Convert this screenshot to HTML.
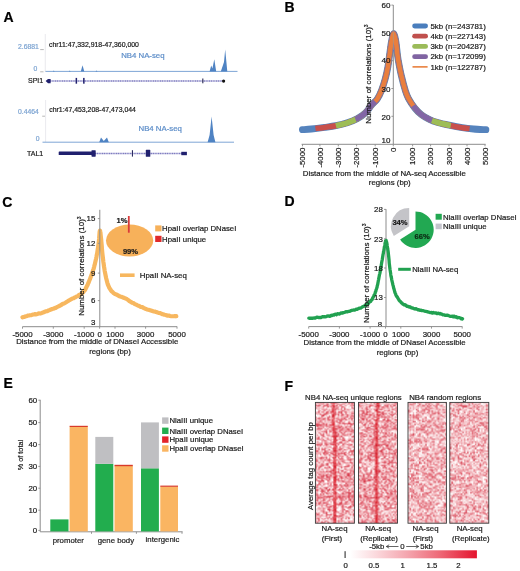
<!DOCTYPE html>
<html><head><meta charset="utf-8"><title>Figure</title>
<style>
html,body{margin:0;padding:0;background:#fff;}
body{width:520px;height:571px;overflow:hidden;}
svg{display:block;font-family:'Liberation Sans', sans-serif;will-change:transform;}
</style></head>
<body>
<svg width="520" height="571" viewBox="0 0 520 571" fill="#1a1a1a">
<rect width="520" height="571" fill="#fff"/>
<text x="3.6" y="21.8" font-size="14" fill="#000" stroke="#000" stroke-width="0.2" font-weight="bold">A</text>
<text x="284.6" y="11.9" font-size="14" fill="#000" stroke="#000" stroke-width="0.2" font-weight="bold">B</text>
<text x="2.2" y="206.6" font-size="14" fill="#000" stroke="#000" stroke-width="0.2" font-weight="bold">C</text>
<text x="284.6" y="206.3" font-size="14" fill="#000" stroke="#000" stroke-width="0.2" font-weight="bold">D</text>
<text x="3.6" y="388.4" font-size="14" fill="#000" stroke="#000" stroke-width="0.2" font-weight="bold">E</text>
<text x="284.4" y="391" font-size="14" fill="#000" stroke="#000" stroke-width="0.2" font-weight="bold">F</text>
<line x1="45.3" y1="34" x2="45.3" y2="72" stroke="#e4e4ea" stroke-width="0.8"/>
<text x="38.8" y="49.2" font-size="6.8" text-anchor="end" fill="#7da4d2" stroke="#7da4d2" stroke-width="0.2">2.6881</text>
<line x1="40.2" y1="49.6" x2="43.8" y2="49.6" stroke="#9a9a9a" stroke-width="0.7"/>
<text x="49" y="46.6" font-size="6.9" stroke="#1a1a1a" stroke-width="0.2">chr11:47,332,918-47,360,000</text>
<text x="121.2" y="58.2" font-size="7.8" fill="#5b8cc8" stroke="#5b8cc8" stroke-width="0.2">NB4 NA-seq</text>
<text x="37.2" y="70.6" font-size="6.8" text-anchor="end" fill="#7da4d2" stroke="#7da4d2" stroke-width="0.2">0</text>
<line x1="40.2" y1="71.8" x2="43.5" y2="71.8" stroke="#9a9a9a" stroke-width="0.7"/>
<line x1="45.5" y1="71.4" x2="237.5" y2="71.4" stroke="#6f9bd0" stroke-width="0.9"/>
<path d="M80.8,71.4 L82.5,65.2 L84.3,71.4 Z" fill="#4f83c3"/>
<path d="M53,71.4 L53.8,70.6 L54.6,71.4 Z" fill="#4f83c3"/>
<path d="M69,71.4 L69.8,70.6 L70.6,71.4 Z" fill="#4f83c3"/>
<path d="M95.5,71.4 L96.5,70.4 L97.5,71.4 Z" fill="#4f83c3"/>
<path d="M209.6,71.4 L211.2,65.6 L212.4,68.6 L214.3,59.2 L216.2,71.4 Z" fill="#4f83c3"/>
<path d="M220.8,71.4 L222.6,66.2 L224,62 L225.2,49.5 L226.4,62 L227.3,71.4 Z" fill="#4f83c3"/>
<text x="43.2" y="83.4" font-size="7.0" text-anchor="end" stroke="#1a1a1a" stroke-width="0.2">SPI1</text>
<line x1="48" y1="81.1" x2="224" y2="81.1" stroke="#7f7cc0" stroke-width="1.5" stroke-dasharray="1.3,0.45"/>
<path d="M45.6,81.1 L48,79 L50.6,79 L50.6,83.2 L48,83.2 Z" fill="#20206e"/>
<rect x="75.6" y="77.9" width="1.5" height="5.8" fill="#20206e"/>
<rect x="83.1" y="77.9" width="1.5" height="5.8" fill="#20206e"/>
<rect x="202.2" y="78.5" width="1.2" height="4.8" fill="#3a3a60"/>
<circle cx="223.6" cy="81.1" r="1.6" fill="#111"/>
<line x1="45.6" y1="100" x2="45.6" y2="142" stroke="#e4e4ea" stroke-width="0.8"/>
<text x="38.8" y="114.2" font-size="6.8" text-anchor="end" fill="#7da4d2" stroke="#7da4d2" stroke-width="0.2">0.4464</text>
<line x1="42.2" y1="116.2" x2="45" y2="116.2" stroke="#9a9a9a" stroke-width="0.7"/>
<text x="49.3" y="111.9" font-size="6.9" stroke="#1a1a1a" stroke-width="0.2">chr1:47,453,208-47,473,044</text>
<text x="138.5" y="130.8" font-size="7.8" fill="#5b8cc8" stroke="#5b8cc8" stroke-width="0.2">NB4 NA-seq</text>
<text x="39.6" y="141.2" font-size="6.8" text-anchor="end" fill="#7da4d2" stroke="#7da4d2" stroke-width="0.2">0</text>
<line x1="42.5" y1="142.2" x2="234" y2="142.2" stroke="#6f9bd0" stroke-width="0.9"/>
<path d="M99.2,142.2 L101,137.4 L103.8,141 L107,137.4 L108.8,142.2 Z" fill="#4f83c3"/>
<path d="M207.6,142.2 L209.6,135 L211.6,116.6 L213.6,135 L215.4,142.2 Z" fill="#4f83c3"/>
<text x="43.2" y="155.8" font-size="7.0" text-anchor="end" stroke="#1a1a1a" stroke-width="0.2">TAL1</text>
<line x1="95" y1="153.4" x2="182" y2="153.4" stroke="#7f7cc0" stroke-width="1.5" stroke-dasharray="1.3,0.45"/>
<rect x="58.7" y="151.5" width="33.5" height="3.6" fill="#20206e" rx="0.6"/>
<rect x="91.5" y="150.2" width="4.2" height="6.5" fill="#20206e" rx="0.6"/>
<rect x="131.9" y="150.2" width="1.1" height="6.4" fill="#2a2a60"/>
<rect x="145.8" y="149.8" width="4.5" height="7" fill="#20206e" rx="0.6"/>
<rect x="181.3" y="151.8" width="5.6" height="3.4" fill="#20206e"/>
<line x1="393.3" y1="5" x2="393.3" y2="144.3" stroke="#8c8c8c" stroke-width="1"/>
<line x1="391.4" y1="5.1" x2="393.3" y2="5.1" stroke="#8c8c8c" stroke-width="0.9"/>
<line x1="391.4" y1="32.9" x2="393.3" y2="32.9" stroke="#8c8c8c" stroke-width="0.9"/>
<line x1="391.4" y1="60.7" x2="393.3" y2="60.7" stroke="#8c8c8c" stroke-width="0.9"/>
<line x1="391.4" y1="88.5" x2="393.3" y2="88.5" stroke="#8c8c8c" stroke-width="0.9"/>
<line x1="391.4" y1="116.3" x2="393.3" y2="116.3" stroke="#8c8c8c" stroke-width="0.9"/>
<line x1="301.6" y1="144.3" x2="485.6" y2="144.3" stroke="#8c8c8c" stroke-width="1"/>
<line x1="302.5" y1="144.3" x2="302.5" y2="146.3" stroke="#8c8c8c" stroke-width="0.9"/>
<text x="305.2" y="147.6" font-size="7.8" text-anchor="end" stroke="#1a1a1a" stroke-width="0.2" transform="rotate(-90 305.2 147.6)">-5000</text>
<line x1="319.9" y1="144.3" x2="319.9" y2="146.3" stroke="#8c8c8c" stroke-width="0.9"/>
<text x="322.6" y="147.6" font-size="7.8" text-anchor="end" stroke="#1a1a1a" stroke-width="0.2" transform="rotate(-90 322.6 147.6)">-4000</text>
<line x1="338.3" y1="144.3" x2="338.3" y2="146.3" stroke="#8c8c8c" stroke-width="0.9"/>
<text x="341" y="147.6" font-size="7.8" text-anchor="end" stroke="#1a1a1a" stroke-width="0.2" transform="rotate(-90 341 147.6)">-3000</text>
<line x1="356.6" y1="144.3" x2="356.6" y2="146.3" stroke="#8c8c8c" stroke-width="0.9"/>
<text x="359.3" y="147.6" font-size="7.8" text-anchor="end" stroke="#1a1a1a" stroke-width="0.2" transform="rotate(-90 359.3 147.6)">-2000</text>
<line x1="375.2" y1="144.3" x2="375.2" y2="146.3" stroke="#8c8c8c" stroke-width="0.9"/>
<text x="377.9" y="147.6" font-size="7.8" text-anchor="end" stroke="#1a1a1a" stroke-width="0.2" transform="rotate(-90 377.9 147.6)">-1000</text>
<line x1="393.3" y1="144.3" x2="393.3" y2="146.3" stroke="#8c8c8c" stroke-width="0.9"/>
<text x="396" y="147.6" font-size="7.8" text-anchor="end" stroke="#1a1a1a" stroke-width="0.2" transform="rotate(-90 396 147.6)">0</text>
<line x1="412.6" y1="144.3" x2="412.6" y2="146.3" stroke="#8c8c8c" stroke-width="0.9"/>
<text x="415.3" y="147.6" font-size="7.8" text-anchor="end" stroke="#1a1a1a" stroke-width="0.2" transform="rotate(-90 415.3 147.6)">1000</text>
<line x1="430.6" y1="144.3" x2="430.6" y2="146.3" stroke="#8c8c8c" stroke-width="0.9"/>
<text x="433.3" y="147.6" font-size="7.8" text-anchor="end" stroke="#1a1a1a" stroke-width="0.2" transform="rotate(-90 433.3 147.6)">2000</text>
<line x1="449" y1="144.3" x2="449" y2="146.3" stroke="#8c8c8c" stroke-width="0.9"/>
<text x="451.7" y="147.6" font-size="7.8" text-anchor="end" stroke="#1a1a1a" stroke-width="0.2" transform="rotate(-90 451.7 147.6)">3000</text>
<line x1="467" y1="144.3" x2="467" y2="146.3" stroke="#8c8c8c" stroke-width="0.9"/>
<text x="469.7" y="147.6" font-size="7.8" text-anchor="end" stroke="#1a1a1a" stroke-width="0.2" transform="rotate(-90 469.7 147.6)">4000</text>
<line x1="485" y1="144.3" x2="485" y2="146.3" stroke="#8c8c8c" stroke-width="0.9"/>
<text x="487.7" y="147.6" font-size="7.8" text-anchor="end" stroke="#1a1a1a" stroke-width="0.2" transform="rotate(-90 487.7 147.6)">5000</text>
<text x="384.3" y="175.6" font-size="7.85" text-anchor="middle" stroke="#1a1a1a" stroke-width="0.2">Distance from the middle of NA-seq Accessible</text>
<text x="389.8" y="185.4" font-size="7.85" text-anchor="middle" stroke="#1a1a1a" stroke-width="0.2">regions (bp)</text>
<path d="M302.4,129.7 C303.88,129.58 307.63,129.38 311.3,129 C314.97,128.62 320.3,127.95 324.4,127.4 C328.5,126.85 332.08,126.47 335.9,125.7 C339.72,124.93 343.77,123.97 347.3,122.8 C350.83,121.63 354.1,120.33 357.1,118.7 C360.1,117.07 362.85,115.32 365.3,113 C367.75,110.68 369.82,107.12 371.8,104.8 C373.78,102.48 375.58,101.5 377.2,99.1 C378.82,96.7 380.15,93.82 381.5,90.4 C382.85,86.98 384.23,82.53 385.3,78.6 C386.37,74.67 387.18,70.82 387.9,66.8 C388.62,62.78 389,58.72 389.6,54.5 C390.2,50.28 390.82,44.98 391.5,41.5 C392.18,38.02 392.97,33.6 393.7,33.6 C394.43,33.6 395.3,38.18 395.9,41.5 C396.5,44.82 396.88,50.25 397.3,53.5 C397.72,56.75 397.73,57.35 398.4,61 C399.07,64.65 400.13,70.43 401.3,75.4 C402.47,80.37 404.22,86.98 405.4,90.8 C406.58,94.62 406.83,95.42 408.4,98.3 C409.97,101.18 412.65,105.38 414.8,108.1 C416.95,110.82 418.85,112.7 421.3,114.6 C423.75,116.5 426.77,118.18 429.5,119.5 C432.23,120.82 434.43,121.55 437.7,122.5 C440.97,123.45 445.02,124.33 449.1,125.2 C453.18,126.07 458.12,127.07 462.2,127.7 C466.28,128.33 469.65,128.67 473.6,129 C477.55,129.33 483.85,129.58 485.9,129.7" fill="none" stroke="#5583bd" stroke-width="6.8" stroke-linecap="round" stroke-linejoin="round"/>
<path d="M315.4,128.5 C316.9,128.32 320.98,127.87 324.4,127.4 C327.82,126.93 332.08,126.47 335.9,125.7 C339.72,124.93 343.77,123.97 347.3,122.8 C350.83,121.63 354.1,120.33 357.1,118.7 C360.1,117.07 362.85,115.32 365.3,113 C367.75,110.68 369.82,107.12 371.8,104.8 C373.78,102.48 375.58,101.5 377.2,99.1 C378.82,96.7 380.15,93.82 381.5,90.4 C382.85,86.98 384.23,82.53 385.3,78.6 C386.37,74.67 387.18,70.82 387.9,66.8 C388.62,62.78 389,58.72 389.6,54.5 C390.2,50.28 390.82,44.98 391.5,41.5 C392.18,38.02 392.97,33.6 393.7,33.6 C394.43,33.6 395.3,38.18 395.9,41.5 C396.5,44.82 396.88,50.25 397.3,53.5 C397.72,56.75 397.73,57.35 398.4,61 C399.07,64.65 400.13,70.43 401.3,75.4 C402.47,80.37 404.22,86.98 405.4,90.8 C406.58,94.62 406.83,95.42 408.4,98.3 C409.97,101.18 412.65,105.38 414.8,108.1 C416.95,110.82 418.85,112.7 421.3,114.6 C423.75,116.5 426.77,118.18 429.5,119.5 C432.23,120.82 434.43,121.55 437.7,122.5 C440.97,123.45 445.02,124.33 449.1,125.2 C453.18,126.07 458.78,127.14 462.2,127.7 C465.62,128.26 468.37,128.4 469.6,128.54" fill="none" stroke="#c8504c" stroke-width="5.6" stroke-linecap="butt"/>
<path d="M335.9,125.7 C337.8,125.22 343.77,123.97 347.3,122.8 C350.83,121.63 354.1,120.33 357.1,118.7 C360.1,117.07 362.85,115.32 365.3,113 C367.75,110.68 369.82,107.12 371.8,104.8 C373.78,102.48 375.58,101.5 377.2,99.1 C378.82,96.7 380.15,93.82 381.5,90.4 C382.85,86.98 384.23,82.53 385.3,78.6 C386.37,74.67 387.18,70.82 387.9,66.8 C388.62,62.78 389,58.72 389.6,54.5 C390.2,50.28 390.82,44.98 391.5,41.5 C392.18,38.02 392.97,33.6 393.7,33.6 C394.43,33.6 395.3,38.18 395.9,41.5 C396.5,44.82 396.88,50.25 397.3,53.5 C397.72,56.75 397.73,57.35 398.4,61 C399.07,64.65 400.13,70.43 401.3,75.4 C402.47,80.37 404.22,86.98 405.4,90.8 C406.58,94.62 406.83,95.42 408.4,98.3 C409.97,101.18 412.65,105.38 414.8,108.1 C416.95,110.82 418.85,112.7 421.3,114.6 C423.75,116.5 426.77,118.18 429.5,119.5 C432.23,120.82 434.43,121.55 437.7,122.5 C440.97,123.45 446.92,124.7 449.1,125.2 C451.28,125.7 450.52,125.47 450.8,125.52" fill="none" stroke="#9dbd56" stroke-width="5.6" stroke-linecap="butt"/>
<path d="M355.5,119.37 C355.77,119.26 355.47,119.76 357.1,118.7 C358.73,117.64 362.85,115.32 365.3,113 C367.75,110.68 369.82,107.12 371.8,104.8 C373.78,102.48 375.58,101.5 377.2,99.1 C378.82,96.7 380.15,93.82 381.5,90.4 C382.85,86.98 384.23,82.53 385.3,78.6 C386.37,74.67 387.18,70.82 387.9,66.8 C388.62,62.78 389,58.72 389.6,54.5 C390.2,50.28 390.82,44.98 391.5,41.5 C392.18,38.02 392.97,33.6 393.7,33.6 C394.43,33.6 395.3,38.18 395.9,41.5 C396.5,44.82 396.88,50.25 397.3,53.5 C397.72,56.75 397.73,57.35 398.4,61 C399.07,64.65 400.13,70.43 401.3,75.4 C402.47,80.37 404.22,86.98 405.4,90.8 C406.58,94.62 406.83,95.42 408.4,98.3 C409.97,101.18 412.65,105.38 414.8,108.1 C416.95,110.82 418.85,112.7 421.3,114.6 C423.75,116.5 427.72,118.53 429.5,119.5 C431.28,120.47 431.58,120.26 432,120.41" fill="none" stroke="#8266a6" stroke-width="5.6" stroke-linecap="butt"/>
<path d="M375,101.42 C375.37,101.04 376.12,100.94 377.2,99.1 C378.28,97.26 380.15,93.82 381.5,90.4 C382.85,86.98 384.23,82.53 385.3,78.6 C386.37,74.67 387.18,70.82 387.9,66.8 C388.62,62.78 389,58.72 389.6,54.5 C390.2,50.28 390.82,44.98 391.5,41.5 C392.18,38.02 392.97,33.6 393.7,33.6 C394.43,33.6 395.3,38.18 395.9,41.5 C396.5,44.82 396.88,50.25 397.3,53.5 C397.72,56.75 397.73,57.35 398.4,61 C399.07,64.65 400.13,70.43 401.3,75.4 C402.47,80.37 404.22,86.98 405.4,90.8 C406.58,94.62 407.1,95.83 408.4,98.3 C409.7,100.77 412.4,104.42 413.2,105.65" fill="none" stroke="#e97f3e" stroke-width="4.5" stroke-linecap="butt" stroke-linejoin="round"/>
<line x1="393.4" y1="30" x2="393.4" y2="50" stroke="#a09a90" stroke-width="0.6"/>
<text x="390.4" y="8.1" font-size="8.0" text-anchor="end" stroke="#1a1a1a" stroke-width="0.2">60</text>
<text x="390.4" y="36" font-size="8.0" text-anchor="end" stroke="#1a1a1a" stroke-width="0.2">50</text>
<text x="390.4" y="63.2" font-size="8.0" text-anchor="end" stroke="#1a1a1a" stroke-width="0.2">40</text>
<text x="390.4" y="91.6" font-size="8.0" text-anchor="end" stroke="#1a1a1a" stroke-width="0.2">30</text>
<text x="390.4" y="119.5" font-size="8.0" text-anchor="end" stroke="#1a1a1a" stroke-width="0.2">20</text>
<text x="390.4" y="142.8" font-size="8.0" text-anchor="end" stroke="#1a1a1a" stroke-width="0.2">10</text>
<text transform="translate(371.3,123.8) rotate(-90)" font-size="7.95" stroke="#1a1a1a" stroke-width="0.2">Number of correlations (10)<tspan font-size="5" dy="-3">3</tspan></text>
<line x1="414.6" y1="26" x2="425.6" y2="26" stroke="#4a7ebd" stroke-width="4.8" stroke-linecap="round"/>
<text x="430.4" y="28.8" font-size="7.88" stroke="#1a1a1a" stroke-width="0.2">5kb (n=243781)</text>
<line x1="414.6" y1="36.22" x2="425.6" y2="36.22" stroke="#c0504d" stroke-width="4.8" stroke-linecap="round"/>
<text x="430.4" y="39.02" font-size="7.88" stroke="#1a1a1a" stroke-width="0.2">4kb (n=227143)</text>
<line x1="414.6" y1="46.44" x2="425.6" y2="46.44" stroke="#9bbb59" stroke-width="4.8" stroke-linecap="round"/>
<text x="430.4" y="49.24" font-size="7.88" stroke="#1a1a1a" stroke-width="0.2">3kb (n=204287)</text>
<line x1="414.6" y1="56.66" x2="425.6" y2="56.66" stroke="#8064a2" stroke-width="4.8" stroke-linecap="round"/>
<text x="430.4" y="59.46" font-size="7.88" stroke="#1a1a1a" stroke-width="0.2">2kb (n=172099)</text>
<line x1="412.5" y1="66.88" x2="427.6" y2="66.88" stroke="#e9803e" stroke-width="1.6"/>
<text x="430.4" y="69.68" font-size="7.88" stroke="#1a1a1a" stroke-width="0.2">1kb (n=122787)</text>
<path d="M22.5,317.3 L23,317.13 L23.64,316.99 L24.39,316.93 L25.25,316.45 L26.18,316.19 L27.16,315.96 L28.18,315.49 L29.2,315.41 L30.26,315.24 L31.39,315.12 L32.58,314.57 L33.81,314.47 L35.07,314.15 L36.32,314.29 L37.58,313.98 L38.8,313.37 L40.01,313.53 L41.22,313.19 L42.44,312.68 L43.66,312.3 L44.87,311.68 L46.09,311.21 L47.3,311.05 L48.5,310.38 L49.7,310 L50.88,309.57 L52.07,309 L53.25,308.73 L54.43,308.22 L55.62,307.89 L56.8,307.18 L58,306.67 L59.21,305.99 L60.43,305.41 L61.66,304.63 L62.89,303.83 L64.11,303.48 L65.33,302.78 L66.52,302.02 L67.7,301.3 L68.87,300.48 L70.06,299.81 L71.25,299.21 L72.42,298.5 L73.55,298.26 L74.64,297.5 L75.66,297.18 L76.6,296.44 L77.46,296.26 L78.24,295.79 L78.96,294.99 L79.64,294.73 L80.27,294.72 L80.87,294.13 L81.44,293.98 L82,293.25 L82.53,292.62 L83.01,292.44 L83.45,292.05 L83.87,291.3 L84.27,290.69 L84.67,290.24 L85.08,289.93 L85.5,289.13 L85.93,288.05 L86.36,287.32 L86.78,286.4 L87.21,285.48 L87.64,284.89 L88.08,283.57 L88.53,282.68 L89,281.47 L89.5,280.11 L90.02,279.07 L90.56,277.38 L91.11,276.19 L91.66,274.44 L92.2,273.06 L92.71,271.41 L93.2,269.88 L93.66,268.66 L94.11,266.96 L94.55,265.07 L94.97,263.69 L95.38,261.65 L95.77,260.03 L96.14,258.52 L96.5,256.67 L96.84,254.61 L97.17,253.2 L97.49,250.93 L97.79,249.05 L98.07,247.43 L98.33,245.37 L98.58,243.58 L98.8,241.79 L98.99,240.07 L99.15,238.48 L99.29,236.45 L99.41,234.85 L99.53,233.15 L99.64,231.89 L99.76,231.24 L99.9,230.59 L100.05,230.76 L100.2,231.49 L100.36,232.1 L100.52,233.33 L100.68,235.19 L100.85,236.77 L101.02,238.18 L101.2,239.84 L101.38,241.9 L101.56,243.99 L101.73,245.76 L101.92,248.38 L102.11,250.66 L102.32,252.84 L102.55,255.04 L102.8,257.1 L103.07,259.27 L103.36,261.98 L103.67,263.89 L103.99,266.38 L104.32,268.37 L104.67,270.8 L105.03,272.73 L105.4,274.5 L105.77,276.24 L106.15,278.23 L106.54,279.54 L106.94,281.18 L107.36,282.82 L107.8,284.35 L108.28,285.54 L108.8,286.59 L109.33,288.02 L109.85,288.66 L110.39,289.46 L110.96,290.4 L111.59,291.25 L112.29,291.78 L113.09,292.54 L114,293.33 L115.05,294.1 L116.23,294.48 L117.52,295.15 L118.88,295.94 L120.27,296.5 L121.68,296.88 L123.06,297.47 L124.4,298.04 L125.69,298.51 L126.96,299.19 L128.22,299.94 L129.49,301.17 L130.77,301.85 L132.07,302.75 L133.41,303.04 L134.8,304.07 L136.24,304.69 L137.73,305.51 L139.25,305.99 L140.8,307 L142.36,307.19 L143.92,308.05 L145.47,308.75 L147,309.4 L148.53,309.85 L150.09,310.33 L151.66,310.85 L153.22,311.36 L154.75,311.5 L156.24,312.09 L157.66,312.6 L159,312.99 L160.25,313.16 L161.41,313.75 L162.51,314.19 L163.56,314.42 L164.59,314.81 L165.61,315.01 L166.64,315.4 L167.7,315.65 L168.84,315.57 L170.06,315.99 L171.31,316.26 L172.54,316.26 L173.71,316.23 L174.76,316.09 L175.64,316.29 L176.3,316.2" fill="none" stroke="#f7b75f" stroke-width="4.2" stroke-linecap="round" stroke-linejoin="round"/>
<line x1="99.8" y1="209.8" x2="99.8" y2="326.8" stroke="#8c8c8c" stroke-width="1"/>
<line x1="97.8" y1="218.6" x2="99.8" y2="218.6" stroke="#8c8c8c" stroke-width="0.9"/>
<text x="95.4" y="221.4" font-size="7.9" text-anchor="end" stroke="#1a1a1a" stroke-width="0.2">15</text>
<line x1="97.8" y1="243.3" x2="99.8" y2="243.3" stroke="#8c8c8c" stroke-width="0.9"/>
<text x="95.4" y="246.1" font-size="7.9" text-anchor="end" stroke="#1a1a1a" stroke-width="0.2">12</text>
<line x1="97.8" y1="273.1" x2="99.8" y2="273.1" stroke="#8c8c8c" stroke-width="0.9"/>
<text x="95.4" y="275.9" font-size="7.9" text-anchor="end" stroke="#1a1a1a" stroke-width="0.2">9</text>
<line x1="97.8" y1="300.6" x2="99.8" y2="300.6" stroke="#8c8c8c" stroke-width="0.9"/>
<text x="95.4" y="303.4" font-size="7.9" text-anchor="end" stroke="#1a1a1a" stroke-width="0.2">6</text>
<text x="95.4" y="325.4" font-size="7.9" text-anchor="end" stroke="#1a1a1a" stroke-width="0.2">3</text>
<line x1="22.5" y1="326.7" x2="177.2" y2="326.7" stroke="#8c8c8c" stroke-width="1"/>
<line x1="22.5" y1="326.7" x2="22.5" y2="328.7" stroke="#8c8c8c" stroke-width="0.9"/>
<text x="22.5" y="337" font-size="7.9" text-anchor="middle" stroke="#1a1a1a" stroke-width="0.2">-5000</text>
<line x1="53.3" y1="326.7" x2="53.3" y2="328.7" stroke="#8c8c8c" stroke-width="0.9"/>
<text x="53.3" y="337" font-size="7.9" text-anchor="middle" stroke="#1a1a1a" stroke-width="0.2">-3000</text>
<line x1="84.2" y1="326.7" x2="84.2" y2="328.7" stroke="#8c8c8c" stroke-width="0.9"/>
<text x="84.2" y="337" font-size="7.9" text-anchor="middle" stroke="#1a1a1a" stroke-width="0.2">-1000</text>
<line x1="99.6" y1="326.7" x2="99.6" y2="328.7" stroke="#8c8c8c" stroke-width="0.9"/>
<text x="99.6" y="337" font-size="7.9" text-anchor="middle" stroke="#1a1a1a" stroke-width="0.2">0</text>
<line x1="115" y1="326.7" x2="115" y2="328.7" stroke="#8c8c8c" stroke-width="0.9"/>
<text x="115" y="337" font-size="7.9" text-anchor="middle" stroke="#1a1a1a" stroke-width="0.2">1000</text>
<line x1="145.6" y1="326.7" x2="145.6" y2="328.7" stroke="#8c8c8c" stroke-width="0.9"/>
<text x="145.6" y="337" font-size="7.9" text-anchor="middle" stroke="#1a1a1a" stroke-width="0.2">3000</text>
<line x1="177" y1="326.7" x2="177" y2="328.7" stroke="#8c8c8c" stroke-width="0.9"/>
<text x="177" y="337" font-size="7.9" text-anchor="middle" stroke="#1a1a1a" stroke-width="0.2">5000</text>
<text x="97.2" y="344" font-size="7.8" text-anchor="middle" stroke="#1a1a1a" stroke-width="0.2">Distance from the middle of DNaseI Accessible</text>
<text x="110" y="353.6" font-size="7.8" text-anchor="middle" stroke="#1a1a1a" stroke-width="0.2">regions (bp)</text>
<text transform="translate(84.4,315.8) rotate(-90)" font-size="7.95" stroke="#1a1a1a" stroke-width="0.2">Number of correlations (10)<tspan font-size="5" dy="-3">3</tspan></text>
<ellipse cx="129.6" cy="240.5" rx="23.6" ry="15.9" fill="#f7b15a"/>
<line x1="128.8" y1="216" x2="128.8" y2="232.7" stroke="#d93a3a" stroke-width="1.8"/>
<text x="116.6" y="223.1" font-size="7.6" stroke="#1a1a1a" stroke-width="0.2" font-weight="bold">1%</text>
<text x="122.9" y="253.6" font-size="7.6" stroke="#1a1a1a" stroke-width="0.2" font-weight="bold">99%</text>
<rect x="155.2" y="225.4" width="6.3" height="6" fill="#f7b15a"/>
<rect x="155.2" y="235.8" width="6.3" height="6.2" fill="#e02a2a"/>
<text x="162.1" y="231.3" font-size="7.78" stroke="#1a1a1a" stroke-width="0.2">HpaII overlap DNaseI</text>
<text x="162.1" y="241.8" font-size="7.78" stroke="#1a1a1a" stroke-width="0.2">HpaII unique</text>
<line x1="120" y1="275.2" x2="134.6" y2="275.2" stroke="#f7b75f" stroke-width="3.6"/>
<text x="139.8" y="277.9" font-size="7.84" stroke="#1a1a1a" stroke-width="0.2">HpaII NA-seq</text>
<line x1="386" y1="209.1" x2="386" y2="327" stroke="#8c8c8c" stroke-width="1"/>
<path d="M308.8,318.2 L309.52,318.25 L310.48,318.27 L311.62,318.22 L312.89,318.25 L314.22,317.95 L315.55,318 L316.83,317.08 L318,317.37 L319.08,317.7 L320.15,317.35 L321.21,317.49 L322.25,316.69 L323.27,316.92 L324.27,316.61 L325.25,316.77 L326.2,316.67 L327.12,316.02 L327.99,316.05 L328.84,315.94 L329.67,316.34 L330.5,316.02 L331.32,315.29 L332.15,315.67 L333,314.87 L333.85,315.1 L334.68,314.46 L335.51,314.13 L336.35,314.7 L337.21,313.88 L338.09,313.65 L339.02,314.09 L340,313.74 L341.07,312.93 L342.22,313.22 L343.44,312.52 L344.67,312.31 L345.9,311.56 L347.09,311.91 L348.2,311.41 L349.2,311.42 L350.07,311.18 L350.82,310.53 L351.49,310.52 L352.12,310.28 L352.75,310.19 L353.42,310.02 L354.15,310.07 L355,310.09 L355.98,309.22 L357.09,309.42 L358.26,308.65 L359.47,308.12 L360.67,308.06 L361.82,307.24 L362.88,306.6 L363.8,306.28 L364.6,306.05 L365.3,305.04 L365.94,305.45 L366.51,304.18 L367.04,304.42 L367.54,304.1 L368.02,302.96 L368.5,303.26 L368.96,302.51 L369.37,302.36 L369.75,301.52 L370.11,301.23 L370.45,301.01 L370.79,301.33 L371.14,300.22 L371.5,300.23 L371.88,299.83 L372.26,299.25 L372.65,298.07 L373.03,297.4 L373.41,296.84 L373.79,296.32 L374.15,294.95 L374.5,294.72 L374.84,293.96 L375.16,293.19 L375.47,291.61 L375.78,291.56 L376.08,289.86 L376.39,289.09 L376.69,288.27 L377,287.38 L377.31,285.58 L377.63,284.72 L377.95,282.91 L378.26,281.17 L378.58,279.61 L378.89,277.89 L379.2,276.2 L379.5,274.68 L379.8,273.58 L380.1,272.23 L380.39,269.83 L380.68,268.06 L380.97,267.25 L381.25,265.2 L381.53,263.48 L381.8,261.76 L382.06,260.56 L382.32,259.28 L382.57,257.47 L382.81,255.99 L383.06,254.23 L383.3,253.6 L383.55,251.43 L383.8,250.49 L384.06,249.36 L384.32,247.12 L384.58,246.01 L384.84,244.62 L385.11,242.91 L385.37,241.9 L385.64,240.53 L385.9,240.54 L386.16,240.51 L386.43,241.78 L386.69,242.28 L386.96,243.71 L387.22,245.71 L387.48,247.25 L387.74,249.12 L388,250.46 L388.25,252.46 L388.5,254.95 L388.62,255.95 L388.74,257.02 L388.87,258.41 L388.99,259.46 L389.11,260.97 L389.23,262.82 L389.36,264.06 L389.48,265.02 L389.74,267.28 L390,269.25 L390.27,270.92 L390.54,272.83 L390.81,274.91 L391.09,276.52 L391.38,277.54 L391.68,279.37 L391.98,280.79 L392.3,282.18 L392.63,283.63 L392.97,285.21 L393.33,286.33 L393.69,288.08 L394.06,289.1 L394.43,290.61 L394.81,292.11 L395.2,293.17 L395.6,293.84 L396,295.35 L396.42,295.93 L396.84,296.65 L397.27,296.85 L397.69,298 L398.1,298.37 L398.5,299.35 L398.89,299.73 L399.26,300.56 L399.62,300.86 L399.99,301.41 L400.35,301.38 L400.72,302.02 L401.1,302.46 L401.5,302.9 L401.9,302.81 L402.3,303.58 L402.69,303.91 L403.1,304.04 L403.53,304.59 L403.98,304.85 L404.47,304.73 L405,305.03 L405.59,304.99 L406.24,305.88 L406.92,306.26 L407.63,306.13 L408.35,306.6 L409.06,306.89 L409.75,307.16 L410.4,306.9 L411,307.68 L411.57,307.71 L412.12,307.99 L412.66,307.96 L413.21,308.33 L413.77,308.65 L414.36,308.72 L415,309 L415.68,308.58 L416.39,308.92 L417.13,309.39 L417.88,309.79 L418.65,309.62 L419.43,310.25 L420.22,310.41 L421,310.09 L421.79,310.67 L422.59,310.65 L423.4,310.7 L424.22,310.96 L425.04,311.32 L425.86,311.38 L426.68,311.56 L427.5,311.58 L428.32,312.12 L429.14,312.18 L429.96,312.52 L430.78,312.62 L431.6,312.43 L432.41,313.14 L433.21,312.44 L434,312.91 L434.77,312.91 L435.54,313.12 L436.29,312.94 L437.03,313.67 L437.77,313.35 L438.51,313.14 L439.25,313.77 L440,313.44 L440.75,313.99 L441.49,313.97 L442.23,314.37 L442.97,314.89 L443.71,314.96 L444.46,314.78 L445.23,315.32 L446,315.33 L446.8,315.23 L447.62,315.17 L448.47,315.72 L449.31,315.83 L450.15,316.31 L450.97,316.45 L451.76,316.26 L452.5,316.17 L453.2,316.79 L453.86,316.12 L454.48,316.35 L455.09,316.89 L455.69,317.07 L456.29,316.78 L456.89,317.36 L457.5,317.75 L458.16,317.46 L458.87,317.7 L459.59,317.72 L460.31,317.98 L460.99,318.79 L461.6,318.43 L462.11,319.1 L462.5,318.8" fill="none" stroke="#21a150" stroke-width="3.3" stroke-linecap="round" stroke-linejoin="round"/>
<line x1="384" y1="209.4" x2="386" y2="209.4" stroke="#8c8c8c" stroke-width="0.9"/>
<text x="382.8" y="212.2" font-size="7.9" text-anchor="end" stroke="#1a1a1a" stroke-width="0.2">28</text>
<line x1="384" y1="238.8" x2="386" y2="238.8" stroke="#8c8c8c" stroke-width="0.9"/>
<text x="382.8" y="241.6" font-size="7.9" text-anchor="end" stroke="#1a1a1a" stroke-width="0.2">23</text>
<line x1="384" y1="268" x2="386" y2="268" stroke="#8c8c8c" stroke-width="0.9"/>
<text x="382.8" y="270.8" font-size="7.9" text-anchor="end" stroke="#1a1a1a" stroke-width="0.2">18</text>
<line x1="384" y1="297.5" x2="386" y2="297.5" stroke="#8c8c8c" stroke-width="0.9"/>
<text x="382.8" y="300.3" font-size="7.9" text-anchor="end" stroke="#1a1a1a" stroke-width="0.2">13</text>
<text x="382.2" y="326.6" font-size="7.9" text-anchor="end" stroke="#1a1a1a" stroke-width="0.2">8</text>
<line x1="308.7" y1="326.6" x2="462.4" y2="326.6" stroke="#8c8c8c" stroke-width="1"/>
<line x1="308.7" y1="326.6" x2="308.7" y2="328.6" stroke="#8c8c8c" stroke-width="0.9"/>
<text x="308.7" y="337" font-size="7.9" text-anchor="middle" stroke="#1a1a1a" stroke-width="0.2">-5000</text>
<line x1="339.4" y1="326.6" x2="339.4" y2="328.6" stroke="#8c8c8c" stroke-width="0.9"/>
<text x="339.4" y="337" font-size="7.9" text-anchor="middle" stroke="#1a1a1a" stroke-width="0.2">-3000</text>
<line x1="370.1" y1="326.6" x2="370.1" y2="328.6" stroke="#8c8c8c" stroke-width="0.9"/>
<text x="370.1" y="337" font-size="7.9" text-anchor="middle" stroke="#1a1a1a" stroke-width="0.2">-1000</text>
<line x1="385.5" y1="326.6" x2="385.5" y2="328.6" stroke="#8c8c8c" stroke-width="0.9"/>
<text x="385.5" y="337" font-size="7.9" text-anchor="middle" stroke="#1a1a1a" stroke-width="0.2">0</text>
<line x1="400.8" y1="326.6" x2="400.8" y2="328.6" stroke="#8c8c8c" stroke-width="0.9"/>
<text x="400.8" y="337" font-size="7.9" text-anchor="middle" stroke="#1a1a1a" stroke-width="0.2">1000</text>
<line x1="431.5" y1="326.6" x2="431.5" y2="328.6" stroke="#8c8c8c" stroke-width="0.9"/>
<text x="431.5" y="337" font-size="7.9" text-anchor="middle" stroke="#1a1a1a" stroke-width="0.2">3000</text>
<line x1="462.2" y1="326.6" x2="462.2" y2="328.6" stroke="#8c8c8c" stroke-width="0.9"/>
<text x="462.2" y="337" font-size="7.9" text-anchor="middle" stroke="#1a1a1a" stroke-width="0.2">5000</text>
<text x="384.6" y="345.4" font-size="7.8" text-anchor="middle" stroke="#1a1a1a" stroke-width="0.2">Distance from the middle of DNaseI Accessible</text>
<text x="397.5" y="355" font-size="7.8" text-anchor="middle" stroke="#1a1a1a" stroke-width="0.2">regions (bp)</text>
<text transform="translate(369.4,322.9) rotate(-90)" font-size="7.95" stroke="#1a1a1a" stroke-width="0.2">Number of correlations (10)<tspan font-size="5" dy="-3">3</tspan></text>
<path d="M415.5,229.7 L415.5,211.5 A18.2,18.2 0 1 1 400.13,239.45 Z" fill="#22a852"/>
<path d="M409.19,226.23 L393.82,235.98 A18.2,18.2 0 0 1 409.19,208.03 Z" fill="#c4c4c8"/>
<text x="392.4" y="224.6" font-size="7.6" stroke="#1a1a1a" stroke-width="0.2" font-weight="bold">34%</text>
<text x="414.6" y="238.8" font-size="7.6" fill="#0c2a14" stroke="#0c2a14" stroke-width="0.2" font-weight="bold">66%</text>
<rect x="435.6" y="213.8" width="6.2" height="5.9" fill="#22a852"/>
<rect x="435.6" y="223.6" width="6.2" height="5.6" fill="#c4c4cc"/>
<text x="443" y="219.6" font-size="7.75" stroke="#1a1a1a" stroke-width="0.2">NlaIII overlap DNaseI</text>
<text x="443" y="229.1" font-size="7.75" stroke="#1a1a1a" stroke-width="0.2">NlaIII unique</text>
<line x1="398.2" y1="269.3" x2="410.8" y2="269.3" stroke="#21a150" stroke-width="3.0"/>
<text x="412.3" y="272.3" font-size="7.72" stroke="#1a1a1a" stroke-width="0.2">NlaIII NA-seq</text>
<line x1="40.2" y1="399.8" x2="40.2" y2="531.8" stroke="#8c8c8c" stroke-width="1"/>
<line x1="38.3" y1="400.2" x2="40.2" y2="400.2" stroke="#8c8c8c" stroke-width="0.9"/>
<text x="37.2" y="403" font-size="7.9" text-anchor="end" stroke="#1a1a1a" stroke-width="0.2">60</text>
<line x1="38.3" y1="422.6" x2="40.2" y2="422.6" stroke="#8c8c8c" stroke-width="0.9"/>
<text x="37.2" y="425.4" font-size="7.9" text-anchor="end" stroke="#1a1a1a" stroke-width="0.2">50</text>
<line x1="38.3" y1="444.6" x2="40.2" y2="444.6" stroke="#8c8c8c" stroke-width="0.9"/>
<text x="37.2" y="447.4" font-size="7.9" text-anchor="end" stroke="#1a1a1a" stroke-width="0.2">40</text>
<line x1="38.3" y1="466.4" x2="40.2" y2="466.4" stroke="#8c8c8c" stroke-width="0.9"/>
<text x="37.2" y="469.2" font-size="7.9" text-anchor="end" stroke="#1a1a1a" stroke-width="0.2">30</text>
<line x1="38.3" y1="488.2" x2="40.2" y2="488.2" stroke="#8c8c8c" stroke-width="0.9"/>
<text x="37.2" y="491" font-size="7.9" text-anchor="end" stroke="#1a1a1a" stroke-width="0.2">20</text>
<line x1="38.3" y1="510.2" x2="40.2" y2="510.2" stroke="#8c8c8c" stroke-width="0.9"/>
<text x="37.2" y="513" font-size="7.9" text-anchor="end" stroke="#1a1a1a" stroke-width="0.2">10</text>
<line x1="38.3" y1="530.4" x2="40.2" y2="530.4" stroke="#8c8c8c" stroke-width="0.9"/>
<text x="37.2" y="533.2" font-size="7.9" text-anchor="end" stroke="#1a1a1a" stroke-width="0.2">0</text>
<line x1="40.2" y1="531.8" x2="182.6" y2="531.8" stroke="#8c8c8c" stroke-width="1"/>
<line x1="91.5" y1="531.8" x2="91.5" y2="533.8" stroke="#8c8c8c" stroke-width="0.9"/>
<line x1="136.4" y1="531.8" x2="136.4" y2="533.8" stroke="#8c8c8c" stroke-width="0.9"/>
<line x1="182" y1="531.8" x2="182" y2="533.8" stroke="#8c8c8c" stroke-width="0.9"/>
<text x="68.3" y="542.6" font-size="7.8" text-anchor="middle" stroke="#1a1a1a" stroke-width="0.2">promoter</text>
<text x="115.9" y="542.6" font-size="7.8" text-anchor="middle" stroke="#1a1a1a" stroke-width="0.2">gene body</text>
<text x="162.5" y="542.4" font-size="7.8" text-anchor="middle" stroke="#1a1a1a" stroke-width="0.2">intergenic</text>
<text transform="translate(23.4,470.3) rotate(-90)" font-size="7.3" stroke="#1a1a1a" stroke-width="0.2">% of total</text>
<rect x="50.3" y="519.4" width="18.2" height="12" fill="#22ad4e"/>
<rect x="69.6" y="426.8" width="18.2" height="104.6" fill="#fab562"/>
<rect x="69.6" y="425.8" width="18.2" height="1.2" fill="#d83a2a"/>
<rect x="95.3" y="463.8" width="18" height="67.6" fill="#22ad4e"/>
<rect x="95.3" y="436.9" width="18" height="26.9" fill="#bfbfc2"/>
<rect x="114.5" y="466" width="18.3" height="65.4" fill="#fab562"/>
<rect x="114.5" y="464.8" width="18.3" height="1.4" fill="#d83a2a"/>
<rect x="141" y="468.3" width="17.9" height="63.1" fill="#22ad4e"/>
<rect x="141" y="422.4" width="17.9" height="45.9" fill="#bfbfc2"/>
<rect x="160.3" y="486.6" width="17.7" height="44.8" fill="#fab562"/>
<rect x="160.3" y="485.6" width="17.7" height="1.2" fill="#d83a2a"/>
<rect x="162.1" y="417.4" width="6.4" height="6.4" fill="#bfbfc2"/>
<text x="169.4" y="423.4" font-size="7.78" stroke="#1a1a1a" stroke-width="0.2">NlaIII unique</text>
<rect x="162.1" y="427.6" width="6.4" height="6.4" fill="#22ad4e"/>
<text x="169.4" y="433.6" font-size="7.78" stroke="#1a1a1a" stroke-width="0.2">NlaIII overlap DNaseI</text>
<rect x="162.1" y="436.4" width="6.4" height="6.4" fill="#e3232a"/>
<text x="169.4" y="442.4" font-size="7.78" stroke="#1a1a1a" stroke-width="0.2">HpaII unique</text>
<rect x="162.1" y="445.3" width="6.4" height="6.4" fill="#fab562"/>
<text x="169.4" y="451.3" font-size="7.78" stroke="#1a1a1a" stroke-width="0.2">HpaII overlap DNaseI</text>
<text x="305.1" y="400.4" font-size="7.8" stroke="#1a1a1a" stroke-width="0.2">NB4 NA-seq unique regions</text>
<text x="409.2" y="400.4" font-size="7.85" stroke="#1a1a1a" stroke-width="0.2">NB4 random regions</text>
<text transform="translate(312.6,510.0) rotate(-90)" font-size="7.85" stroke="#1a1a1a" stroke-width="0.2">Average tag count per bp</text>
<defs>
<pattern id="h1" x="315.4" y="402.4" width="39" height="121" patternUnits="userSpaceOnUse">
<rect width="39" height="121" fill="#f4c4c8"/>
<path fill="#fadcdf" d="M0 0h1.5v1.3h-1.5zM6 0h1.5v1.3h-1.5zM12 0h1.5v1.3h-1.5zM27 0h1.5v1.3h-1.5zM4.5 1.3h1.5v1.3h-1.5zM15 1.3h1.5v1.3h-1.5zM34.5 1.3h1.5v1.3h-1.5zM37.5 1.3h1.5v1.3h-1.5zM0 3.9h1.5v1.3h-1.5zM10.5 3.9h1.5v1.3h-1.5zM13.5 3.9h1.5v1.3h-1.5zM1.5 5.2h1.5v1.3h-1.5zM6 5.2h1.5v1.3h-1.5zM7.5 5.2h1.5v1.3h-1.5zM22.5 5.2h1.5v1.3h-1.5zM30 5.2h1.5v1.3h-1.5zM12 6.5h1.5v1.3h-1.5zM15 6.5h1.5v1.3h-1.5zM24 6.5h1.5v1.3h-1.5zM37.5 6.5h1.5v1.3h-1.5zM22.5 7.8h1.5v1.3h-1.5zM24 7.8h1.5v1.3h-1.5zM31.5 7.8h1.5v1.3h-1.5zM13.5 9.1h1.5v1.3h-1.5zM31.5 9.1h1.5v1.3h-1.5zM24 10.4h1.5v1.3h-1.5zM33 10.4h1.5v1.3h-1.5zM34.5 10.4h1.5v1.3h-1.5zM3 11.7h1.5v1.3h-1.5zM12 11.7h1.5v1.3h-1.5zM37.5 11.7h1.5v1.3h-1.5zM19.5 13h1.5v1.3h-1.5zM24 13h1.5v1.3h-1.5zM28.5 13h1.5v1.3h-1.5zM9 14.3h1.5v1.3h-1.5zM10.5 14.3h1.5v1.3h-1.5zM15 14.3h1.5v1.3h-1.5zM36 14.3h1.5v1.3h-1.5zM10.5 15.6h1.5v1.3h-1.5zM13.5 15.6h1.5v1.3h-1.5zM10.5 16.9h1.5v1.3h-1.5zM28.5 16.9h1.5v1.3h-1.5zM33 16.9h1.5v1.3h-1.5zM34.5 16.9h1.5v1.3h-1.5zM0 18.2h1.5v1.3h-1.5zM10.5 18.2h1.5v1.3h-1.5zM13.5 18.2h1.5v1.3h-1.5zM34.5 18.2h1.5v1.3h-1.5zM36 18.2h1.5v1.3h-1.5zM9 19.5h1.5v1.3h-1.5zM10.5 19.5h1.5v1.3h-1.5zM25.5 19.5h1.5v1.3h-1.5zM28.5 19.5h1.5v1.3h-1.5zM31.5 19.5h1.5v1.3h-1.5zM34.5 19.5h1.5v1.3h-1.5zM4.5 20.8h1.5v1.3h-1.5zM12 20.8h1.5v1.3h-1.5zM15 20.8h1.5v1.3h-1.5zM12 22.1h1.5v1.3h-1.5zM19.5 22.1h1.5v1.3h-1.5zM24 22.1h1.5v1.3h-1.5zM25.5 22.1h1.5v1.3h-1.5zM37.5 22.1h1.5v1.3h-1.5zM0 23.4h1.5v1.3h-1.5zM3 23.4h1.5v1.3h-1.5zM9 23.4h1.5v1.3h-1.5zM16.5 23.4h1.5v1.3h-1.5zM27 23.4h1.5v1.3h-1.5zM28.5 23.4h1.5v1.3h-1.5zM10.5 24.7h1.5v1.3h-1.5zM12 24.7h1.5v1.3h-1.5zM1.5 27.3h1.5v1.3h-1.5zM7.5 27.3h1.5v1.3h-1.5zM22.5 27.3h1.5v1.3h-1.5zM0 28.6h1.5v1.3h-1.5zM3 28.6h1.5v1.3h-1.5zM9 29.9h1.5v1.3h-1.5zM22.5 29.9h1.5v1.3h-1.5zM31.5 29.9h1.5v1.3h-1.5zM33 29.9h1.5v1.3h-1.5zM34.5 29.9h1.5v1.3h-1.5zM1.5 31.2h1.5v1.3h-1.5zM13.5 31.2h1.5v1.3h-1.5zM25.5 31.2h1.5v1.3h-1.5zM0 32.5h1.5v1.3h-1.5zM15 32.5h1.5v1.3h-1.5zM33 32.5h1.5v1.3h-1.5zM1.5 33.8h1.5v1.3h-1.5zM6 33.8h1.5v1.3h-1.5zM12 33.8h1.5v1.3h-1.5zM13.5 33.8h1.5v1.3h-1.5zM9 35.1h1.5v1.3h-1.5zM15 35.1h1.5v1.3h-1.5zM22.5 35.1h1.5v1.3h-1.5zM28.5 35.1h1.5v1.3h-1.5zM33 35.1h1.5v1.3h-1.5zM34.5 35.1h1.5v1.3h-1.5zM36 35.1h1.5v1.3h-1.5zM37.5 35.1h1.5v1.3h-1.5zM31.5 36.4h1.5v1.3h-1.5zM36 36.4h1.5v1.3h-1.5zM0 39h1.5v1.3h-1.5zM7.5 39h1.5v1.3h-1.5zM22.5 39h1.5v1.3h-1.5zM28.5 39h1.5v1.3h-1.5zM1.5 40.3h1.5v1.3h-1.5zM13.5 41.6h1.5v1.3h-1.5zM21 41.6h1.5v1.3h-1.5zM9 42.9h1.5v1.3h-1.5zM12 42.9h1.5v1.3h-1.5zM24 42.9h1.5v1.3h-1.5zM36 42.9h1.5v1.3h-1.5zM6 44.2h1.5v1.3h-1.5zM9 44.2h1.5v1.3h-1.5zM12 45.5h1.5v1.3h-1.5zM1.5 46.8h1.5v1.3h-1.5zM27 46.8h1.5v1.3h-1.5zM3 48.1h1.5v1.3h-1.5zM4.5 48.1h1.5v1.3h-1.5zM25.5 48.1h1.5v1.3h-1.5zM30 48.1h1.5v1.3h-1.5zM33 48.1h1.5v1.3h-1.5zM6 49.4h1.5v1.3h-1.5zM24 49.4h1.5v1.3h-1.5zM34.5 49.4h1.5v1.3h-1.5zM30 50.7h1.5v1.3h-1.5zM0 52h1.5v1.3h-1.5zM12 52h1.5v1.3h-1.5zM25.5 52h1.5v1.3h-1.5zM9 53.3h1.5v1.3h-1.5zM10.5 53.3h1.5v1.3h-1.5zM30 53.3h1.5v1.3h-1.5zM34.5 53.3h1.5v1.3h-1.5zM30 54.6h1.5v1.3h-1.5zM34.5 54.6h1.5v1.3h-1.5zM37.5 54.6h1.5v1.3h-1.5zM1.5 55.9h1.5v1.3h-1.5zM9 55.9h1.5v1.3h-1.5zM21 55.9h1.5v1.3h-1.5zM7.5 57.2h1.5v1.3h-1.5zM37.5 57.2h1.5v1.3h-1.5zM3 58.5h1.5v1.3h-1.5zM6 58.5h1.5v1.3h-1.5zM10.5 58.5h1.5v1.3h-1.5zM12 58.5h1.5v1.3h-1.5zM24 58.5h1.5v1.3h-1.5zM4.5 59.8h1.5v1.3h-1.5zM21 59.8h1.5v1.3h-1.5zM37.5 59.8h1.5v1.3h-1.5zM1.5 61.1h1.5v1.3h-1.5zM3 61.1h1.5v1.3h-1.5zM9 61.1h1.5v1.3h-1.5zM16.5 61.1h1.5v1.3h-1.5zM25.5 61.1h1.5v1.3h-1.5zM3 62.4h1.5v1.3h-1.5zM9 62.4h1.5v1.3h-1.5zM24 62.4h1.5v1.3h-1.5zM30 62.4h1.5v1.3h-1.5zM36 62.4h1.5v1.3h-1.5zM1.5 63.7h1.5v1.3h-1.5zM16.5 63.7h1.5v1.3h-1.5zM27 63.7h1.5v1.3h-1.5zM37.5 63.7h1.5v1.3h-1.5zM7.5 65h1.5v1.3h-1.5zM21 65h1.5v1.3h-1.5zM22.5 65h1.5v1.3h-1.5zM30 65h1.5v1.3h-1.5zM37.5 65h1.5v1.3h-1.5zM7.5 66.3h1.5v1.3h-1.5zM21 66.3h1.5v1.3h-1.5zM24 66.3h1.5v1.3h-1.5zM6 67.6h1.5v1.3h-1.5zM24 67.6h1.5v1.3h-1.5zM33 67.6h1.5v1.3h-1.5zM4.5 70.2h1.5v1.3h-1.5zM7.5 70.2h1.5v1.3h-1.5zM21 70.2h1.5v1.3h-1.5zM25.5 70.2h1.5v1.3h-1.5zM27 70.2h1.5v1.3h-1.5zM36 70.2h1.5v1.3h-1.5zM9 71.5h1.5v1.3h-1.5zM21 71.5h1.5v1.3h-1.5zM34.5 71.5h1.5v1.3h-1.5zM3 72.8h1.5v1.3h-1.5zM16.5 72.8h1.5v1.3h-1.5zM27 72.8h1.5v1.3h-1.5zM31.5 74.1h1.5v1.3h-1.5zM1.5 75.4h1.5v1.3h-1.5zM15 75.4h1.5v1.3h-1.5zM16.5 75.4h1.5v1.3h-1.5zM21 75.4h1.5v1.3h-1.5zM24 75.4h1.5v1.3h-1.5zM4.5 76.7h1.5v1.3h-1.5zM7.5 76.7h1.5v1.3h-1.5zM9 76.7h1.5v1.3h-1.5zM15 76.7h1.5v1.3h-1.5zM24 76.7h1.5v1.3h-1.5zM31.5 76.7h1.5v1.3h-1.5zM15 78h1.5v1.3h-1.5zM21 78h1.5v1.3h-1.5zM15 79.3h1.5v1.3h-1.5zM24 79.3h1.5v1.3h-1.5zM4.5 80.6h1.5v1.3h-1.5zM6 80.6h1.5v1.3h-1.5zM13.5 80.6h1.5v1.3h-1.5zM21 80.6h1.5v1.3h-1.5zM24 80.6h1.5v1.3h-1.5zM12 83.2h1.5v1.3h-1.5zM24 83.2h1.5v1.3h-1.5zM37.5 83.2h1.5v1.3h-1.5zM3 84.5h1.5v1.3h-1.5zM22.5 84.5h1.5v1.3h-1.5zM24 84.5h1.5v1.3h-1.5zM36 84.5h1.5v1.3h-1.5zM7.5 85.8h1.5v1.3h-1.5zM22.5 85.8h1.5v1.3h-1.5zM37.5 85.8h1.5v1.3h-1.5zM4.5 87.1h1.5v1.3h-1.5zM15 87.1h1.5v1.3h-1.5zM0 88.4h1.5v1.3h-1.5zM7.5 89.7h1.5v1.3h-1.5zM15 89.7h1.5v1.3h-1.5zM28.5 89.7h1.5v1.3h-1.5zM6 91h1.5v1.3h-1.5zM24 91h1.5v1.3h-1.5zM31.5 91h1.5v1.3h-1.5zM12 92.3h1.5v1.3h-1.5zM13.5 92.3h1.5v1.3h-1.5zM0 93.6h1.5v1.3h-1.5zM16.5 94.9h1.5v1.3h-1.5zM34.5 94.9h1.5v1.3h-1.5zM10.5 96.2h1.5v1.3h-1.5zM28.5 96.2h1.5v1.3h-1.5zM36 96.2h1.5v1.3h-1.5zM22.5 97.5h1.5v1.3h-1.5zM24 97.5h1.5v1.3h-1.5zM36 97.5h1.5v1.3h-1.5zM0 98.8h1.5v1.3h-1.5zM9 98.8h1.5v1.3h-1.5zM21 98.8h1.5v1.3h-1.5zM24 98.8h1.5v1.3h-1.5zM28.5 98.8h1.5v1.3h-1.5zM1.5 100.1h1.5v1.3h-1.5zM6 100.1h1.5v1.3h-1.5zM22.5 100.1h1.5v1.3h-1.5zM27 100.1h1.5v1.3h-1.5zM4.5 101.4h1.5v1.3h-1.5zM7.5 101.4h1.5v1.3h-1.5zM15 101.4h1.5v1.3h-1.5zM1.5 102.7h1.5v1.3h-1.5zM24 102.7h1.5v1.3h-1.5zM36 102.7h1.5v1.3h-1.5zM16.5 104h1.5v1.3h-1.5zM21 104h1.5v1.3h-1.5zM22.5 104h1.5v1.3h-1.5zM31.5 104h1.5v1.3h-1.5zM37.5 104h1.5v1.3h-1.5zM6 105.3h1.5v1.3h-1.5zM10.5 105.3h1.5v1.3h-1.5zM1.5 106.6h1.5v1.3h-1.5zM9 106.6h1.5v1.3h-1.5zM34.5 106.6h1.5v1.3h-1.5zM15 107.9h1.5v1.3h-1.5zM3 109.2h1.5v1.3h-1.5zM4.5 109.2h1.5v1.3h-1.5zM15 109.2h1.5v1.3h-1.5zM28.5 109.2h1.5v1.3h-1.5zM22.5 110.5h1.5v1.3h-1.5zM27 110.5h1.5v1.3h-1.5zM4.5 111.8h1.5v1.3h-1.5zM16.5 111.8h1.5v1.3h-1.5zM22.5 111.8h1.5v1.3h-1.5zM31.5 111.8h1.5v1.3h-1.5zM33 111.8h1.5v1.3h-1.5zM36 111.8h1.5v1.3h-1.5zM1.5 113.1h1.5v1.3h-1.5zM15 113.1h1.5v1.3h-1.5zM16.5 113.1h1.5v1.3h-1.5zM28.5 113.1h1.5v1.3h-1.5zM31.5 113.1h1.5v1.3h-1.5zM34.5 113.1h1.5v1.3h-1.5zM21 114.4h1.5v1.3h-1.5zM24 114.4h1.5v1.3h-1.5zM25.5 114.4h1.5v1.3h-1.5zM10.5 115.7h1.5v1.3h-1.5zM22.5 115.7h1.5v1.3h-1.5zM27 115.7h1.5v1.3h-1.5zM28.5 115.7h1.5v1.3h-1.5zM12 117h1.5v1.3h-1.5zM13.5 117h1.5v1.3h-1.5zM24 117h1.5v1.3h-1.5zM27 117h1.5v1.3h-1.5zM31.5 117h1.5v1.3h-1.5zM0 119.6h1.5v1.3h-1.5zM15 119.6h1.5v1.3h-1.5zM24 119.6h1.5v1.3h-1.5zM31.5 119.6h1.5v1.3h-1.5z"/>
<path fill="#e26472" d="M1.5 0h1.5v1.3h-1.5zM4.5 0h1.5v1.3h-1.5zM7.5 0h1.5v1.3h-1.5zM21 0h1.5v1.3h-1.5zM37.5 0h1.5v1.3h-1.5zM6 1.3h1.5v1.3h-1.5zM10.5 1.3h1.5v1.3h-1.5zM25.5 1.3h1.5v1.3h-1.5zM27 1.3h1.5v1.3h-1.5zM36 1.3h1.5v1.3h-1.5zM0 2.6h1.5v1.3h-1.5zM1.5 2.6h1.5v1.3h-1.5zM7.5 2.6h1.5v1.3h-1.5zM10.5 2.6h1.5v1.3h-1.5zM12 2.6h1.5v1.3h-1.5zM24 2.6h1.5v1.3h-1.5zM37.5 2.6h1.5v1.3h-1.5zM7.5 3.9h1.5v1.3h-1.5zM15 3.9h1.5v1.3h-1.5zM25.5 3.9h1.5v1.3h-1.5zM25.5 5.2h1.5v1.3h-1.5zM9 6.5h1.5v1.3h-1.5zM10.5 6.5h1.5v1.3h-1.5zM25.5 6.5h1.5v1.3h-1.5zM31.5 6.5h1.5v1.3h-1.5zM3 7.8h1.5v1.3h-1.5zM6 9.1h1.5v1.3h-1.5zM12 9.1h1.5v1.3h-1.5zM19.5 9.1h1.5v1.3h-1.5zM24 9.1h1.5v1.3h-1.5zM28.5 9.1h1.5v1.3h-1.5zM30 9.1h1.5v1.3h-1.5zM0 10.4h1.5v1.3h-1.5zM19.5 10.4h1.5v1.3h-1.5zM37.5 10.4h1.5v1.3h-1.5zM4.5 11.7h1.5v1.3h-1.5zM9 11.7h1.5v1.3h-1.5zM19.5 11.7h1.5v1.3h-1.5zM25.5 11.7h1.5v1.3h-1.5zM13.5 13h1.5v1.3h-1.5zM25.5 13h1.5v1.3h-1.5zM31.5 13h1.5v1.3h-1.5zM37.5 13h1.5v1.3h-1.5zM6 14.3h1.5v1.3h-1.5zM13.5 14.3h1.5v1.3h-1.5zM30 14.3h1.5v1.3h-1.5zM31.5 14.3h1.5v1.3h-1.5zM9 15.6h1.5v1.3h-1.5zM21 15.6h1.5v1.3h-1.5zM25.5 15.6h1.5v1.3h-1.5zM33 15.6h1.5v1.3h-1.5zM12 16.9h1.5v1.3h-1.5zM22.5 16.9h1.5v1.3h-1.5zM24 16.9h1.5v1.3h-1.5zM25.5 16.9h1.5v1.3h-1.5zM36 16.9h1.5v1.3h-1.5zM19.5 18.2h1.5v1.3h-1.5zM24 18.2h1.5v1.3h-1.5zM25.5 18.2h1.5v1.3h-1.5zM37.5 18.2h1.5v1.3h-1.5zM3 19.5h1.5v1.3h-1.5zM6 19.5h1.5v1.3h-1.5zM24 19.5h1.5v1.3h-1.5zM0 20.8h1.5v1.3h-1.5zM1.5 20.8h1.5v1.3h-1.5zM10.5 20.8h1.5v1.3h-1.5zM24 20.8h1.5v1.3h-1.5zM27 20.8h1.5v1.3h-1.5zM30 20.8h1.5v1.3h-1.5zM31.5 20.8h1.5v1.3h-1.5zM36 20.8h1.5v1.3h-1.5zM6 22.1h1.5v1.3h-1.5zM13.5 22.1h1.5v1.3h-1.5zM34.5 22.1h1.5v1.3h-1.5zM36 22.1h1.5v1.3h-1.5zM10.5 23.4h1.5v1.3h-1.5zM19.5 23.4h1.5v1.3h-1.5zM21 23.4h1.5v1.3h-1.5zM24 23.4h1.5v1.3h-1.5zM3 24.7h1.5v1.3h-1.5zM22.5 24.7h1.5v1.3h-1.5zM27 24.7h1.5v1.3h-1.5zM30 24.7h1.5v1.3h-1.5zM3 26h1.5v1.3h-1.5zM4.5 26h1.5v1.3h-1.5zM6 26h1.5v1.3h-1.5zM12 26h1.5v1.3h-1.5zM16.5 26h1.5v1.3h-1.5zM25.5 26h1.5v1.3h-1.5zM27 26h1.5v1.3h-1.5zM33 26h1.5v1.3h-1.5zM10.5 27.3h1.5v1.3h-1.5zM25.5 27.3h1.5v1.3h-1.5zM31.5 27.3h1.5v1.3h-1.5zM9 28.6h1.5v1.3h-1.5zM13.5 28.6h1.5v1.3h-1.5zM15 28.6h1.5v1.3h-1.5zM24 28.6h1.5v1.3h-1.5zM30 28.6h1.5v1.3h-1.5zM34.5 28.6h1.5v1.3h-1.5zM36 28.6h1.5v1.3h-1.5zM3 29.9h1.5v1.3h-1.5zM16.5 29.9h1.5v1.3h-1.5zM21 29.9h1.5v1.3h-1.5zM28.5 29.9h1.5v1.3h-1.5zM7.5 32.5h1.5v1.3h-1.5zM12 32.5h1.5v1.3h-1.5zM16.5 32.5h1.5v1.3h-1.5zM22.5 32.5h1.5v1.3h-1.5zM30 32.5h1.5v1.3h-1.5zM3 33.8h1.5v1.3h-1.5zM7.5 33.8h1.5v1.3h-1.5zM1.5 35.1h1.5v1.3h-1.5zM6 35.1h1.5v1.3h-1.5zM3 36.4h1.5v1.3h-1.5zM4.5 36.4h1.5v1.3h-1.5zM21 36.4h1.5v1.3h-1.5zM24 36.4h1.5v1.3h-1.5zM27 36.4h1.5v1.3h-1.5zM28.5 36.4h1.5v1.3h-1.5zM34.5 36.4h1.5v1.3h-1.5zM21 37.7h1.5v1.3h-1.5zM28.5 37.7h1.5v1.3h-1.5zM1.5 39h1.5v1.3h-1.5zM24 39h1.5v1.3h-1.5zM25.5 39h1.5v1.3h-1.5zM31.5 39h1.5v1.3h-1.5zM36 39h1.5v1.3h-1.5zM6 40.3h1.5v1.3h-1.5zM10.5 40.3h1.5v1.3h-1.5zM13.5 40.3h1.5v1.3h-1.5zM15 40.3h1.5v1.3h-1.5zM25.5 40.3h1.5v1.3h-1.5zM28.5 40.3h1.5v1.3h-1.5zM0 41.6h1.5v1.3h-1.5zM3 41.6h1.5v1.3h-1.5zM4.5 41.6h1.5v1.3h-1.5zM6 41.6h1.5v1.3h-1.5zM15 41.6h1.5v1.3h-1.5zM22.5 41.6h1.5v1.3h-1.5zM31.5 41.6h1.5v1.3h-1.5zM4.5 42.9h1.5v1.3h-1.5zM21 42.9h1.5v1.3h-1.5zM21 44.2h1.5v1.3h-1.5zM31.5 44.2h1.5v1.3h-1.5zM0 45.5h1.5v1.3h-1.5zM6 45.5h1.5v1.3h-1.5zM24 45.5h1.5v1.3h-1.5zM34.5 45.5h1.5v1.3h-1.5zM3 46.8h1.5v1.3h-1.5zM6 46.8h1.5v1.3h-1.5zM7.5 46.8h1.5v1.3h-1.5zM9 46.8h1.5v1.3h-1.5zM22.5 46.8h1.5v1.3h-1.5zM21 48.1h1.5v1.3h-1.5zM27 48.1h1.5v1.3h-1.5zM10.5 49.4h1.5v1.3h-1.5zM12 49.4h1.5v1.3h-1.5zM13.5 49.4h1.5v1.3h-1.5zM15 49.4h1.5v1.3h-1.5zM25.5 49.4h1.5v1.3h-1.5zM30 49.4h1.5v1.3h-1.5zM36 49.4h1.5v1.3h-1.5zM0 50.7h1.5v1.3h-1.5zM10.5 50.7h1.5v1.3h-1.5zM15 50.7h1.5v1.3h-1.5zM24 50.7h1.5v1.3h-1.5zM25.5 50.7h1.5v1.3h-1.5zM27 50.7h1.5v1.3h-1.5zM36 50.7h1.5v1.3h-1.5zM4.5 52h1.5v1.3h-1.5zM9 52h1.5v1.3h-1.5zM22.5 52h1.5v1.3h-1.5zM34.5 52h1.5v1.3h-1.5zM37.5 52h1.5v1.3h-1.5zM24 53.3h1.5v1.3h-1.5zM7.5 54.6h1.5v1.3h-1.5zM25.5 54.6h1.5v1.3h-1.5zM33 54.6h1.5v1.3h-1.5zM0 55.9h1.5v1.3h-1.5zM4.5 55.9h1.5v1.3h-1.5zM13.5 55.9h1.5v1.3h-1.5zM25.5 55.9h1.5v1.3h-1.5zM27 55.9h1.5v1.3h-1.5zM31.5 55.9h1.5v1.3h-1.5zM34.5 55.9h1.5v1.3h-1.5zM15 57.2h1.5v1.3h-1.5zM21 57.2h1.5v1.3h-1.5zM1.5 58.5h1.5v1.3h-1.5zM7.5 58.5h1.5v1.3h-1.5zM13.5 58.5h1.5v1.3h-1.5zM22.5 58.5h1.5v1.3h-1.5zM25.5 58.5h1.5v1.3h-1.5zM34.5 58.5h1.5v1.3h-1.5zM3 59.8h1.5v1.3h-1.5zM15 59.8h1.5v1.3h-1.5zM16.5 59.8h1.5v1.3h-1.5zM22.5 59.8h1.5v1.3h-1.5zM28.5 59.8h1.5v1.3h-1.5zM0 61.1h1.5v1.3h-1.5zM6 61.1h1.5v1.3h-1.5zM0 62.4h1.5v1.3h-1.5zM4.5 62.4h1.5v1.3h-1.5zM10.5 62.4h1.5v1.3h-1.5zM12 62.4h1.5v1.3h-1.5zM31.5 62.4h1.5v1.3h-1.5zM37.5 62.4h1.5v1.3h-1.5zM25.5 63.7h1.5v1.3h-1.5zM31.5 63.7h1.5v1.3h-1.5zM36 63.7h1.5v1.3h-1.5zM10.5 65h1.5v1.3h-1.5zM13.5 65h1.5v1.3h-1.5zM36 65h1.5v1.3h-1.5zM3 66.3h1.5v1.3h-1.5zM6 66.3h1.5v1.3h-1.5zM16.5 66.3h1.5v1.3h-1.5zM30 66.3h1.5v1.3h-1.5zM15 67.6h1.5v1.3h-1.5zM34.5 67.6h1.5v1.3h-1.5zM37.5 67.6h1.5v1.3h-1.5zM4.5 68.9h1.5v1.3h-1.5zM7.5 68.9h1.5v1.3h-1.5zM28.5 68.9h1.5v1.3h-1.5zM30 68.9h1.5v1.3h-1.5zM34.5 68.9h1.5v1.3h-1.5zM1.5 70.2h1.5v1.3h-1.5zM15 70.2h1.5v1.3h-1.5zM28.5 70.2h1.5v1.3h-1.5zM34.5 70.2h1.5v1.3h-1.5zM37.5 70.2h1.5v1.3h-1.5zM0 71.5h1.5v1.3h-1.5zM4.5 71.5h1.5v1.3h-1.5zM7.5 71.5h1.5v1.3h-1.5zM12 71.5h1.5v1.3h-1.5zM36 71.5h1.5v1.3h-1.5zM6 72.8h1.5v1.3h-1.5zM21 72.8h1.5v1.3h-1.5zM24 72.8h1.5v1.3h-1.5zM34.5 72.8h1.5v1.3h-1.5zM3 74.1h1.5v1.3h-1.5zM7.5 74.1h1.5v1.3h-1.5zM13.5 74.1h1.5v1.3h-1.5zM24 74.1h1.5v1.3h-1.5zM37.5 74.1h1.5v1.3h-1.5zM0 75.4h1.5v1.3h-1.5zM4.5 75.4h1.5v1.3h-1.5zM6 75.4h1.5v1.3h-1.5zM9 75.4h1.5v1.3h-1.5zM27 75.4h1.5v1.3h-1.5zM31.5 75.4h1.5v1.3h-1.5zM36 75.4h1.5v1.3h-1.5zM10.5 76.7h1.5v1.3h-1.5zM13.5 76.7h1.5v1.3h-1.5zM21 76.7h1.5v1.3h-1.5zM22.5 76.7h1.5v1.3h-1.5zM1.5 78h1.5v1.3h-1.5zM4.5 78h1.5v1.3h-1.5zM22.5 78h1.5v1.3h-1.5zM25.5 78h1.5v1.3h-1.5zM16.5 79.3h1.5v1.3h-1.5zM27 79.3h1.5v1.3h-1.5zM28.5 79.3h1.5v1.3h-1.5zM31.5 79.3h1.5v1.3h-1.5zM33 79.3h1.5v1.3h-1.5zM12 80.6h1.5v1.3h-1.5zM15 80.6h1.5v1.3h-1.5zM4.5 81.9h1.5v1.3h-1.5zM7.5 81.9h1.5v1.3h-1.5zM15 81.9h1.5v1.3h-1.5zM34.5 81.9h1.5v1.3h-1.5zM13.5 83.2h1.5v1.3h-1.5zM28.5 83.2h1.5v1.3h-1.5zM31.5 83.2h1.5v1.3h-1.5zM12 84.5h1.5v1.3h-1.5zM25.5 84.5h1.5v1.3h-1.5zM4.5 85.8h1.5v1.3h-1.5zM16.5 85.8h1.5v1.3h-1.5zM31.5 85.8h1.5v1.3h-1.5zM24 87.1h1.5v1.3h-1.5zM4.5 88.4h1.5v1.3h-1.5zM9 88.4h1.5v1.3h-1.5zM28.5 88.4h1.5v1.3h-1.5zM33 88.4h1.5v1.3h-1.5zM6 89.7h1.5v1.3h-1.5zM16.5 89.7h1.5v1.3h-1.5zM21 89.7h1.5v1.3h-1.5zM27 89.7h1.5v1.3h-1.5zM30 89.7h1.5v1.3h-1.5zM0 91h1.5v1.3h-1.5zM10.5 91h1.5v1.3h-1.5zM12 91h1.5v1.3h-1.5zM34.5 91h1.5v1.3h-1.5zM37.5 91h1.5v1.3h-1.5zM0 92.3h1.5v1.3h-1.5zM4.5 92.3h1.5v1.3h-1.5zM16.5 92.3h1.5v1.3h-1.5zM24 92.3h1.5v1.3h-1.5zM36 92.3h1.5v1.3h-1.5zM37.5 92.3h1.5v1.3h-1.5zM1.5 93.6h1.5v1.3h-1.5zM7.5 93.6h1.5v1.3h-1.5zM9 93.6h1.5v1.3h-1.5zM16.5 93.6h1.5v1.3h-1.5zM28.5 93.6h1.5v1.3h-1.5zM31.5 93.6h1.5v1.3h-1.5zM36 93.6h1.5v1.3h-1.5zM37.5 93.6h1.5v1.3h-1.5zM1.5 94.9h1.5v1.3h-1.5zM4.5 94.9h1.5v1.3h-1.5zM13.5 94.9h1.5v1.3h-1.5zM21 94.9h1.5v1.3h-1.5zM25.5 94.9h1.5v1.3h-1.5zM36 94.9h1.5v1.3h-1.5zM1.5 96.2h1.5v1.3h-1.5zM9 96.2h1.5v1.3h-1.5zM21 96.2h1.5v1.3h-1.5zM24 96.2h1.5v1.3h-1.5zM25.5 96.2h1.5v1.3h-1.5zM27 96.2h1.5v1.3h-1.5zM33 96.2h1.5v1.3h-1.5zM37.5 96.2h1.5v1.3h-1.5zM0 97.5h1.5v1.3h-1.5zM12 97.5h1.5v1.3h-1.5zM16.5 97.5h1.5v1.3h-1.5zM33 97.5h1.5v1.3h-1.5zM37.5 97.5h1.5v1.3h-1.5zM4.5 98.8h1.5v1.3h-1.5zM25.5 98.8h1.5v1.3h-1.5zM31.5 98.8h1.5v1.3h-1.5zM36 98.8h1.5v1.3h-1.5zM37.5 98.8h1.5v1.3h-1.5zM4.5 100.1h1.5v1.3h-1.5zM30 100.1h1.5v1.3h-1.5zM25.5 101.4h1.5v1.3h-1.5zM28.5 101.4h1.5v1.3h-1.5zM30 101.4h1.5v1.3h-1.5zM36 101.4h1.5v1.3h-1.5zM10.5 102.7h1.5v1.3h-1.5zM16.5 102.7h1.5v1.3h-1.5zM12 104h1.5v1.3h-1.5zM25.5 104h1.5v1.3h-1.5zM27 104h1.5v1.3h-1.5zM33 105.3h1.5v1.3h-1.5zM27 106.6h1.5v1.3h-1.5zM7.5 107.9h1.5v1.3h-1.5zM16.5 107.9h1.5v1.3h-1.5zM27 107.9h1.5v1.3h-1.5zM21 109.2h1.5v1.3h-1.5zM22.5 109.2h1.5v1.3h-1.5zM27 109.2h1.5v1.3h-1.5zM33 109.2h1.5v1.3h-1.5zM3 110.5h1.5v1.3h-1.5zM24 110.5h1.5v1.3h-1.5zM25.5 110.5h1.5v1.3h-1.5zM6 111.8h1.5v1.3h-1.5zM12 111.8h1.5v1.3h-1.5zM13.5 111.8h1.5v1.3h-1.5zM34.5 111.8h1.5v1.3h-1.5zM10.5 113.1h1.5v1.3h-1.5zM25.5 113.1h1.5v1.3h-1.5zM37.5 113.1h1.5v1.3h-1.5zM27 114.4h1.5v1.3h-1.5zM1.5 115.7h1.5v1.3h-1.5zM6 115.7h1.5v1.3h-1.5zM9 115.7h1.5v1.3h-1.5zM12 115.7h1.5v1.3h-1.5zM30 115.7h1.5v1.3h-1.5zM0 118.3h1.5v1.3h-1.5zM6 118.3h1.5v1.3h-1.5zM25.5 118.3h1.5v1.3h-1.5zM33 118.3h1.5v1.3h-1.5zM1.5 119.6h1.5v1.3h-1.5zM7.5 119.6h1.5v1.3h-1.5zM33 119.6h1.5v1.3h-1.5z"/>
<path fill="#ea8a94" d="M3 0h1.5v1.3h-1.5zM28.5 0h1.5v1.3h-1.5zM0 1.3h1.5v1.3h-1.5zM16.5 1.3h1.5v1.3h-1.5zM24 1.3h1.5v1.3h-1.5zM31.5 1.3h1.5v1.3h-1.5zM4.5 2.6h1.5v1.3h-1.5zM19.5 2.6h1.5v1.3h-1.5zM25.5 2.6h1.5v1.3h-1.5zM30 2.6h1.5v1.3h-1.5zM34.5 2.6h1.5v1.3h-1.5zM36 2.6h1.5v1.3h-1.5zM16.5 3.9h1.5v1.3h-1.5zM22.5 3.9h1.5v1.3h-1.5zM36 3.9h1.5v1.3h-1.5zM19.5 5.2h1.5v1.3h-1.5zM6 6.5h1.5v1.3h-1.5zM7.5 6.5h1.5v1.3h-1.5zM13.5 6.5h1.5v1.3h-1.5zM22.5 6.5h1.5v1.3h-1.5zM33 6.5h1.5v1.3h-1.5zM7.5 7.8h1.5v1.3h-1.5zM9 7.8h1.5v1.3h-1.5zM25.5 7.8h1.5v1.3h-1.5zM7.5 9.1h1.5v1.3h-1.5zM4.5 10.4h1.5v1.3h-1.5zM12 10.4h1.5v1.3h-1.5zM15 10.4h1.5v1.3h-1.5zM22.5 10.4h1.5v1.3h-1.5zM6 11.7h1.5v1.3h-1.5zM22.5 13h1.5v1.3h-1.5zM28.5 14.3h1.5v1.3h-1.5zM37.5 14.3h1.5v1.3h-1.5zM1.5 15.6h1.5v1.3h-1.5zM4.5 15.6h1.5v1.3h-1.5zM22.5 15.6h1.5v1.3h-1.5zM27 15.6h1.5v1.3h-1.5zM6 16.9h1.5v1.3h-1.5zM7.5 16.9h1.5v1.3h-1.5zM27 16.9h1.5v1.3h-1.5zM1.5 18.2h1.5v1.3h-1.5zM9 18.2h1.5v1.3h-1.5zM15 19.5h1.5v1.3h-1.5zM21 19.5h1.5v1.3h-1.5zM3 20.8h1.5v1.3h-1.5zM7.5 22.1h1.5v1.3h-1.5zM9 22.1h1.5v1.3h-1.5zM22.5 22.1h1.5v1.3h-1.5zM4.5 23.4h1.5v1.3h-1.5zM6 23.4h1.5v1.3h-1.5zM7.5 23.4h1.5v1.3h-1.5zM12 23.4h1.5v1.3h-1.5zM13.5 23.4h1.5v1.3h-1.5zM33 23.4h1.5v1.3h-1.5zM7.5 24.7h1.5v1.3h-1.5zM13.5 24.7h1.5v1.3h-1.5zM9 26h1.5v1.3h-1.5zM36 26h1.5v1.3h-1.5zM19.5 27.3h1.5v1.3h-1.5zM27 27.3h1.5v1.3h-1.5zM30 27.3h1.5v1.3h-1.5zM6 28.6h1.5v1.3h-1.5zM7.5 28.6h1.5v1.3h-1.5zM28.5 28.6h1.5v1.3h-1.5zM37.5 28.6h1.5v1.3h-1.5zM37.5 29.9h1.5v1.3h-1.5zM10.5 31.2h1.5v1.3h-1.5zM16.5 31.2h1.5v1.3h-1.5zM31.5 31.2h1.5v1.3h-1.5zM1.5 32.5h1.5v1.3h-1.5zM13.5 32.5h1.5v1.3h-1.5zM25.5 32.5h1.5v1.3h-1.5zM31.5 32.5h1.5v1.3h-1.5zM34.5 32.5h1.5v1.3h-1.5zM37.5 32.5h1.5v1.3h-1.5zM24 33.8h1.5v1.3h-1.5zM12 35.1h1.5v1.3h-1.5zM24 35.1h1.5v1.3h-1.5zM25.5 36.4h1.5v1.3h-1.5zM33 36.4h1.5v1.3h-1.5zM37.5 36.4h1.5v1.3h-1.5zM6 37.7h1.5v1.3h-1.5zM15 37.7h1.5v1.3h-1.5zM34.5 37.7h1.5v1.3h-1.5zM36 37.7h1.5v1.3h-1.5zM37.5 37.7h1.5v1.3h-1.5zM16.5 39h1.5v1.3h-1.5zM37.5 39h1.5v1.3h-1.5zM4.5 40.3h1.5v1.3h-1.5zM16.5 40.3h1.5v1.3h-1.5zM22.5 40.3h1.5v1.3h-1.5zM27 40.3h1.5v1.3h-1.5zM9 41.6h1.5v1.3h-1.5zM12 41.6h1.5v1.3h-1.5zM33 41.6h1.5v1.3h-1.5zM1.5 42.9h1.5v1.3h-1.5zM7.5 42.9h1.5v1.3h-1.5zM10.5 42.9h1.5v1.3h-1.5zM25.5 42.9h1.5v1.3h-1.5zM33 42.9h1.5v1.3h-1.5zM13.5 44.2h1.5v1.3h-1.5zM27 44.2h1.5v1.3h-1.5zM21 45.5h1.5v1.3h-1.5zM30 46.8h1.5v1.3h-1.5zM34.5 46.8h1.5v1.3h-1.5zM10.5 48.1h1.5v1.3h-1.5zM16.5 48.1h1.5v1.3h-1.5zM3 49.4h1.5v1.3h-1.5zM16.5 49.4h1.5v1.3h-1.5zM21 49.4h1.5v1.3h-1.5zM4.5 50.7h1.5v1.3h-1.5zM9 50.7h1.5v1.3h-1.5zM12 50.7h1.5v1.3h-1.5zM16.5 52h1.5v1.3h-1.5zM33 52h1.5v1.3h-1.5zM36 52h1.5v1.3h-1.5zM15 53.3h1.5v1.3h-1.5zM25.5 53.3h1.5v1.3h-1.5zM13.5 54.6h1.5v1.3h-1.5zM31.5 54.6h1.5v1.3h-1.5zM6 55.9h1.5v1.3h-1.5zM10.5 55.9h1.5v1.3h-1.5zM36 55.9h1.5v1.3h-1.5zM37.5 55.9h1.5v1.3h-1.5zM1.5 57.2h1.5v1.3h-1.5zM25.5 57.2h1.5v1.3h-1.5zM27 57.2h1.5v1.3h-1.5zM28.5 57.2h1.5v1.3h-1.5zM31.5 57.2h1.5v1.3h-1.5zM13.5 59.8h1.5v1.3h-1.5zM24 59.8h1.5v1.3h-1.5zM30 59.8h1.5v1.3h-1.5zM31.5 59.8h1.5v1.3h-1.5zM21 61.1h1.5v1.3h-1.5zM22.5 61.1h1.5v1.3h-1.5zM36 61.1h1.5v1.3h-1.5zM16.5 62.4h1.5v1.3h-1.5zM3 63.7h1.5v1.3h-1.5zM24 63.7h1.5v1.3h-1.5zM33 63.7h1.5v1.3h-1.5zM12 65h1.5v1.3h-1.5zM0 66.3h1.5v1.3h-1.5zM34.5 66.3h1.5v1.3h-1.5zM10.5 67.6h1.5v1.3h-1.5zM22.5 67.6h1.5v1.3h-1.5zM36 67.6h1.5v1.3h-1.5zM0 68.9h1.5v1.3h-1.5zM6 68.9h1.5v1.3h-1.5zM12 68.9h1.5v1.3h-1.5zM21 68.9h1.5v1.3h-1.5zM25.5 68.9h1.5v1.3h-1.5zM22.5 70.2h1.5v1.3h-1.5zM13.5 71.5h1.5v1.3h-1.5zM15 71.5h1.5v1.3h-1.5zM37.5 71.5h1.5v1.3h-1.5zM4.5 72.8h1.5v1.3h-1.5zM9 72.8h1.5v1.3h-1.5zM13.5 72.8h1.5v1.3h-1.5zM22.5 72.8h1.5v1.3h-1.5zM28.5 72.8h1.5v1.3h-1.5zM4.5 74.1h1.5v1.3h-1.5zM21 74.1h1.5v1.3h-1.5zM33 74.1h1.5v1.3h-1.5zM34.5 74.1h1.5v1.3h-1.5zM7.5 75.4h1.5v1.3h-1.5zM10.5 75.4h1.5v1.3h-1.5zM12 76.7h1.5v1.3h-1.5zM28.5 76.7h1.5v1.3h-1.5zM33 76.7h1.5v1.3h-1.5zM34.5 76.7h1.5v1.3h-1.5zM36 76.7h1.5v1.3h-1.5zM37.5 76.7h1.5v1.3h-1.5zM24 78h1.5v1.3h-1.5zM33 78h1.5v1.3h-1.5zM30 79.3h1.5v1.3h-1.5zM34.5 79.3h1.5v1.3h-1.5zM37.5 79.3h1.5v1.3h-1.5zM9 80.6h1.5v1.3h-1.5zM3 81.9h1.5v1.3h-1.5zM1.5 83.2h1.5v1.3h-1.5zM15 83.2h1.5v1.3h-1.5zM16.5 83.2h1.5v1.3h-1.5zM21 83.2h1.5v1.3h-1.5zM33 83.2h1.5v1.3h-1.5zM1.5 84.5h1.5v1.3h-1.5zM4.5 84.5h1.5v1.3h-1.5zM7.5 84.5h1.5v1.3h-1.5zM37.5 84.5h1.5v1.3h-1.5zM6 85.8h1.5v1.3h-1.5zM36 85.8h1.5v1.3h-1.5zM7.5 87.1h1.5v1.3h-1.5zM30 88.4h1.5v1.3h-1.5zM0 89.7h1.5v1.3h-1.5zM9 89.7h1.5v1.3h-1.5zM13.5 89.7h1.5v1.3h-1.5zM37.5 89.7h1.5v1.3h-1.5zM1.5 91h1.5v1.3h-1.5zM15 91h1.5v1.3h-1.5zM22.5 91h1.5v1.3h-1.5zM25.5 91h1.5v1.3h-1.5zM28.5 91h1.5v1.3h-1.5zM6 92.3h1.5v1.3h-1.5zM31.5 92.3h1.5v1.3h-1.5zM34.5 92.3h1.5v1.3h-1.5zM3 93.6h1.5v1.3h-1.5zM4.5 93.6h1.5v1.3h-1.5zM21 93.6h1.5v1.3h-1.5zM25.5 93.6h1.5v1.3h-1.5zM30 93.6h1.5v1.3h-1.5zM34.5 93.6h1.5v1.3h-1.5zM0 94.9h1.5v1.3h-1.5zM7.5 94.9h1.5v1.3h-1.5zM10.5 94.9h1.5v1.3h-1.5zM22.5 94.9h1.5v1.3h-1.5zM27 94.9h1.5v1.3h-1.5zM30 94.9h1.5v1.3h-1.5zM37.5 94.9h1.5v1.3h-1.5zM13.5 96.2h1.5v1.3h-1.5zM15 96.2h1.5v1.3h-1.5zM6 97.5h1.5v1.3h-1.5zM9 97.5h1.5v1.3h-1.5zM27 97.5h1.5v1.3h-1.5zM28.5 97.5h1.5v1.3h-1.5zM10.5 98.8h1.5v1.3h-1.5zM12 98.8h1.5v1.3h-1.5zM15 98.8h1.5v1.3h-1.5zM10.5 100.1h1.5v1.3h-1.5zM28.5 100.1h1.5v1.3h-1.5zM36 100.1h1.5v1.3h-1.5zM37.5 100.1h1.5v1.3h-1.5zM0 101.4h1.5v1.3h-1.5zM6 101.4h1.5v1.3h-1.5zM13.5 101.4h1.5v1.3h-1.5zM27 101.4h1.5v1.3h-1.5zM31.5 101.4h1.5v1.3h-1.5zM0 102.7h1.5v1.3h-1.5zM6 102.7h1.5v1.3h-1.5zM9 102.7h1.5v1.3h-1.5zM15 102.7h1.5v1.3h-1.5zM6 104h1.5v1.3h-1.5zM10.5 104h1.5v1.3h-1.5zM28.5 104h1.5v1.3h-1.5zM36 104h1.5v1.3h-1.5zM3 105.3h1.5v1.3h-1.5zM4.5 105.3h1.5v1.3h-1.5zM9 105.3h1.5v1.3h-1.5zM12 105.3h1.5v1.3h-1.5zM13.5 105.3h1.5v1.3h-1.5zM21 105.3h1.5v1.3h-1.5zM34.5 105.3h1.5v1.3h-1.5zM7.5 106.6h1.5v1.3h-1.5zM15 106.6h1.5v1.3h-1.5zM37.5 106.6h1.5v1.3h-1.5zM6 107.9h1.5v1.3h-1.5zM30 109.2h1.5v1.3h-1.5zM1.5 110.5h1.5v1.3h-1.5zM7.5 110.5h1.5v1.3h-1.5zM9 110.5h1.5v1.3h-1.5zM33 110.5h1.5v1.3h-1.5zM3 111.8h1.5v1.3h-1.5zM25.5 111.8h1.5v1.3h-1.5zM0 113.1h1.5v1.3h-1.5zM4.5 113.1h1.5v1.3h-1.5zM22.5 113.1h1.5v1.3h-1.5zM10.5 114.4h1.5v1.3h-1.5zM12 114.4h1.5v1.3h-1.5zM22.5 114.4h1.5v1.3h-1.5zM30 114.4h1.5v1.3h-1.5zM31.5 114.4h1.5v1.3h-1.5zM0 115.7h1.5v1.3h-1.5zM16.5 115.7h1.5v1.3h-1.5zM37.5 115.7h1.5v1.3h-1.5zM16.5 117h1.5v1.3h-1.5zM25.5 117h1.5v1.3h-1.5zM27 118.3h1.5v1.3h-1.5zM36 118.3h1.5v1.3h-1.5zM4.5 119.6h1.5v1.3h-1.5zM9 119.6h1.5v1.3h-1.5zM16.5 119.6h1.5v1.3h-1.5zM22.5 119.6h1.5v1.3h-1.5zM28.5 119.6h1.5v1.3h-1.5zM30 119.6h1.5v1.3h-1.5zM37.5 119.6h1.5v1.3h-1.5z"/>
<path fill="#f2aab2" d="M9 0h1.5v1.3h-1.5zM34.5 0h1.5v1.3h-1.5zM7.5 1.3h1.5v1.3h-1.5zM21 1.3h1.5v1.3h-1.5zM28.5 1.3h1.5v1.3h-1.5zM33 1.3h1.5v1.3h-1.5zM13.5 2.6h1.5v1.3h-1.5zM15 2.6h1.5v1.3h-1.5zM6 3.9h1.5v1.3h-1.5zM19.5 3.9h1.5v1.3h-1.5zM21 3.9h1.5v1.3h-1.5zM3 5.2h1.5v1.3h-1.5zM4.5 5.2h1.5v1.3h-1.5zM10.5 5.2h1.5v1.3h-1.5zM34.5 6.5h1.5v1.3h-1.5zM4.5 7.8h1.5v1.3h-1.5zM12 7.8h1.5v1.3h-1.5zM13.5 7.8h1.5v1.3h-1.5zM19.5 7.8h1.5v1.3h-1.5zM1.5 9.1h1.5v1.3h-1.5zM36 9.1h1.5v1.3h-1.5zM37.5 9.1h1.5v1.3h-1.5zM3 10.4h1.5v1.3h-1.5zM30 11.7h1.5v1.3h-1.5zM34.5 11.7h1.5v1.3h-1.5zM36 11.7h1.5v1.3h-1.5zM27 13h1.5v1.3h-1.5zM34.5 13h1.5v1.3h-1.5zM3 14.3h1.5v1.3h-1.5zM4.5 14.3h1.5v1.3h-1.5zM21 14.3h1.5v1.3h-1.5zM0 15.6h1.5v1.3h-1.5zM6 15.6h1.5v1.3h-1.5zM19.5 15.6h1.5v1.3h-1.5zM30 15.6h1.5v1.3h-1.5zM34.5 15.6h1.5v1.3h-1.5zM4.5 16.9h1.5v1.3h-1.5zM9 16.9h1.5v1.3h-1.5zM15 16.9h1.5v1.3h-1.5zM21 16.9h1.5v1.3h-1.5zM3 18.2h1.5v1.3h-1.5zM6 18.2h1.5v1.3h-1.5zM28.5 18.2h1.5v1.3h-1.5zM33 18.2h1.5v1.3h-1.5zM1.5 19.5h1.5v1.3h-1.5zM37.5 19.5h1.5v1.3h-1.5zM6 20.8h1.5v1.3h-1.5zM9 20.8h1.5v1.3h-1.5zM25.5 20.8h1.5v1.3h-1.5zM21 22.1h1.5v1.3h-1.5zM28.5 22.1h1.5v1.3h-1.5zM31.5 22.1h1.5v1.3h-1.5zM15 23.4h1.5v1.3h-1.5zM31.5 23.4h1.5v1.3h-1.5zM4.5 24.7h1.5v1.3h-1.5zM6 24.7h1.5v1.3h-1.5zM15 24.7h1.5v1.3h-1.5zM19.5 24.7h1.5v1.3h-1.5zM28.5 24.7h1.5v1.3h-1.5zM34.5 24.7h1.5v1.3h-1.5zM36 24.7h1.5v1.3h-1.5zM22.5 26h1.5v1.3h-1.5zM24 26h1.5v1.3h-1.5zM28.5 26h1.5v1.3h-1.5zM34.5 26h1.5v1.3h-1.5zM3 27.3h1.5v1.3h-1.5zM15 27.3h1.5v1.3h-1.5zM28.5 27.3h1.5v1.3h-1.5zM16.5 28.6h1.5v1.3h-1.5zM21 28.6h1.5v1.3h-1.5zM22.5 28.6h1.5v1.3h-1.5zM31.5 28.6h1.5v1.3h-1.5zM33 28.6h1.5v1.3h-1.5zM0 29.9h1.5v1.3h-1.5zM7.5 29.9h1.5v1.3h-1.5zM13.5 29.9h1.5v1.3h-1.5zM36 29.9h1.5v1.3h-1.5zM6 31.2h1.5v1.3h-1.5zM12 31.2h1.5v1.3h-1.5zM21 31.2h1.5v1.3h-1.5zM33 31.2h1.5v1.3h-1.5zM36 31.2h1.5v1.3h-1.5zM9 33.8h1.5v1.3h-1.5zM15 33.8h1.5v1.3h-1.5zM22.5 33.8h1.5v1.3h-1.5zM0 35.1h1.5v1.3h-1.5zM10.5 35.1h1.5v1.3h-1.5zM6 36.4h1.5v1.3h-1.5zM13.5 36.4h1.5v1.3h-1.5zM15 36.4h1.5v1.3h-1.5zM16.5 36.4h1.5v1.3h-1.5zM22.5 36.4h1.5v1.3h-1.5zM7.5 37.7h1.5v1.3h-1.5zM10.5 37.7h1.5v1.3h-1.5zM30 37.7h1.5v1.3h-1.5zM6 39h1.5v1.3h-1.5zM9 39h1.5v1.3h-1.5zM10.5 39h1.5v1.3h-1.5zM30 39h1.5v1.3h-1.5zM30 40.3h1.5v1.3h-1.5zM33 40.3h1.5v1.3h-1.5zM27 42.9h1.5v1.3h-1.5zM34.5 42.9h1.5v1.3h-1.5zM0 44.2h1.5v1.3h-1.5zM3 44.2h1.5v1.3h-1.5zM12 44.2h1.5v1.3h-1.5zM30 44.2h1.5v1.3h-1.5zM33 44.2h1.5v1.3h-1.5zM36 44.2h1.5v1.3h-1.5zM1.5 45.5h1.5v1.3h-1.5zM27 45.5h1.5v1.3h-1.5zM31.5 45.5h1.5v1.3h-1.5zM0 46.8h1.5v1.3h-1.5zM12 46.8h1.5v1.3h-1.5zM21 46.8h1.5v1.3h-1.5zM25.5 46.8h1.5v1.3h-1.5zM6 48.1h1.5v1.3h-1.5zM12 48.1h1.5v1.3h-1.5zM15 48.1h1.5v1.3h-1.5zM24 48.1h1.5v1.3h-1.5zM0 49.4h1.5v1.3h-1.5zM4.5 49.4h1.5v1.3h-1.5zM22.5 49.4h1.5v1.3h-1.5zM1.5 50.7h1.5v1.3h-1.5zM3 50.7h1.5v1.3h-1.5zM21 50.7h1.5v1.3h-1.5zM31.5 50.7h1.5v1.3h-1.5zM33 50.7h1.5v1.3h-1.5zM1.5 52h1.5v1.3h-1.5zM21 52h1.5v1.3h-1.5zM13.5 53.3h1.5v1.3h-1.5zM22.5 53.3h1.5v1.3h-1.5zM1.5 54.6h1.5v1.3h-1.5zM3 54.6h1.5v1.3h-1.5zM9 54.6h1.5v1.3h-1.5zM3 55.9h1.5v1.3h-1.5zM7.5 55.9h1.5v1.3h-1.5zM33 55.9h1.5v1.3h-1.5zM4.5 57.2h1.5v1.3h-1.5zM6 57.2h1.5v1.3h-1.5zM10.5 57.2h1.5v1.3h-1.5zM36 57.2h1.5v1.3h-1.5zM16.5 58.5h1.5v1.3h-1.5zM37.5 58.5h1.5v1.3h-1.5zM0 59.8h1.5v1.3h-1.5zM7.5 59.8h1.5v1.3h-1.5zM12 59.8h1.5v1.3h-1.5zM27 59.8h1.5v1.3h-1.5zM33 59.8h1.5v1.3h-1.5zM15 61.1h1.5v1.3h-1.5zM1.5 62.4h1.5v1.3h-1.5zM22.5 62.4h1.5v1.3h-1.5zM25.5 62.4h1.5v1.3h-1.5zM6 63.7h1.5v1.3h-1.5zM12 63.7h1.5v1.3h-1.5zM15 65h1.5v1.3h-1.5zM15 66.3h1.5v1.3h-1.5zM33 66.3h1.5v1.3h-1.5zM36 66.3h1.5v1.3h-1.5zM37.5 66.3h1.5v1.3h-1.5zM7.5 67.6h1.5v1.3h-1.5zM12 67.6h1.5v1.3h-1.5zM13.5 67.6h1.5v1.3h-1.5zM31.5 67.6h1.5v1.3h-1.5zM3 68.9h1.5v1.3h-1.5zM9 68.9h1.5v1.3h-1.5zM27 68.9h1.5v1.3h-1.5zM0 70.2h1.5v1.3h-1.5zM6 70.2h1.5v1.3h-1.5zM9 70.2h1.5v1.3h-1.5zM6 71.5h1.5v1.3h-1.5zM16.5 71.5h1.5v1.3h-1.5zM24 71.5h1.5v1.3h-1.5zM25.5 71.5h1.5v1.3h-1.5zM27 71.5h1.5v1.3h-1.5zM0 72.8h1.5v1.3h-1.5zM12 72.8h1.5v1.3h-1.5zM25.5 72.8h1.5v1.3h-1.5zM36 72.8h1.5v1.3h-1.5zM15 74.1h1.5v1.3h-1.5zM16.5 74.1h1.5v1.3h-1.5zM27 74.1h1.5v1.3h-1.5zM28.5 74.1h1.5v1.3h-1.5zM12 75.4h1.5v1.3h-1.5zM28.5 75.4h1.5v1.3h-1.5zM30 75.4h1.5v1.3h-1.5zM33 75.4h1.5v1.3h-1.5zM25.5 76.7h1.5v1.3h-1.5zM28.5 78h1.5v1.3h-1.5zM31.5 78h1.5v1.3h-1.5zM3 79.3h1.5v1.3h-1.5zM7.5 79.3h1.5v1.3h-1.5zM13.5 79.3h1.5v1.3h-1.5zM22.5 79.3h1.5v1.3h-1.5zM25.5 79.3h1.5v1.3h-1.5zM0 80.6h1.5v1.3h-1.5zM7.5 80.6h1.5v1.3h-1.5zM10.5 80.6h1.5v1.3h-1.5zM31.5 80.6h1.5v1.3h-1.5zM33 80.6h1.5v1.3h-1.5zM36 80.6h1.5v1.3h-1.5zM37.5 80.6h1.5v1.3h-1.5zM12 81.9h1.5v1.3h-1.5zM25.5 81.9h1.5v1.3h-1.5zM30 81.9h1.5v1.3h-1.5zM33 81.9h1.5v1.3h-1.5zM36 81.9h1.5v1.3h-1.5zM0 83.2h1.5v1.3h-1.5zM22.5 83.2h1.5v1.3h-1.5zM27 83.2h1.5v1.3h-1.5zM34.5 83.2h1.5v1.3h-1.5zM15 84.5h1.5v1.3h-1.5zM27 84.5h1.5v1.3h-1.5zM9 85.8h1.5v1.3h-1.5zM28.5 85.8h1.5v1.3h-1.5zM9 87.1h1.5v1.3h-1.5zM10.5 87.1h1.5v1.3h-1.5zM21 87.1h1.5v1.3h-1.5zM27 87.1h1.5v1.3h-1.5zM28.5 87.1h1.5v1.3h-1.5zM30 87.1h1.5v1.3h-1.5zM36 87.1h1.5v1.3h-1.5zM1.5 88.4h1.5v1.3h-1.5zM24 88.4h1.5v1.3h-1.5zM25.5 89.7h1.5v1.3h-1.5zM21 91h1.5v1.3h-1.5zM30 91h1.5v1.3h-1.5zM7.5 92.3h1.5v1.3h-1.5zM15 92.3h1.5v1.3h-1.5zM21 92.3h1.5v1.3h-1.5zM22.5 92.3h1.5v1.3h-1.5zM25.5 92.3h1.5v1.3h-1.5zM27 92.3h1.5v1.3h-1.5zM28.5 92.3h1.5v1.3h-1.5zM30 92.3h1.5v1.3h-1.5zM6 93.6h1.5v1.3h-1.5zM9 94.9h1.5v1.3h-1.5zM12 94.9h1.5v1.3h-1.5zM28.5 94.9h1.5v1.3h-1.5zM31.5 94.9h1.5v1.3h-1.5zM4.5 96.2h1.5v1.3h-1.5zM31.5 97.5h1.5v1.3h-1.5zM3 98.8h1.5v1.3h-1.5zM7.5 98.8h1.5v1.3h-1.5zM34.5 98.8h1.5v1.3h-1.5zM12 100.1h1.5v1.3h-1.5zM33 100.1h1.5v1.3h-1.5zM4.5 102.7h1.5v1.3h-1.5zM22.5 102.7h1.5v1.3h-1.5zM25.5 102.7h1.5v1.3h-1.5zM1.5 105.3h1.5v1.3h-1.5zM16.5 105.3h1.5v1.3h-1.5zM25.5 105.3h1.5v1.3h-1.5zM16.5 106.6h1.5v1.3h-1.5zM25.5 106.6h1.5v1.3h-1.5zM33 106.6h1.5v1.3h-1.5zM36 106.6h1.5v1.3h-1.5zM4.5 107.9h1.5v1.3h-1.5zM21 107.9h1.5v1.3h-1.5zM25.5 107.9h1.5v1.3h-1.5zM0 109.2h1.5v1.3h-1.5zM9 109.2h1.5v1.3h-1.5zM25.5 109.2h1.5v1.3h-1.5zM31.5 109.2h1.5v1.3h-1.5zM28.5 110.5h1.5v1.3h-1.5zM34.5 110.5h1.5v1.3h-1.5zM0 111.8h1.5v1.3h-1.5zM3 113.1h1.5v1.3h-1.5zM6 113.1h1.5v1.3h-1.5zM13.5 113.1h1.5v1.3h-1.5zM27 113.1h1.5v1.3h-1.5zM30 113.1h1.5v1.3h-1.5zM0 114.4h1.5v1.3h-1.5zM1.5 114.4h1.5v1.3h-1.5zM4.5 114.4h1.5v1.3h-1.5zM7.5 115.7h1.5v1.3h-1.5zM0 117h1.5v1.3h-1.5zM7.5 117h1.5v1.3h-1.5zM22.5 117h1.5v1.3h-1.5zM37.5 117h1.5v1.3h-1.5zM1.5 118.3h1.5v1.3h-1.5zM16.5 118.3h1.5v1.3h-1.5zM24 118.3h1.5v1.3h-1.5zM28.5 118.3h1.5v1.3h-1.5zM34.5 118.3h1.5v1.3h-1.5zM13.5 119.6h1.5v1.3h-1.5zM36 119.6h1.5v1.3h-1.5z"/>
<path fill="#d84050" d="M15 0h1.5v1.3h-1.5zM16.5 0h1.5v1.3h-1.5zM30 0h1.5v1.3h-1.5zM33 0h1.5v1.3h-1.5zM36 0h1.5v1.3h-1.5zM12 1.3h1.5v1.3h-1.5zM22.5 1.3h1.5v1.3h-1.5zM3 2.6h1.5v1.3h-1.5zM9 2.6h1.5v1.3h-1.5zM21 2.6h1.5v1.3h-1.5zM12 3.9h1.5v1.3h-1.5zM27 3.9h1.5v1.3h-1.5zM0 5.2h1.5v1.3h-1.5zM21 5.2h1.5v1.3h-1.5zM28.5 5.2h1.5v1.3h-1.5zM36 5.2h1.5v1.3h-1.5zM37.5 5.2h1.5v1.3h-1.5zM19.5 6.5h1.5v1.3h-1.5zM28.5 6.5h1.5v1.3h-1.5zM27 7.8h1.5v1.3h-1.5zM3 9.1h1.5v1.3h-1.5zM10.5 9.1h1.5v1.3h-1.5zM15 9.1h1.5v1.3h-1.5zM22.5 9.1h1.5v1.3h-1.5zM25.5 9.1h1.5v1.3h-1.5zM9 10.4h1.5v1.3h-1.5zM10.5 10.4h1.5v1.3h-1.5zM25.5 10.4h1.5v1.3h-1.5zM30 10.4h1.5v1.3h-1.5zM36 10.4h1.5v1.3h-1.5zM7.5 11.7h1.5v1.3h-1.5zM22.5 11.7h1.5v1.3h-1.5zM27 11.7h1.5v1.3h-1.5zM31.5 11.7h1.5v1.3h-1.5zM6 13h1.5v1.3h-1.5zM7.5 13h1.5v1.3h-1.5zM36 13h1.5v1.3h-1.5zM0 14.3h1.5v1.3h-1.5zM12 14.3h1.5v1.3h-1.5zM34.5 14.3h1.5v1.3h-1.5zM3 15.6h1.5v1.3h-1.5zM7.5 15.6h1.5v1.3h-1.5zM12 15.6h1.5v1.3h-1.5zM28.5 15.6h1.5v1.3h-1.5zM36 15.6h1.5v1.3h-1.5zM0 16.9h1.5v1.3h-1.5zM13.5 16.9h1.5v1.3h-1.5zM30 16.9h1.5v1.3h-1.5zM4.5 18.2h1.5v1.3h-1.5zM21 18.2h1.5v1.3h-1.5zM22.5 19.5h1.5v1.3h-1.5zM27 19.5h1.5v1.3h-1.5zM33 19.5h1.5v1.3h-1.5zM7.5 20.8h1.5v1.3h-1.5zM28.5 20.8h1.5v1.3h-1.5zM33 20.8h1.5v1.3h-1.5zM34.5 20.8h1.5v1.3h-1.5zM37.5 20.8h1.5v1.3h-1.5zM0 22.1h1.5v1.3h-1.5zM1.5 22.1h1.5v1.3h-1.5zM3 22.1h1.5v1.3h-1.5zM4.5 22.1h1.5v1.3h-1.5zM10.5 22.1h1.5v1.3h-1.5zM15 22.1h1.5v1.3h-1.5zM1.5 23.4h1.5v1.3h-1.5zM22.5 23.4h1.5v1.3h-1.5zM25.5 23.4h1.5v1.3h-1.5zM30 23.4h1.5v1.3h-1.5zM34.5 23.4h1.5v1.3h-1.5zM24 24.7h1.5v1.3h-1.5zM1.5 26h1.5v1.3h-1.5zM21 26h1.5v1.3h-1.5zM31.5 26h1.5v1.3h-1.5zM13.5 27.3h1.5v1.3h-1.5zM24 27.3h1.5v1.3h-1.5zM33 27.3h1.5v1.3h-1.5zM36 27.3h1.5v1.3h-1.5zM37.5 27.3h1.5v1.3h-1.5zM10.5 28.6h1.5v1.3h-1.5zM19.5 28.6h1.5v1.3h-1.5zM10.5 29.9h1.5v1.3h-1.5zM25.5 29.9h1.5v1.3h-1.5zM4.5 31.2h1.5v1.3h-1.5zM7.5 31.2h1.5v1.3h-1.5zM22.5 31.2h1.5v1.3h-1.5zM27 31.2h1.5v1.3h-1.5zM34.5 31.2h1.5v1.3h-1.5zM6 32.5h1.5v1.3h-1.5zM21 32.5h1.5v1.3h-1.5zM28.5 32.5h1.5v1.3h-1.5zM16.5 33.8h1.5v1.3h-1.5zM21 33.8h1.5v1.3h-1.5zM25.5 33.8h1.5v1.3h-1.5zM36 33.8h1.5v1.3h-1.5zM37.5 33.8h1.5v1.3h-1.5zM3 35.1h1.5v1.3h-1.5zM27 35.1h1.5v1.3h-1.5zM1.5 36.4h1.5v1.3h-1.5zM7.5 36.4h1.5v1.3h-1.5zM12 36.4h1.5v1.3h-1.5zM9 37.7h1.5v1.3h-1.5zM27 37.7h1.5v1.3h-1.5zM33 37.7h1.5v1.3h-1.5zM9 40.3h1.5v1.3h-1.5zM21 40.3h1.5v1.3h-1.5zM24 40.3h1.5v1.3h-1.5zM1.5 41.6h1.5v1.3h-1.5zM10.5 41.6h1.5v1.3h-1.5zM16.5 41.6h1.5v1.3h-1.5zM27 41.6h1.5v1.3h-1.5zM34.5 41.6h1.5v1.3h-1.5zM36 41.6h1.5v1.3h-1.5zM15 44.2h1.5v1.3h-1.5zM24 44.2h1.5v1.3h-1.5zM37.5 44.2h1.5v1.3h-1.5zM3 45.5h1.5v1.3h-1.5zM9 45.5h1.5v1.3h-1.5zM16.5 45.5h1.5v1.3h-1.5zM25.5 45.5h1.5v1.3h-1.5zM33 45.5h1.5v1.3h-1.5zM13.5 46.8h1.5v1.3h-1.5zM24 46.8h1.5v1.3h-1.5zM28.5 46.8h1.5v1.3h-1.5zM37.5 46.8h1.5v1.3h-1.5zM0 48.1h1.5v1.3h-1.5zM1.5 48.1h1.5v1.3h-1.5zM9 48.1h1.5v1.3h-1.5zM34.5 48.1h1.5v1.3h-1.5zM36 48.1h1.5v1.3h-1.5zM37.5 48.1h1.5v1.3h-1.5zM7.5 49.4h1.5v1.3h-1.5zM9 49.4h1.5v1.3h-1.5zM28.5 49.4h1.5v1.3h-1.5zM33 49.4h1.5v1.3h-1.5zM7.5 50.7h1.5v1.3h-1.5zM16.5 50.7h1.5v1.3h-1.5zM22.5 50.7h1.5v1.3h-1.5zM28.5 50.7h1.5v1.3h-1.5zM13.5 52h1.5v1.3h-1.5zM28.5 52h1.5v1.3h-1.5zM30 52h1.5v1.3h-1.5zM21 53.3h1.5v1.3h-1.5zM27 53.3h1.5v1.3h-1.5zM31.5 53.3h1.5v1.3h-1.5zM4.5 54.6h1.5v1.3h-1.5zM6 54.6h1.5v1.3h-1.5zM10.5 54.6h1.5v1.3h-1.5zM16.5 54.6h1.5v1.3h-1.5zM22.5 54.6h1.5v1.3h-1.5zM24 55.9h1.5v1.3h-1.5zM0 57.2h1.5v1.3h-1.5zM9 57.2h1.5v1.3h-1.5zM12 57.2h1.5v1.3h-1.5zM13.5 57.2h1.5v1.3h-1.5zM33 57.2h1.5v1.3h-1.5zM34.5 57.2h1.5v1.3h-1.5zM0 58.5h1.5v1.3h-1.5zM27 58.5h1.5v1.3h-1.5zM34.5 59.8h1.5v1.3h-1.5zM36 59.8h1.5v1.3h-1.5zM10.5 61.1h1.5v1.3h-1.5zM12 61.1h1.5v1.3h-1.5zM24 61.1h1.5v1.3h-1.5zM6 62.4h1.5v1.3h-1.5zM7.5 62.4h1.5v1.3h-1.5zM21 62.4h1.5v1.3h-1.5zM33 62.4h1.5v1.3h-1.5zM0 63.7h1.5v1.3h-1.5zM4.5 63.7h1.5v1.3h-1.5zM13.5 63.7h1.5v1.3h-1.5zM28.5 63.7h1.5v1.3h-1.5zM30 63.7h1.5v1.3h-1.5zM0 65h1.5v1.3h-1.5zM3 65h1.5v1.3h-1.5zM9 65h1.5v1.3h-1.5zM25.5 65h1.5v1.3h-1.5zM22.5 66.3h1.5v1.3h-1.5zM28.5 66.3h1.5v1.3h-1.5zM16.5 67.6h1.5v1.3h-1.5zM25.5 67.6h1.5v1.3h-1.5zM27 67.6h1.5v1.3h-1.5zM10.5 68.9h1.5v1.3h-1.5zM13.5 68.9h1.5v1.3h-1.5zM15 68.9h1.5v1.3h-1.5zM22.5 68.9h1.5v1.3h-1.5zM37.5 68.9h1.5v1.3h-1.5zM16.5 70.2h1.5v1.3h-1.5zM24 70.2h1.5v1.3h-1.5zM31.5 70.2h1.5v1.3h-1.5zM33 70.2h1.5v1.3h-1.5zM3 71.5h1.5v1.3h-1.5zM10.5 71.5h1.5v1.3h-1.5zM31.5 71.5h1.5v1.3h-1.5zM33 71.5h1.5v1.3h-1.5zM7.5 72.8h1.5v1.3h-1.5zM10.5 72.8h1.5v1.3h-1.5zM15 72.8h1.5v1.3h-1.5zM31.5 72.8h1.5v1.3h-1.5zM33 72.8h1.5v1.3h-1.5zM1.5 74.1h1.5v1.3h-1.5zM6 74.1h1.5v1.3h-1.5zM10.5 74.1h1.5v1.3h-1.5zM12 74.1h1.5v1.3h-1.5zM25.5 74.1h1.5v1.3h-1.5zM30 74.1h1.5v1.3h-1.5zM3 75.4h1.5v1.3h-1.5zM13.5 75.4h1.5v1.3h-1.5zM22.5 75.4h1.5v1.3h-1.5zM25.5 75.4h1.5v1.3h-1.5zM34.5 75.4h1.5v1.3h-1.5zM0 76.7h1.5v1.3h-1.5zM6 76.7h1.5v1.3h-1.5zM3 78h1.5v1.3h-1.5zM6 78h1.5v1.3h-1.5zM7.5 78h1.5v1.3h-1.5zM12 78h1.5v1.3h-1.5zM27 78h1.5v1.3h-1.5zM37.5 78h1.5v1.3h-1.5zM4.5 79.3h1.5v1.3h-1.5zM36 79.3h1.5v1.3h-1.5zM3 80.6h1.5v1.3h-1.5zM30 80.6h1.5v1.3h-1.5zM1.5 81.9h1.5v1.3h-1.5zM21 81.9h1.5v1.3h-1.5zM24 81.9h1.5v1.3h-1.5zM28.5 81.9h1.5v1.3h-1.5zM31.5 81.9h1.5v1.3h-1.5zM37.5 81.9h1.5v1.3h-1.5zM6 83.2h1.5v1.3h-1.5zM25.5 83.2h1.5v1.3h-1.5zM30 83.2h1.5v1.3h-1.5zM0 84.5h1.5v1.3h-1.5zM9 84.5h1.5v1.3h-1.5zM10.5 84.5h1.5v1.3h-1.5zM21 84.5h1.5v1.3h-1.5zM10.5 85.8h1.5v1.3h-1.5zM13.5 85.8h1.5v1.3h-1.5zM24 85.8h1.5v1.3h-1.5zM27 85.8h1.5v1.3h-1.5zM0 87.1h1.5v1.3h-1.5zM1.5 87.1h1.5v1.3h-1.5zM6 87.1h1.5v1.3h-1.5zM12 87.1h1.5v1.3h-1.5zM13.5 87.1h1.5v1.3h-1.5zM16.5 87.1h1.5v1.3h-1.5zM22.5 87.1h1.5v1.3h-1.5zM25.5 87.1h1.5v1.3h-1.5zM33 87.1h1.5v1.3h-1.5zM6 88.4h1.5v1.3h-1.5zM7.5 88.4h1.5v1.3h-1.5zM12 88.4h1.5v1.3h-1.5zM36 88.4h1.5v1.3h-1.5zM37.5 88.4h1.5v1.3h-1.5zM10.5 89.7h1.5v1.3h-1.5zM31.5 89.7h1.5v1.3h-1.5zM33 89.7h1.5v1.3h-1.5zM34.5 89.7h1.5v1.3h-1.5zM4.5 91h1.5v1.3h-1.5zM7.5 91h1.5v1.3h-1.5zM27 91h1.5v1.3h-1.5zM33 91h1.5v1.3h-1.5zM1.5 92.3h1.5v1.3h-1.5zM33 92.3h1.5v1.3h-1.5zM10.5 93.6h1.5v1.3h-1.5zM12 93.6h1.5v1.3h-1.5zM13.5 93.6h1.5v1.3h-1.5zM15 93.6h1.5v1.3h-1.5zM22.5 93.6h1.5v1.3h-1.5zM24 93.6h1.5v1.3h-1.5zM27 93.6h1.5v1.3h-1.5zM33 93.6h1.5v1.3h-1.5zM3 94.9h1.5v1.3h-1.5zM6 94.9h1.5v1.3h-1.5zM24 94.9h1.5v1.3h-1.5zM33 94.9h1.5v1.3h-1.5zM7.5 96.2h1.5v1.3h-1.5zM16.5 96.2h1.5v1.3h-1.5zM30 96.2h1.5v1.3h-1.5zM34.5 96.2h1.5v1.3h-1.5zM1.5 97.5h1.5v1.3h-1.5zM7.5 97.5h1.5v1.3h-1.5zM13.5 97.5h1.5v1.3h-1.5zM25.5 97.5h1.5v1.3h-1.5zM34.5 97.5h1.5v1.3h-1.5zM30 98.8h1.5v1.3h-1.5zM0 100.1h1.5v1.3h-1.5zM3 100.1h1.5v1.3h-1.5zM7.5 100.1h1.5v1.3h-1.5zM9 100.1h1.5v1.3h-1.5zM24 100.1h1.5v1.3h-1.5zM25.5 100.1h1.5v1.3h-1.5zM3 101.4h1.5v1.3h-1.5zM10.5 101.4h1.5v1.3h-1.5zM12 101.4h1.5v1.3h-1.5zM21 101.4h1.5v1.3h-1.5zM22.5 101.4h1.5v1.3h-1.5zM24 101.4h1.5v1.3h-1.5zM37.5 101.4h1.5v1.3h-1.5zM27 102.7h1.5v1.3h-1.5zM34.5 102.7h1.5v1.3h-1.5zM37.5 102.7h1.5v1.3h-1.5zM13.5 104h1.5v1.3h-1.5zM15 104h1.5v1.3h-1.5zM30 104h1.5v1.3h-1.5zM33 104h1.5v1.3h-1.5zM34.5 104h1.5v1.3h-1.5zM7.5 105.3h1.5v1.3h-1.5zM27 105.3h1.5v1.3h-1.5zM31.5 105.3h1.5v1.3h-1.5zM12 106.6h1.5v1.3h-1.5zM13.5 106.6h1.5v1.3h-1.5zM28.5 106.6h1.5v1.3h-1.5zM13.5 107.9h1.5v1.3h-1.5zM30 107.9h1.5v1.3h-1.5zM31.5 107.9h1.5v1.3h-1.5zM37.5 107.9h1.5v1.3h-1.5zM7.5 109.2h1.5v1.3h-1.5zM10.5 109.2h1.5v1.3h-1.5zM36 109.2h1.5v1.3h-1.5zM0 110.5h1.5v1.3h-1.5zM10.5 110.5h1.5v1.3h-1.5zM30 110.5h1.5v1.3h-1.5zM37.5 110.5h1.5v1.3h-1.5zM1.5 111.8h1.5v1.3h-1.5zM10.5 111.8h1.5v1.3h-1.5zM15 111.8h1.5v1.3h-1.5zM27 111.8h1.5v1.3h-1.5zM37.5 111.8h1.5v1.3h-1.5zM21 113.1h1.5v1.3h-1.5zM24 113.1h1.5v1.3h-1.5zM13.5 114.4h1.5v1.3h-1.5zM16.5 114.4h1.5v1.3h-1.5zM33 114.4h1.5v1.3h-1.5zM3 115.7h1.5v1.3h-1.5zM15 115.7h1.5v1.3h-1.5zM25.5 115.7h1.5v1.3h-1.5zM33 115.7h1.5v1.3h-1.5zM3 117h1.5v1.3h-1.5zM3 118.3h1.5v1.3h-1.5zM9 118.3h1.5v1.3h-1.5zM10.5 118.3h1.5v1.3h-1.5zM22.5 118.3h1.5v1.3h-1.5zM6 119.6h1.5v1.3h-1.5zM12 119.6h1.5v1.3h-1.5z"/>
<path fill="#dc2a38" d="M18 0h1.5v1.3h-1.5zM19.5 0h1.5v1.3h-1.5zM18 2.6h1.5v1.3h-1.5zM18 6.5h1.5v1.3h-1.5zM16.5 7.8h1.5v1.3h-1.5zM16.5 9.1h1.5v1.3h-1.5zM18 13h1.5v1.3h-1.5zM16.5 19.5h1.5v1.3h-1.5zM16.5 22.1h1.5v1.3h-1.5zM18 22.1h1.5v1.3h-1.5zM18 26h1.5v1.3h-1.5zM16.5 27.3h1.5v1.3h-1.5zM18 27.3h1.5v1.3h-1.5zM18 28.6h1.5v1.3h-1.5zM18 33.8h1.5v1.3h-1.5zM19.5 33.8h1.5v1.3h-1.5zM18 37.7h1.5v1.3h-1.5zM19.5 39h1.5v1.3h-1.5zM18 40.3h1.5v1.3h-1.5zM19.5 41.6h1.5v1.3h-1.5zM19.5 42.9h1.5v1.3h-1.5zM18 44.2h1.5v1.3h-1.5zM18 45.5h1.5v1.3h-1.5zM18 46.8h1.5v1.3h-1.5zM19.5 49.4h1.5v1.3h-1.5zM18 54.6h1.5v1.3h-1.5zM18 55.9h1.5v1.3h-1.5zM18 58.5h1.5v1.3h-1.5zM18 59.8h1.5v1.3h-1.5zM18 62.4h1.5v1.3h-1.5zM19.5 62.4h1.5v1.3h-1.5zM18 63.7h1.5v1.3h-1.5zM19.5 63.7h1.5v1.3h-1.5zM18 65h1.5v1.3h-1.5zM18 66.3h1.5v1.3h-1.5zM18 67.6h1.5v1.3h-1.5zM19.5 68.9h1.5v1.3h-1.5zM18 70.2h1.5v1.3h-1.5zM19.5 70.2h1.5v1.3h-1.5zM19.5 72.8h1.5v1.3h-1.5zM18 74.1h1.5v1.3h-1.5zM19.5 74.1h1.5v1.3h-1.5zM18 75.4h1.5v1.3h-1.5zM19.5 75.4h1.5v1.3h-1.5zM19.5 76.7h1.5v1.3h-1.5zM18 79.3h1.5v1.3h-1.5zM19.5 79.3h1.5v1.3h-1.5zM18 80.6h1.5v1.3h-1.5zM19.5 85.8h1.5v1.3h-1.5zM18 88.4h1.5v1.3h-1.5zM19.5 88.4h1.5v1.3h-1.5zM18 91h1.5v1.3h-1.5zM19.5 92.3h1.5v1.3h-1.5zM18 94.9h1.5v1.3h-1.5zM18 97.5h1.5v1.3h-1.5zM18 102.7h1.5v1.3h-1.5zM19.5 105.3h1.5v1.3h-1.5zM18 106.6h1.5v1.3h-1.5zM19.5 106.6h1.5v1.3h-1.5zM18 109.2h1.5v1.3h-1.5zM19.5 109.2h1.5v1.3h-1.5zM18 110.5h1.5v1.3h-1.5zM18 113.1h1.5v1.3h-1.5zM19.5 113.1h1.5v1.3h-1.5zM18 115.7h1.5v1.3h-1.5zM18 117h1.5v1.3h-1.5zM19.5 117h1.5v1.3h-1.5zM19.5 119.6h1.5v1.3h-1.5z"/>
<path fill="#ffffff" d="M22.5 0h1.5v1.3h-1.5zM24 0h1.5v1.3h-1.5zM25.5 0h1.5v1.3h-1.5zM31.5 0h1.5v1.3h-1.5zM1.5 1.3h1.5v1.3h-1.5zM9 1.3h1.5v1.3h-1.5zM13.5 1.3h1.5v1.3h-1.5zM19.5 1.3h1.5v1.3h-1.5zM30 1.3h1.5v1.3h-1.5zM6 2.6h1.5v1.3h-1.5zM22.5 2.6h1.5v1.3h-1.5zM27 2.6h1.5v1.3h-1.5zM31.5 2.6h1.5v1.3h-1.5zM33 2.6h1.5v1.3h-1.5zM4.5 3.9h1.5v1.3h-1.5zM9 3.9h1.5v1.3h-1.5zM24 3.9h1.5v1.3h-1.5zM30 3.9h1.5v1.3h-1.5zM31.5 3.9h1.5v1.3h-1.5zM34.5 3.9h1.5v1.3h-1.5zM37.5 3.9h1.5v1.3h-1.5zM9 5.2h1.5v1.3h-1.5zM12 5.2h1.5v1.3h-1.5zM13.5 5.2h1.5v1.3h-1.5zM15 5.2h1.5v1.3h-1.5zM24 5.2h1.5v1.3h-1.5zM27 5.2h1.5v1.3h-1.5zM31.5 5.2h1.5v1.3h-1.5zM33 5.2h1.5v1.3h-1.5zM34.5 5.2h1.5v1.3h-1.5zM0 6.5h1.5v1.3h-1.5zM4.5 6.5h1.5v1.3h-1.5zM27 6.5h1.5v1.3h-1.5zM36 6.5h1.5v1.3h-1.5zM0 7.8h1.5v1.3h-1.5zM1.5 7.8h1.5v1.3h-1.5zM6 7.8h1.5v1.3h-1.5zM10.5 7.8h1.5v1.3h-1.5zM21 7.8h1.5v1.3h-1.5zM34.5 7.8h1.5v1.3h-1.5zM4.5 9.1h1.5v1.3h-1.5zM9 9.1h1.5v1.3h-1.5zM21 9.1h1.5v1.3h-1.5zM27 9.1h1.5v1.3h-1.5zM6 10.4h1.5v1.3h-1.5zM28.5 10.4h1.5v1.3h-1.5zM31.5 10.4h1.5v1.3h-1.5zM0 11.7h1.5v1.3h-1.5zM13.5 11.7h1.5v1.3h-1.5zM15 11.7h1.5v1.3h-1.5zM24 11.7h1.5v1.3h-1.5zM0 13h1.5v1.3h-1.5zM1.5 13h1.5v1.3h-1.5zM3 13h1.5v1.3h-1.5zM4.5 13h1.5v1.3h-1.5zM9 13h1.5v1.3h-1.5zM12 13h1.5v1.3h-1.5zM15 13h1.5v1.3h-1.5zM21 13h1.5v1.3h-1.5zM1.5 14.3h1.5v1.3h-1.5zM7.5 14.3h1.5v1.3h-1.5zM19.5 14.3h1.5v1.3h-1.5zM24 14.3h1.5v1.3h-1.5zM33 14.3h1.5v1.3h-1.5zM31.5 15.6h1.5v1.3h-1.5zM1.5 16.9h1.5v1.3h-1.5zM19.5 16.9h1.5v1.3h-1.5zM37.5 16.9h1.5v1.3h-1.5zM7.5 18.2h1.5v1.3h-1.5zM22.5 18.2h1.5v1.3h-1.5zM27 18.2h1.5v1.3h-1.5zM30 18.2h1.5v1.3h-1.5zM31.5 18.2h1.5v1.3h-1.5zM19.5 19.5h1.5v1.3h-1.5zM30 19.5h1.5v1.3h-1.5zM36 19.5h1.5v1.3h-1.5zM19.5 20.8h1.5v1.3h-1.5zM21 20.8h1.5v1.3h-1.5zM27 22.1h1.5v1.3h-1.5zM30 22.1h1.5v1.3h-1.5zM33 22.1h1.5v1.3h-1.5zM36 23.4h1.5v1.3h-1.5zM37.5 23.4h1.5v1.3h-1.5zM0 24.7h1.5v1.3h-1.5zM9 24.7h1.5v1.3h-1.5zM7.5 26h1.5v1.3h-1.5zM13.5 26h1.5v1.3h-1.5zM37.5 26h1.5v1.3h-1.5zM6 27.3h1.5v1.3h-1.5zM12 27.3h1.5v1.3h-1.5zM12 28.6h1.5v1.3h-1.5zM1.5 29.9h1.5v1.3h-1.5zM6 29.9h1.5v1.3h-1.5zM12 29.9h1.5v1.3h-1.5zM15 29.9h1.5v1.3h-1.5zM30 29.9h1.5v1.3h-1.5zM3 31.2h1.5v1.3h-1.5zM9 31.2h1.5v1.3h-1.5zM15 31.2h1.5v1.3h-1.5zM24 31.2h1.5v1.3h-1.5zM37.5 31.2h1.5v1.3h-1.5zM3 32.5h1.5v1.3h-1.5zM9 32.5h1.5v1.3h-1.5zM36 32.5h1.5v1.3h-1.5zM4.5 33.8h1.5v1.3h-1.5zM10.5 33.8h1.5v1.3h-1.5zM28.5 33.8h1.5v1.3h-1.5zM30 33.8h1.5v1.3h-1.5zM31.5 33.8h1.5v1.3h-1.5zM34.5 33.8h1.5v1.3h-1.5zM4.5 35.1h1.5v1.3h-1.5zM7.5 35.1h1.5v1.3h-1.5zM13.5 35.1h1.5v1.3h-1.5zM16.5 35.1h1.5v1.3h-1.5zM21 35.1h1.5v1.3h-1.5zM25.5 35.1h1.5v1.3h-1.5zM30 35.1h1.5v1.3h-1.5zM31.5 35.1h1.5v1.3h-1.5zM9 36.4h1.5v1.3h-1.5zM30 36.4h1.5v1.3h-1.5zM0 37.7h1.5v1.3h-1.5zM1.5 37.7h1.5v1.3h-1.5zM3 37.7h1.5v1.3h-1.5zM4.5 37.7h1.5v1.3h-1.5zM12 37.7h1.5v1.3h-1.5zM16.5 37.7h1.5v1.3h-1.5zM22.5 37.7h1.5v1.3h-1.5zM24 37.7h1.5v1.3h-1.5zM4.5 39h1.5v1.3h-1.5zM13.5 39h1.5v1.3h-1.5zM21 39h1.5v1.3h-1.5zM27 39h1.5v1.3h-1.5zM33 39h1.5v1.3h-1.5zM34.5 39h1.5v1.3h-1.5zM0 40.3h1.5v1.3h-1.5zM7.5 40.3h1.5v1.3h-1.5zM31.5 40.3h1.5v1.3h-1.5zM34.5 40.3h1.5v1.3h-1.5zM36 40.3h1.5v1.3h-1.5zM7.5 41.6h1.5v1.3h-1.5zM24 41.6h1.5v1.3h-1.5zM25.5 41.6h1.5v1.3h-1.5zM37.5 41.6h1.5v1.3h-1.5zM0 42.9h1.5v1.3h-1.5zM6 42.9h1.5v1.3h-1.5zM15 42.9h1.5v1.3h-1.5zM16.5 42.9h1.5v1.3h-1.5zM22.5 42.9h1.5v1.3h-1.5zM30 42.9h1.5v1.3h-1.5zM31.5 42.9h1.5v1.3h-1.5zM1.5 44.2h1.5v1.3h-1.5zM4.5 44.2h1.5v1.3h-1.5zM7.5 44.2h1.5v1.3h-1.5zM16.5 44.2h1.5v1.3h-1.5zM22.5 44.2h1.5v1.3h-1.5zM25.5 44.2h1.5v1.3h-1.5zM34.5 44.2h1.5v1.3h-1.5zM4.5 45.5h1.5v1.3h-1.5zM13.5 45.5h1.5v1.3h-1.5zM15 45.5h1.5v1.3h-1.5zM28.5 45.5h1.5v1.3h-1.5zM30 45.5h1.5v1.3h-1.5zM36 45.5h1.5v1.3h-1.5zM37.5 45.5h1.5v1.3h-1.5zM4.5 46.8h1.5v1.3h-1.5zM10.5 46.8h1.5v1.3h-1.5zM15 46.8h1.5v1.3h-1.5zM33 46.8h1.5v1.3h-1.5zM36 46.8h1.5v1.3h-1.5zM7.5 48.1h1.5v1.3h-1.5zM13.5 48.1h1.5v1.3h-1.5zM28.5 48.1h1.5v1.3h-1.5zM31.5 48.1h1.5v1.3h-1.5zM31.5 49.4h1.5v1.3h-1.5zM6 50.7h1.5v1.3h-1.5zM13.5 50.7h1.5v1.3h-1.5zM34.5 50.7h1.5v1.3h-1.5zM3 52h1.5v1.3h-1.5zM6 52h1.5v1.3h-1.5zM15 52h1.5v1.3h-1.5zM27 52h1.5v1.3h-1.5zM31.5 52h1.5v1.3h-1.5zM3 53.3h1.5v1.3h-1.5zM4.5 53.3h1.5v1.3h-1.5zM7.5 53.3h1.5v1.3h-1.5zM12 53.3h1.5v1.3h-1.5zM16.5 53.3h1.5v1.3h-1.5zM28.5 53.3h1.5v1.3h-1.5zM33 53.3h1.5v1.3h-1.5zM36 53.3h1.5v1.3h-1.5zM12 54.6h1.5v1.3h-1.5zM15 54.6h1.5v1.3h-1.5zM21 54.6h1.5v1.3h-1.5zM24 54.6h1.5v1.3h-1.5zM28.5 54.6h1.5v1.3h-1.5zM36 54.6h1.5v1.3h-1.5zM15 55.9h1.5v1.3h-1.5zM16.5 55.9h1.5v1.3h-1.5zM28.5 55.9h1.5v1.3h-1.5zM30 55.9h1.5v1.3h-1.5zM3 57.2h1.5v1.3h-1.5zM9 58.5h1.5v1.3h-1.5zM15 58.5h1.5v1.3h-1.5zM21 58.5h1.5v1.3h-1.5zM30 58.5h1.5v1.3h-1.5zM31.5 58.5h1.5v1.3h-1.5zM33 58.5h1.5v1.3h-1.5zM36 58.5h1.5v1.3h-1.5zM1.5 59.8h1.5v1.3h-1.5zM9 59.8h1.5v1.3h-1.5zM25.5 59.8h1.5v1.3h-1.5zM13.5 61.1h1.5v1.3h-1.5zM28.5 61.1h1.5v1.3h-1.5zM34.5 61.1h1.5v1.3h-1.5zM13.5 62.4h1.5v1.3h-1.5zM15 62.4h1.5v1.3h-1.5zM27 62.4h1.5v1.3h-1.5zM28.5 62.4h1.5v1.3h-1.5zM7.5 63.7h1.5v1.3h-1.5zM10.5 63.7h1.5v1.3h-1.5zM15 63.7h1.5v1.3h-1.5zM21 63.7h1.5v1.3h-1.5zM34.5 63.7h1.5v1.3h-1.5zM1.5 65h1.5v1.3h-1.5zM6 65h1.5v1.3h-1.5zM16.5 65h1.5v1.3h-1.5zM24 65h1.5v1.3h-1.5zM27 65h1.5v1.3h-1.5zM31.5 65h1.5v1.3h-1.5zM33 65h1.5v1.3h-1.5zM4.5 66.3h1.5v1.3h-1.5zM9 66.3h1.5v1.3h-1.5zM13.5 66.3h1.5v1.3h-1.5zM25.5 66.3h1.5v1.3h-1.5zM27 66.3h1.5v1.3h-1.5zM9 67.6h1.5v1.3h-1.5zM21 67.6h1.5v1.3h-1.5zM28.5 67.6h1.5v1.3h-1.5zM24 68.9h1.5v1.3h-1.5zM31.5 68.9h1.5v1.3h-1.5zM33 68.9h1.5v1.3h-1.5zM10.5 70.2h1.5v1.3h-1.5zM13.5 70.2h1.5v1.3h-1.5zM1.5 71.5h1.5v1.3h-1.5zM22.5 71.5h1.5v1.3h-1.5zM37.5 72.8h1.5v1.3h-1.5zM0 74.1h1.5v1.3h-1.5zM9 74.1h1.5v1.3h-1.5zM22.5 74.1h1.5v1.3h-1.5zM36 74.1h1.5v1.3h-1.5zM3 76.7h1.5v1.3h-1.5zM16.5 76.7h1.5v1.3h-1.5zM27 76.7h1.5v1.3h-1.5zM9 78h1.5v1.3h-1.5zM10.5 78h1.5v1.3h-1.5zM16.5 78h1.5v1.3h-1.5zM36 78h1.5v1.3h-1.5zM0 79.3h1.5v1.3h-1.5zM1.5 79.3h1.5v1.3h-1.5zM9 79.3h1.5v1.3h-1.5zM10.5 79.3h1.5v1.3h-1.5zM21 79.3h1.5v1.3h-1.5zM1.5 80.6h1.5v1.3h-1.5zM16.5 80.6h1.5v1.3h-1.5zM22.5 80.6h1.5v1.3h-1.5zM27 80.6h1.5v1.3h-1.5zM28.5 80.6h1.5v1.3h-1.5zM6 81.9h1.5v1.3h-1.5zM10.5 81.9h1.5v1.3h-1.5zM16.5 81.9h1.5v1.3h-1.5zM22.5 81.9h1.5v1.3h-1.5zM3 83.2h1.5v1.3h-1.5zM4.5 83.2h1.5v1.3h-1.5zM7.5 83.2h1.5v1.3h-1.5zM9 83.2h1.5v1.3h-1.5zM10.5 83.2h1.5v1.3h-1.5zM36 83.2h1.5v1.3h-1.5zM6 84.5h1.5v1.3h-1.5zM13.5 84.5h1.5v1.3h-1.5zM16.5 84.5h1.5v1.3h-1.5zM28.5 84.5h1.5v1.3h-1.5zM34.5 84.5h1.5v1.3h-1.5zM12 85.8h1.5v1.3h-1.5zM15 85.8h1.5v1.3h-1.5zM21 85.8h1.5v1.3h-1.5zM25.5 85.8h1.5v1.3h-1.5zM33 85.8h1.5v1.3h-1.5zM31.5 87.1h1.5v1.3h-1.5zM3 88.4h1.5v1.3h-1.5zM10.5 88.4h1.5v1.3h-1.5zM13.5 88.4h1.5v1.3h-1.5zM16.5 88.4h1.5v1.3h-1.5zM21 88.4h1.5v1.3h-1.5zM22.5 88.4h1.5v1.3h-1.5zM25.5 88.4h1.5v1.3h-1.5zM34.5 88.4h1.5v1.3h-1.5zM3 89.7h1.5v1.3h-1.5zM4.5 89.7h1.5v1.3h-1.5zM22.5 89.7h1.5v1.3h-1.5zM24 89.7h1.5v1.3h-1.5zM3 91h1.5v1.3h-1.5zM9 91h1.5v1.3h-1.5zM16.5 91h1.5v1.3h-1.5zM36 91h1.5v1.3h-1.5zM10.5 92.3h1.5v1.3h-1.5zM15 94.9h1.5v1.3h-1.5zM6 96.2h1.5v1.3h-1.5zM12 96.2h1.5v1.3h-1.5zM22.5 96.2h1.5v1.3h-1.5zM31.5 96.2h1.5v1.3h-1.5zM3 97.5h1.5v1.3h-1.5zM10.5 97.5h1.5v1.3h-1.5zM15 97.5h1.5v1.3h-1.5zM21 97.5h1.5v1.3h-1.5zM30 97.5h1.5v1.3h-1.5zM13.5 98.8h1.5v1.3h-1.5zM16.5 98.8h1.5v1.3h-1.5zM27 98.8h1.5v1.3h-1.5zM33 98.8h1.5v1.3h-1.5zM13.5 100.1h1.5v1.3h-1.5zM16.5 100.1h1.5v1.3h-1.5zM9 101.4h1.5v1.3h-1.5zM16.5 101.4h1.5v1.3h-1.5zM34.5 101.4h1.5v1.3h-1.5zM3 102.7h1.5v1.3h-1.5zM12 102.7h1.5v1.3h-1.5zM21 102.7h1.5v1.3h-1.5zM28.5 102.7h1.5v1.3h-1.5zM30 102.7h1.5v1.3h-1.5zM31.5 102.7h1.5v1.3h-1.5zM33 102.7h1.5v1.3h-1.5zM0 104h1.5v1.3h-1.5zM1.5 104h1.5v1.3h-1.5zM4.5 104h1.5v1.3h-1.5zM7.5 104h1.5v1.3h-1.5zM9 104h1.5v1.3h-1.5zM24 104h1.5v1.3h-1.5zM0 105.3h1.5v1.3h-1.5zM15 105.3h1.5v1.3h-1.5zM22.5 105.3h1.5v1.3h-1.5zM24 105.3h1.5v1.3h-1.5zM28.5 105.3h1.5v1.3h-1.5zM30 105.3h1.5v1.3h-1.5zM36 105.3h1.5v1.3h-1.5zM37.5 105.3h1.5v1.3h-1.5zM10.5 106.6h1.5v1.3h-1.5zM21 106.6h1.5v1.3h-1.5zM22.5 106.6h1.5v1.3h-1.5zM24 106.6h1.5v1.3h-1.5zM30 106.6h1.5v1.3h-1.5zM31.5 106.6h1.5v1.3h-1.5zM0 107.9h1.5v1.3h-1.5zM3 107.9h1.5v1.3h-1.5zM10.5 107.9h1.5v1.3h-1.5zM12 107.9h1.5v1.3h-1.5zM22.5 107.9h1.5v1.3h-1.5zM28.5 107.9h1.5v1.3h-1.5zM36 107.9h1.5v1.3h-1.5zM1.5 109.2h1.5v1.3h-1.5zM16.5 109.2h1.5v1.3h-1.5zM24 109.2h1.5v1.3h-1.5zM34.5 109.2h1.5v1.3h-1.5zM37.5 109.2h1.5v1.3h-1.5zM4.5 110.5h1.5v1.3h-1.5zM6 110.5h1.5v1.3h-1.5zM12 110.5h1.5v1.3h-1.5zM13.5 110.5h1.5v1.3h-1.5zM21 110.5h1.5v1.3h-1.5zM31.5 110.5h1.5v1.3h-1.5zM36 110.5h1.5v1.3h-1.5zM7.5 111.8h1.5v1.3h-1.5zM9 111.8h1.5v1.3h-1.5zM21 111.8h1.5v1.3h-1.5zM30 111.8h1.5v1.3h-1.5zM12 113.1h1.5v1.3h-1.5zM33 113.1h1.5v1.3h-1.5zM36 113.1h1.5v1.3h-1.5zM6 114.4h1.5v1.3h-1.5zM7.5 114.4h1.5v1.3h-1.5zM9 114.4h1.5v1.3h-1.5zM15 114.4h1.5v1.3h-1.5zM28.5 114.4h1.5v1.3h-1.5zM34.5 114.4h1.5v1.3h-1.5zM37.5 114.4h1.5v1.3h-1.5zM4.5 115.7h1.5v1.3h-1.5zM13.5 115.7h1.5v1.3h-1.5zM21 115.7h1.5v1.3h-1.5zM31.5 115.7h1.5v1.3h-1.5zM34.5 115.7h1.5v1.3h-1.5zM36 115.7h1.5v1.3h-1.5zM1.5 117h1.5v1.3h-1.5zM4.5 117h1.5v1.3h-1.5zM6 117h1.5v1.3h-1.5zM9 117h1.5v1.3h-1.5zM10.5 117h1.5v1.3h-1.5zM21 117h1.5v1.3h-1.5zM28.5 117h1.5v1.3h-1.5zM30 117h1.5v1.3h-1.5zM33 117h1.5v1.3h-1.5zM34.5 117h1.5v1.3h-1.5zM36 117h1.5v1.3h-1.5zM4.5 118.3h1.5v1.3h-1.5zM7.5 118.3h1.5v1.3h-1.5zM13.5 118.3h1.5v1.3h-1.5zM30 118.3h1.5v1.3h-1.5zM3 119.6h1.5v1.3h-1.5zM10.5 119.6h1.5v1.3h-1.5zM21 119.6h1.5v1.3h-1.5zM27 119.6h1.5v1.3h-1.5z"/>
<path fill="#e85a64" d="M18 1.3h1.5v1.3h-1.5zM18 5.2h1.5v1.3h-1.5zM18 7.8h1.5v1.3h-1.5zM18 9.1h1.5v1.3h-1.5zM18 15.6h1.5v1.3h-1.5zM18 18.2h1.5v1.3h-1.5zM18 31.2h1.5v1.3h-1.5zM18 49.4h1.5v1.3h-1.5zM19.5 58.5h1.5v1.3h-1.5zM19.5 66.3h1.5v1.3h-1.5zM19.5 67.6h1.5v1.3h-1.5zM18 68.9h1.5v1.3h-1.5zM19.5 80.6h1.5v1.3h-1.5zM18 83.2h1.5v1.3h-1.5zM18 84.5h1.5v1.3h-1.5zM18 85.8h1.5v1.3h-1.5zM18 89.7h1.5v1.3h-1.5zM19.5 94.9h1.5v1.3h-1.5zM19.5 98.8h1.5v1.3h-1.5zM19.5 110.5h1.5v1.3h-1.5z"/>
<path fill="#e2363f" d="M16.5 2.6h1.5v1.3h-1.5zM16.5 5.2h1.5v1.3h-1.5zM18 11.7h1.5v1.3h-1.5zM18 14.3h1.5v1.3h-1.5zM16.5 16.9h1.5v1.3h-1.5zM18 19.5h1.5v1.3h-1.5zM16.5 20.8h1.5v1.3h-1.5zM18 20.8h1.5v1.3h-1.5zM18 23.4h1.5v1.3h-1.5zM16.5 24.7h1.5v1.3h-1.5zM18 24.7h1.5v1.3h-1.5zM18 29.9h1.5v1.3h-1.5zM19.5 31.2h1.5v1.3h-1.5zM18 35.1h1.5v1.3h-1.5zM19.5 37.7h1.5v1.3h-1.5zM19.5 40.3h1.5v1.3h-1.5zM18 41.6h1.5v1.3h-1.5zM19.5 44.2h1.5v1.3h-1.5zM19.5 45.5h1.5v1.3h-1.5zM19.5 46.8h1.5v1.3h-1.5zM19.5 50.7h1.5v1.3h-1.5zM19.5 52h1.5v1.3h-1.5zM19.5 54.6h1.5v1.3h-1.5zM18 57.2h1.5v1.3h-1.5zM19.5 57.2h1.5v1.3h-1.5zM19.5 59.8h1.5v1.3h-1.5zM19.5 61.1h1.5v1.3h-1.5zM19.5 71.5h1.5v1.3h-1.5zM18 78h1.5v1.3h-1.5zM19.5 78h1.5v1.3h-1.5zM19.5 83.2h1.5v1.3h-1.5zM18 87.1h1.5v1.3h-1.5zM19.5 91h1.5v1.3h-1.5zM19.5 93.6h1.5v1.3h-1.5zM18 96.2h1.5v1.3h-1.5zM19.5 96.2h1.5v1.3h-1.5zM19.5 97.5h1.5v1.3h-1.5zM19.5 100.1h1.5v1.3h-1.5zM18 101.4h1.5v1.3h-1.5zM19.5 101.4h1.5v1.3h-1.5zM19.5 102.7h1.5v1.3h-1.5zM19.5 104h1.5v1.3h-1.5zM18 107.9h1.5v1.3h-1.5zM19.5 111.8h1.5v1.3h-1.5zM19.5 114.4h1.5v1.3h-1.5zM18 118.3h1.5v1.3h-1.5z"/>
<path fill="#d0202e" d="M18 3.9h1.5v1.3h-1.5zM16.5 6.5h1.5v1.3h-1.5zM18 10.4h1.5v1.3h-1.5zM16.5 11.7h1.5v1.3h-1.5zM16.5 13h1.5v1.3h-1.5zM16.5 14.3h1.5v1.3h-1.5zM16.5 18.2h1.5v1.3h-1.5zM19.5 26h1.5v1.3h-1.5zM19.5 29.9h1.5v1.3h-1.5zM18 32.5h1.5v1.3h-1.5zM19.5 32.5h1.5v1.3h-1.5zM19.5 35.1h1.5v1.3h-1.5zM18 36.4h1.5v1.3h-1.5zM19.5 36.4h1.5v1.3h-1.5zM18 39h1.5v1.3h-1.5zM18 48.1h1.5v1.3h-1.5zM19.5 48.1h1.5v1.3h-1.5zM18 52h1.5v1.3h-1.5zM19.5 53.3h1.5v1.3h-1.5zM18 61.1h1.5v1.3h-1.5zM19.5 65h1.5v1.3h-1.5zM18 71.5h1.5v1.3h-1.5zM18 76.7h1.5v1.3h-1.5zM18 81.9h1.5v1.3h-1.5zM19.5 81.9h1.5v1.3h-1.5zM19.5 84.5h1.5v1.3h-1.5zM19.5 89.7h1.5v1.3h-1.5zM18 98.8h1.5v1.3h-1.5zM18 100.1h1.5v1.3h-1.5zM18 104h1.5v1.3h-1.5zM18 105.3h1.5v1.3h-1.5zM19.5 107.9h1.5v1.3h-1.5zM18 111.8h1.5v1.3h-1.5zM18 114.4h1.5v1.3h-1.5zM19.5 115.7h1.5v1.3h-1.5zM19.5 118.3h1.5v1.3h-1.5zM18 119.6h1.5v1.3h-1.5z"/>
<path fill="#f08a90" d="M16.5 10.4h1.5v1.3h-1.5zM16.5 15.6h1.5v1.3h-1.5zM18 16.9h1.5v1.3h-1.5zM18 42.9h1.5v1.3h-1.5zM18 50.7h1.5v1.3h-1.5zM18 53.3h1.5v1.3h-1.5zM19.5 55.9h1.5v1.3h-1.5zM18 72.8h1.5v1.3h-1.5zM19.5 87.1h1.5v1.3h-1.5zM18 92.3h1.5v1.3h-1.5zM18 93.6h1.5v1.3h-1.5z"/>
</pattern>
<pattern id="h2" x="358.5" y="402.4" width="39" height="121" patternUnits="userSpaceOnUse">
<rect width="39" height="121" fill="#f4c4c8"/>
<path fill="#ffffff" d="M0 0h1.5v1.3h-1.5zM7.5 0h1.5v1.3h-1.5zM9 0h1.5v1.3h-1.5zM10.5 0h1.5v1.3h-1.5zM13.5 0h1.5v1.3h-1.5zM30 0h1.5v1.3h-1.5zM33 0h1.5v1.3h-1.5zM21 1.3h1.5v1.3h-1.5zM24 1.3h1.5v1.3h-1.5zM27 1.3h1.5v1.3h-1.5zM22.5 2.6h1.5v1.3h-1.5zM24 2.6h1.5v1.3h-1.5zM33 2.6h1.5v1.3h-1.5zM6 3.9h1.5v1.3h-1.5zM12 3.9h1.5v1.3h-1.5zM13.5 3.9h1.5v1.3h-1.5zM34.5 3.9h1.5v1.3h-1.5zM36 3.9h1.5v1.3h-1.5zM4.5 5.2h1.5v1.3h-1.5zM12 5.2h1.5v1.3h-1.5zM15 5.2h1.5v1.3h-1.5zM16.5 5.2h1.5v1.3h-1.5zM31.5 5.2h1.5v1.3h-1.5zM34.5 5.2h1.5v1.3h-1.5zM3 6.5h1.5v1.3h-1.5zM13.5 6.5h1.5v1.3h-1.5zM28.5 6.5h1.5v1.3h-1.5zM31.5 6.5h1.5v1.3h-1.5zM9 7.8h1.5v1.3h-1.5zM13.5 7.8h1.5v1.3h-1.5zM15 7.8h1.5v1.3h-1.5zM21 7.8h1.5v1.3h-1.5zM22.5 7.8h1.5v1.3h-1.5zM24 7.8h1.5v1.3h-1.5zM34.5 7.8h1.5v1.3h-1.5zM1.5 9.1h1.5v1.3h-1.5zM13.5 9.1h1.5v1.3h-1.5zM27 9.1h1.5v1.3h-1.5zM30 9.1h1.5v1.3h-1.5zM34.5 9.1h1.5v1.3h-1.5zM36 9.1h1.5v1.3h-1.5zM1.5 10.4h1.5v1.3h-1.5zM16.5 10.4h1.5v1.3h-1.5zM19.5 10.4h1.5v1.3h-1.5zM28.5 10.4h1.5v1.3h-1.5zM31.5 10.4h1.5v1.3h-1.5zM37.5 10.4h1.5v1.3h-1.5zM30 11.7h1.5v1.3h-1.5zM36 11.7h1.5v1.3h-1.5zM1.5 13h1.5v1.3h-1.5zM7.5 13h1.5v1.3h-1.5zM27 13h1.5v1.3h-1.5zM31.5 13h1.5v1.3h-1.5zM34.5 13h1.5v1.3h-1.5zM36 13h1.5v1.3h-1.5zM12 14.3h1.5v1.3h-1.5zM34.5 14.3h1.5v1.3h-1.5zM0 15.6h1.5v1.3h-1.5zM10.5 15.6h1.5v1.3h-1.5zM16.5 15.6h1.5v1.3h-1.5zM21 15.6h1.5v1.3h-1.5zM22.5 15.6h1.5v1.3h-1.5zM27 15.6h1.5v1.3h-1.5zM31.5 15.6h1.5v1.3h-1.5zM37.5 15.6h1.5v1.3h-1.5zM1.5 16.9h1.5v1.3h-1.5zM6 16.9h1.5v1.3h-1.5zM21 16.9h1.5v1.3h-1.5zM22.5 16.9h1.5v1.3h-1.5zM27 16.9h1.5v1.3h-1.5zM3 18.2h1.5v1.3h-1.5zM13.5 18.2h1.5v1.3h-1.5zM15 18.2h1.5v1.3h-1.5zM25.5 18.2h1.5v1.3h-1.5zM33 18.2h1.5v1.3h-1.5zM6 19.5h1.5v1.3h-1.5zM9 19.5h1.5v1.3h-1.5zM15 19.5h1.5v1.3h-1.5zM0 20.8h1.5v1.3h-1.5zM1.5 20.8h1.5v1.3h-1.5zM4.5 20.8h1.5v1.3h-1.5zM9 20.8h1.5v1.3h-1.5zM15 20.8h1.5v1.3h-1.5zM19.5 20.8h1.5v1.3h-1.5zM24 20.8h1.5v1.3h-1.5zM33 20.8h1.5v1.3h-1.5zM3 22.1h1.5v1.3h-1.5zM7.5 22.1h1.5v1.3h-1.5zM10.5 22.1h1.5v1.3h-1.5zM21 22.1h1.5v1.3h-1.5zM24 22.1h1.5v1.3h-1.5zM0 23.4h1.5v1.3h-1.5zM4.5 23.4h1.5v1.3h-1.5zM7.5 23.4h1.5v1.3h-1.5zM25.5 23.4h1.5v1.3h-1.5zM37.5 23.4h1.5v1.3h-1.5zM4.5 24.7h1.5v1.3h-1.5zM12 24.7h1.5v1.3h-1.5zM13.5 24.7h1.5v1.3h-1.5zM3 26h1.5v1.3h-1.5zM22.5 26h1.5v1.3h-1.5zM0 27.3h1.5v1.3h-1.5zM12 27.3h1.5v1.3h-1.5zM24 27.3h1.5v1.3h-1.5zM36 27.3h1.5v1.3h-1.5zM1.5 28.6h1.5v1.3h-1.5zM10.5 28.6h1.5v1.3h-1.5zM21 28.6h1.5v1.3h-1.5zM24 28.6h1.5v1.3h-1.5zM33 28.6h1.5v1.3h-1.5zM34.5 28.6h1.5v1.3h-1.5zM4.5 29.9h1.5v1.3h-1.5zM6 29.9h1.5v1.3h-1.5zM19.5 29.9h1.5v1.3h-1.5zM31.5 29.9h1.5v1.3h-1.5zM34.5 29.9h1.5v1.3h-1.5zM37.5 29.9h1.5v1.3h-1.5zM10.5 31.2h1.5v1.3h-1.5zM12 31.2h1.5v1.3h-1.5zM19.5 31.2h1.5v1.3h-1.5zM22.5 31.2h1.5v1.3h-1.5zM24 31.2h1.5v1.3h-1.5zM34.5 31.2h1.5v1.3h-1.5zM37.5 31.2h1.5v1.3h-1.5zM9 32.5h1.5v1.3h-1.5zM13.5 32.5h1.5v1.3h-1.5zM22.5 32.5h1.5v1.3h-1.5zM34.5 32.5h1.5v1.3h-1.5zM0 33.8h1.5v1.3h-1.5zM13.5 33.8h1.5v1.3h-1.5zM28.5 33.8h1.5v1.3h-1.5zM4.5 35.1h1.5v1.3h-1.5zM6 35.1h1.5v1.3h-1.5zM7.5 35.1h1.5v1.3h-1.5zM12 35.1h1.5v1.3h-1.5zM30 35.1h1.5v1.3h-1.5zM24 36.4h1.5v1.3h-1.5zM28.5 36.4h1.5v1.3h-1.5zM1.5 37.7h1.5v1.3h-1.5zM6 37.7h1.5v1.3h-1.5zM12 37.7h1.5v1.3h-1.5zM19.5 37.7h1.5v1.3h-1.5zM22.5 37.7h1.5v1.3h-1.5zM28.5 37.7h1.5v1.3h-1.5zM6 39h1.5v1.3h-1.5zM10.5 39h1.5v1.3h-1.5zM33 39h1.5v1.3h-1.5zM34.5 39h1.5v1.3h-1.5zM1.5 40.3h1.5v1.3h-1.5zM3 40.3h1.5v1.3h-1.5zM7.5 40.3h1.5v1.3h-1.5zM19.5 40.3h1.5v1.3h-1.5zM6 42.9h1.5v1.3h-1.5zM7.5 42.9h1.5v1.3h-1.5zM24 42.9h1.5v1.3h-1.5zM25.5 42.9h1.5v1.3h-1.5zM0 44.2h1.5v1.3h-1.5zM10.5 44.2h1.5v1.3h-1.5zM25.5 44.2h1.5v1.3h-1.5zM36 44.2h1.5v1.3h-1.5zM37.5 44.2h1.5v1.3h-1.5zM0 45.5h1.5v1.3h-1.5zM9 45.5h1.5v1.3h-1.5zM21 45.5h1.5v1.3h-1.5zM33 45.5h1.5v1.3h-1.5zM10.5 46.8h1.5v1.3h-1.5zM13.5 46.8h1.5v1.3h-1.5zM21 46.8h1.5v1.3h-1.5zM27 46.8h1.5v1.3h-1.5zM28.5 46.8h1.5v1.3h-1.5zM34.5 46.8h1.5v1.3h-1.5zM4.5 48.1h1.5v1.3h-1.5zM12 48.1h1.5v1.3h-1.5zM25.5 48.1h1.5v1.3h-1.5zM28.5 48.1h1.5v1.3h-1.5zM28.5 49.4h1.5v1.3h-1.5zM4.5 50.7h1.5v1.3h-1.5zM7.5 50.7h1.5v1.3h-1.5zM10.5 50.7h1.5v1.3h-1.5zM37.5 50.7h1.5v1.3h-1.5zM4.5 52h1.5v1.3h-1.5zM7.5 52h1.5v1.3h-1.5zM31.5 52h1.5v1.3h-1.5zM31.5 53.3h1.5v1.3h-1.5zM33 53.3h1.5v1.3h-1.5zM15 54.6h1.5v1.3h-1.5zM21 54.6h1.5v1.3h-1.5zM22.5 54.6h1.5v1.3h-1.5zM27 54.6h1.5v1.3h-1.5zM28.5 54.6h1.5v1.3h-1.5zM6 55.9h1.5v1.3h-1.5zM21 55.9h1.5v1.3h-1.5zM25.5 55.9h1.5v1.3h-1.5zM30 55.9h1.5v1.3h-1.5zM33 55.9h1.5v1.3h-1.5zM4.5 57.2h1.5v1.3h-1.5zM19.5 57.2h1.5v1.3h-1.5zM21 57.2h1.5v1.3h-1.5zM22.5 57.2h1.5v1.3h-1.5zM24 57.2h1.5v1.3h-1.5zM27 57.2h1.5v1.3h-1.5zM36 57.2h1.5v1.3h-1.5zM3 58.5h1.5v1.3h-1.5zM4.5 58.5h1.5v1.3h-1.5zM9 58.5h1.5v1.3h-1.5zM12 58.5h1.5v1.3h-1.5zM21 58.5h1.5v1.3h-1.5zM34.5 58.5h1.5v1.3h-1.5zM37.5 58.5h1.5v1.3h-1.5zM6 59.8h1.5v1.3h-1.5zM10.5 59.8h1.5v1.3h-1.5zM13.5 59.8h1.5v1.3h-1.5zM1.5 61.1h1.5v1.3h-1.5zM12 61.1h1.5v1.3h-1.5zM15 61.1h1.5v1.3h-1.5zM22.5 61.1h1.5v1.3h-1.5zM24 61.1h1.5v1.3h-1.5zM34.5 61.1h1.5v1.3h-1.5zM36 61.1h1.5v1.3h-1.5zM0 62.4h1.5v1.3h-1.5zM1.5 62.4h1.5v1.3h-1.5zM4.5 62.4h1.5v1.3h-1.5zM6 62.4h1.5v1.3h-1.5zM10.5 62.4h1.5v1.3h-1.5zM13.5 62.4h1.5v1.3h-1.5zM31.5 62.4h1.5v1.3h-1.5zM34.5 62.4h1.5v1.3h-1.5zM1.5 63.7h1.5v1.3h-1.5zM6 63.7h1.5v1.3h-1.5zM12 63.7h1.5v1.3h-1.5zM21 63.7h1.5v1.3h-1.5zM22.5 63.7h1.5v1.3h-1.5zM30 63.7h1.5v1.3h-1.5zM37.5 63.7h1.5v1.3h-1.5zM9 65h1.5v1.3h-1.5zM10.5 65h1.5v1.3h-1.5zM15 65h1.5v1.3h-1.5zM22.5 65h1.5v1.3h-1.5zM28.5 65h1.5v1.3h-1.5zM33 65h1.5v1.3h-1.5zM3 66.3h1.5v1.3h-1.5zM9 66.3h1.5v1.3h-1.5zM10.5 66.3h1.5v1.3h-1.5zM21 66.3h1.5v1.3h-1.5zM37.5 66.3h1.5v1.3h-1.5zM3 67.6h1.5v1.3h-1.5zM10.5 67.6h1.5v1.3h-1.5zM13.5 67.6h1.5v1.3h-1.5zM15 67.6h1.5v1.3h-1.5zM25.5 67.6h1.5v1.3h-1.5zM30 67.6h1.5v1.3h-1.5zM4.5 68.9h1.5v1.3h-1.5zM9 68.9h1.5v1.3h-1.5zM13.5 68.9h1.5v1.3h-1.5zM24 68.9h1.5v1.3h-1.5zM4.5 70.2h1.5v1.3h-1.5zM6 70.2h1.5v1.3h-1.5zM36 70.2h1.5v1.3h-1.5zM0 71.5h1.5v1.3h-1.5zM1.5 71.5h1.5v1.3h-1.5zM3 71.5h1.5v1.3h-1.5zM31.5 71.5h1.5v1.3h-1.5zM33 71.5h1.5v1.3h-1.5zM7.5 72.8h1.5v1.3h-1.5zM12 72.8h1.5v1.3h-1.5zM13.5 72.8h1.5v1.3h-1.5zM19.5 72.8h1.5v1.3h-1.5zM24 72.8h1.5v1.3h-1.5zM28.5 72.8h1.5v1.3h-1.5zM36 72.8h1.5v1.3h-1.5zM13.5 74.1h1.5v1.3h-1.5zM21 74.1h1.5v1.3h-1.5zM37.5 75.4h1.5v1.3h-1.5zM7.5 76.7h1.5v1.3h-1.5zM22.5 76.7h1.5v1.3h-1.5zM31.5 76.7h1.5v1.3h-1.5zM37.5 76.7h1.5v1.3h-1.5zM13.5 78h1.5v1.3h-1.5zM21 78h1.5v1.3h-1.5zM24 78h1.5v1.3h-1.5zM25.5 78h1.5v1.3h-1.5zM28.5 78h1.5v1.3h-1.5zM33 78h1.5v1.3h-1.5zM36 78h1.5v1.3h-1.5zM7.5 79.3h1.5v1.3h-1.5zM9 79.3h1.5v1.3h-1.5zM12 79.3h1.5v1.3h-1.5zM9 80.6h1.5v1.3h-1.5zM22.5 80.6h1.5v1.3h-1.5zM36 80.6h1.5v1.3h-1.5zM6 81.9h1.5v1.3h-1.5zM21 81.9h1.5v1.3h-1.5zM25.5 81.9h1.5v1.3h-1.5zM30 81.9h1.5v1.3h-1.5zM0 83.2h1.5v1.3h-1.5zM3 83.2h1.5v1.3h-1.5zM33 83.2h1.5v1.3h-1.5zM34.5 83.2h1.5v1.3h-1.5zM37.5 83.2h1.5v1.3h-1.5zM4.5 84.5h1.5v1.3h-1.5zM6 84.5h1.5v1.3h-1.5zM10.5 84.5h1.5v1.3h-1.5zM21 84.5h1.5v1.3h-1.5zM37.5 84.5h1.5v1.3h-1.5zM9 85.8h1.5v1.3h-1.5zM13.5 85.8h1.5v1.3h-1.5zM30 85.8h1.5v1.3h-1.5zM33 85.8h1.5v1.3h-1.5zM0 87.1h1.5v1.3h-1.5zM21 87.1h1.5v1.3h-1.5zM24 87.1h1.5v1.3h-1.5zM19.5 88.4h1.5v1.3h-1.5zM24 88.4h1.5v1.3h-1.5zM25.5 88.4h1.5v1.3h-1.5zM3 89.7h1.5v1.3h-1.5zM9 89.7h1.5v1.3h-1.5zM15 89.7h1.5v1.3h-1.5zM21 89.7h1.5v1.3h-1.5zM25.5 89.7h1.5v1.3h-1.5zM30 89.7h1.5v1.3h-1.5zM34.5 89.7h1.5v1.3h-1.5zM1.5 91h1.5v1.3h-1.5zM10.5 91h1.5v1.3h-1.5zM15 91h1.5v1.3h-1.5zM24 91h1.5v1.3h-1.5zM27 91h1.5v1.3h-1.5zM3 92.3h1.5v1.3h-1.5zM7.5 92.3h1.5v1.3h-1.5zM25.5 92.3h1.5v1.3h-1.5zM27 92.3h1.5v1.3h-1.5zM30 96.2h1.5v1.3h-1.5zM13.5 97.5h1.5v1.3h-1.5zM19.5 97.5h1.5v1.3h-1.5zM21 97.5h1.5v1.3h-1.5zM30 97.5h1.5v1.3h-1.5zM6 98.8h1.5v1.3h-1.5zM9 98.8h1.5v1.3h-1.5zM22.5 98.8h1.5v1.3h-1.5zM24 98.8h1.5v1.3h-1.5zM25.5 98.8h1.5v1.3h-1.5zM31.5 98.8h1.5v1.3h-1.5zM0 100.1h1.5v1.3h-1.5zM12 100.1h1.5v1.3h-1.5zM21 100.1h1.5v1.3h-1.5zM24 100.1h1.5v1.3h-1.5zM27 100.1h1.5v1.3h-1.5zM31.5 100.1h1.5v1.3h-1.5zM36 100.1h1.5v1.3h-1.5zM12 101.4h1.5v1.3h-1.5zM25.5 101.4h1.5v1.3h-1.5zM12 102.7h1.5v1.3h-1.5zM19.5 102.7h1.5v1.3h-1.5zM22.5 102.7h1.5v1.3h-1.5zM34.5 102.7h1.5v1.3h-1.5zM37.5 102.7h1.5v1.3h-1.5zM3 104h1.5v1.3h-1.5zM12 104h1.5v1.3h-1.5zM19.5 104h1.5v1.3h-1.5zM24 104h1.5v1.3h-1.5zM28.5 104h1.5v1.3h-1.5zM33 104h1.5v1.3h-1.5zM34.5 104h1.5v1.3h-1.5zM0 105.3h1.5v1.3h-1.5zM15 105.3h1.5v1.3h-1.5zM21 105.3h1.5v1.3h-1.5zM1.5 106.6h1.5v1.3h-1.5zM4.5 106.6h1.5v1.3h-1.5zM6 106.6h1.5v1.3h-1.5zM24 106.6h1.5v1.3h-1.5zM33 106.6h1.5v1.3h-1.5zM34.5 106.6h1.5v1.3h-1.5zM36 106.6h1.5v1.3h-1.5zM9 107.9h1.5v1.3h-1.5zM10.5 107.9h1.5v1.3h-1.5zM27 107.9h1.5v1.3h-1.5zM33 107.9h1.5v1.3h-1.5zM24 109.2h1.5v1.3h-1.5zM25.5 109.2h1.5v1.3h-1.5zM31.5 109.2h1.5v1.3h-1.5zM0 110.5h1.5v1.3h-1.5zM6 110.5h1.5v1.3h-1.5zM19.5 110.5h1.5v1.3h-1.5zM22.5 110.5h1.5v1.3h-1.5zM24 110.5h1.5v1.3h-1.5zM27 110.5h1.5v1.3h-1.5zM33 110.5h1.5v1.3h-1.5zM37.5 110.5h1.5v1.3h-1.5zM7.5 111.8h1.5v1.3h-1.5zM30 111.8h1.5v1.3h-1.5zM33 111.8h1.5v1.3h-1.5zM36 111.8h1.5v1.3h-1.5zM3 113.1h1.5v1.3h-1.5zM6 113.1h1.5v1.3h-1.5zM13.5 113.1h1.5v1.3h-1.5zM30 113.1h1.5v1.3h-1.5zM3 114.4h1.5v1.3h-1.5zM4.5 114.4h1.5v1.3h-1.5zM13.5 114.4h1.5v1.3h-1.5zM15 114.4h1.5v1.3h-1.5zM25.5 114.4h1.5v1.3h-1.5zM34.5 114.4h1.5v1.3h-1.5zM1.5 115.7h1.5v1.3h-1.5zM10.5 115.7h1.5v1.3h-1.5zM27 115.7h1.5v1.3h-1.5zM34.5 115.7h1.5v1.3h-1.5zM15 117h1.5v1.3h-1.5zM27 117h1.5v1.3h-1.5zM31.5 117h1.5v1.3h-1.5zM0 118.3h1.5v1.3h-1.5zM7.5 118.3h1.5v1.3h-1.5zM19.5 118.3h1.5v1.3h-1.5zM22.5 118.3h1.5v1.3h-1.5zM9 119.6h1.5v1.3h-1.5zM25.5 119.6h1.5v1.3h-1.5zM34.5 119.6h1.5v1.3h-1.5z"/>
<path fill="#d84050" d="M1.5 0h1.5v1.3h-1.5zM3 0h1.5v1.3h-1.5zM15 0h1.5v1.3h-1.5zM0 1.3h1.5v1.3h-1.5zM37.5 1.3h1.5v1.3h-1.5zM0 2.6h1.5v1.3h-1.5zM10.5 2.6h1.5v1.3h-1.5zM12 2.6h1.5v1.3h-1.5zM28.5 2.6h1.5v1.3h-1.5zM31.5 2.6h1.5v1.3h-1.5zM34.5 2.6h1.5v1.3h-1.5zM36 2.6h1.5v1.3h-1.5zM10.5 3.9h1.5v1.3h-1.5zM16.5 3.9h1.5v1.3h-1.5zM24 3.9h1.5v1.3h-1.5zM3 5.2h1.5v1.3h-1.5zM7.5 5.2h1.5v1.3h-1.5zM7.5 6.5h1.5v1.3h-1.5zM16.5 6.5h1.5v1.3h-1.5zM21 6.5h1.5v1.3h-1.5zM22.5 6.5h1.5v1.3h-1.5zM3 7.8h1.5v1.3h-1.5zM30 7.8h1.5v1.3h-1.5zM4.5 9.1h1.5v1.3h-1.5zM7.5 9.1h1.5v1.3h-1.5zM9 9.1h1.5v1.3h-1.5zM21 9.1h1.5v1.3h-1.5zM24 9.1h1.5v1.3h-1.5zM33 9.1h1.5v1.3h-1.5zM3 10.4h1.5v1.3h-1.5zM4.5 10.4h1.5v1.3h-1.5zM7.5 10.4h1.5v1.3h-1.5zM13.5 10.4h1.5v1.3h-1.5zM22.5 10.4h1.5v1.3h-1.5zM24 10.4h1.5v1.3h-1.5zM36 10.4h1.5v1.3h-1.5zM7.5 11.7h1.5v1.3h-1.5zM10.5 11.7h1.5v1.3h-1.5zM12 11.7h1.5v1.3h-1.5zM21 11.7h1.5v1.3h-1.5zM24 11.7h1.5v1.3h-1.5zM31.5 11.7h1.5v1.3h-1.5zM34.5 11.7h1.5v1.3h-1.5zM3 13h1.5v1.3h-1.5zM15 13h1.5v1.3h-1.5zM33 13h1.5v1.3h-1.5zM6 14.3h1.5v1.3h-1.5zM16.5 14.3h1.5v1.3h-1.5zM22.5 14.3h1.5v1.3h-1.5zM27 14.3h1.5v1.3h-1.5zM3 15.6h1.5v1.3h-1.5zM4.5 15.6h1.5v1.3h-1.5zM0 16.9h1.5v1.3h-1.5zM4.5 16.9h1.5v1.3h-1.5zM7.5 16.9h1.5v1.3h-1.5zM15 16.9h1.5v1.3h-1.5zM24 16.9h1.5v1.3h-1.5zM25.5 16.9h1.5v1.3h-1.5zM28.5 16.9h1.5v1.3h-1.5zM36 16.9h1.5v1.3h-1.5zM37.5 16.9h1.5v1.3h-1.5zM1.5 18.2h1.5v1.3h-1.5zM9 18.2h1.5v1.3h-1.5zM10.5 18.2h1.5v1.3h-1.5zM19.5 18.2h1.5v1.3h-1.5zM27 18.2h1.5v1.3h-1.5zM28.5 18.2h1.5v1.3h-1.5zM0 19.5h1.5v1.3h-1.5zM33 19.5h1.5v1.3h-1.5zM6 20.8h1.5v1.3h-1.5zM13.5 20.8h1.5v1.3h-1.5zM34.5 20.8h1.5v1.3h-1.5zM4.5 22.1h1.5v1.3h-1.5zM6 22.1h1.5v1.3h-1.5zM25.5 22.1h1.5v1.3h-1.5zM13.5 23.4h1.5v1.3h-1.5zM15 23.4h1.5v1.3h-1.5zM19.5 23.4h1.5v1.3h-1.5zM22.5 23.4h1.5v1.3h-1.5zM24 23.4h1.5v1.3h-1.5zM34.5 23.4h1.5v1.3h-1.5zM9 24.7h1.5v1.3h-1.5zM10.5 24.7h1.5v1.3h-1.5zM25.5 24.7h1.5v1.3h-1.5zM7.5 26h1.5v1.3h-1.5zM12 26h1.5v1.3h-1.5zM34.5 26h1.5v1.3h-1.5zM6 27.3h1.5v1.3h-1.5zM15 27.3h1.5v1.3h-1.5zM7.5 28.6h1.5v1.3h-1.5zM1.5 29.9h1.5v1.3h-1.5zM3 29.9h1.5v1.3h-1.5zM15 29.9h1.5v1.3h-1.5zM24 29.9h1.5v1.3h-1.5zM27 29.9h1.5v1.3h-1.5zM33 29.9h1.5v1.3h-1.5zM6 31.2h1.5v1.3h-1.5zM27 31.2h1.5v1.3h-1.5zM36 31.2h1.5v1.3h-1.5zM3 32.5h1.5v1.3h-1.5zM7.5 32.5h1.5v1.3h-1.5zM10.5 32.5h1.5v1.3h-1.5zM15 32.5h1.5v1.3h-1.5zM25.5 32.5h1.5v1.3h-1.5zM28.5 32.5h1.5v1.3h-1.5zM36 32.5h1.5v1.3h-1.5zM4.5 33.8h1.5v1.3h-1.5zM6 33.8h1.5v1.3h-1.5zM12 33.8h1.5v1.3h-1.5zM24 33.8h1.5v1.3h-1.5zM27 33.8h1.5v1.3h-1.5zM36 33.8h1.5v1.3h-1.5zM21 35.1h1.5v1.3h-1.5zM37.5 35.1h1.5v1.3h-1.5zM1.5 36.4h1.5v1.3h-1.5zM4.5 36.4h1.5v1.3h-1.5zM13.5 36.4h1.5v1.3h-1.5zM19.5 36.4h1.5v1.3h-1.5zM30 36.4h1.5v1.3h-1.5zM33 36.4h1.5v1.3h-1.5zM10.5 37.7h1.5v1.3h-1.5zM25.5 37.7h1.5v1.3h-1.5zM1.5 39h1.5v1.3h-1.5zM3 39h1.5v1.3h-1.5zM13.5 39h1.5v1.3h-1.5zM24 39h1.5v1.3h-1.5zM6 40.3h1.5v1.3h-1.5zM13.5 40.3h1.5v1.3h-1.5zM25.5 40.3h1.5v1.3h-1.5zM19.5 41.6h1.5v1.3h-1.5zM28.5 41.6h1.5v1.3h-1.5zM19.5 42.9h1.5v1.3h-1.5zM27 42.9h1.5v1.3h-1.5zM28.5 42.9h1.5v1.3h-1.5zM21 44.2h1.5v1.3h-1.5zM24 45.5h1.5v1.3h-1.5zM28.5 45.5h1.5v1.3h-1.5zM30 45.5h1.5v1.3h-1.5zM1.5 46.8h1.5v1.3h-1.5zM22.5 46.8h1.5v1.3h-1.5zM30 46.8h1.5v1.3h-1.5zM21 48.1h1.5v1.3h-1.5zM22.5 48.1h1.5v1.3h-1.5zM34.5 48.1h1.5v1.3h-1.5zM22.5 49.4h1.5v1.3h-1.5zM24 49.4h1.5v1.3h-1.5zM30 49.4h1.5v1.3h-1.5zM36 49.4h1.5v1.3h-1.5zM3 50.7h1.5v1.3h-1.5zM27 50.7h1.5v1.3h-1.5zM33 50.7h1.5v1.3h-1.5zM36 50.7h1.5v1.3h-1.5zM10.5 52h1.5v1.3h-1.5zM12 52h1.5v1.3h-1.5zM24 52h1.5v1.3h-1.5zM9 53.3h1.5v1.3h-1.5zM12 53.3h1.5v1.3h-1.5zM15 53.3h1.5v1.3h-1.5zM25.5 53.3h1.5v1.3h-1.5zM34.5 53.3h1.5v1.3h-1.5zM37.5 53.3h1.5v1.3h-1.5zM9 54.6h1.5v1.3h-1.5zM25.5 54.6h1.5v1.3h-1.5zM3 55.9h1.5v1.3h-1.5zM10.5 55.9h1.5v1.3h-1.5zM22.5 55.9h1.5v1.3h-1.5zM28.5 55.9h1.5v1.3h-1.5zM1.5 57.2h1.5v1.3h-1.5zM6 57.2h1.5v1.3h-1.5zM7.5 57.2h1.5v1.3h-1.5zM10.5 57.2h1.5v1.3h-1.5zM12 57.2h1.5v1.3h-1.5zM13.5 57.2h1.5v1.3h-1.5zM15 57.2h1.5v1.3h-1.5zM33 57.2h1.5v1.3h-1.5zM0 58.5h1.5v1.3h-1.5zM25.5 58.5h1.5v1.3h-1.5zM33 58.5h1.5v1.3h-1.5zM1.5 59.8h1.5v1.3h-1.5zM25.5 59.8h1.5v1.3h-1.5zM6 61.1h1.5v1.3h-1.5zM28.5 61.1h1.5v1.3h-1.5zM30 61.1h1.5v1.3h-1.5zM22.5 62.4h1.5v1.3h-1.5zM24 62.4h1.5v1.3h-1.5zM25.5 62.4h1.5v1.3h-1.5zM33 62.4h1.5v1.3h-1.5zM25.5 63.7h1.5v1.3h-1.5zM33 63.7h1.5v1.3h-1.5zM0 65h1.5v1.3h-1.5zM1.5 65h1.5v1.3h-1.5zM24 65h1.5v1.3h-1.5zM27 65h1.5v1.3h-1.5zM37.5 65h1.5v1.3h-1.5zM15 66.3h1.5v1.3h-1.5zM12 67.6h1.5v1.3h-1.5zM19.5 67.6h1.5v1.3h-1.5zM21 67.6h1.5v1.3h-1.5zM33 67.6h1.5v1.3h-1.5zM12 68.9h1.5v1.3h-1.5zM19.5 68.9h1.5v1.3h-1.5zM21 68.9h1.5v1.3h-1.5zM27 68.9h1.5v1.3h-1.5zM31.5 68.9h1.5v1.3h-1.5zM10.5 70.2h1.5v1.3h-1.5zM12 70.2h1.5v1.3h-1.5zM24 70.2h1.5v1.3h-1.5zM4.5 71.5h1.5v1.3h-1.5zM22.5 71.5h1.5v1.3h-1.5zM0 72.8h1.5v1.3h-1.5zM4.5 72.8h1.5v1.3h-1.5zM34.5 72.8h1.5v1.3h-1.5zM37.5 72.8h1.5v1.3h-1.5zM4.5 74.1h1.5v1.3h-1.5zM12 74.1h1.5v1.3h-1.5zM15 74.1h1.5v1.3h-1.5zM22.5 74.1h1.5v1.3h-1.5zM27 74.1h1.5v1.3h-1.5zM34.5 74.1h1.5v1.3h-1.5zM7.5 75.4h1.5v1.3h-1.5zM15 75.4h1.5v1.3h-1.5zM25.5 75.4h1.5v1.3h-1.5zM0 76.7h1.5v1.3h-1.5zM9 76.7h1.5v1.3h-1.5zM10.5 76.7h1.5v1.3h-1.5zM13.5 76.7h1.5v1.3h-1.5zM24 76.7h1.5v1.3h-1.5zM28.5 76.7h1.5v1.3h-1.5zM30 76.7h1.5v1.3h-1.5zM1.5 78h1.5v1.3h-1.5zM4.5 78h1.5v1.3h-1.5zM6 78h1.5v1.3h-1.5zM10.5 78h1.5v1.3h-1.5zM34.5 78h1.5v1.3h-1.5zM4.5 79.3h1.5v1.3h-1.5zM6 79.3h1.5v1.3h-1.5zM19.5 79.3h1.5v1.3h-1.5zM25.5 79.3h1.5v1.3h-1.5zM31.5 79.3h1.5v1.3h-1.5zM33 80.6h1.5v1.3h-1.5zM1.5 81.9h1.5v1.3h-1.5zM15 81.9h1.5v1.3h-1.5zM28.5 81.9h1.5v1.3h-1.5zM37.5 81.9h1.5v1.3h-1.5zM6 83.2h1.5v1.3h-1.5zM10.5 83.2h1.5v1.3h-1.5zM22.5 83.2h1.5v1.3h-1.5zM25.5 83.2h1.5v1.3h-1.5zM31.5 83.2h1.5v1.3h-1.5zM36 83.2h1.5v1.3h-1.5zM9 84.5h1.5v1.3h-1.5zM15 84.5h1.5v1.3h-1.5zM4.5 85.8h1.5v1.3h-1.5zM6 85.8h1.5v1.3h-1.5zM21 85.8h1.5v1.3h-1.5zM6 87.1h1.5v1.3h-1.5zM10.5 87.1h1.5v1.3h-1.5zM15 87.1h1.5v1.3h-1.5zM25.5 87.1h1.5v1.3h-1.5zM36 87.1h1.5v1.3h-1.5zM7.5 88.4h1.5v1.3h-1.5zM13.5 88.4h1.5v1.3h-1.5zM22.5 88.4h1.5v1.3h-1.5zM34.5 88.4h1.5v1.3h-1.5zM36 88.4h1.5v1.3h-1.5zM37.5 88.4h1.5v1.3h-1.5zM10.5 89.7h1.5v1.3h-1.5zM24 89.7h1.5v1.3h-1.5zM28.5 89.7h1.5v1.3h-1.5zM31.5 89.7h1.5v1.3h-1.5zM7.5 91h1.5v1.3h-1.5zM28.5 91h1.5v1.3h-1.5zM33 91h1.5v1.3h-1.5zM1.5 92.3h1.5v1.3h-1.5zM4.5 92.3h1.5v1.3h-1.5zM6 92.3h1.5v1.3h-1.5zM22.5 92.3h1.5v1.3h-1.5zM37.5 92.3h1.5v1.3h-1.5zM1.5 93.6h1.5v1.3h-1.5zM6 93.6h1.5v1.3h-1.5zM7.5 93.6h1.5v1.3h-1.5zM27 93.6h1.5v1.3h-1.5zM37.5 93.6h1.5v1.3h-1.5zM1.5 94.9h1.5v1.3h-1.5zM9 94.9h1.5v1.3h-1.5zM12 94.9h1.5v1.3h-1.5zM13.5 94.9h1.5v1.3h-1.5zM15 94.9h1.5v1.3h-1.5zM19.5 94.9h1.5v1.3h-1.5zM28.5 94.9h1.5v1.3h-1.5zM30 94.9h1.5v1.3h-1.5zM4.5 96.2h1.5v1.3h-1.5zM7.5 96.2h1.5v1.3h-1.5zM25.5 96.2h1.5v1.3h-1.5zM37.5 96.2h1.5v1.3h-1.5zM15 97.5h1.5v1.3h-1.5zM3 98.8h1.5v1.3h-1.5zM10.5 98.8h1.5v1.3h-1.5zM36 98.8h1.5v1.3h-1.5zM1.5 100.1h1.5v1.3h-1.5zM25.5 100.1h1.5v1.3h-1.5zM30 100.1h1.5v1.3h-1.5zM0 101.4h1.5v1.3h-1.5zM10.5 101.4h1.5v1.3h-1.5zM19.5 101.4h1.5v1.3h-1.5zM24 101.4h1.5v1.3h-1.5zM36 101.4h1.5v1.3h-1.5zM37.5 101.4h1.5v1.3h-1.5zM15 102.7h1.5v1.3h-1.5zM25.5 102.7h1.5v1.3h-1.5zM31.5 102.7h1.5v1.3h-1.5zM7.5 104h1.5v1.3h-1.5zM10.5 104h1.5v1.3h-1.5zM4.5 105.3h1.5v1.3h-1.5zM6 105.3h1.5v1.3h-1.5zM12 105.3h1.5v1.3h-1.5zM13.5 105.3h1.5v1.3h-1.5zM28.5 105.3h1.5v1.3h-1.5zM30 105.3h1.5v1.3h-1.5zM31.5 105.3h1.5v1.3h-1.5zM33 105.3h1.5v1.3h-1.5zM36 105.3h1.5v1.3h-1.5zM0 106.6h1.5v1.3h-1.5zM7.5 106.6h1.5v1.3h-1.5zM27 106.6h1.5v1.3h-1.5zM37.5 107.9h1.5v1.3h-1.5zM4.5 109.2h1.5v1.3h-1.5zM36 109.2h1.5v1.3h-1.5zM9 110.5h1.5v1.3h-1.5zM13.5 110.5h1.5v1.3h-1.5zM0 111.8h1.5v1.3h-1.5zM34.5 111.8h1.5v1.3h-1.5zM37.5 111.8h1.5v1.3h-1.5zM1.5 113.1h1.5v1.3h-1.5zM27 113.1h1.5v1.3h-1.5zM9 114.4h1.5v1.3h-1.5zM24 114.4h1.5v1.3h-1.5zM28.5 115.7h1.5v1.3h-1.5zM30 117h1.5v1.3h-1.5zM33 117h1.5v1.3h-1.5zM34.5 117h1.5v1.3h-1.5zM37.5 117h1.5v1.3h-1.5zM3 118.3h1.5v1.3h-1.5zM6 118.3h1.5v1.3h-1.5zM13.5 118.3h1.5v1.3h-1.5zM24 118.3h1.5v1.3h-1.5zM34.5 118.3h1.5v1.3h-1.5zM0 119.6h1.5v1.3h-1.5zM3 119.6h1.5v1.3h-1.5zM24 119.6h1.5v1.3h-1.5zM33 119.6h1.5v1.3h-1.5zM36 119.6h1.5v1.3h-1.5z"/>
<path fill="#f2aab2" d="M4.5 0h1.5v1.3h-1.5zM24 0h1.5v1.3h-1.5zM10.5 1.3h1.5v1.3h-1.5zM12 1.3h1.5v1.3h-1.5zM34.5 1.3h1.5v1.3h-1.5zM36 1.3h1.5v1.3h-1.5zM0 3.9h1.5v1.3h-1.5zM31.5 3.9h1.5v1.3h-1.5zM0 5.2h1.5v1.3h-1.5zM30 5.2h1.5v1.3h-1.5zM33 5.2h1.5v1.3h-1.5zM19.5 6.5h1.5v1.3h-1.5zM27 7.8h1.5v1.3h-1.5zM36 7.8h1.5v1.3h-1.5zM0 9.1h1.5v1.3h-1.5zM12 9.1h1.5v1.3h-1.5zM31.5 9.1h1.5v1.3h-1.5zM15 10.4h1.5v1.3h-1.5zM21 10.4h1.5v1.3h-1.5zM12 13h1.5v1.3h-1.5zM13.5 13h1.5v1.3h-1.5zM21 13h1.5v1.3h-1.5zM4.5 14.3h1.5v1.3h-1.5zM21 14.3h1.5v1.3h-1.5zM31.5 14.3h1.5v1.3h-1.5zM37.5 14.3h1.5v1.3h-1.5zM1.5 15.6h1.5v1.3h-1.5zM6 15.6h1.5v1.3h-1.5zM12 15.6h1.5v1.3h-1.5zM12 16.9h1.5v1.3h-1.5zM19.5 16.9h1.5v1.3h-1.5zM4.5 19.5h1.5v1.3h-1.5zM10.5 19.5h1.5v1.3h-1.5zM27 19.5h1.5v1.3h-1.5zM31.5 19.5h1.5v1.3h-1.5zM37.5 19.5h1.5v1.3h-1.5zM7.5 20.8h1.5v1.3h-1.5zM30 20.8h1.5v1.3h-1.5zM22.5 22.1h1.5v1.3h-1.5zM27 22.1h1.5v1.3h-1.5zM31.5 22.1h1.5v1.3h-1.5zM3 23.4h1.5v1.3h-1.5zM28.5 24.7h1.5v1.3h-1.5zM31.5 24.7h1.5v1.3h-1.5zM33 24.7h1.5v1.3h-1.5zM0 26h1.5v1.3h-1.5zM21 26h1.5v1.3h-1.5zM28.5 26h1.5v1.3h-1.5zM30 26h1.5v1.3h-1.5zM25.5 28.6h1.5v1.3h-1.5zM27 28.6h1.5v1.3h-1.5zM28.5 28.6h1.5v1.3h-1.5zM12 29.9h1.5v1.3h-1.5zM13.5 29.9h1.5v1.3h-1.5zM0 31.2h1.5v1.3h-1.5zM13.5 31.2h1.5v1.3h-1.5zM30 31.2h1.5v1.3h-1.5zM31.5 31.2h1.5v1.3h-1.5zM1.5 32.5h1.5v1.3h-1.5zM24 32.5h1.5v1.3h-1.5zM30 32.5h1.5v1.3h-1.5zM3 33.8h1.5v1.3h-1.5zM7.5 33.8h1.5v1.3h-1.5zM15 33.8h1.5v1.3h-1.5zM34.5 33.8h1.5v1.3h-1.5zM37.5 33.8h1.5v1.3h-1.5zM1.5 35.1h1.5v1.3h-1.5zM9 35.1h1.5v1.3h-1.5zM13.5 35.1h1.5v1.3h-1.5zM27 35.1h1.5v1.3h-1.5zM0 36.4h1.5v1.3h-1.5zM7.5 36.4h1.5v1.3h-1.5zM10.5 36.4h1.5v1.3h-1.5zM31.5 36.4h1.5v1.3h-1.5zM3 37.7h1.5v1.3h-1.5zM21 37.7h1.5v1.3h-1.5zM27 37.7h1.5v1.3h-1.5zM15 39h1.5v1.3h-1.5zM21 39h1.5v1.3h-1.5zM25.5 39h1.5v1.3h-1.5zM27 39h1.5v1.3h-1.5zM24 40.3h1.5v1.3h-1.5zM1.5 42.9h1.5v1.3h-1.5zM12 42.9h1.5v1.3h-1.5zM7.5 44.2h1.5v1.3h-1.5zM10.5 45.5h1.5v1.3h-1.5zM12 45.5h1.5v1.3h-1.5zM27 45.5h1.5v1.3h-1.5zM37.5 45.5h1.5v1.3h-1.5zM0 46.8h1.5v1.3h-1.5zM6 46.8h1.5v1.3h-1.5zM15 46.8h1.5v1.3h-1.5zM10.5 48.1h1.5v1.3h-1.5zM19.5 48.1h1.5v1.3h-1.5zM24 48.1h1.5v1.3h-1.5zM36 48.1h1.5v1.3h-1.5zM1.5 49.4h1.5v1.3h-1.5zM19.5 49.4h1.5v1.3h-1.5zM27 49.4h1.5v1.3h-1.5zM33 49.4h1.5v1.3h-1.5zM21 50.7h1.5v1.3h-1.5zM25.5 50.7h1.5v1.3h-1.5zM21 52h1.5v1.3h-1.5zM22.5 52h1.5v1.3h-1.5zM27 52h1.5v1.3h-1.5zM33 52h1.5v1.3h-1.5zM34.5 52h1.5v1.3h-1.5zM1.5 53.3h1.5v1.3h-1.5zM30 53.3h1.5v1.3h-1.5zM3 54.6h1.5v1.3h-1.5zM6 54.6h1.5v1.3h-1.5zM13.5 54.6h1.5v1.3h-1.5zM7.5 55.9h1.5v1.3h-1.5zM15 55.9h1.5v1.3h-1.5zM3 57.2h1.5v1.3h-1.5zM13.5 58.5h1.5v1.3h-1.5zM22.5 58.5h1.5v1.3h-1.5zM24 58.5h1.5v1.3h-1.5zM36 58.5h1.5v1.3h-1.5zM3 59.8h1.5v1.3h-1.5zM4.5 59.8h1.5v1.3h-1.5zM22.5 59.8h1.5v1.3h-1.5zM3 61.1h1.5v1.3h-1.5zM4.5 61.1h1.5v1.3h-1.5zM25.5 61.1h1.5v1.3h-1.5zM7.5 62.4h1.5v1.3h-1.5zM12 62.4h1.5v1.3h-1.5zM30 62.4h1.5v1.3h-1.5zM4.5 63.7h1.5v1.3h-1.5zM7.5 63.7h1.5v1.3h-1.5zM24 63.7h1.5v1.3h-1.5zM31.5 63.7h1.5v1.3h-1.5zM36 63.7h1.5v1.3h-1.5zM13.5 65h1.5v1.3h-1.5zM21 65h1.5v1.3h-1.5zM27 66.3h1.5v1.3h-1.5zM28.5 66.3h1.5v1.3h-1.5zM36 66.3h1.5v1.3h-1.5zM34.5 67.6h1.5v1.3h-1.5zM7.5 68.9h1.5v1.3h-1.5zM22.5 68.9h1.5v1.3h-1.5zM33 68.9h1.5v1.3h-1.5zM0 70.2h1.5v1.3h-1.5zM27 70.2h1.5v1.3h-1.5zM30 70.2h1.5v1.3h-1.5zM33 70.2h1.5v1.3h-1.5zM6 71.5h1.5v1.3h-1.5zM36 71.5h1.5v1.3h-1.5zM15 72.8h1.5v1.3h-1.5zM22.5 72.8h1.5v1.3h-1.5zM25.5 72.8h1.5v1.3h-1.5zM27 72.8h1.5v1.3h-1.5zM30 72.8h1.5v1.3h-1.5zM1.5 74.1h1.5v1.3h-1.5zM3 74.1h1.5v1.3h-1.5zM7.5 74.1h1.5v1.3h-1.5zM10.5 74.1h1.5v1.3h-1.5zM30 74.1h1.5v1.3h-1.5zM31.5 74.1h1.5v1.3h-1.5zM37.5 74.1h1.5v1.3h-1.5zM10.5 75.4h1.5v1.3h-1.5zM12 75.4h1.5v1.3h-1.5zM13.5 75.4h1.5v1.3h-1.5zM19.5 75.4h1.5v1.3h-1.5zM21 75.4h1.5v1.3h-1.5zM30 75.4h1.5v1.3h-1.5zM21 76.7h1.5v1.3h-1.5zM27 76.7h1.5v1.3h-1.5zM3 78h1.5v1.3h-1.5zM12 78h1.5v1.3h-1.5zM1.5 79.3h1.5v1.3h-1.5zM3 79.3h1.5v1.3h-1.5zM30 79.3h1.5v1.3h-1.5zM0 80.6h1.5v1.3h-1.5zM1.5 80.6h1.5v1.3h-1.5zM10.5 80.6h1.5v1.3h-1.5zM19.5 80.6h1.5v1.3h-1.5zM28.5 80.6h1.5v1.3h-1.5zM31.5 80.6h1.5v1.3h-1.5zM34.5 80.6h1.5v1.3h-1.5zM37.5 80.6h1.5v1.3h-1.5zM12 81.9h1.5v1.3h-1.5zM1.5 83.2h1.5v1.3h-1.5zM9 83.2h1.5v1.3h-1.5zM27 83.2h1.5v1.3h-1.5zM34.5 84.5h1.5v1.3h-1.5zM7.5 85.8h1.5v1.3h-1.5zM28.5 85.8h1.5v1.3h-1.5zM31.5 85.8h1.5v1.3h-1.5zM13.5 87.1h1.5v1.3h-1.5zM30 87.1h1.5v1.3h-1.5zM3 88.4h1.5v1.3h-1.5zM6 88.4h1.5v1.3h-1.5zM15 88.4h1.5v1.3h-1.5zM30 88.4h1.5v1.3h-1.5zM22.5 89.7h1.5v1.3h-1.5zM0 91h1.5v1.3h-1.5zM4.5 91h1.5v1.3h-1.5zM9 92.3h1.5v1.3h-1.5zM15 92.3h1.5v1.3h-1.5zM21 92.3h1.5v1.3h-1.5zM24 92.3h1.5v1.3h-1.5zM28.5 92.3h1.5v1.3h-1.5zM30 92.3h1.5v1.3h-1.5zM36 92.3h1.5v1.3h-1.5zM10.5 93.6h1.5v1.3h-1.5zM31.5 93.6h1.5v1.3h-1.5zM33 93.6h1.5v1.3h-1.5zM34.5 93.6h1.5v1.3h-1.5zM0 94.9h1.5v1.3h-1.5zM4.5 94.9h1.5v1.3h-1.5zM6 94.9h1.5v1.3h-1.5zM21 94.9h1.5v1.3h-1.5zM25.5 94.9h1.5v1.3h-1.5zM33 94.9h1.5v1.3h-1.5zM36 94.9h1.5v1.3h-1.5zM27 96.2h1.5v1.3h-1.5zM36 96.2h1.5v1.3h-1.5zM0 97.5h1.5v1.3h-1.5zM3 97.5h1.5v1.3h-1.5zM9 97.5h1.5v1.3h-1.5zM12 97.5h1.5v1.3h-1.5zM24 97.5h1.5v1.3h-1.5zM28.5 97.5h1.5v1.3h-1.5zM36 97.5h1.5v1.3h-1.5zM30 98.8h1.5v1.3h-1.5zM37.5 98.8h1.5v1.3h-1.5zM9 100.1h1.5v1.3h-1.5zM34.5 100.1h1.5v1.3h-1.5zM13.5 101.4h1.5v1.3h-1.5zM15 101.4h1.5v1.3h-1.5zM34.5 101.4h1.5v1.3h-1.5zM9 102.7h1.5v1.3h-1.5zM36 102.7h1.5v1.3h-1.5zM37.5 104h1.5v1.3h-1.5zM10.5 105.3h1.5v1.3h-1.5zM27 105.3h1.5v1.3h-1.5zM30 106.6h1.5v1.3h-1.5zM0 107.9h1.5v1.3h-1.5zM7.5 107.9h1.5v1.3h-1.5zM12 107.9h1.5v1.3h-1.5zM24 107.9h1.5v1.3h-1.5zM31.5 107.9h1.5v1.3h-1.5zM1.5 109.2h1.5v1.3h-1.5zM9 109.2h1.5v1.3h-1.5zM15 109.2h1.5v1.3h-1.5zM30 109.2h1.5v1.3h-1.5zM3 110.5h1.5v1.3h-1.5zM7.5 110.5h1.5v1.3h-1.5zM15 110.5h1.5v1.3h-1.5zM30 110.5h1.5v1.3h-1.5zM31.5 110.5h1.5v1.3h-1.5zM1.5 111.8h1.5v1.3h-1.5zM3 111.8h1.5v1.3h-1.5zM21 111.8h1.5v1.3h-1.5zM10.5 113.1h1.5v1.3h-1.5zM22.5 113.1h1.5v1.3h-1.5zM31.5 113.1h1.5v1.3h-1.5zM0 114.4h1.5v1.3h-1.5zM10.5 114.4h1.5v1.3h-1.5zM19.5 114.4h1.5v1.3h-1.5zM3 115.7h1.5v1.3h-1.5zM13.5 115.7h1.5v1.3h-1.5zM21 115.7h1.5v1.3h-1.5zM31.5 115.7h1.5v1.3h-1.5zM37.5 115.7h1.5v1.3h-1.5zM0 117h1.5v1.3h-1.5zM1.5 117h1.5v1.3h-1.5zM22.5 117h1.5v1.3h-1.5zM24 117h1.5v1.3h-1.5zM10.5 118.3h1.5v1.3h-1.5zM12 118.3h1.5v1.3h-1.5zM28.5 118.3h1.5v1.3h-1.5zM30 118.3h1.5v1.3h-1.5zM31.5 118.3h1.5v1.3h-1.5zM33 118.3h1.5v1.3h-1.5zM37.5 118.3h1.5v1.3h-1.5zM10.5 119.6h1.5v1.3h-1.5z"/>
<path fill="#ea8a94" d="M6 0h1.5v1.3h-1.5zM12 0h1.5v1.3h-1.5zM27 0h1.5v1.3h-1.5zM37.5 0h1.5v1.3h-1.5zM7.5 1.3h1.5v1.3h-1.5zM16.5 1.3h1.5v1.3h-1.5zM28.5 1.3h1.5v1.3h-1.5zM33 1.3h1.5v1.3h-1.5zM1.5 2.6h1.5v1.3h-1.5zM3 2.6h1.5v1.3h-1.5zM16.5 2.6h1.5v1.3h-1.5zM1.5 3.9h1.5v1.3h-1.5zM22.5 3.9h1.5v1.3h-1.5zM27 3.9h1.5v1.3h-1.5zM37.5 3.9h1.5v1.3h-1.5zM6 5.2h1.5v1.3h-1.5zM22.5 5.2h1.5v1.3h-1.5zM24 5.2h1.5v1.3h-1.5zM25.5 5.2h1.5v1.3h-1.5zM28.5 5.2h1.5v1.3h-1.5zM36 5.2h1.5v1.3h-1.5zM12 6.5h1.5v1.3h-1.5zM30 6.5h1.5v1.3h-1.5zM37.5 6.5h1.5v1.3h-1.5zM0 7.8h1.5v1.3h-1.5zM1.5 7.8h1.5v1.3h-1.5zM28.5 7.8h1.5v1.3h-1.5zM3 9.1h1.5v1.3h-1.5zM10.5 9.1h1.5v1.3h-1.5zM22.5 9.1h1.5v1.3h-1.5zM0 10.4h1.5v1.3h-1.5zM33 10.4h1.5v1.3h-1.5zM0 11.7h1.5v1.3h-1.5zM1.5 11.7h1.5v1.3h-1.5zM9 11.7h1.5v1.3h-1.5zM15 11.7h1.5v1.3h-1.5zM6 13h1.5v1.3h-1.5zM25.5 13h1.5v1.3h-1.5zM28.5 13h1.5v1.3h-1.5zM30 13h1.5v1.3h-1.5zM33 15.6h1.5v1.3h-1.5zM7.5 18.2h1.5v1.3h-1.5zM21 18.2h1.5v1.3h-1.5zM22.5 18.2h1.5v1.3h-1.5zM24 18.2h1.5v1.3h-1.5zM3 19.5h1.5v1.3h-1.5zM13.5 19.5h1.5v1.3h-1.5zM22.5 19.5h1.5v1.3h-1.5zM25.5 19.5h1.5v1.3h-1.5zM12 20.8h1.5v1.3h-1.5zM25.5 20.8h1.5v1.3h-1.5zM9 22.1h1.5v1.3h-1.5zM19.5 22.1h1.5v1.3h-1.5zM33 22.1h1.5v1.3h-1.5zM36 22.1h1.5v1.3h-1.5zM6 23.4h1.5v1.3h-1.5zM9 23.4h1.5v1.3h-1.5zM30 23.4h1.5v1.3h-1.5zM6 24.7h1.5v1.3h-1.5zM22.5 24.7h1.5v1.3h-1.5zM34.5 24.7h1.5v1.3h-1.5zM37.5 24.7h1.5v1.3h-1.5zM9 26h1.5v1.3h-1.5zM15 26h1.5v1.3h-1.5zM24 26h1.5v1.3h-1.5zM25.5 26h1.5v1.3h-1.5zM27 26h1.5v1.3h-1.5zM7.5 27.3h1.5v1.3h-1.5zM19.5 27.3h1.5v1.3h-1.5zM31.5 27.3h1.5v1.3h-1.5zM6 28.6h1.5v1.3h-1.5zM12 28.6h1.5v1.3h-1.5zM0 29.9h1.5v1.3h-1.5zM9 29.9h1.5v1.3h-1.5zM10.5 29.9h1.5v1.3h-1.5zM25.5 29.9h1.5v1.3h-1.5zM3 31.2h1.5v1.3h-1.5zM25.5 31.2h1.5v1.3h-1.5zM33 31.2h1.5v1.3h-1.5zM4.5 32.5h1.5v1.3h-1.5zM12 32.5h1.5v1.3h-1.5zM37.5 32.5h1.5v1.3h-1.5zM22.5 33.8h1.5v1.3h-1.5zM3 35.1h1.5v1.3h-1.5zM36 35.1h1.5v1.3h-1.5zM21 36.4h1.5v1.3h-1.5zM25.5 36.4h1.5v1.3h-1.5zM4.5 37.7h1.5v1.3h-1.5zM15 37.7h1.5v1.3h-1.5zM24 37.7h1.5v1.3h-1.5zM31.5 37.7h1.5v1.3h-1.5zM7.5 39h1.5v1.3h-1.5zM19.5 39h1.5v1.3h-1.5zM31.5 39h1.5v1.3h-1.5zM4.5 40.3h1.5v1.3h-1.5zM27 40.3h1.5v1.3h-1.5zM33 40.3h1.5v1.3h-1.5zM0 41.6h1.5v1.3h-1.5zM6 41.6h1.5v1.3h-1.5zM33 41.6h1.5v1.3h-1.5zM21 42.9h1.5v1.3h-1.5zM31.5 42.9h1.5v1.3h-1.5zM33 42.9h1.5v1.3h-1.5zM34.5 42.9h1.5v1.3h-1.5zM9 44.2h1.5v1.3h-1.5zM12 44.2h1.5v1.3h-1.5zM13.5 44.2h1.5v1.3h-1.5zM27 44.2h1.5v1.3h-1.5zM1.5 45.5h1.5v1.3h-1.5zM19.5 45.5h1.5v1.3h-1.5zM25.5 45.5h1.5v1.3h-1.5zM31.5 45.5h1.5v1.3h-1.5zM25.5 46.8h1.5v1.3h-1.5zM27 48.1h1.5v1.3h-1.5zM15 49.4h1.5v1.3h-1.5zM0 50.7h1.5v1.3h-1.5zM9 50.7h1.5v1.3h-1.5zM22.5 50.7h1.5v1.3h-1.5zM28.5 50.7h1.5v1.3h-1.5zM30 50.7h1.5v1.3h-1.5zM1.5 52h1.5v1.3h-1.5zM6 52h1.5v1.3h-1.5zM9 52h1.5v1.3h-1.5zM30 52h1.5v1.3h-1.5zM37.5 52h1.5v1.3h-1.5zM7.5 53.3h1.5v1.3h-1.5zM21 53.3h1.5v1.3h-1.5zM4.5 54.6h1.5v1.3h-1.5zM12 55.9h1.5v1.3h-1.5zM34.5 57.2h1.5v1.3h-1.5zM37.5 57.2h1.5v1.3h-1.5zM27 58.5h1.5v1.3h-1.5zM12 59.8h1.5v1.3h-1.5zM27 59.8h1.5v1.3h-1.5zM19.5 61.1h1.5v1.3h-1.5zM33 61.1h1.5v1.3h-1.5zM3 62.4h1.5v1.3h-1.5zM37.5 62.4h1.5v1.3h-1.5zM9 63.7h1.5v1.3h-1.5zM15 63.7h1.5v1.3h-1.5zM19.5 63.7h1.5v1.3h-1.5zM34.5 63.7h1.5v1.3h-1.5zM4.5 65h1.5v1.3h-1.5zM6 65h1.5v1.3h-1.5zM25.5 65h1.5v1.3h-1.5zM34.5 65h1.5v1.3h-1.5zM7.5 67.6h1.5v1.3h-1.5zM27 67.6h1.5v1.3h-1.5zM0 68.9h1.5v1.3h-1.5zM1.5 68.9h1.5v1.3h-1.5zM6 68.9h1.5v1.3h-1.5zM30 68.9h1.5v1.3h-1.5zM9 70.2h1.5v1.3h-1.5zM25.5 70.2h1.5v1.3h-1.5zM28.5 70.2h1.5v1.3h-1.5zM15 71.5h1.5v1.3h-1.5zM34.5 71.5h1.5v1.3h-1.5zM37.5 71.5h1.5v1.3h-1.5zM10.5 72.8h1.5v1.3h-1.5zM31.5 72.8h1.5v1.3h-1.5zM24 74.1h1.5v1.3h-1.5zM33 76.7h1.5v1.3h-1.5zM19.5 78h1.5v1.3h-1.5zM15 79.3h1.5v1.3h-1.5zM21 79.3h1.5v1.3h-1.5zM22.5 79.3h1.5v1.3h-1.5zM33 79.3h1.5v1.3h-1.5zM6 80.6h1.5v1.3h-1.5zM13.5 80.6h1.5v1.3h-1.5zM21 80.6h1.5v1.3h-1.5zM0 81.9h1.5v1.3h-1.5zM13.5 81.9h1.5v1.3h-1.5zM31.5 81.9h1.5v1.3h-1.5zM12 83.2h1.5v1.3h-1.5zM13.5 83.2h1.5v1.3h-1.5zM24 83.2h1.5v1.3h-1.5zM3 84.5h1.5v1.3h-1.5zM7.5 84.5h1.5v1.3h-1.5zM19.5 84.5h1.5v1.3h-1.5zM36 84.5h1.5v1.3h-1.5zM0 85.8h1.5v1.3h-1.5zM1.5 85.8h1.5v1.3h-1.5zM12 85.8h1.5v1.3h-1.5zM22.5 85.8h1.5v1.3h-1.5zM9 87.1h1.5v1.3h-1.5zM22.5 87.1h1.5v1.3h-1.5zM31.5 87.1h1.5v1.3h-1.5zM33 87.1h1.5v1.3h-1.5zM4.5 88.4h1.5v1.3h-1.5zM0 89.7h1.5v1.3h-1.5zM13.5 89.7h1.5v1.3h-1.5zM33 89.7h1.5v1.3h-1.5zM6 91h1.5v1.3h-1.5zM19.5 91h1.5v1.3h-1.5zM21 91h1.5v1.3h-1.5zM30 91h1.5v1.3h-1.5zM10.5 92.3h1.5v1.3h-1.5zM33 92.3h1.5v1.3h-1.5zM4.5 93.6h1.5v1.3h-1.5zM9 93.6h1.5v1.3h-1.5zM12 93.6h1.5v1.3h-1.5zM15 93.6h1.5v1.3h-1.5zM25.5 93.6h1.5v1.3h-1.5zM36 93.6h1.5v1.3h-1.5zM3 94.9h1.5v1.3h-1.5zM7.5 94.9h1.5v1.3h-1.5zM24 94.9h1.5v1.3h-1.5zM10.5 96.2h1.5v1.3h-1.5zM19.5 96.2h1.5v1.3h-1.5zM31.5 97.5h1.5v1.3h-1.5zM33 97.5h1.5v1.3h-1.5zM34.5 97.5h1.5v1.3h-1.5zM7.5 98.8h1.5v1.3h-1.5zM13.5 98.8h1.5v1.3h-1.5zM19.5 98.8h1.5v1.3h-1.5zM34.5 98.8h1.5v1.3h-1.5zM4.5 100.1h1.5v1.3h-1.5zM15 100.1h1.5v1.3h-1.5zM33 100.1h1.5v1.3h-1.5zM3 101.4h1.5v1.3h-1.5zM4.5 101.4h1.5v1.3h-1.5zM6 101.4h1.5v1.3h-1.5zM28.5 101.4h1.5v1.3h-1.5zM21 102.7h1.5v1.3h-1.5zM0 104h1.5v1.3h-1.5zM3 105.3h1.5v1.3h-1.5zM25.5 105.3h1.5v1.3h-1.5zM10.5 106.6h1.5v1.3h-1.5zM15 106.6h1.5v1.3h-1.5zM19.5 106.6h1.5v1.3h-1.5zM25.5 106.6h1.5v1.3h-1.5zM37.5 106.6h1.5v1.3h-1.5zM1.5 107.9h1.5v1.3h-1.5zM6 107.9h1.5v1.3h-1.5zM34.5 107.9h1.5v1.3h-1.5zM6 109.2h1.5v1.3h-1.5zM12 109.2h1.5v1.3h-1.5zM19.5 109.2h1.5v1.3h-1.5zM37.5 109.2h1.5v1.3h-1.5zM21 110.5h1.5v1.3h-1.5zM25.5 110.5h1.5v1.3h-1.5zM36 110.5h1.5v1.3h-1.5zM12 111.8h1.5v1.3h-1.5zM24 111.8h1.5v1.3h-1.5zM28.5 111.8h1.5v1.3h-1.5zM31.5 111.8h1.5v1.3h-1.5zM7.5 113.1h1.5v1.3h-1.5zM15 113.1h1.5v1.3h-1.5zM24 113.1h1.5v1.3h-1.5zM36 113.1h1.5v1.3h-1.5zM30 114.4h1.5v1.3h-1.5zM37.5 114.4h1.5v1.3h-1.5zM7.5 115.7h1.5v1.3h-1.5zM6 117h1.5v1.3h-1.5zM9 117h1.5v1.3h-1.5zM21 117h1.5v1.3h-1.5zM36 117h1.5v1.3h-1.5zM15 118.3h1.5v1.3h-1.5zM1.5 119.6h1.5v1.3h-1.5zM15 119.6h1.5v1.3h-1.5z"/>
<path fill="#dc2a38" d="M18 0h1.5v1.3h-1.5zM19.5 0h1.5v1.3h-1.5zM18 1.3h1.5v1.3h-1.5zM19.5 3.9h1.5v1.3h-1.5zM18 5.2h1.5v1.3h-1.5zM16.5 7.8h1.5v1.3h-1.5zM18 10.4h1.5v1.3h-1.5zM19.5 13h1.5v1.3h-1.5zM19.5 15.6h1.5v1.3h-1.5zM18 16.9h1.5v1.3h-1.5zM18 19.5h1.5v1.3h-1.5zM18 20.8h1.5v1.3h-1.5zM18 22.1h1.5v1.3h-1.5zM16.5 26h1.5v1.3h-1.5zM18 26h1.5v1.3h-1.5zM16.5 31.2h1.5v1.3h-1.5zM16.5 33.8h1.5v1.3h-1.5zM18 33.8h1.5v1.3h-1.5zM18 37.7h1.5v1.3h-1.5zM18 40.3h1.5v1.3h-1.5zM18 41.6h1.5v1.3h-1.5zM18 50.7h1.5v1.3h-1.5zM16.5 52h1.5v1.3h-1.5zM16.5 53.3h1.5v1.3h-1.5zM18 53.3h1.5v1.3h-1.5zM16.5 54.6h1.5v1.3h-1.5zM18 54.6h1.5v1.3h-1.5zM18 55.9h1.5v1.3h-1.5zM18 57.2h1.5v1.3h-1.5zM18 58.5h1.5v1.3h-1.5zM16.5 59.8h1.5v1.3h-1.5zM18 59.8h1.5v1.3h-1.5zM18 61.1h1.5v1.3h-1.5zM16.5 65h1.5v1.3h-1.5zM18 67.6h1.5v1.3h-1.5zM16.5 68.9h1.5v1.3h-1.5zM16.5 70.2h1.5v1.3h-1.5zM18 72.8h1.5v1.3h-1.5zM18 79.3h1.5v1.3h-1.5zM16.5 84.5h1.5v1.3h-1.5zM16.5 85.8h1.5v1.3h-1.5zM18 87.1h1.5v1.3h-1.5zM16.5 88.4h1.5v1.3h-1.5zM18 91h1.5v1.3h-1.5zM16.5 92.3h1.5v1.3h-1.5zM18 93.6h1.5v1.3h-1.5zM16.5 94.9h1.5v1.3h-1.5zM18 96.2h1.5v1.3h-1.5zM18 98.8h1.5v1.3h-1.5zM16.5 101.4h1.5v1.3h-1.5zM16.5 105.3h1.5v1.3h-1.5zM18 105.3h1.5v1.3h-1.5zM18 106.6h1.5v1.3h-1.5zM16.5 109.2h1.5v1.3h-1.5zM18 113.1h1.5v1.3h-1.5zM16.5 114.4h1.5v1.3h-1.5zM18 114.4h1.5v1.3h-1.5zM16.5 115.7h1.5v1.3h-1.5zM18 115.7h1.5v1.3h-1.5zM18 117h1.5v1.3h-1.5zM18 118.3h1.5v1.3h-1.5zM18 119.6h1.5v1.3h-1.5z"/>
<path fill="#e26472" d="M21 0h1.5v1.3h-1.5zM36 0h1.5v1.3h-1.5zM30 1.3h1.5v1.3h-1.5zM13.5 2.6h1.5v1.3h-1.5zM21 2.6h1.5v1.3h-1.5zM25.5 2.6h1.5v1.3h-1.5zM27 2.6h1.5v1.3h-1.5zM7.5 3.9h1.5v1.3h-1.5zM28.5 3.9h1.5v1.3h-1.5zM33 3.9h1.5v1.3h-1.5zM37.5 5.2h1.5v1.3h-1.5zM9 6.5h1.5v1.3h-1.5zM15 6.5h1.5v1.3h-1.5zM33 6.5h1.5v1.3h-1.5zM34.5 6.5h1.5v1.3h-1.5zM4.5 7.8h1.5v1.3h-1.5zM7.5 7.8h1.5v1.3h-1.5zM10.5 7.8h1.5v1.3h-1.5zM25.5 7.8h1.5v1.3h-1.5zM37.5 7.8h1.5v1.3h-1.5zM37.5 9.1h1.5v1.3h-1.5zM6 10.4h1.5v1.3h-1.5zM25.5 10.4h1.5v1.3h-1.5zM27 10.4h1.5v1.3h-1.5zM30 10.4h1.5v1.3h-1.5zM3 11.7h1.5v1.3h-1.5zM6 11.7h1.5v1.3h-1.5zM33 11.7h1.5v1.3h-1.5zM37.5 11.7h1.5v1.3h-1.5zM0 13h1.5v1.3h-1.5zM4.5 13h1.5v1.3h-1.5zM10.5 13h1.5v1.3h-1.5zM22.5 13h1.5v1.3h-1.5zM1.5 14.3h1.5v1.3h-1.5zM9 14.3h1.5v1.3h-1.5zM10.5 14.3h1.5v1.3h-1.5zM15 14.3h1.5v1.3h-1.5zM19.5 14.3h1.5v1.3h-1.5zM24 14.3h1.5v1.3h-1.5zM25.5 14.3h1.5v1.3h-1.5zM30 14.3h1.5v1.3h-1.5zM36 14.3h1.5v1.3h-1.5zM7.5 15.6h1.5v1.3h-1.5zM13.5 15.6h1.5v1.3h-1.5zM25.5 15.6h1.5v1.3h-1.5zM28.5 15.6h1.5v1.3h-1.5zM3 16.9h1.5v1.3h-1.5zM10.5 16.9h1.5v1.3h-1.5zM30 16.9h1.5v1.3h-1.5zM30 18.2h1.5v1.3h-1.5zM31.5 18.2h1.5v1.3h-1.5zM37.5 18.2h1.5v1.3h-1.5zM1.5 19.5h1.5v1.3h-1.5zM7.5 19.5h1.5v1.3h-1.5zM12 19.5h1.5v1.3h-1.5zM28.5 19.5h1.5v1.3h-1.5zM36 19.5h1.5v1.3h-1.5zM3 20.8h1.5v1.3h-1.5zM10.5 20.8h1.5v1.3h-1.5zM27 20.8h1.5v1.3h-1.5zM31.5 20.8h1.5v1.3h-1.5zM15 22.1h1.5v1.3h-1.5zM28.5 22.1h1.5v1.3h-1.5zM37.5 22.1h1.5v1.3h-1.5zM12 23.4h1.5v1.3h-1.5zM27 23.4h1.5v1.3h-1.5zM28.5 23.4h1.5v1.3h-1.5zM31.5 23.4h1.5v1.3h-1.5zM36 23.4h1.5v1.3h-1.5zM0 24.7h1.5v1.3h-1.5zM7.5 24.7h1.5v1.3h-1.5zM21 24.7h1.5v1.3h-1.5zM24 24.7h1.5v1.3h-1.5zM27 24.7h1.5v1.3h-1.5zM36 24.7h1.5v1.3h-1.5zM13.5 26h1.5v1.3h-1.5zM33 26h1.5v1.3h-1.5zM36 26h1.5v1.3h-1.5zM37.5 26h1.5v1.3h-1.5zM3 27.3h1.5v1.3h-1.5zM4.5 27.3h1.5v1.3h-1.5zM9 27.3h1.5v1.3h-1.5zM10.5 27.3h1.5v1.3h-1.5zM22.5 27.3h1.5v1.3h-1.5zM27 27.3h1.5v1.3h-1.5zM30 27.3h1.5v1.3h-1.5zM37.5 27.3h1.5v1.3h-1.5zM15 28.6h1.5v1.3h-1.5zM19.5 28.6h1.5v1.3h-1.5zM22.5 28.6h1.5v1.3h-1.5zM21 29.9h1.5v1.3h-1.5zM30 29.9h1.5v1.3h-1.5zM1.5 31.2h1.5v1.3h-1.5zM4.5 31.2h1.5v1.3h-1.5zM15 31.2h1.5v1.3h-1.5zM19.5 32.5h1.5v1.3h-1.5zM31.5 32.5h1.5v1.3h-1.5zM33 32.5h1.5v1.3h-1.5zM1.5 33.8h1.5v1.3h-1.5zM10.5 33.8h1.5v1.3h-1.5zM25.5 33.8h1.5v1.3h-1.5zM30 33.8h1.5v1.3h-1.5zM15 35.1h1.5v1.3h-1.5zM33 35.1h1.5v1.3h-1.5zM9 36.4h1.5v1.3h-1.5zM12 36.4h1.5v1.3h-1.5zM15 36.4h1.5v1.3h-1.5zM34.5 36.4h1.5v1.3h-1.5zM36 36.4h1.5v1.3h-1.5zM13.5 37.7h1.5v1.3h-1.5zM37.5 37.7h1.5v1.3h-1.5zM12 39h1.5v1.3h-1.5zM22.5 39h1.5v1.3h-1.5zM28.5 39h1.5v1.3h-1.5zM30 39h1.5v1.3h-1.5zM9 40.3h1.5v1.3h-1.5zM30 40.3h1.5v1.3h-1.5zM36 40.3h1.5v1.3h-1.5zM1.5 41.6h1.5v1.3h-1.5zM10.5 41.6h1.5v1.3h-1.5zM12 41.6h1.5v1.3h-1.5zM13.5 41.6h1.5v1.3h-1.5zM21 41.6h1.5v1.3h-1.5zM22.5 41.6h1.5v1.3h-1.5zM24 41.6h1.5v1.3h-1.5zM25.5 41.6h1.5v1.3h-1.5zM27 41.6h1.5v1.3h-1.5zM36 41.6h1.5v1.3h-1.5zM3 42.9h1.5v1.3h-1.5zM4.5 42.9h1.5v1.3h-1.5zM9 42.9h1.5v1.3h-1.5zM10.5 42.9h1.5v1.3h-1.5zM15 42.9h1.5v1.3h-1.5zM22.5 42.9h1.5v1.3h-1.5zM3 44.2h1.5v1.3h-1.5zM15 44.2h1.5v1.3h-1.5zM24 44.2h1.5v1.3h-1.5zM28.5 44.2h1.5v1.3h-1.5zM31.5 44.2h1.5v1.3h-1.5zM34.5 44.2h1.5v1.3h-1.5zM4.5 45.5h1.5v1.3h-1.5zM7.5 45.5h1.5v1.3h-1.5zM15 45.5h1.5v1.3h-1.5zM12 46.8h1.5v1.3h-1.5zM24 46.8h1.5v1.3h-1.5zM31.5 46.8h1.5v1.3h-1.5zM33 46.8h1.5v1.3h-1.5zM36 46.8h1.5v1.3h-1.5zM37.5 46.8h1.5v1.3h-1.5zM0 48.1h1.5v1.3h-1.5zM6 48.1h1.5v1.3h-1.5zM15 48.1h1.5v1.3h-1.5zM37.5 48.1h1.5v1.3h-1.5zM0 49.4h1.5v1.3h-1.5zM3 49.4h1.5v1.3h-1.5zM7.5 49.4h1.5v1.3h-1.5zM9 49.4h1.5v1.3h-1.5zM10.5 49.4h1.5v1.3h-1.5zM12 49.4h1.5v1.3h-1.5zM13.5 49.4h1.5v1.3h-1.5zM37.5 49.4h1.5v1.3h-1.5zM1.5 50.7h1.5v1.3h-1.5zM12 50.7h1.5v1.3h-1.5zM13.5 50.7h1.5v1.3h-1.5zM15 50.7h1.5v1.3h-1.5zM24 50.7h1.5v1.3h-1.5zM31.5 50.7h1.5v1.3h-1.5zM34.5 50.7h1.5v1.3h-1.5zM3 52h1.5v1.3h-1.5zM36 52h1.5v1.3h-1.5zM6 53.3h1.5v1.3h-1.5zM13.5 53.3h1.5v1.3h-1.5zM19.5 53.3h1.5v1.3h-1.5zM27 53.3h1.5v1.3h-1.5zM1.5 54.6h1.5v1.3h-1.5zM10.5 54.6h1.5v1.3h-1.5zM19.5 54.6h1.5v1.3h-1.5zM30 54.6h1.5v1.3h-1.5zM33 54.6h1.5v1.3h-1.5zM34.5 54.6h1.5v1.3h-1.5zM37.5 54.6h1.5v1.3h-1.5zM1.5 55.9h1.5v1.3h-1.5zM9 55.9h1.5v1.3h-1.5zM24 55.9h1.5v1.3h-1.5zM27 55.9h1.5v1.3h-1.5zM34.5 55.9h1.5v1.3h-1.5zM37.5 55.9h1.5v1.3h-1.5zM0 57.2h1.5v1.3h-1.5zM30 57.2h1.5v1.3h-1.5zM1.5 58.5h1.5v1.3h-1.5zM10.5 58.5h1.5v1.3h-1.5zM30 58.5h1.5v1.3h-1.5zM31.5 58.5h1.5v1.3h-1.5zM0 59.8h1.5v1.3h-1.5zM19.5 59.8h1.5v1.3h-1.5zM24 59.8h1.5v1.3h-1.5zM30 59.8h1.5v1.3h-1.5zM31.5 59.8h1.5v1.3h-1.5zM33 59.8h1.5v1.3h-1.5zM34.5 59.8h1.5v1.3h-1.5zM36 59.8h1.5v1.3h-1.5zM37.5 59.8h1.5v1.3h-1.5zM10.5 61.1h1.5v1.3h-1.5zM37.5 61.1h1.5v1.3h-1.5zM16.5 62.4h1.5v1.3h-1.5zM27 62.4h1.5v1.3h-1.5zM0 63.7h1.5v1.3h-1.5zM3 63.7h1.5v1.3h-1.5zM7.5 65h1.5v1.3h-1.5zM30 65h1.5v1.3h-1.5zM0 66.3h1.5v1.3h-1.5zM4.5 66.3h1.5v1.3h-1.5zM7.5 66.3h1.5v1.3h-1.5zM19.5 66.3h1.5v1.3h-1.5zM30 66.3h1.5v1.3h-1.5zM31.5 66.3h1.5v1.3h-1.5zM1.5 67.6h1.5v1.3h-1.5zM6 67.6h1.5v1.3h-1.5zM24 67.6h1.5v1.3h-1.5zM31.5 67.6h1.5v1.3h-1.5zM36 67.6h1.5v1.3h-1.5zM28.5 68.9h1.5v1.3h-1.5zM34.5 68.9h1.5v1.3h-1.5zM3 70.2h1.5v1.3h-1.5zM7.5 70.2h1.5v1.3h-1.5zM19.5 70.2h1.5v1.3h-1.5zM22.5 70.2h1.5v1.3h-1.5zM34.5 70.2h1.5v1.3h-1.5zM7.5 71.5h1.5v1.3h-1.5zM9 71.5h1.5v1.3h-1.5zM10.5 71.5h1.5v1.3h-1.5zM24 71.5h1.5v1.3h-1.5zM27 71.5h1.5v1.3h-1.5zM30 71.5h1.5v1.3h-1.5zM1.5 72.8h1.5v1.3h-1.5zM9 72.8h1.5v1.3h-1.5zM33 72.8h1.5v1.3h-1.5zM9 74.1h1.5v1.3h-1.5zM19.5 74.1h1.5v1.3h-1.5zM25.5 74.1h1.5v1.3h-1.5zM36 74.1h1.5v1.3h-1.5zM0 75.4h1.5v1.3h-1.5zM3 75.4h1.5v1.3h-1.5zM4.5 75.4h1.5v1.3h-1.5zM6 75.4h1.5v1.3h-1.5zM24 75.4h1.5v1.3h-1.5zM27 75.4h1.5v1.3h-1.5zM3 76.7h1.5v1.3h-1.5zM4.5 76.7h1.5v1.3h-1.5zM6 76.7h1.5v1.3h-1.5zM12 76.7h1.5v1.3h-1.5zM25.5 76.7h1.5v1.3h-1.5zM34.5 76.7h1.5v1.3h-1.5zM7.5 78h1.5v1.3h-1.5zM9 78h1.5v1.3h-1.5zM15 78h1.5v1.3h-1.5zM22.5 78h1.5v1.3h-1.5zM27 78h1.5v1.3h-1.5zM30 78h1.5v1.3h-1.5zM31.5 78h1.5v1.3h-1.5zM27 79.3h1.5v1.3h-1.5zM37.5 79.3h1.5v1.3h-1.5zM15 80.6h1.5v1.3h-1.5zM25.5 80.6h1.5v1.3h-1.5zM30 80.6h1.5v1.3h-1.5zM3 81.9h1.5v1.3h-1.5zM10.5 81.9h1.5v1.3h-1.5zM22.5 81.9h1.5v1.3h-1.5zM27 81.9h1.5v1.3h-1.5zM33 81.9h1.5v1.3h-1.5zM4.5 83.2h1.5v1.3h-1.5zM19.5 83.2h1.5v1.3h-1.5zM28.5 83.2h1.5v1.3h-1.5zM0 84.5h1.5v1.3h-1.5zM1.5 84.5h1.5v1.3h-1.5zM24 84.5h1.5v1.3h-1.5zM28.5 84.5h1.5v1.3h-1.5zM10.5 85.8h1.5v1.3h-1.5zM15 85.8h1.5v1.3h-1.5zM24 85.8h1.5v1.3h-1.5zM25.5 85.8h1.5v1.3h-1.5zM34.5 85.8h1.5v1.3h-1.5zM4.5 87.1h1.5v1.3h-1.5zM27 87.1h1.5v1.3h-1.5zM27 88.4h1.5v1.3h-1.5zM31.5 88.4h1.5v1.3h-1.5zM33 88.4h1.5v1.3h-1.5zM6 89.7h1.5v1.3h-1.5zM19.5 89.7h1.5v1.3h-1.5zM27 89.7h1.5v1.3h-1.5zM36 89.7h1.5v1.3h-1.5zM13.5 91h1.5v1.3h-1.5zM22.5 91h1.5v1.3h-1.5zM31.5 91h1.5v1.3h-1.5zM36 91h1.5v1.3h-1.5zM0 92.3h1.5v1.3h-1.5zM12 92.3h1.5v1.3h-1.5zM31.5 92.3h1.5v1.3h-1.5zM0 93.6h1.5v1.3h-1.5zM19.5 93.6h1.5v1.3h-1.5zM21 93.6h1.5v1.3h-1.5zM22.5 93.6h1.5v1.3h-1.5zM28.5 93.6h1.5v1.3h-1.5zM30 93.6h1.5v1.3h-1.5zM10.5 94.9h1.5v1.3h-1.5zM34.5 94.9h1.5v1.3h-1.5zM37.5 94.9h1.5v1.3h-1.5zM9 96.2h1.5v1.3h-1.5zM28.5 96.2h1.5v1.3h-1.5zM33 96.2h1.5v1.3h-1.5zM34.5 96.2h1.5v1.3h-1.5zM1.5 97.5h1.5v1.3h-1.5zM4.5 97.5h1.5v1.3h-1.5zM7.5 97.5h1.5v1.3h-1.5zM10.5 97.5h1.5v1.3h-1.5zM12 98.8h1.5v1.3h-1.5zM15 98.8h1.5v1.3h-1.5zM27 98.8h1.5v1.3h-1.5zM3 100.1h1.5v1.3h-1.5zM13.5 100.1h1.5v1.3h-1.5zM19.5 100.1h1.5v1.3h-1.5zM22.5 100.1h1.5v1.3h-1.5zM28.5 100.1h1.5v1.3h-1.5zM37.5 100.1h1.5v1.3h-1.5zM1.5 101.4h1.5v1.3h-1.5zM9 101.4h1.5v1.3h-1.5zM21 101.4h1.5v1.3h-1.5zM31.5 101.4h1.5v1.3h-1.5zM33 101.4h1.5v1.3h-1.5zM3 102.7h1.5v1.3h-1.5zM6 102.7h1.5v1.3h-1.5zM13.5 102.7h1.5v1.3h-1.5zM27 102.7h1.5v1.3h-1.5zM1.5 104h1.5v1.3h-1.5zM6 104h1.5v1.3h-1.5zM13.5 104h1.5v1.3h-1.5zM25.5 104h1.5v1.3h-1.5zM27 104h1.5v1.3h-1.5zM31.5 104h1.5v1.3h-1.5zM36 104h1.5v1.3h-1.5zM7.5 105.3h1.5v1.3h-1.5zM19.5 105.3h1.5v1.3h-1.5zM34.5 105.3h1.5v1.3h-1.5zM12 106.6h1.5v1.3h-1.5zM13.5 106.6h1.5v1.3h-1.5zM28.5 106.6h1.5v1.3h-1.5zM13.5 107.9h1.5v1.3h-1.5zM15 107.9h1.5v1.3h-1.5zM22.5 107.9h1.5v1.3h-1.5zM0 109.2h1.5v1.3h-1.5zM7.5 109.2h1.5v1.3h-1.5zM13.5 109.2h1.5v1.3h-1.5zM21 109.2h1.5v1.3h-1.5zM33 109.2h1.5v1.3h-1.5zM12 110.5h1.5v1.3h-1.5zM6 111.8h1.5v1.3h-1.5zM9 111.8h1.5v1.3h-1.5zM0 113.1h1.5v1.3h-1.5zM4.5 113.1h1.5v1.3h-1.5zM9 113.1h1.5v1.3h-1.5zM19.5 113.1h1.5v1.3h-1.5zM21 113.1h1.5v1.3h-1.5zM28.5 113.1h1.5v1.3h-1.5zM1.5 114.4h1.5v1.3h-1.5zM6 114.4h1.5v1.3h-1.5zM12 114.4h1.5v1.3h-1.5zM21 114.4h1.5v1.3h-1.5zM33 114.4h1.5v1.3h-1.5zM15 115.7h1.5v1.3h-1.5zM19.5 115.7h1.5v1.3h-1.5zM22.5 115.7h1.5v1.3h-1.5zM36 115.7h1.5v1.3h-1.5zM3 117h1.5v1.3h-1.5zM7.5 117h1.5v1.3h-1.5zM13.5 117h1.5v1.3h-1.5zM19.5 117h1.5v1.3h-1.5zM28.5 117h1.5v1.3h-1.5zM4.5 118.3h1.5v1.3h-1.5zM21 118.3h1.5v1.3h-1.5zM25.5 118.3h1.5v1.3h-1.5zM36 118.3h1.5v1.3h-1.5zM4.5 119.6h1.5v1.3h-1.5zM6 119.6h1.5v1.3h-1.5zM7.5 119.6h1.5v1.3h-1.5zM12 119.6h1.5v1.3h-1.5zM19.5 119.6h1.5v1.3h-1.5zM22.5 119.6h1.5v1.3h-1.5zM30 119.6h1.5v1.3h-1.5zM31.5 119.6h1.5v1.3h-1.5zM37.5 119.6h1.5v1.3h-1.5z"/>
<path fill="#fadcdf" d="M22.5 0h1.5v1.3h-1.5zM25.5 0h1.5v1.3h-1.5zM28.5 0h1.5v1.3h-1.5zM31.5 0h1.5v1.3h-1.5zM1.5 1.3h1.5v1.3h-1.5zM3 1.3h1.5v1.3h-1.5zM4.5 1.3h1.5v1.3h-1.5zM6 1.3h1.5v1.3h-1.5zM13.5 1.3h1.5v1.3h-1.5zM31.5 1.3h1.5v1.3h-1.5zM9 2.6h1.5v1.3h-1.5zM30 2.6h1.5v1.3h-1.5zM37.5 2.6h1.5v1.3h-1.5zM3 3.9h1.5v1.3h-1.5zM30 3.9h1.5v1.3h-1.5zM1.5 5.2h1.5v1.3h-1.5zM9 5.2h1.5v1.3h-1.5zM21 5.2h1.5v1.3h-1.5zM27 5.2h1.5v1.3h-1.5zM0 6.5h1.5v1.3h-1.5zM1.5 6.5h1.5v1.3h-1.5zM10.5 6.5h1.5v1.3h-1.5zM25.5 6.5h1.5v1.3h-1.5zM27 6.5h1.5v1.3h-1.5zM6 7.8h1.5v1.3h-1.5zM12 7.8h1.5v1.3h-1.5zM31.5 7.8h1.5v1.3h-1.5zM6 9.1h1.5v1.3h-1.5zM25.5 9.1h1.5v1.3h-1.5zM9 10.4h1.5v1.3h-1.5zM12 10.4h1.5v1.3h-1.5zM4.5 11.7h1.5v1.3h-1.5zM9 13h1.5v1.3h-1.5zM16.5 13h1.5v1.3h-1.5zM37.5 13h1.5v1.3h-1.5zM7.5 14.3h1.5v1.3h-1.5zM24 15.6h1.5v1.3h-1.5zM36 15.6h1.5v1.3h-1.5zM9 16.9h1.5v1.3h-1.5zM13.5 16.9h1.5v1.3h-1.5zM34.5 16.9h1.5v1.3h-1.5zM0 18.2h1.5v1.3h-1.5zM6 18.2h1.5v1.3h-1.5zM36 18.2h1.5v1.3h-1.5zM19.5 19.5h1.5v1.3h-1.5zM21 19.5h1.5v1.3h-1.5zM30 19.5h1.5v1.3h-1.5zM21 20.8h1.5v1.3h-1.5zM22.5 20.8h1.5v1.3h-1.5zM28.5 20.8h1.5v1.3h-1.5zM37.5 20.8h1.5v1.3h-1.5zM0 22.1h1.5v1.3h-1.5zM1.5 22.1h1.5v1.3h-1.5zM13.5 22.1h1.5v1.3h-1.5zM30 22.1h1.5v1.3h-1.5zM34.5 22.1h1.5v1.3h-1.5zM10.5 23.4h1.5v1.3h-1.5zM21 23.4h1.5v1.3h-1.5zM33 23.4h1.5v1.3h-1.5zM19.5 24.7h1.5v1.3h-1.5zM30 24.7h1.5v1.3h-1.5zM1.5 26h1.5v1.3h-1.5zM6 26h1.5v1.3h-1.5zM19.5 26h1.5v1.3h-1.5zM21 27.3h1.5v1.3h-1.5zM34.5 27.3h1.5v1.3h-1.5zM0 28.6h1.5v1.3h-1.5zM3 28.6h1.5v1.3h-1.5zM4.5 28.6h1.5v1.3h-1.5zM9 28.6h1.5v1.3h-1.5zM13.5 28.6h1.5v1.3h-1.5zM31.5 28.6h1.5v1.3h-1.5zM36 28.6h1.5v1.3h-1.5zM37.5 28.6h1.5v1.3h-1.5zM7.5 29.9h1.5v1.3h-1.5zM28.5 29.9h1.5v1.3h-1.5zM0 32.5h1.5v1.3h-1.5zM6 32.5h1.5v1.3h-1.5zM27 32.5h1.5v1.3h-1.5zM9 33.8h1.5v1.3h-1.5zM21 33.8h1.5v1.3h-1.5zM31.5 33.8h1.5v1.3h-1.5zM33 33.8h1.5v1.3h-1.5zM0 35.1h1.5v1.3h-1.5zM10.5 35.1h1.5v1.3h-1.5zM19.5 35.1h1.5v1.3h-1.5zM28.5 35.1h1.5v1.3h-1.5zM3 36.4h1.5v1.3h-1.5zM37.5 36.4h1.5v1.3h-1.5zM7.5 37.7h1.5v1.3h-1.5zM9 37.7h1.5v1.3h-1.5zM33 37.7h1.5v1.3h-1.5zM36 37.7h1.5v1.3h-1.5zM0 39h1.5v1.3h-1.5zM9 39h1.5v1.3h-1.5zM36 39h1.5v1.3h-1.5zM0 40.3h1.5v1.3h-1.5zM10.5 40.3h1.5v1.3h-1.5zM21 40.3h1.5v1.3h-1.5zM22.5 40.3h1.5v1.3h-1.5zM28.5 40.3h1.5v1.3h-1.5zM31.5 40.3h1.5v1.3h-1.5zM34.5 40.3h1.5v1.3h-1.5zM3 41.6h1.5v1.3h-1.5zM9 41.6h1.5v1.3h-1.5zM37.5 41.6h1.5v1.3h-1.5zM36 42.9h1.5v1.3h-1.5zM37.5 42.9h1.5v1.3h-1.5zM6 44.2h1.5v1.3h-1.5zM19.5 44.2h1.5v1.3h-1.5zM22.5 44.2h1.5v1.3h-1.5zM3 45.5h1.5v1.3h-1.5zM6 45.5h1.5v1.3h-1.5zM13.5 45.5h1.5v1.3h-1.5zM22.5 45.5h1.5v1.3h-1.5zM34.5 45.5h1.5v1.3h-1.5zM36 45.5h1.5v1.3h-1.5zM9 46.8h1.5v1.3h-1.5zM19.5 46.8h1.5v1.3h-1.5zM7.5 48.1h1.5v1.3h-1.5zM13.5 48.1h1.5v1.3h-1.5zM33 48.1h1.5v1.3h-1.5zM4.5 49.4h1.5v1.3h-1.5zM6 49.4h1.5v1.3h-1.5zM25.5 49.4h1.5v1.3h-1.5zM6 50.7h1.5v1.3h-1.5zM13.5 52h1.5v1.3h-1.5zM19.5 52h1.5v1.3h-1.5zM25.5 52h1.5v1.3h-1.5zM28.5 52h1.5v1.3h-1.5zM0 53.3h1.5v1.3h-1.5zM3 53.3h1.5v1.3h-1.5zM28.5 53.3h1.5v1.3h-1.5zM0 54.6h1.5v1.3h-1.5zM7.5 54.6h1.5v1.3h-1.5zM12 54.6h1.5v1.3h-1.5zM4.5 55.9h1.5v1.3h-1.5zM13.5 55.9h1.5v1.3h-1.5zM19.5 55.9h1.5v1.3h-1.5zM31.5 55.9h1.5v1.3h-1.5zM36 55.9h1.5v1.3h-1.5zM9 57.2h1.5v1.3h-1.5zM31.5 57.2h1.5v1.3h-1.5zM6 58.5h1.5v1.3h-1.5zM7.5 58.5h1.5v1.3h-1.5zM15 58.5h1.5v1.3h-1.5zM19.5 58.5h1.5v1.3h-1.5zM9 59.8h1.5v1.3h-1.5zM15 59.8h1.5v1.3h-1.5zM7.5 61.1h1.5v1.3h-1.5zM9 61.1h1.5v1.3h-1.5zM13.5 61.1h1.5v1.3h-1.5zM21 61.1h1.5v1.3h-1.5zM27 61.1h1.5v1.3h-1.5zM31.5 61.1h1.5v1.3h-1.5zM9 62.4h1.5v1.3h-1.5zM15 62.4h1.5v1.3h-1.5zM19.5 62.4h1.5v1.3h-1.5zM21 62.4h1.5v1.3h-1.5zM28.5 62.4h1.5v1.3h-1.5zM13.5 63.7h1.5v1.3h-1.5zM27 63.7h1.5v1.3h-1.5zM3 65h1.5v1.3h-1.5zM12 65h1.5v1.3h-1.5zM19.5 65h1.5v1.3h-1.5zM31.5 65h1.5v1.3h-1.5zM1.5 66.3h1.5v1.3h-1.5zM22.5 66.3h1.5v1.3h-1.5zM24 66.3h1.5v1.3h-1.5zM25.5 66.3h1.5v1.3h-1.5zM33 66.3h1.5v1.3h-1.5zM34.5 66.3h1.5v1.3h-1.5zM9 67.6h1.5v1.3h-1.5zM22.5 67.6h1.5v1.3h-1.5zM28.5 67.6h1.5v1.3h-1.5zM37.5 67.6h1.5v1.3h-1.5zM10.5 68.9h1.5v1.3h-1.5zM36 68.9h1.5v1.3h-1.5zM13.5 70.2h1.5v1.3h-1.5zM15 70.2h1.5v1.3h-1.5zM21 70.2h1.5v1.3h-1.5zM31.5 70.2h1.5v1.3h-1.5zM19.5 71.5h1.5v1.3h-1.5zM21 71.5h1.5v1.3h-1.5zM25.5 71.5h1.5v1.3h-1.5zM6 72.8h1.5v1.3h-1.5zM0 74.1h1.5v1.3h-1.5zM28.5 74.1h1.5v1.3h-1.5zM33 74.1h1.5v1.3h-1.5zM1.5 75.4h1.5v1.3h-1.5zM22.5 75.4h1.5v1.3h-1.5zM33 75.4h1.5v1.3h-1.5zM34.5 75.4h1.5v1.3h-1.5zM36 75.4h1.5v1.3h-1.5zM15 76.7h1.5v1.3h-1.5zM0 78h1.5v1.3h-1.5zM37.5 78h1.5v1.3h-1.5zM10.5 79.3h1.5v1.3h-1.5zM24 79.3h1.5v1.3h-1.5zM28.5 79.3h1.5v1.3h-1.5zM3 80.6h1.5v1.3h-1.5zM12 80.6h1.5v1.3h-1.5zM16.5 80.6h1.5v1.3h-1.5zM24 80.6h1.5v1.3h-1.5zM27 80.6h1.5v1.3h-1.5zM4.5 81.9h1.5v1.3h-1.5zM19.5 81.9h1.5v1.3h-1.5zM24 81.9h1.5v1.3h-1.5zM34.5 81.9h1.5v1.3h-1.5zM36 81.9h1.5v1.3h-1.5zM7.5 83.2h1.5v1.3h-1.5zM15 83.2h1.5v1.3h-1.5zM30 83.2h1.5v1.3h-1.5zM12 84.5h1.5v1.3h-1.5zM22.5 84.5h1.5v1.3h-1.5zM25.5 84.5h1.5v1.3h-1.5zM30 84.5h1.5v1.3h-1.5zM3 85.8h1.5v1.3h-1.5zM19.5 85.8h1.5v1.3h-1.5zM27 85.8h1.5v1.3h-1.5zM7.5 87.1h1.5v1.3h-1.5zM19.5 87.1h1.5v1.3h-1.5zM34.5 87.1h1.5v1.3h-1.5zM37.5 87.1h1.5v1.3h-1.5zM10.5 88.4h1.5v1.3h-1.5zM12 88.4h1.5v1.3h-1.5zM28.5 88.4h1.5v1.3h-1.5zM4.5 89.7h1.5v1.3h-1.5zM37.5 89.7h1.5v1.3h-1.5zM3 91h1.5v1.3h-1.5zM9 91h1.5v1.3h-1.5zM12 91h1.5v1.3h-1.5zM25.5 91h1.5v1.3h-1.5zM37.5 91h1.5v1.3h-1.5zM13.5 92.3h1.5v1.3h-1.5zM19.5 92.3h1.5v1.3h-1.5zM3 93.6h1.5v1.3h-1.5zM13.5 93.6h1.5v1.3h-1.5zM24 93.6h1.5v1.3h-1.5zM22.5 94.9h1.5v1.3h-1.5zM27 94.9h1.5v1.3h-1.5zM31.5 94.9h1.5v1.3h-1.5zM3 96.2h1.5v1.3h-1.5zM13.5 96.2h1.5v1.3h-1.5zM15 96.2h1.5v1.3h-1.5zM21 96.2h1.5v1.3h-1.5zM22.5 96.2h1.5v1.3h-1.5zM24 96.2h1.5v1.3h-1.5zM6 97.5h1.5v1.3h-1.5zM25.5 97.5h1.5v1.3h-1.5zM37.5 97.5h1.5v1.3h-1.5zM0 98.8h1.5v1.3h-1.5zM1.5 98.8h1.5v1.3h-1.5zM21 98.8h1.5v1.3h-1.5zM33 98.8h1.5v1.3h-1.5zM10.5 100.1h1.5v1.3h-1.5zM22.5 101.4h1.5v1.3h-1.5zM27 101.4h1.5v1.3h-1.5zM0 102.7h1.5v1.3h-1.5zM1.5 102.7h1.5v1.3h-1.5zM4.5 102.7h1.5v1.3h-1.5zM28.5 102.7h1.5v1.3h-1.5zM30 102.7h1.5v1.3h-1.5zM33 102.7h1.5v1.3h-1.5zM4.5 104h1.5v1.3h-1.5zM15 104h1.5v1.3h-1.5zM22.5 104h1.5v1.3h-1.5zM1.5 105.3h1.5v1.3h-1.5zM22.5 105.3h1.5v1.3h-1.5zM24 105.3h1.5v1.3h-1.5zM37.5 105.3h1.5v1.3h-1.5zM3 106.6h1.5v1.3h-1.5zM21 106.6h1.5v1.3h-1.5zM22.5 106.6h1.5v1.3h-1.5zM31.5 106.6h1.5v1.3h-1.5zM4.5 107.9h1.5v1.3h-1.5zM19.5 107.9h1.5v1.3h-1.5zM21 107.9h1.5v1.3h-1.5zM25.5 107.9h1.5v1.3h-1.5zM28.5 107.9h1.5v1.3h-1.5zM30 107.9h1.5v1.3h-1.5zM36 107.9h1.5v1.3h-1.5zM3 109.2h1.5v1.3h-1.5zM10.5 109.2h1.5v1.3h-1.5zM27 109.2h1.5v1.3h-1.5zM28.5 109.2h1.5v1.3h-1.5zM28.5 110.5h1.5v1.3h-1.5zM34.5 110.5h1.5v1.3h-1.5zM10.5 111.8h1.5v1.3h-1.5zM13.5 111.8h1.5v1.3h-1.5zM19.5 111.8h1.5v1.3h-1.5zM12 113.1h1.5v1.3h-1.5zM25.5 113.1h1.5v1.3h-1.5zM34.5 113.1h1.5v1.3h-1.5zM7.5 114.4h1.5v1.3h-1.5zM22.5 114.4h1.5v1.3h-1.5zM27 114.4h1.5v1.3h-1.5zM28.5 114.4h1.5v1.3h-1.5zM31.5 114.4h1.5v1.3h-1.5zM0 115.7h1.5v1.3h-1.5zM6 115.7h1.5v1.3h-1.5zM24 115.7h1.5v1.3h-1.5zM25.5 115.7h1.5v1.3h-1.5zM4.5 117h1.5v1.3h-1.5zM12 117h1.5v1.3h-1.5zM1.5 118.3h1.5v1.3h-1.5zM27 118.3h1.5v1.3h-1.5zM21 119.6h1.5v1.3h-1.5zM28.5 119.6h1.5v1.3h-1.5z"/>
<path fill="#e2363f" d="M19.5 1.3h1.5v1.3h-1.5zM19.5 5.2h1.5v1.3h-1.5zM18 9.1h1.5v1.3h-1.5zM19.5 11.7h1.5v1.3h-1.5zM18 15.6h1.5v1.3h-1.5zM16.5 18.2h1.5v1.3h-1.5zM18 18.2h1.5v1.3h-1.5zM16.5 22.1h1.5v1.3h-1.5zM16.5 23.4h1.5v1.3h-1.5zM16.5 24.7h1.5v1.3h-1.5zM18 24.7h1.5v1.3h-1.5zM18 28.6h1.5v1.3h-1.5zM18 31.2h1.5v1.3h-1.5zM18 32.5h1.5v1.3h-1.5zM16.5 35.1h1.5v1.3h-1.5zM16.5 36.4h1.5v1.3h-1.5zM18 39h1.5v1.3h-1.5zM16.5 40.3h1.5v1.3h-1.5zM16.5 44.2h1.5v1.3h-1.5zM16.5 45.5h1.5v1.3h-1.5zM18 45.5h1.5v1.3h-1.5zM16.5 48.1h1.5v1.3h-1.5zM18 48.1h1.5v1.3h-1.5zM18 52h1.5v1.3h-1.5zM16.5 57.2h1.5v1.3h-1.5zM16.5 58.5h1.5v1.3h-1.5zM16.5 61.1h1.5v1.3h-1.5zM18 62.4h1.5v1.3h-1.5zM16.5 63.7h1.5v1.3h-1.5zM18 63.7h1.5v1.3h-1.5zM18 66.3h1.5v1.3h-1.5zM18 68.9h1.5v1.3h-1.5zM16.5 75.4h1.5v1.3h-1.5zM18 76.7h1.5v1.3h-1.5zM18 80.6h1.5v1.3h-1.5zM16.5 81.9h1.5v1.3h-1.5zM16.5 83.2h1.5v1.3h-1.5zM18 83.2h1.5v1.3h-1.5zM18 85.8h1.5v1.3h-1.5zM18 89.7h1.5v1.3h-1.5zM16.5 91h1.5v1.3h-1.5zM16.5 93.6h1.5v1.3h-1.5zM16.5 96.2h1.5v1.3h-1.5zM16.5 98.8h1.5v1.3h-1.5zM18 100.1h1.5v1.3h-1.5zM16.5 102.7h1.5v1.3h-1.5zM16.5 104h1.5v1.3h-1.5zM16.5 107.9h1.5v1.3h-1.5zM18 110.5h1.5v1.3h-1.5zM16.5 117h1.5v1.3h-1.5zM16.5 118.3h1.5v1.3h-1.5zM16.5 119.6h1.5v1.3h-1.5z"/>
<path fill="#d0202e" d="M18 2.6h1.5v1.3h-1.5zM19.5 2.6h1.5v1.3h-1.5zM18 6.5h1.5v1.3h-1.5zM18 7.8h1.5v1.3h-1.5zM19.5 9.1h1.5v1.3h-1.5zM18 11.7h1.5v1.3h-1.5zM16.5 16.9h1.5v1.3h-1.5zM16.5 20.8h1.5v1.3h-1.5zM18 27.3h1.5v1.3h-1.5zM16.5 28.6h1.5v1.3h-1.5zM18 29.9h1.5v1.3h-1.5zM18 35.1h1.5v1.3h-1.5zM18 36.4h1.5v1.3h-1.5zM16.5 41.6h1.5v1.3h-1.5zM16.5 42.9h1.5v1.3h-1.5zM18 42.9h1.5v1.3h-1.5zM18 46.8h1.5v1.3h-1.5zM16.5 49.4h1.5v1.3h-1.5zM18 49.4h1.5v1.3h-1.5zM16.5 50.7h1.5v1.3h-1.5zM16.5 66.3h1.5v1.3h-1.5zM16.5 67.6h1.5v1.3h-1.5zM18 70.2h1.5v1.3h-1.5zM16.5 71.5h1.5v1.3h-1.5zM18 71.5h1.5v1.3h-1.5zM16.5 74.1h1.5v1.3h-1.5zM16.5 76.7h1.5v1.3h-1.5zM16.5 79.3h1.5v1.3h-1.5zM16.5 87.1h1.5v1.3h-1.5zM18 88.4h1.5v1.3h-1.5zM18 92.3h1.5v1.3h-1.5zM18 94.9h1.5v1.3h-1.5zM18 97.5h1.5v1.3h-1.5zM16.5 100.1h1.5v1.3h-1.5zM18 102.7h1.5v1.3h-1.5zM18 109.2h1.5v1.3h-1.5zM16.5 110.5h1.5v1.3h-1.5zM18 111.8h1.5v1.3h-1.5zM16.5 113.1h1.5v1.3h-1.5z"/>
<path fill="#e85a64" d="M18 3.9h1.5v1.3h-1.5zM18 13h1.5v1.3h-1.5zM18 14.3h1.5v1.3h-1.5zM16.5 19.5h1.5v1.3h-1.5zM18 23.4h1.5v1.3h-1.5zM16.5 32.5h1.5v1.3h-1.5zM16.5 37.7h1.5v1.3h-1.5zM18 44.2h1.5v1.3h-1.5zM16.5 46.8h1.5v1.3h-1.5zM16.5 55.9h1.5v1.3h-1.5zM18 65h1.5v1.3h-1.5zM16.5 72.8h1.5v1.3h-1.5zM18 74.1h1.5v1.3h-1.5zM18 75.4h1.5v1.3h-1.5zM16.5 78h1.5v1.3h-1.5zM18 78h1.5v1.3h-1.5zM18 81.9h1.5v1.3h-1.5zM18 84.5h1.5v1.3h-1.5zM16.5 89.7h1.5v1.3h-1.5zM16.5 97.5h1.5v1.3h-1.5zM18 101.4h1.5v1.3h-1.5zM18 104h1.5v1.3h-1.5zM16.5 106.6h1.5v1.3h-1.5zM18 107.9h1.5v1.3h-1.5z"/>
<path fill="#f08a90" d="M16.5 27.3h1.5v1.3h-1.5zM16.5 29.9h1.5v1.3h-1.5zM16.5 39h1.5v1.3h-1.5zM16.5 111.8h1.5v1.3h-1.5z"/>
</pattern>
<pattern id="h3" x="408" y="402.4" width="38.4" height="121" patternUnits="userSpaceOnUse">
<rect width="38.4" height="121" fill="#f4c6ca"/>
<path fill="#f2b0b7" d="M0 0h1.56v1.34h-1.56zM12.48 0h1.56v1.34h-1.56zM17.16 0h1.56v1.34h-1.56zM20.28 0h1.56v1.34h-1.56zM0 2.68h1.56v1.34h-1.56zM4.68 2.68h1.56v1.34h-1.56zM10.92 2.68h1.56v1.34h-1.56zM37.44 2.68h1.56v1.34h-1.56zM4.68 4.02h1.56v1.34h-1.56zM7.8 4.02h1.56v1.34h-1.56zM12.48 4.02h1.56v1.34h-1.56zM34.32 4.02h1.56v1.34h-1.56zM4.68 5.36h1.56v1.34h-1.56zM9.36 5.36h1.56v1.34h-1.56zM12.48 5.36h1.56v1.34h-1.56zM18.72 5.36h1.56v1.34h-1.56zM20.28 5.36h1.56v1.34h-1.56zM24.96 5.36h1.56v1.34h-1.56zM29.64 5.36h1.56v1.34h-1.56zM37.44 5.36h1.56v1.34h-1.56zM4.68 6.7h1.56v1.34h-1.56zM9.36 6.7h1.56v1.34h-1.56zM28.08 6.7h1.56v1.34h-1.56zM29.64 6.7h1.56v1.34h-1.56zM37.44 6.7h1.56v1.34h-1.56zM3.12 8.04h1.56v1.34h-1.56zM37.44 8.04h1.56v1.34h-1.56zM4.68 9.38h1.56v1.34h-1.56zM24.96 9.38h1.56v1.34h-1.56zM31.2 9.38h1.56v1.34h-1.56zM37.44 9.38h1.56v1.34h-1.56zM0 10.72h1.56v1.34h-1.56zM4.68 10.72h1.56v1.34h-1.56zM15.6 10.72h1.56v1.34h-1.56zM17.16 10.72h1.56v1.34h-1.56zM37.44 10.72h1.56v1.34h-1.56zM14.04 12.06h1.56v1.34h-1.56zM29.64 12.06h1.56v1.34h-1.56zM31.2 12.06h1.56v1.34h-1.56zM35.88 12.06h1.56v1.34h-1.56zM37.44 12.06h1.56v1.34h-1.56zM3.12 13.4h1.56v1.34h-1.56zM9.36 13.4h1.56v1.34h-1.56zM10.92 13.4h1.56v1.34h-1.56zM29.64 13.4h1.56v1.34h-1.56zM31.2 13.4h1.56v1.34h-1.56zM32.76 13.4h1.56v1.34h-1.56zM37.44 13.4h1.56v1.34h-1.56zM28.08 14.74h1.56v1.34h-1.56zM1.56 16.08h1.56v1.34h-1.56zM4.68 16.08h1.56v1.34h-1.56zM7.8 16.08h1.56v1.34h-1.56zM17.16 16.08h1.56v1.34h-1.56zM24.96 16.08h1.56v1.34h-1.56zM28.08 16.08h1.56v1.34h-1.56zM3.12 17.42h1.56v1.34h-1.56zM4.68 17.42h1.56v1.34h-1.56zM29.64 17.42h1.56v1.34h-1.56zM32.76 18.76h1.56v1.34h-1.56zM35.88 18.76h1.56v1.34h-1.56zM3.12 20.1h1.56v1.34h-1.56zM7.8 20.1h1.56v1.34h-1.56zM17.16 20.1h1.56v1.34h-1.56zM18.72 20.1h1.56v1.34h-1.56zM21.84 20.1h1.56v1.34h-1.56zM26.52 20.1h1.56v1.34h-1.56zM0 21.44h1.56v1.34h-1.56zM15.6 21.44h1.56v1.34h-1.56zM18.72 21.44h1.56v1.34h-1.56zM23.4 21.44h1.56v1.34h-1.56zM24.96 21.44h1.56v1.34h-1.56zM1.56 22.78h1.56v1.34h-1.56zM7.8 24.12h1.56v1.34h-1.56zM9.36 24.12h1.56v1.34h-1.56zM17.16 24.12h1.56v1.34h-1.56zM21.84 24.12h1.56v1.34h-1.56zM31.2 24.12h1.56v1.34h-1.56zM0 25.46h1.56v1.34h-1.56zM21.84 25.46h1.56v1.34h-1.56zM24.96 25.46h1.56v1.34h-1.56zM31.2 25.46h1.56v1.34h-1.56zM32.76 25.46h1.56v1.34h-1.56zM37.44 26.8h1.56v1.34h-1.56zM4.68 28.14h1.56v1.34h-1.56zM6.24 28.14h1.56v1.34h-1.56zM21.84 28.14h1.56v1.34h-1.56zM14.04 29.48h1.56v1.34h-1.56zM1.56 30.82h1.56v1.34h-1.56zM6.24 30.82h1.56v1.34h-1.56zM17.16 30.82h1.56v1.34h-1.56zM20.28 30.82h1.56v1.34h-1.56zM21.84 30.82h1.56v1.34h-1.56zM29.64 30.82h1.56v1.34h-1.56zM31.2 30.82h1.56v1.34h-1.56zM17.16 32.16h1.56v1.34h-1.56zM4.68 33.5h1.56v1.34h-1.56zM12.48 33.5h1.56v1.34h-1.56zM21.84 33.5h1.56v1.34h-1.56zM6.24 34.84h1.56v1.34h-1.56zM23.4 34.84h1.56v1.34h-1.56zM28.08 34.84h1.56v1.34h-1.56zM15.6 36.18h1.56v1.34h-1.56zM35.88 36.18h1.56v1.34h-1.56zM12.48 37.52h1.56v1.34h-1.56zM20.28 37.52h1.56v1.34h-1.56zM34.32 37.52h1.56v1.34h-1.56zM32.76 40.2h1.56v1.34h-1.56zM34.32 40.2h1.56v1.34h-1.56zM1.56 41.54h1.56v1.34h-1.56zM6.24 41.54h1.56v1.34h-1.56zM10.92 41.54h1.56v1.34h-1.56zM21.84 41.54h1.56v1.34h-1.56zM23.4 41.54h1.56v1.34h-1.56zM15.6 42.88h1.56v1.34h-1.56zM21.84 42.88h1.56v1.34h-1.56zM24.96 42.88h1.56v1.34h-1.56zM28.08 42.88h1.56v1.34h-1.56zM29.64 42.88h1.56v1.34h-1.56zM32.76 42.88h1.56v1.34h-1.56zM34.32 42.88h1.56v1.34h-1.56zM9.36 44.22h1.56v1.34h-1.56zM24.96 44.22h1.56v1.34h-1.56zM32.76 44.22h1.56v1.34h-1.56zM37.44 44.22h1.56v1.34h-1.56zM26.52 45.56h1.56v1.34h-1.56zM37.44 45.56h1.56v1.34h-1.56zM0 46.9h1.56v1.34h-1.56zM23.4 46.9h1.56v1.34h-1.56zM28.08 46.9h1.56v1.34h-1.56zM34.32 46.9h1.56v1.34h-1.56zM6.24 48.24h1.56v1.34h-1.56zM9.36 48.24h1.56v1.34h-1.56zM23.4 48.24h1.56v1.34h-1.56zM24.96 48.24h1.56v1.34h-1.56zM28.08 48.24h1.56v1.34h-1.56zM3.12 49.58h1.56v1.34h-1.56zM7.8 49.58h1.56v1.34h-1.56zM17.16 49.58h1.56v1.34h-1.56zM28.08 49.58h1.56v1.34h-1.56zM31.2 49.58h1.56v1.34h-1.56zM32.76 49.58h1.56v1.34h-1.56zM0 50.92h1.56v1.34h-1.56zM15.6 50.92h1.56v1.34h-1.56zM18.72 52.26h1.56v1.34h-1.56zM26.52 52.26h1.56v1.34h-1.56zM28.08 52.26h1.56v1.34h-1.56zM35.88 52.26h1.56v1.34h-1.56zM37.44 52.26h1.56v1.34h-1.56zM18.72 53.6h1.56v1.34h-1.56zM29.64 53.6h1.56v1.34h-1.56zM34.32 53.6h1.56v1.34h-1.56zM35.88 53.6h1.56v1.34h-1.56zM37.44 53.6h1.56v1.34h-1.56zM4.68 54.94h1.56v1.34h-1.56zM9.36 54.94h1.56v1.34h-1.56zM14.04 54.94h1.56v1.34h-1.56zM20.28 54.94h1.56v1.34h-1.56zM24.96 54.94h1.56v1.34h-1.56zM26.52 54.94h1.56v1.34h-1.56zM35.88 54.94h1.56v1.34h-1.56zM31.2 56.28h1.56v1.34h-1.56zM9.36 57.62h1.56v1.34h-1.56zM26.52 57.62h1.56v1.34h-1.56zM7.8 58.96h1.56v1.34h-1.56zM26.52 58.96h1.56v1.34h-1.56zM28.08 58.96h1.56v1.34h-1.56zM32.76 58.96h1.56v1.34h-1.56zM37.44 58.96h1.56v1.34h-1.56zM6.24 60.3h1.56v1.34h-1.56zM7.8 60.3h1.56v1.34h-1.56zM17.16 60.3h1.56v1.34h-1.56zM29.64 60.3h1.56v1.34h-1.56zM32.76 60.3h1.56v1.34h-1.56zM23.4 61.64h1.56v1.34h-1.56zM24.96 61.64h1.56v1.34h-1.56zM28.08 62.98h1.56v1.34h-1.56zM29.64 62.98h1.56v1.34h-1.56zM31.2 62.98h1.56v1.34h-1.56zM18.72 64.32h1.56v1.34h-1.56zM28.08 64.32h1.56v1.34h-1.56zM23.4 65.66h1.56v1.34h-1.56zM29.64 65.66h1.56v1.34h-1.56zM1.56 67h1.56v1.34h-1.56zM10.92 67h1.56v1.34h-1.56zM14.04 67h1.56v1.34h-1.56zM32.76 67h1.56v1.34h-1.56zM9.36 68.34h1.56v1.34h-1.56zM10.92 68.34h1.56v1.34h-1.56zM14.04 68.34h1.56v1.34h-1.56zM18.72 68.34h1.56v1.34h-1.56zM28.08 68.34h1.56v1.34h-1.56zM32.76 68.34h1.56v1.34h-1.56zM21.84 69.68h1.56v1.34h-1.56zM0 71.02h1.56v1.34h-1.56zM14.04 71.02h1.56v1.34h-1.56zM23.4 71.02h1.56v1.34h-1.56zM37.44 71.02h1.56v1.34h-1.56zM28.08 72.36h1.56v1.34h-1.56zM31.2 72.36h1.56v1.34h-1.56zM34.32 72.36h1.56v1.34h-1.56zM21.84 73.7h1.56v1.34h-1.56zM7.8 75.04h1.56v1.34h-1.56zM14.04 75.04h1.56v1.34h-1.56zM9.36 76.38h1.56v1.34h-1.56zM17.16 76.38h1.56v1.34h-1.56zM23.4 76.38h1.56v1.34h-1.56zM24.96 76.38h1.56v1.34h-1.56zM29.64 76.38h1.56v1.34h-1.56zM12.48 77.72h1.56v1.34h-1.56zM15.6 77.72h1.56v1.34h-1.56zM17.16 77.72h1.56v1.34h-1.56zM21.84 77.72h1.56v1.34h-1.56zM26.52 77.72h1.56v1.34h-1.56zM18.72 79.06h1.56v1.34h-1.56zM17.16 80.4h1.56v1.34h-1.56zM23.4 80.4h1.56v1.34h-1.56zM3.12 81.74h1.56v1.34h-1.56zM9.36 83.08h1.56v1.34h-1.56zM10.92 83.08h1.56v1.34h-1.56zM15.6 83.08h1.56v1.34h-1.56zM29.64 83.08h1.56v1.34h-1.56zM34.32 83.08h1.56v1.34h-1.56zM10.92 84.42h1.56v1.34h-1.56zM6.24 85.76h1.56v1.34h-1.56zM9.36 85.76h1.56v1.34h-1.56zM23.4 85.76h1.56v1.34h-1.56zM24.96 85.76h1.56v1.34h-1.56zM26.52 85.76h1.56v1.34h-1.56zM0 87.1h1.56v1.34h-1.56zM17.16 87.1h1.56v1.34h-1.56zM26.52 87.1h1.56v1.34h-1.56zM28.08 87.1h1.56v1.34h-1.56zM31.2 88.44h1.56v1.34h-1.56zM35.88 88.44h1.56v1.34h-1.56zM37.44 88.44h1.56v1.34h-1.56zM24.96 89.78h1.56v1.34h-1.56zM26.52 89.78h1.56v1.34h-1.56zM0 91.12h1.56v1.34h-1.56zM3.12 91.12h1.56v1.34h-1.56zM23.4 91.12h1.56v1.34h-1.56zM28.08 91.12h1.56v1.34h-1.56zM34.32 91.12h1.56v1.34h-1.56zM1.56 92.46h1.56v1.34h-1.56zM9.36 92.46h1.56v1.34h-1.56zM17.16 92.46h1.56v1.34h-1.56zM23.4 92.46h1.56v1.34h-1.56zM24.96 92.46h1.56v1.34h-1.56zM31.2 92.46h1.56v1.34h-1.56zM4.68 93.8h1.56v1.34h-1.56zM1.56 95.14h1.56v1.34h-1.56zM6.24 95.14h1.56v1.34h-1.56zM10.92 95.14h1.56v1.34h-1.56zM12.48 95.14h1.56v1.34h-1.56zM14.04 95.14h1.56v1.34h-1.56zM28.08 95.14h1.56v1.34h-1.56zM0 96.48h1.56v1.34h-1.56zM14.04 96.48h1.56v1.34h-1.56zM15.6 96.48h1.56v1.34h-1.56zM1.56 97.82h1.56v1.34h-1.56zM4.68 97.82h1.56v1.34h-1.56zM6.24 97.82h1.56v1.34h-1.56zM12.48 97.82h1.56v1.34h-1.56zM15.6 97.82h1.56v1.34h-1.56zM23.4 97.82h1.56v1.34h-1.56zM29.64 97.82h1.56v1.34h-1.56zM37.44 97.82h1.56v1.34h-1.56zM3.12 100.5h1.56v1.34h-1.56zM4.68 100.5h1.56v1.34h-1.56zM15.6 100.5h1.56v1.34h-1.56zM31.2 100.5h1.56v1.34h-1.56zM4.68 101.84h1.56v1.34h-1.56zM6.24 101.84h1.56v1.34h-1.56zM7.8 101.84h1.56v1.34h-1.56zM17.16 101.84h1.56v1.34h-1.56zM20.28 101.84h1.56v1.34h-1.56zM24.96 101.84h1.56v1.34h-1.56zM26.52 101.84h1.56v1.34h-1.56zM3.12 103.18h1.56v1.34h-1.56zM6.24 103.18h1.56v1.34h-1.56zM18.72 103.18h1.56v1.34h-1.56zM23.4 104.52h1.56v1.34h-1.56zM31.2 104.52h1.56v1.34h-1.56zM37.44 104.52h1.56v1.34h-1.56zM4.68 105.86h1.56v1.34h-1.56zM6.24 105.86h1.56v1.34h-1.56zM12.48 105.86h1.56v1.34h-1.56zM15.6 105.86h1.56v1.34h-1.56zM6.24 107.2h1.56v1.34h-1.56zM9.36 108.54h1.56v1.34h-1.56zM23.4 108.54h1.56v1.34h-1.56zM15.6 109.88h1.56v1.34h-1.56zM24.96 109.88h1.56v1.34h-1.56zM31.2 109.88h1.56v1.34h-1.56zM32.76 109.88h1.56v1.34h-1.56zM0 111.22h1.56v1.34h-1.56zM14.04 111.22h1.56v1.34h-1.56zM17.16 111.22h1.56v1.34h-1.56zM24.96 111.22h1.56v1.34h-1.56zM31.2 111.22h1.56v1.34h-1.56zM35.88 111.22h1.56v1.34h-1.56zM4.68 112.56h1.56v1.34h-1.56zM15.6 112.56h1.56v1.34h-1.56zM21.84 112.56h1.56v1.34h-1.56zM26.52 112.56h1.56v1.34h-1.56zM29.64 112.56h1.56v1.34h-1.56zM24.96 113.9h1.56v1.34h-1.56zM31.2 113.9h1.56v1.34h-1.56zM6.24 115.24h1.56v1.34h-1.56zM17.16 115.24h1.56v1.34h-1.56zM23.4 115.24h1.56v1.34h-1.56zM31.2 115.24h1.56v1.34h-1.56zM0 116.58h1.56v1.34h-1.56zM3.12 116.58h1.56v1.34h-1.56zM18.72 116.58h1.56v1.34h-1.56zM29.64 116.58h1.56v1.34h-1.56zM0 117.92h1.56v1.34h-1.56zM18.72 117.92h1.56v1.34h-1.56zM28.08 117.92h1.56v1.34h-1.56zM37.44 117.92h1.56v1.34h-1.56zM20.28 119.26h1.56v1.34h-1.56zM21.84 119.26h1.56v1.34h-1.56zM23.4 119.26h1.56v1.34h-1.56z"/>
<path fill="#fadee1" d="M1.56 0h1.56v1.34h-1.56zM7.8 0h1.56v1.34h-1.56zM15.6 0h1.56v1.34h-1.56zM26.52 0h1.56v1.34h-1.56zM35.88 0h1.56v1.34h-1.56zM32.76 1.34h1.56v1.34h-1.56zM37.44 1.34h1.56v1.34h-1.56zM1.56 2.68h1.56v1.34h-1.56zM6.24 2.68h1.56v1.34h-1.56zM7.8 2.68h1.56v1.34h-1.56zM17.16 2.68h1.56v1.34h-1.56zM3.12 4.02h1.56v1.34h-1.56zM6.24 4.02h1.56v1.34h-1.56zM21.84 4.02h1.56v1.34h-1.56zM31.2 4.02h1.56v1.34h-1.56zM37.44 4.02h1.56v1.34h-1.56zM3.12 5.36h1.56v1.34h-1.56zM7.8 5.36h1.56v1.34h-1.56zM15.6 5.36h1.56v1.34h-1.56zM26.52 5.36h1.56v1.34h-1.56zM31.2 5.36h1.56v1.34h-1.56zM32.76 5.36h1.56v1.34h-1.56zM1.56 6.7h1.56v1.34h-1.56zM3.12 6.7h1.56v1.34h-1.56zM12.48 6.7h1.56v1.34h-1.56zM21.84 6.7h1.56v1.34h-1.56zM23.4 6.7h1.56v1.34h-1.56zM24.96 6.7h1.56v1.34h-1.56zM10.92 8.04h1.56v1.34h-1.56zM24.96 8.04h1.56v1.34h-1.56zM31.2 8.04h1.56v1.34h-1.56zM14.04 9.38h1.56v1.34h-1.56zM17.16 9.38h1.56v1.34h-1.56zM32.76 9.38h1.56v1.34h-1.56zM7.8 10.72h1.56v1.34h-1.56zM10.92 10.72h1.56v1.34h-1.56zM12.48 10.72h1.56v1.34h-1.56zM21.84 10.72h1.56v1.34h-1.56zM6.24 12.06h1.56v1.34h-1.56zM12.48 12.06h1.56v1.34h-1.56zM20.28 12.06h1.56v1.34h-1.56zM26.52 12.06h1.56v1.34h-1.56zM28.08 12.06h1.56v1.34h-1.56zM15.6 13.4h1.56v1.34h-1.56zM20.28 13.4h1.56v1.34h-1.56zM24.96 13.4h1.56v1.34h-1.56zM35.88 13.4h1.56v1.34h-1.56zM14.04 14.74h1.56v1.34h-1.56zM26.52 14.74h1.56v1.34h-1.56zM34.32 14.74h1.56v1.34h-1.56zM3.12 16.08h1.56v1.34h-1.56zM18.72 16.08h1.56v1.34h-1.56zM15.6 17.42h1.56v1.34h-1.56zM18.72 17.42h1.56v1.34h-1.56zM31.2 17.42h1.56v1.34h-1.56zM34.32 17.42h1.56v1.34h-1.56zM37.44 17.42h1.56v1.34h-1.56zM1.56 18.76h1.56v1.34h-1.56zM3.12 18.76h1.56v1.34h-1.56zM9.36 18.76h1.56v1.34h-1.56zM10.92 18.76h1.56v1.34h-1.56zM23.4 18.76h1.56v1.34h-1.56zM4.68 20.1h1.56v1.34h-1.56zM6.24 20.1h1.56v1.34h-1.56zM23.4 20.1h1.56v1.34h-1.56zM28.08 20.1h1.56v1.34h-1.56zM3.12 21.44h1.56v1.34h-1.56zM7.8 21.44h1.56v1.34h-1.56zM21.84 21.44h1.56v1.34h-1.56zM28.08 21.44h1.56v1.34h-1.56zM35.88 21.44h1.56v1.34h-1.56zM10.92 22.78h1.56v1.34h-1.56zM14.04 22.78h1.56v1.34h-1.56zM20.28 22.78h1.56v1.34h-1.56zM23.4 22.78h1.56v1.34h-1.56zM31.2 22.78h1.56v1.34h-1.56zM23.4 24.12h1.56v1.34h-1.56zM37.44 24.12h1.56v1.34h-1.56zM3.12 25.46h1.56v1.34h-1.56zM4.68 25.46h1.56v1.34h-1.56zM0 26.8h1.56v1.34h-1.56zM24.96 26.8h1.56v1.34h-1.56zM0 28.14h1.56v1.34h-1.56zM9.36 28.14h1.56v1.34h-1.56zM10.92 28.14h1.56v1.34h-1.56zM15.6 28.14h1.56v1.34h-1.56zM24.96 28.14h1.56v1.34h-1.56zM1.56 29.48h1.56v1.34h-1.56zM4.68 29.48h1.56v1.34h-1.56zM10.92 29.48h1.56v1.34h-1.56zM18.72 29.48h1.56v1.34h-1.56zM23.4 29.48h1.56v1.34h-1.56zM9.36 30.82h1.56v1.34h-1.56zM0 32.16h1.56v1.34h-1.56zM3.12 33.5h1.56v1.34h-1.56zM7.8 33.5h1.56v1.34h-1.56zM26.52 33.5h1.56v1.34h-1.56zM28.08 33.5h1.56v1.34h-1.56zM29.64 33.5h1.56v1.34h-1.56zM35.88 33.5h1.56v1.34h-1.56zM0 34.84h1.56v1.34h-1.56zM1.56 34.84h1.56v1.34h-1.56zM10.92 34.84h1.56v1.34h-1.56zM12.48 34.84h1.56v1.34h-1.56zM26.52 34.84h1.56v1.34h-1.56zM31.2 34.84h1.56v1.34h-1.56zM34.32 34.84h1.56v1.34h-1.56zM3.12 36.18h1.56v1.34h-1.56zM4.68 36.18h1.56v1.34h-1.56zM14.04 36.18h1.56v1.34h-1.56zM21.84 36.18h1.56v1.34h-1.56zM31.2 36.18h1.56v1.34h-1.56zM3.12 37.52h1.56v1.34h-1.56zM4.68 37.52h1.56v1.34h-1.56zM24.96 37.52h1.56v1.34h-1.56zM28.08 37.52h1.56v1.34h-1.56zM35.88 37.52h1.56v1.34h-1.56zM4.68 38.86h1.56v1.34h-1.56zM14.04 38.86h1.56v1.34h-1.56zM21.84 38.86h1.56v1.34h-1.56zM26.52 38.86h1.56v1.34h-1.56zM32.76 38.86h1.56v1.34h-1.56zM35.88 38.86h1.56v1.34h-1.56zM14.04 40.2h1.56v1.34h-1.56zM15.6 40.2h1.56v1.34h-1.56zM18.72 40.2h1.56v1.34h-1.56zM26.52 40.2h1.56v1.34h-1.56zM28.08 40.2h1.56v1.34h-1.56zM7.8 41.54h1.56v1.34h-1.56zM20.28 41.54h1.56v1.34h-1.56zM26.52 41.54h1.56v1.34h-1.56zM35.88 41.54h1.56v1.34h-1.56zM1.56 42.88h1.56v1.34h-1.56zM6.24 42.88h1.56v1.34h-1.56zM7.8 42.88h1.56v1.34h-1.56zM10.92 42.88h1.56v1.34h-1.56zM14.04 42.88h1.56v1.34h-1.56zM26.52 42.88h1.56v1.34h-1.56zM1.56 44.22h1.56v1.34h-1.56zM6.24 44.22h1.56v1.34h-1.56zM7.8 44.22h1.56v1.34h-1.56zM12.48 44.22h1.56v1.34h-1.56zM14.04 44.22h1.56v1.34h-1.56zM4.68 45.56h1.56v1.34h-1.56zM12.48 45.56h1.56v1.34h-1.56zM3.12 46.9h1.56v1.34h-1.56zM10.92 46.9h1.56v1.34h-1.56zM12.48 46.9h1.56v1.34h-1.56zM26.52 46.9h1.56v1.34h-1.56zM29.64 46.9h1.56v1.34h-1.56zM1.56 48.24h1.56v1.34h-1.56zM20.28 48.24h1.56v1.34h-1.56zM21.84 48.24h1.56v1.34h-1.56zM26.52 48.24h1.56v1.34h-1.56zM34.32 48.24h1.56v1.34h-1.56zM0 49.58h1.56v1.34h-1.56zM6.24 49.58h1.56v1.34h-1.56zM21.84 49.58h1.56v1.34h-1.56zM23.4 49.58h1.56v1.34h-1.56zM24.96 49.58h1.56v1.34h-1.56zM10.92 50.92h1.56v1.34h-1.56zM14.04 50.92h1.56v1.34h-1.56zM17.16 50.92h1.56v1.34h-1.56zM21.84 50.92h1.56v1.34h-1.56zM32.76 50.92h1.56v1.34h-1.56zM37.44 50.92h1.56v1.34h-1.56zM0 52.26h1.56v1.34h-1.56zM3.12 52.26h1.56v1.34h-1.56zM9.36 52.26h1.56v1.34h-1.56zM12.48 52.26h1.56v1.34h-1.56zM15.6 52.26h1.56v1.34h-1.56zM17.16 52.26h1.56v1.34h-1.56zM12.48 53.6h1.56v1.34h-1.56zM15.6 53.6h1.56v1.34h-1.56zM21.84 54.94h1.56v1.34h-1.56zM1.56 56.28h1.56v1.34h-1.56zM6.24 56.28h1.56v1.34h-1.56zM7.8 56.28h1.56v1.34h-1.56zM24.96 57.62h1.56v1.34h-1.56zM28.08 57.62h1.56v1.34h-1.56zM29.64 57.62h1.56v1.34h-1.56zM31.2 57.62h1.56v1.34h-1.56zM37.44 57.62h1.56v1.34h-1.56zM0 58.96h1.56v1.34h-1.56zM1.56 58.96h1.56v1.34h-1.56zM3.12 58.96h1.56v1.34h-1.56zM12.48 58.96h1.56v1.34h-1.56zM1.56 60.3h1.56v1.34h-1.56zM20.28 60.3h1.56v1.34h-1.56zM28.08 60.3h1.56v1.34h-1.56zM31.2 60.3h1.56v1.34h-1.56zM34.32 60.3h1.56v1.34h-1.56zM17.16 61.64h1.56v1.34h-1.56zM20.28 61.64h1.56v1.34h-1.56zM29.64 61.64h1.56v1.34h-1.56zM37.44 61.64h1.56v1.34h-1.56zM0 62.98h1.56v1.34h-1.56zM34.32 62.98h1.56v1.34h-1.56zM10.92 64.32h1.56v1.34h-1.56zM26.52 64.32h1.56v1.34h-1.56zM35.88 64.32h1.56v1.34h-1.56zM7.8 65.66h1.56v1.34h-1.56zM20.28 65.66h1.56v1.34h-1.56zM35.88 65.66h1.56v1.34h-1.56zM0 67h1.56v1.34h-1.56zM18.72 67h1.56v1.34h-1.56zM31.2 67h1.56v1.34h-1.56zM37.44 67h1.56v1.34h-1.56zM7.8 68.34h1.56v1.34h-1.56zM15.6 68.34h1.56v1.34h-1.56zM17.16 68.34h1.56v1.34h-1.56zM21.84 68.34h1.56v1.34h-1.56zM24.96 68.34h1.56v1.34h-1.56zM9.36 69.68h1.56v1.34h-1.56zM12.48 69.68h1.56v1.34h-1.56zM28.08 69.68h1.56v1.34h-1.56zM32.76 69.68h1.56v1.34h-1.56zM34.32 69.68h1.56v1.34h-1.56zM35.88 69.68h1.56v1.34h-1.56zM6.24 71.02h1.56v1.34h-1.56zM34.32 71.02h1.56v1.34h-1.56zM0 72.36h1.56v1.34h-1.56zM7.8 72.36h1.56v1.34h-1.56zM9.36 72.36h1.56v1.34h-1.56zM12.48 72.36h1.56v1.34h-1.56zM4.68 73.7h1.56v1.34h-1.56zM6.24 73.7h1.56v1.34h-1.56zM7.8 73.7h1.56v1.34h-1.56zM0 75.04h1.56v1.34h-1.56zM20.28 75.04h1.56v1.34h-1.56zM21.84 75.04h1.56v1.34h-1.56zM28.08 75.04h1.56v1.34h-1.56zM29.64 75.04h1.56v1.34h-1.56zM0 76.38h1.56v1.34h-1.56zM3.12 76.38h1.56v1.34h-1.56zM10.92 76.38h1.56v1.34h-1.56zM18.72 76.38h1.56v1.34h-1.56zM32.76 76.38h1.56v1.34h-1.56zM35.88 76.38h1.56v1.34h-1.56zM7.8 77.72h1.56v1.34h-1.56zM32.76 77.72h1.56v1.34h-1.56zM34.32 77.72h1.56v1.34h-1.56zM17.16 79.06h1.56v1.34h-1.56zM1.56 80.4h1.56v1.34h-1.56zM6.24 80.4h1.56v1.34h-1.56zM14.04 80.4h1.56v1.34h-1.56zM24.96 80.4h1.56v1.34h-1.56zM26.52 80.4h1.56v1.34h-1.56zM28.08 80.4h1.56v1.34h-1.56zM31.2 80.4h1.56v1.34h-1.56zM6.24 81.74h1.56v1.34h-1.56zM14.04 81.74h1.56v1.34h-1.56zM17.16 81.74h1.56v1.34h-1.56zM28.08 81.74h1.56v1.34h-1.56zM29.64 81.74h1.56v1.34h-1.56zM12.48 83.08h1.56v1.34h-1.56zM21.84 83.08h1.56v1.34h-1.56zM32.76 83.08h1.56v1.34h-1.56zM37.44 83.08h1.56v1.34h-1.56zM6.24 84.42h1.56v1.34h-1.56zM21.84 84.42h1.56v1.34h-1.56zM23.4 84.42h1.56v1.34h-1.56zM28.08 84.42h1.56v1.34h-1.56zM29.64 84.42h1.56v1.34h-1.56zM4.68 85.76h1.56v1.34h-1.56zM7.8 85.76h1.56v1.34h-1.56zM15.6 85.76h1.56v1.34h-1.56zM32.76 85.76h1.56v1.34h-1.56zM35.88 85.76h1.56v1.34h-1.56zM6.24 87.1h1.56v1.34h-1.56zM9.36 87.1h1.56v1.34h-1.56zM15.6 87.1h1.56v1.34h-1.56zM35.88 87.1h1.56v1.34h-1.56zM37.44 87.1h1.56v1.34h-1.56zM0 88.44h1.56v1.34h-1.56zM7.8 88.44h1.56v1.34h-1.56zM9.36 88.44h1.56v1.34h-1.56zM23.4 88.44h1.56v1.34h-1.56zM29.64 88.44h1.56v1.34h-1.56zM6.24 89.78h1.56v1.34h-1.56zM9.36 89.78h1.56v1.34h-1.56zM10.92 89.78h1.56v1.34h-1.56zM34.32 89.78h1.56v1.34h-1.56zM9.36 91.12h1.56v1.34h-1.56zM20.28 91.12h1.56v1.34h-1.56zM32.76 91.12h1.56v1.34h-1.56zM18.72 92.46h1.56v1.34h-1.56zM34.32 92.46h1.56v1.34h-1.56zM7.8 93.8h1.56v1.34h-1.56zM24.96 93.8h1.56v1.34h-1.56zM15.6 95.14h1.56v1.34h-1.56zM17.16 95.14h1.56v1.34h-1.56zM37.44 95.14h1.56v1.34h-1.56zM3.12 96.48h1.56v1.34h-1.56zM7.8 96.48h1.56v1.34h-1.56zM12.48 96.48h1.56v1.34h-1.56zM20.28 96.48h1.56v1.34h-1.56zM26.52 96.48h1.56v1.34h-1.56zM35.88 96.48h1.56v1.34h-1.56zM3.12 97.82h1.56v1.34h-1.56zM18.72 97.82h1.56v1.34h-1.56zM21.84 97.82h1.56v1.34h-1.56zM24.96 97.82h1.56v1.34h-1.56zM28.08 97.82h1.56v1.34h-1.56zM32.76 97.82h1.56v1.34h-1.56zM18.72 99.16h1.56v1.34h-1.56zM29.64 99.16h1.56v1.34h-1.56zM31.2 99.16h1.56v1.34h-1.56zM35.88 99.16h1.56v1.34h-1.56zM37.44 99.16h1.56v1.34h-1.56zM1.56 100.5h1.56v1.34h-1.56zM6.24 100.5h1.56v1.34h-1.56zM24.96 100.5h1.56v1.34h-1.56zM0 101.84h1.56v1.34h-1.56zM1.56 101.84h1.56v1.34h-1.56zM32.76 101.84h1.56v1.34h-1.56zM9.36 103.18h1.56v1.34h-1.56zM34.32 103.18h1.56v1.34h-1.56zM1.56 104.52h1.56v1.34h-1.56zM3.12 104.52h1.56v1.34h-1.56zM4.68 104.52h1.56v1.34h-1.56zM6.24 104.52h1.56v1.34h-1.56zM7.8 104.52h1.56v1.34h-1.56zM17.16 104.52h1.56v1.34h-1.56zM0 105.86h1.56v1.34h-1.56zM7.8 105.86h1.56v1.34h-1.56zM14.04 105.86h1.56v1.34h-1.56zM24.96 105.86h1.56v1.34h-1.56zM28.08 105.86h1.56v1.34h-1.56zM31.2 105.86h1.56v1.34h-1.56zM0 107.2h1.56v1.34h-1.56zM7.8 107.2h1.56v1.34h-1.56zM12.48 107.2h1.56v1.34h-1.56zM24.96 107.2h1.56v1.34h-1.56zM0 108.54h1.56v1.34h-1.56zM3.12 108.54h1.56v1.34h-1.56zM7.8 108.54h1.56v1.34h-1.56zM10.92 108.54h1.56v1.34h-1.56zM12.48 108.54h1.56v1.34h-1.56zM17.16 108.54h1.56v1.34h-1.56zM20.28 108.54h1.56v1.34h-1.56zM24.96 108.54h1.56v1.34h-1.56zM34.32 108.54h1.56v1.34h-1.56zM7.8 109.88h1.56v1.34h-1.56zM10.92 109.88h1.56v1.34h-1.56zM18.72 109.88h1.56v1.34h-1.56zM20.28 109.88h1.56v1.34h-1.56zM26.52 109.88h1.56v1.34h-1.56zM9.36 111.22h1.56v1.34h-1.56zM26.52 111.22h1.56v1.34h-1.56zM1.56 112.56h1.56v1.34h-1.56zM6.24 112.56h1.56v1.34h-1.56zM7.8 112.56h1.56v1.34h-1.56zM34.32 112.56h1.56v1.34h-1.56zM9.36 113.9h1.56v1.34h-1.56zM12.48 113.9h1.56v1.34h-1.56zM17.16 113.9h1.56v1.34h-1.56zM23.4 113.9h1.56v1.34h-1.56zM28.08 113.9h1.56v1.34h-1.56zM4.68 115.24h1.56v1.34h-1.56zM10.92 115.24h1.56v1.34h-1.56zM15.6 115.24h1.56v1.34h-1.56zM20.28 115.24h1.56v1.34h-1.56zM29.64 115.24h1.56v1.34h-1.56zM7.8 116.58h1.56v1.34h-1.56zM9.36 116.58h1.56v1.34h-1.56zM14.04 116.58h1.56v1.34h-1.56zM15.6 116.58h1.56v1.34h-1.56zM24.96 116.58h1.56v1.34h-1.56zM28.08 116.58h1.56v1.34h-1.56zM31.2 116.58h1.56v1.34h-1.56zM10.92 117.92h1.56v1.34h-1.56zM20.28 117.92h1.56v1.34h-1.56zM34.32 117.92h1.56v1.34h-1.56zM1.56 119.26h1.56v1.34h-1.56zM10.92 119.26h1.56v1.34h-1.56zM24.96 119.26h1.56v1.34h-1.56zM37.44 119.26h1.56v1.34h-1.56z"/>
<path fill="#ffffff" d="M3.12 0h1.56v1.34h-1.56zM14.04 0h1.56v1.34h-1.56zM23.4 0h1.56v1.34h-1.56zM32.76 0h1.56v1.34h-1.56zM34.32 0h1.56v1.34h-1.56zM7.8 1.34h1.56v1.34h-1.56zM9.36 1.34h1.56v1.34h-1.56zM15.6 1.34h1.56v1.34h-1.56zM18.72 1.34h1.56v1.34h-1.56zM21.84 1.34h1.56v1.34h-1.56zM24.96 1.34h1.56v1.34h-1.56zM26.52 1.34h1.56v1.34h-1.56zM31.2 1.34h1.56v1.34h-1.56zM35.88 1.34h1.56v1.34h-1.56zM23.4 2.68h1.56v1.34h-1.56zM29.64 2.68h1.56v1.34h-1.56zM35.88 2.68h1.56v1.34h-1.56zM24.96 4.02h1.56v1.34h-1.56zM29.64 4.02h1.56v1.34h-1.56zM0 5.36h1.56v1.34h-1.56zM10.92 5.36h1.56v1.34h-1.56zM35.88 5.36h1.56v1.34h-1.56zM6.24 6.7h1.56v1.34h-1.56zM10.92 6.7h1.56v1.34h-1.56zM32.76 6.7h1.56v1.34h-1.56zM4.68 8.04h1.56v1.34h-1.56zM6.24 8.04h1.56v1.34h-1.56zM7.8 8.04h1.56v1.34h-1.56zM17.16 8.04h1.56v1.34h-1.56zM18.72 8.04h1.56v1.34h-1.56zM28.08 8.04h1.56v1.34h-1.56zM3.12 9.38h1.56v1.34h-1.56zM6.24 9.38h1.56v1.34h-1.56zM9.36 9.38h1.56v1.34h-1.56zM21.84 9.38h1.56v1.34h-1.56zM1.56 10.72h1.56v1.34h-1.56zM3.12 10.72h1.56v1.34h-1.56zM6.24 10.72h1.56v1.34h-1.56zM18.72 10.72h1.56v1.34h-1.56zM28.08 10.72h1.56v1.34h-1.56zM32.76 10.72h1.56v1.34h-1.56zM35.88 10.72h1.56v1.34h-1.56zM15.6 12.06h1.56v1.34h-1.56zM17.16 12.06h1.56v1.34h-1.56zM34.32 12.06h1.56v1.34h-1.56zM14.04 13.4h1.56v1.34h-1.56zM18.72 13.4h1.56v1.34h-1.56zM23.4 13.4h1.56v1.34h-1.56zM18.72 14.74h1.56v1.34h-1.56zM20.28 14.74h1.56v1.34h-1.56zM32.76 14.74h1.56v1.34h-1.56zM37.44 14.74h1.56v1.34h-1.56zM0 16.08h1.56v1.34h-1.56zM10.92 16.08h1.56v1.34h-1.56zM12.48 16.08h1.56v1.34h-1.56zM20.28 16.08h1.56v1.34h-1.56zM21.84 16.08h1.56v1.34h-1.56zM26.52 16.08h1.56v1.34h-1.56zM35.88 16.08h1.56v1.34h-1.56zM6.24 17.42h1.56v1.34h-1.56zM7.8 17.42h1.56v1.34h-1.56zM35.88 17.42h1.56v1.34h-1.56zM7.8 18.76h1.56v1.34h-1.56zM12.48 18.76h1.56v1.34h-1.56zM17.16 18.76h1.56v1.34h-1.56zM28.08 18.76h1.56v1.34h-1.56zM37.44 18.76h1.56v1.34h-1.56zM9.36 20.1h1.56v1.34h-1.56zM14.04 20.1h1.56v1.34h-1.56zM15.6 20.1h1.56v1.34h-1.56zM29.64 20.1h1.56v1.34h-1.56zM4.68 21.44h1.56v1.34h-1.56zM0 22.78h1.56v1.34h-1.56zM6.24 22.78h1.56v1.34h-1.56zM7.8 22.78h1.56v1.34h-1.56zM9.36 22.78h1.56v1.34h-1.56zM34.32 22.78h1.56v1.34h-1.56zM35.88 22.78h1.56v1.34h-1.56zM6.24 24.12h1.56v1.34h-1.56zM10.92 24.12h1.56v1.34h-1.56zM24.96 24.12h1.56v1.34h-1.56zM17.16 25.46h1.56v1.34h-1.56zM18.72 25.46h1.56v1.34h-1.56zM20.28 25.46h1.56v1.34h-1.56zM34.32 25.46h1.56v1.34h-1.56zM35.88 25.46h1.56v1.34h-1.56zM6.24 26.8h1.56v1.34h-1.56zM17.16 26.8h1.56v1.34h-1.56zM21.84 26.8h1.56v1.34h-1.56zM28.08 26.8h1.56v1.34h-1.56zM3.12 28.14h1.56v1.34h-1.56zM20.28 28.14h1.56v1.34h-1.56zM37.44 28.14h1.56v1.34h-1.56zM0 29.48h1.56v1.34h-1.56zM3.12 29.48h1.56v1.34h-1.56zM6.24 29.48h1.56v1.34h-1.56zM9.36 29.48h1.56v1.34h-1.56zM31.2 29.48h1.56v1.34h-1.56zM32.76 29.48h1.56v1.34h-1.56zM35.88 29.48h1.56v1.34h-1.56zM0 30.82h1.56v1.34h-1.56zM7.8 30.82h1.56v1.34h-1.56zM14.04 30.82h1.56v1.34h-1.56zM15.6 30.82h1.56v1.34h-1.56zM28.08 30.82h1.56v1.34h-1.56zM34.32 30.82h1.56v1.34h-1.56zM7.8 32.16h1.56v1.34h-1.56zM12.48 32.16h1.56v1.34h-1.56zM15.6 32.16h1.56v1.34h-1.56zM21.84 32.16h1.56v1.34h-1.56zM23.4 32.16h1.56v1.34h-1.56zM26.52 32.16h1.56v1.34h-1.56zM29.64 32.16h1.56v1.34h-1.56zM35.88 32.16h1.56v1.34h-1.56zM0 33.5h1.56v1.34h-1.56zM6.24 33.5h1.56v1.34h-1.56zM15.6 33.5h1.56v1.34h-1.56zM17.16 33.5h1.56v1.34h-1.56zM20.28 33.5h1.56v1.34h-1.56zM32.76 33.5h1.56v1.34h-1.56zM37.44 33.5h1.56v1.34h-1.56zM9.36 34.84h1.56v1.34h-1.56zM17.16 34.84h1.56v1.34h-1.56zM24.96 34.84h1.56v1.34h-1.56zM32.76 34.84h1.56v1.34h-1.56zM18.72 36.18h1.56v1.34h-1.56zM9.36 37.52h1.56v1.34h-1.56zM21.84 37.52h1.56v1.34h-1.56zM23.4 37.52h1.56v1.34h-1.56zM26.52 37.52h1.56v1.34h-1.56zM29.64 37.52h1.56v1.34h-1.56zM0 38.86h1.56v1.34h-1.56zM28.08 38.86h1.56v1.34h-1.56zM29.64 38.86h1.56v1.34h-1.56zM34.32 38.86h1.56v1.34h-1.56zM37.44 38.86h1.56v1.34h-1.56zM6.24 40.2h1.56v1.34h-1.56zM9.36 40.2h1.56v1.34h-1.56zM17.16 40.2h1.56v1.34h-1.56zM20.28 40.2h1.56v1.34h-1.56zM23.4 40.2h1.56v1.34h-1.56zM29.64 40.2h1.56v1.34h-1.56zM37.44 40.2h1.56v1.34h-1.56zM3.12 41.54h1.56v1.34h-1.56zM4.68 41.54h1.56v1.34h-1.56zM9.36 41.54h1.56v1.34h-1.56zM12.48 41.54h1.56v1.34h-1.56zM15.6 41.54h1.56v1.34h-1.56zM18.72 41.54h1.56v1.34h-1.56zM28.08 41.54h1.56v1.34h-1.56zM31.2 41.54h1.56v1.34h-1.56zM32.76 41.54h1.56v1.34h-1.56zM9.36 42.88h1.56v1.34h-1.56zM18.72 42.88h1.56v1.34h-1.56zM35.88 42.88h1.56v1.34h-1.56zM37.44 42.88h1.56v1.34h-1.56zM4.68 44.22h1.56v1.34h-1.56zM10.92 44.22h1.56v1.34h-1.56zM20.28 44.22h1.56v1.34h-1.56zM23.4 44.22h1.56v1.34h-1.56zM26.52 44.22h1.56v1.34h-1.56zM28.08 44.22h1.56v1.34h-1.56zM6.24 45.56h1.56v1.34h-1.56zM20.28 45.56h1.56v1.34h-1.56zM21.84 45.56h1.56v1.34h-1.56zM31.2 45.56h1.56v1.34h-1.56zM4.68 46.9h1.56v1.34h-1.56zM21.84 46.9h1.56v1.34h-1.56zM0 48.24h1.56v1.34h-1.56zM12.48 48.24h1.56v1.34h-1.56zM14.04 48.24h1.56v1.34h-1.56zM4.68 49.58h1.56v1.34h-1.56zM10.92 49.58h1.56v1.34h-1.56zM12.48 49.58h1.56v1.34h-1.56zM20.28 49.58h1.56v1.34h-1.56zM4.68 50.92h1.56v1.34h-1.56zM12.48 50.92h1.56v1.34h-1.56zM31.2 50.92h1.56v1.34h-1.56zM35.88 50.92h1.56v1.34h-1.56zM10.92 52.26h1.56v1.34h-1.56zM14.04 52.26h1.56v1.34h-1.56zM24.96 52.26h1.56v1.34h-1.56zM29.64 52.26h1.56v1.34h-1.56zM31.2 52.26h1.56v1.34h-1.56zM0 53.6h1.56v1.34h-1.56zM1.56 53.6h1.56v1.34h-1.56zM10.92 53.6h1.56v1.34h-1.56zM20.28 53.6h1.56v1.34h-1.56zM32.76 53.6h1.56v1.34h-1.56zM3.12 54.94h1.56v1.34h-1.56zM6.24 54.94h1.56v1.34h-1.56zM18.72 54.94h1.56v1.34h-1.56zM37.44 54.94h1.56v1.34h-1.56zM9.36 56.28h1.56v1.34h-1.56zM12.48 56.28h1.56v1.34h-1.56zM14.04 56.28h1.56v1.34h-1.56zM17.16 56.28h1.56v1.34h-1.56zM20.28 56.28h1.56v1.34h-1.56zM21.84 56.28h1.56v1.34h-1.56zM26.52 56.28h1.56v1.34h-1.56zM32.76 56.28h1.56v1.34h-1.56zM7.8 57.62h1.56v1.34h-1.56zM15.6 57.62h1.56v1.34h-1.56zM34.32 57.62h1.56v1.34h-1.56zM4.68 58.96h1.56v1.34h-1.56zM6.24 58.96h1.56v1.34h-1.56zM9.36 58.96h1.56v1.34h-1.56zM14.04 58.96h1.56v1.34h-1.56zM17.16 58.96h1.56v1.34h-1.56zM9.36 60.3h1.56v1.34h-1.56zM14.04 60.3h1.56v1.34h-1.56zM23.4 60.3h1.56v1.34h-1.56zM26.52 60.3h1.56v1.34h-1.56zM0 61.64h1.56v1.34h-1.56zM4.68 61.64h1.56v1.34h-1.56zM10.92 61.64h1.56v1.34h-1.56zM12.48 61.64h1.56v1.34h-1.56zM14.04 61.64h1.56v1.34h-1.56zM15.6 61.64h1.56v1.34h-1.56zM31.2 61.64h1.56v1.34h-1.56zM35.88 61.64h1.56v1.34h-1.56zM12.48 62.98h1.56v1.34h-1.56zM17.16 62.98h1.56v1.34h-1.56zM23.4 62.98h1.56v1.34h-1.56zM24.96 62.98h1.56v1.34h-1.56zM0 64.32h1.56v1.34h-1.56zM4.68 64.32h1.56v1.34h-1.56zM7.8 64.32h1.56v1.34h-1.56zM10.92 65.66h1.56v1.34h-1.56zM14.04 65.66h1.56v1.34h-1.56zM18.72 65.66h1.56v1.34h-1.56zM24.96 65.66h1.56v1.34h-1.56zM31.2 65.66h1.56v1.34h-1.56zM34.32 65.66h1.56v1.34h-1.56zM37.44 65.66h1.56v1.34h-1.56zM3.12 67h1.56v1.34h-1.56zM4.68 67h1.56v1.34h-1.56zM17.16 67h1.56v1.34h-1.56zM29.64 67h1.56v1.34h-1.56zM35.88 67h1.56v1.34h-1.56zM0 68.34h1.56v1.34h-1.56zM3.12 68.34h1.56v1.34h-1.56zM6.24 68.34h1.56v1.34h-1.56zM20.28 68.34h1.56v1.34h-1.56zM29.64 68.34h1.56v1.34h-1.56zM31.2 68.34h1.56v1.34h-1.56zM34.32 68.34h1.56v1.34h-1.56zM1.56 69.68h1.56v1.34h-1.56zM3.12 69.68h1.56v1.34h-1.56zM6.24 69.68h1.56v1.34h-1.56zM10.92 69.68h1.56v1.34h-1.56zM18.72 69.68h1.56v1.34h-1.56zM26.52 69.68h1.56v1.34h-1.56zM37.44 69.68h1.56v1.34h-1.56zM12.48 71.02h1.56v1.34h-1.56zM1.56 72.36h1.56v1.34h-1.56zM10.92 72.36h1.56v1.34h-1.56zM17.16 72.36h1.56v1.34h-1.56zM24.96 72.36h1.56v1.34h-1.56zM29.64 72.36h1.56v1.34h-1.56zM35.88 72.36h1.56v1.34h-1.56zM37.44 72.36h1.56v1.34h-1.56zM1.56 73.7h1.56v1.34h-1.56zM10.92 73.7h1.56v1.34h-1.56zM12.48 73.7h1.56v1.34h-1.56zM15.6 73.7h1.56v1.34h-1.56zM28.08 73.7h1.56v1.34h-1.56zM31.2 73.7h1.56v1.34h-1.56zM32.76 73.7h1.56v1.34h-1.56zM10.92 75.04h1.56v1.34h-1.56zM31.2 75.04h1.56v1.34h-1.56zM32.76 75.04h1.56v1.34h-1.56zM37.44 75.04h1.56v1.34h-1.56zM12.48 76.38h1.56v1.34h-1.56zM14.04 76.38h1.56v1.34h-1.56zM26.52 76.38h1.56v1.34h-1.56zM34.32 76.38h1.56v1.34h-1.56zM1.56 77.72h1.56v1.34h-1.56zM6.24 77.72h1.56v1.34h-1.56zM35.88 77.72h1.56v1.34h-1.56zM0 79.06h1.56v1.34h-1.56zM10.92 79.06h1.56v1.34h-1.56zM12.48 79.06h1.56v1.34h-1.56zM14.04 79.06h1.56v1.34h-1.56zM15.6 79.06h1.56v1.34h-1.56zM21.84 79.06h1.56v1.34h-1.56zM23.4 79.06h1.56v1.34h-1.56zM28.08 79.06h1.56v1.34h-1.56zM7.8 80.4h1.56v1.34h-1.56zM18.72 80.4h1.56v1.34h-1.56zM29.64 80.4h1.56v1.34h-1.56zM9.36 81.74h1.56v1.34h-1.56zM24.96 81.74h1.56v1.34h-1.56zM34.32 81.74h1.56v1.34h-1.56zM37.44 81.74h1.56v1.34h-1.56zM0 83.08h1.56v1.34h-1.56zM1.56 83.08h1.56v1.34h-1.56zM4.68 83.08h1.56v1.34h-1.56zM20.28 83.08h1.56v1.34h-1.56zM24.96 83.08h1.56v1.34h-1.56zM35.88 83.08h1.56v1.34h-1.56zM1.56 84.42h1.56v1.34h-1.56zM15.6 84.42h1.56v1.34h-1.56zM17.16 84.42h1.56v1.34h-1.56zM32.76 84.42h1.56v1.34h-1.56zM35.88 84.42h1.56v1.34h-1.56zM17.16 85.76h1.56v1.34h-1.56zM29.64 85.76h1.56v1.34h-1.56zM34.32 85.76h1.56v1.34h-1.56zM10.92 87.1h1.56v1.34h-1.56zM24.96 87.1h1.56v1.34h-1.56zM31.2 87.1h1.56v1.34h-1.56zM15.6 88.44h1.56v1.34h-1.56zM17.16 88.44h1.56v1.34h-1.56zM18.72 88.44h1.56v1.34h-1.56zM20.28 88.44h1.56v1.34h-1.56zM34.32 88.44h1.56v1.34h-1.56zM1.56 89.78h1.56v1.34h-1.56zM12.48 89.78h1.56v1.34h-1.56zM14.04 89.78h1.56v1.34h-1.56zM23.4 89.78h1.56v1.34h-1.56zM28.08 89.78h1.56v1.34h-1.56zM29.64 89.78h1.56v1.34h-1.56zM1.56 91.12h1.56v1.34h-1.56zM12.48 91.12h1.56v1.34h-1.56zM21.84 91.12h1.56v1.34h-1.56zM29.64 91.12h1.56v1.34h-1.56zM6.24 92.46h1.56v1.34h-1.56zM12.48 92.46h1.56v1.34h-1.56zM1.56 93.8h1.56v1.34h-1.56zM18.72 93.8h1.56v1.34h-1.56zM20.28 93.8h1.56v1.34h-1.56zM23.4 93.8h1.56v1.34h-1.56zM26.52 93.8h1.56v1.34h-1.56zM31.2 93.8h1.56v1.34h-1.56zM34.32 93.8h1.56v1.34h-1.56zM37.44 93.8h1.56v1.34h-1.56zM4.68 95.14h1.56v1.34h-1.56zM20.28 95.14h1.56v1.34h-1.56zM26.52 95.14h1.56v1.34h-1.56zM34.32 95.14h1.56v1.34h-1.56zM17.16 96.48h1.56v1.34h-1.56zM18.72 96.48h1.56v1.34h-1.56zM21.84 96.48h1.56v1.34h-1.56zM24.96 96.48h1.56v1.34h-1.56zM29.64 96.48h1.56v1.34h-1.56zM31.2 96.48h1.56v1.34h-1.56zM34.32 96.48h1.56v1.34h-1.56zM10.92 97.82h1.56v1.34h-1.56zM17.16 97.82h1.56v1.34h-1.56zM31.2 97.82h1.56v1.34h-1.56zM34.32 97.82h1.56v1.34h-1.56zM35.88 97.82h1.56v1.34h-1.56zM0 99.16h1.56v1.34h-1.56zM1.56 99.16h1.56v1.34h-1.56zM4.68 99.16h1.56v1.34h-1.56zM20.28 99.16h1.56v1.34h-1.56zM26.52 99.16h1.56v1.34h-1.56zM28.08 99.16h1.56v1.34h-1.56zM32.76 99.16h1.56v1.34h-1.56zM7.8 100.5h1.56v1.34h-1.56zM32.76 100.5h1.56v1.34h-1.56zM34.32 100.5h1.56v1.34h-1.56zM12.48 101.84h1.56v1.34h-1.56zM29.64 101.84h1.56v1.34h-1.56zM31.2 101.84h1.56v1.34h-1.56zM4.68 103.18h1.56v1.34h-1.56zM14.04 103.18h1.56v1.34h-1.56zM23.4 103.18h1.56v1.34h-1.56zM26.52 103.18h1.56v1.34h-1.56zM28.08 103.18h1.56v1.34h-1.56zM29.64 103.18h1.56v1.34h-1.56zM31.2 103.18h1.56v1.34h-1.56zM32.76 103.18h1.56v1.34h-1.56zM9.36 104.52h1.56v1.34h-1.56zM10.92 104.52h1.56v1.34h-1.56zM18.72 104.52h1.56v1.34h-1.56zM21.84 104.52h1.56v1.34h-1.56zM28.08 104.52h1.56v1.34h-1.56zM3.12 105.86h1.56v1.34h-1.56zM26.52 105.86h1.56v1.34h-1.56zM29.64 105.86h1.56v1.34h-1.56zM34.32 105.86h1.56v1.34h-1.56zM37.44 105.86h1.56v1.34h-1.56zM15.6 107.2h1.56v1.34h-1.56zM21.84 107.2h1.56v1.34h-1.56zM28.08 107.2h1.56v1.34h-1.56zM35.88 107.2h1.56v1.34h-1.56zM15.6 108.54h1.56v1.34h-1.56zM28.08 108.54h1.56v1.34h-1.56zM31.2 108.54h1.56v1.34h-1.56zM3.12 109.88h1.56v1.34h-1.56zM6.24 109.88h1.56v1.34h-1.56zM14.04 109.88h1.56v1.34h-1.56zM29.64 109.88h1.56v1.34h-1.56zM34.32 109.88h1.56v1.34h-1.56zM35.88 109.88h1.56v1.34h-1.56zM1.56 111.22h1.56v1.34h-1.56zM4.68 111.22h1.56v1.34h-1.56zM6.24 111.22h1.56v1.34h-1.56zM18.72 111.22h1.56v1.34h-1.56zM20.28 111.22h1.56v1.34h-1.56zM28.08 111.22h1.56v1.34h-1.56zM29.64 111.22h1.56v1.34h-1.56zM23.4 112.56h1.56v1.34h-1.56zM3.12 113.9h1.56v1.34h-1.56zM15.6 113.9h1.56v1.34h-1.56zM35.88 113.9h1.56v1.34h-1.56zM1.56 115.24h1.56v1.34h-1.56zM12.48 115.24h1.56v1.34h-1.56zM24.96 115.24h1.56v1.34h-1.56zM28.08 115.24h1.56v1.34h-1.56zM34.32 115.24h1.56v1.34h-1.56zM4.68 116.58h1.56v1.34h-1.56zM6.24 116.58h1.56v1.34h-1.56zM6.24 117.92h1.56v1.34h-1.56zM12.48 117.92h1.56v1.34h-1.56zM24.96 117.92h1.56v1.34h-1.56zM31.2 117.92h1.56v1.34h-1.56zM0 119.26h1.56v1.34h-1.56zM6.24 119.26h1.56v1.34h-1.56zM14.04 119.26h1.56v1.34h-1.56zM15.6 119.26h1.56v1.34h-1.56zM31.2 119.26h1.56v1.34h-1.56zM32.76 119.26h1.56v1.34h-1.56z"/>
<path fill="#eb939c" d="M4.68 0h1.56v1.34h-1.56zM28.08 0h1.56v1.34h-1.56zM29.64 0h1.56v1.34h-1.56zM4.68 1.34h1.56v1.34h-1.56zM23.4 1.34h1.56v1.34h-1.56zM26.52 2.68h1.56v1.34h-1.56zM31.2 2.68h1.56v1.34h-1.56zM18.72 4.02h1.56v1.34h-1.56zM26.52 4.02h1.56v1.34h-1.56zM35.88 4.02h1.56v1.34h-1.56zM1.56 5.36h1.56v1.34h-1.56zM23.4 5.36h1.56v1.34h-1.56zM0 6.7h1.56v1.34h-1.56zM17.16 6.7h1.56v1.34h-1.56zM35.88 6.7h1.56v1.34h-1.56zM1.56 8.04h1.56v1.34h-1.56zM12.48 8.04h1.56v1.34h-1.56zM14.04 8.04h1.56v1.34h-1.56zM29.64 8.04h1.56v1.34h-1.56zM0 9.38h1.56v1.34h-1.56zM7.8 9.38h1.56v1.34h-1.56zM10.92 9.38h1.56v1.34h-1.56zM12.48 9.38h1.56v1.34h-1.56zM15.6 9.38h1.56v1.34h-1.56zM20.28 9.38h1.56v1.34h-1.56zM28.08 9.38h1.56v1.34h-1.56zM34.32 9.38h1.56v1.34h-1.56zM9.36 10.72h1.56v1.34h-1.56zM20.28 10.72h1.56v1.34h-1.56zM23.4 10.72h1.56v1.34h-1.56zM31.2 10.72h1.56v1.34h-1.56zM10.92 12.06h1.56v1.34h-1.56zM23.4 12.06h1.56v1.34h-1.56zM12.48 13.4h1.56v1.34h-1.56zM1.56 14.74h1.56v1.34h-1.56zM6.24 14.74h1.56v1.34h-1.56zM21.84 14.74h1.56v1.34h-1.56zM35.88 14.74h1.56v1.34h-1.56zM14.04 16.08h1.56v1.34h-1.56zM32.76 16.08h1.56v1.34h-1.56zM0 17.42h1.56v1.34h-1.56zM1.56 17.42h1.56v1.34h-1.56zM21.84 17.42h1.56v1.34h-1.56zM23.4 17.42h1.56v1.34h-1.56zM26.52 17.42h1.56v1.34h-1.56zM26.52 18.76h1.56v1.34h-1.56zM29.64 18.76h1.56v1.34h-1.56zM1.56 20.1h1.56v1.34h-1.56zM10.92 20.1h1.56v1.34h-1.56zM20.28 20.1h1.56v1.34h-1.56zM31.2 20.1h1.56v1.34h-1.56zM35.88 20.1h1.56v1.34h-1.56zM1.56 21.44h1.56v1.34h-1.56zM9.36 21.44h1.56v1.34h-1.56zM17.16 21.44h1.56v1.34h-1.56zM29.64 21.44h1.56v1.34h-1.56zM31.2 21.44h1.56v1.34h-1.56zM3.12 22.78h1.56v1.34h-1.56zM4.68 22.78h1.56v1.34h-1.56zM15.6 22.78h1.56v1.34h-1.56zM24.96 22.78h1.56v1.34h-1.56zM26.52 22.78h1.56v1.34h-1.56zM37.44 22.78h1.56v1.34h-1.56zM0 24.12h1.56v1.34h-1.56zM3.12 24.12h1.56v1.34h-1.56zM4.68 24.12h1.56v1.34h-1.56zM12.48 24.12h1.56v1.34h-1.56zM18.72 24.12h1.56v1.34h-1.56zM7.8 25.46h1.56v1.34h-1.56zM9.36 25.46h1.56v1.34h-1.56zM12.48 25.46h1.56v1.34h-1.56zM15.6 25.46h1.56v1.34h-1.56zM29.64 25.46h1.56v1.34h-1.56zM37.44 25.46h1.56v1.34h-1.56zM1.56 26.8h1.56v1.34h-1.56zM4.68 26.8h1.56v1.34h-1.56zM10.92 26.8h1.56v1.34h-1.56zM26.52 26.8h1.56v1.34h-1.56zM18.72 28.14h1.56v1.34h-1.56zM29.64 28.14h1.56v1.34h-1.56zM35.88 28.14h1.56v1.34h-1.56zM7.8 29.48h1.56v1.34h-1.56zM34.32 29.48h1.56v1.34h-1.56zM24.96 30.82h1.56v1.34h-1.56zM1.56 32.16h1.56v1.34h-1.56zM9.36 32.16h1.56v1.34h-1.56zM1.56 33.5h1.56v1.34h-1.56zM9.36 33.5h1.56v1.34h-1.56zM10.92 33.5h1.56v1.34h-1.56zM14.04 33.5h1.56v1.34h-1.56zM31.2 33.5h1.56v1.34h-1.56zM34.32 33.5h1.56v1.34h-1.56zM3.12 34.84h1.56v1.34h-1.56zM18.72 34.84h1.56v1.34h-1.56zM6.24 36.18h1.56v1.34h-1.56zM17.16 36.18h1.56v1.34h-1.56zM26.52 36.18h1.56v1.34h-1.56zM29.64 36.18h1.56v1.34h-1.56zM17.16 37.52h1.56v1.34h-1.56zM18.72 37.52h1.56v1.34h-1.56zM31.2 37.52h1.56v1.34h-1.56zM10.92 38.86h1.56v1.34h-1.56zM3.12 40.2h1.56v1.34h-1.56zM4.68 40.2h1.56v1.34h-1.56zM7.8 40.2h1.56v1.34h-1.56zM21.84 40.2h1.56v1.34h-1.56zM0 42.88h1.56v1.34h-1.56zM17.16 42.88h1.56v1.34h-1.56zM0 44.22h1.56v1.34h-1.56zM15.6 44.22h1.56v1.34h-1.56zM24.96 45.56h1.56v1.34h-1.56zM32.76 45.56h1.56v1.34h-1.56zM6.24 46.9h1.56v1.34h-1.56zM7.8 46.9h1.56v1.34h-1.56zM17.16 46.9h1.56v1.34h-1.56zM24.96 46.9h1.56v1.34h-1.56zM17.16 48.24h1.56v1.34h-1.56zM31.2 48.24h1.56v1.34h-1.56zM1.56 49.58h1.56v1.34h-1.56zM15.6 49.58h1.56v1.34h-1.56zM26.52 49.58h1.56v1.34h-1.56zM29.64 49.58h1.56v1.34h-1.56zM1.56 50.92h1.56v1.34h-1.56zM6.24 50.92h1.56v1.34h-1.56zM9.36 50.92h1.56v1.34h-1.56zM20.28 50.92h1.56v1.34h-1.56zM23.4 50.92h1.56v1.34h-1.56zM29.64 50.92h1.56v1.34h-1.56zM34.32 50.92h1.56v1.34h-1.56zM1.56 52.26h1.56v1.34h-1.56zM34.32 52.26h1.56v1.34h-1.56zM3.12 53.6h1.56v1.34h-1.56zM9.36 53.6h1.56v1.34h-1.56zM17.16 53.6h1.56v1.34h-1.56zM26.52 53.6h1.56v1.34h-1.56zM1.56 54.94h1.56v1.34h-1.56zM32.76 54.94h1.56v1.34h-1.56zM4.68 56.28h1.56v1.34h-1.56zM24.96 56.28h1.56v1.34h-1.56zM35.88 56.28h1.56v1.34h-1.56zM21.84 57.62h1.56v1.34h-1.56zM23.4 57.62h1.56v1.34h-1.56zM35.88 57.62h1.56v1.34h-1.56zM20.28 58.96h1.56v1.34h-1.56zM34.32 58.96h1.56v1.34h-1.56zM35.88 58.96h1.56v1.34h-1.56zM18.72 60.3h1.56v1.34h-1.56zM21.84 60.3h1.56v1.34h-1.56zM6.24 61.64h1.56v1.34h-1.56zM21.84 61.64h1.56v1.34h-1.56zM1.56 62.98h1.56v1.34h-1.56zM3.12 62.98h1.56v1.34h-1.56zM9.36 62.98h1.56v1.34h-1.56zM32.76 62.98h1.56v1.34h-1.56zM35.88 62.98h1.56v1.34h-1.56zM3.12 64.32h1.56v1.34h-1.56zM9.36 64.32h1.56v1.34h-1.56zM20.28 64.32h1.56v1.34h-1.56zM24.96 64.32h1.56v1.34h-1.56zM29.64 64.32h1.56v1.34h-1.56zM34.32 64.32h1.56v1.34h-1.56zM1.56 65.66h1.56v1.34h-1.56zM3.12 65.66h1.56v1.34h-1.56zM4.68 65.66h1.56v1.34h-1.56zM6.24 67h1.56v1.34h-1.56zM20.28 67h1.56v1.34h-1.56zM24.96 67h1.56v1.34h-1.56zM12.48 68.34h1.56v1.34h-1.56zM4.68 69.68h1.56v1.34h-1.56zM15.6 69.68h1.56v1.34h-1.56zM17.16 69.68h1.56v1.34h-1.56zM20.28 69.68h1.56v1.34h-1.56zM29.64 69.68h1.56v1.34h-1.56zM1.56 71.02h1.56v1.34h-1.56zM4.68 71.02h1.56v1.34h-1.56zM10.92 71.02h1.56v1.34h-1.56zM18.72 71.02h1.56v1.34h-1.56zM6.24 72.36h1.56v1.34h-1.56zM14.04 72.36h1.56v1.34h-1.56zM15.6 72.36h1.56v1.34h-1.56zM18.72 72.36h1.56v1.34h-1.56zM26.52 73.7h1.56v1.34h-1.56zM3.12 75.04h1.56v1.34h-1.56zM12.48 75.04h1.56v1.34h-1.56zM15.6 75.04h1.56v1.34h-1.56zM24.96 75.04h1.56v1.34h-1.56zM35.88 75.04h1.56v1.34h-1.56zM7.8 76.38h1.56v1.34h-1.56zM15.6 76.38h1.56v1.34h-1.56zM31.2 76.38h1.56v1.34h-1.56zM24.96 77.72h1.56v1.34h-1.56zM29.64 77.72h1.56v1.34h-1.56zM1.56 79.06h1.56v1.34h-1.56zM3.12 79.06h1.56v1.34h-1.56zM6.24 79.06h1.56v1.34h-1.56zM20.28 79.06h1.56v1.34h-1.56zM24.96 79.06h1.56v1.34h-1.56zM31.2 79.06h1.56v1.34h-1.56zM32.76 79.06h1.56v1.34h-1.56zM20.28 80.4h1.56v1.34h-1.56zM35.88 80.4h1.56v1.34h-1.56zM4.68 81.74h1.56v1.34h-1.56zM23.4 81.74h1.56v1.34h-1.56zM32.76 81.74h1.56v1.34h-1.56zM3.12 83.08h1.56v1.34h-1.56zM6.24 83.08h1.56v1.34h-1.56zM26.52 83.08h1.56v1.34h-1.56zM0 84.42h1.56v1.34h-1.56zM3.12 85.76h1.56v1.34h-1.56zM10.92 85.76h1.56v1.34h-1.56zM14.04 85.76h1.56v1.34h-1.56zM28.08 85.76h1.56v1.34h-1.56zM37.44 85.76h1.56v1.34h-1.56zM1.56 87.1h1.56v1.34h-1.56zM3.12 87.1h1.56v1.34h-1.56zM23.4 87.1h1.56v1.34h-1.56zM12.48 88.44h1.56v1.34h-1.56zM24.96 88.44h1.56v1.34h-1.56zM28.08 88.44h1.56v1.34h-1.56zM32.76 88.44h1.56v1.34h-1.56zM0 89.78h1.56v1.34h-1.56zM15.6 89.78h1.56v1.34h-1.56zM32.76 89.78h1.56v1.34h-1.56zM37.44 89.78h1.56v1.34h-1.56zM7.8 91.12h1.56v1.34h-1.56zM10.92 91.12h1.56v1.34h-1.56zM15.6 91.12h1.56v1.34h-1.56zM17.16 91.12h1.56v1.34h-1.56zM31.2 91.12h1.56v1.34h-1.56zM37.44 91.12h1.56v1.34h-1.56zM4.68 92.46h1.56v1.34h-1.56zM7.8 92.46h1.56v1.34h-1.56zM15.6 92.46h1.56v1.34h-1.56zM28.08 92.46h1.56v1.34h-1.56zM0 93.8h1.56v1.34h-1.56zM12.48 93.8h1.56v1.34h-1.56zM14.04 93.8h1.56v1.34h-1.56zM17.16 93.8h1.56v1.34h-1.56zM21.84 93.8h1.56v1.34h-1.56zM32.76 93.8h1.56v1.34h-1.56zM0 95.14h1.56v1.34h-1.56zM9.36 95.14h1.56v1.34h-1.56zM18.72 95.14h1.56v1.34h-1.56zM21.84 95.14h1.56v1.34h-1.56zM24.96 95.14h1.56v1.34h-1.56zM10.92 96.48h1.56v1.34h-1.56zM23.4 96.48h1.56v1.34h-1.56zM37.44 96.48h1.56v1.34h-1.56zM7.8 97.82h1.56v1.34h-1.56zM26.52 97.82h1.56v1.34h-1.56zM15.6 99.16h1.56v1.34h-1.56zM17.16 99.16h1.56v1.34h-1.56zM34.32 99.16h1.56v1.34h-1.56zM10.92 100.5h1.56v1.34h-1.56zM18.72 100.5h1.56v1.34h-1.56zM20.28 100.5h1.56v1.34h-1.56zM3.12 101.84h1.56v1.34h-1.56zM18.72 101.84h1.56v1.34h-1.56zM23.4 101.84h1.56v1.34h-1.56zM24.96 103.18h1.56v1.34h-1.56zM0 104.52h1.56v1.34h-1.56zM29.64 104.52h1.56v1.34h-1.56zM32.76 104.52h1.56v1.34h-1.56zM34.32 104.52h1.56v1.34h-1.56zM35.88 104.52h1.56v1.34h-1.56zM20.28 105.86h1.56v1.34h-1.56zM35.88 105.86h1.56v1.34h-1.56zM1.56 107.2h1.56v1.34h-1.56zM9.36 107.2h1.56v1.34h-1.56zM10.92 107.2h1.56v1.34h-1.56zM23.4 107.2h1.56v1.34h-1.56zM26.52 107.2h1.56v1.34h-1.56zM31.2 107.2h1.56v1.34h-1.56zM32.76 107.2h1.56v1.34h-1.56zM6.24 108.54h1.56v1.34h-1.56zM14.04 108.54h1.56v1.34h-1.56zM18.72 108.54h1.56v1.34h-1.56zM32.76 108.54h1.56v1.34h-1.56zM12.48 109.88h1.56v1.34h-1.56zM28.08 109.88h1.56v1.34h-1.56zM37.44 109.88h1.56v1.34h-1.56zM10.92 111.22h1.56v1.34h-1.56zM32.76 111.22h1.56v1.34h-1.56zM37.44 111.22h1.56v1.34h-1.56zM3.12 112.56h1.56v1.34h-1.56zM10.92 112.56h1.56v1.34h-1.56zM12.48 112.56h1.56v1.34h-1.56zM17.16 112.56h1.56v1.34h-1.56zM28.08 112.56h1.56v1.34h-1.56zM0 113.9h1.56v1.34h-1.56zM1.56 113.9h1.56v1.34h-1.56zM4.68 113.9h1.56v1.34h-1.56zM6.24 113.9h1.56v1.34h-1.56zM18.72 113.9h1.56v1.34h-1.56zM26.52 113.9h1.56v1.34h-1.56zM37.44 113.9h1.56v1.34h-1.56zM3.12 115.24h1.56v1.34h-1.56zM7.8 115.24h1.56v1.34h-1.56zM21.84 115.24h1.56v1.34h-1.56zM35.88 115.24h1.56v1.34h-1.56zM37.44 115.24h1.56v1.34h-1.56zM10.92 116.58h1.56v1.34h-1.56zM23.4 116.58h1.56v1.34h-1.56zM32.76 116.58h1.56v1.34h-1.56zM14.04 117.92h1.56v1.34h-1.56zM15.6 117.92h1.56v1.34h-1.56zM32.76 117.92h1.56v1.34h-1.56zM3.12 119.26h1.56v1.34h-1.56zM12.48 119.26h1.56v1.34h-1.56zM18.72 119.26h1.56v1.34h-1.56zM35.88 119.26h1.56v1.34h-1.56z"/>
<path fill="#da5262" d="M6.24 0h1.56v1.34h-1.56zM10.92 1.34h1.56v1.34h-1.56zM20.28 1.34h1.56v1.34h-1.56zM29.64 1.34h1.56v1.34h-1.56zM9.36 2.68h1.56v1.34h-1.56zM14.04 2.68h1.56v1.34h-1.56zM15.6 2.68h1.56v1.34h-1.56zM18.72 2.68h1.56v1.34h-1.56zM21.84 2.68h1.56v1.34h-1.56zM28.08 2.68h1.56v1.34h-1.56zM32.76 2.68h1.56v1.34h-1.56zM20.28 4.02h1.56v1.34h-1.56zM17.16 5.36h1.56v1.34h-1.56zM7.8 6.7h1.56v1.34h-1.56zM15.6 6.7h1.56v1.34h-1.56zM34.32 6.7h1.56v1.34h-1.56zM0 8.04h1.56v1.34h-1.56zM9.36 8.04h1.56v1.34h-1.56zM20.28 8.04h1.56v1.34h-1.56zM23.4 8.04h1.56v1.34h-1.56zM18.72 9.38h1.56v1.34h-1.56zM29.64 9.38h1.56v1.34h-1.56zM35.88 9.38h1.56v1.34h-1.56zM14.04 10.72h1.56v1.34h-1.56zM24.96 10.72h1.56v1.34h-1.56zM29.64 10.72h1.56v1.34h-1.56zM1.56 12.06h1.56v1.34h-1.56zM21.84 13.4h1.56v1.34h-1.56zM34.32 13.4h1.56v1.34h-1.56zM17.16 14.74h1.56v1.34h-1.56zM9.36 16.08h1.56v1.34h-1.56zM29.64 16.08h1.56v1.34h-1.56zM10.92 17.42h1.56v1.34h-1.56zM20.28 17.42h1.56v1.34h-1.56zM4.68 18.76h1.56v1.34h-1.56zM6.24 18.76h1.56v1.34h-1.56zM14.04 18.76h1.56v1.34h-1.56zM37.44 20.1h1.56v1.34h-1.56zM6.24 21.44h1.56v1.34h-1.56zM26.52 21.44h1.56v1.34h-1.56zM34.32 21.44h1.56v1.34h-1.56zM37.44 21.44h1.56v1.34h-1.56zM12.48 22.78h1.56v1.34h-1.56zM17.16 22.78h1.56v1.34h-1.56zM21.84 22.78h1.56v1.34h-1.56zM28.08 22.78h1.56v1.34h-1.56zM15.6 24.12h1.56v1.34h-1.56zM20.28 24.12h1.56v1.34h-1.56zM29.64 24.12h1.56v1.34h-1.56zM10.92 25.46h1.56v1.34h-1.56zM12.48 26.8h1.56v1.34h-1.56zM14.04 26.8h1.56v1.34h-1.56zM35.88 26.8h1.56v1.34h-1.56zM17.16 28.14h1.56v1.34h-1.56zM23.4 28.14h1.56v1.34h-1.56zM34.32 28.14h1.56v1.34h-1.56zM15.6 29.48h1.56v1.34h-1.56zM4.68 30.82h1.56v1.34h-1.56zM18.72 30.82h1.56v1.34h-1.56zM37.44 30.82h1.56v1.34h-1.56zM3.12 32.16h1.56v1.34h-1.56zM4.68 32.16h1.56v1.34h-1.56zM32.76 32.16h1.56v1.34h-1.56zM37.44 32.16h1.56v1.34h-1.56zM35.88 34.84h1.56v1.34h-1.56zM9.36 36.18h1.56v1.34h-1.56zM24.96 36.18h1.56v1.34h-1.56zM34.32 36.18h1.56v1.34h-1.56zM0 37.52h1.56v1.34h-1.56zM1.56 37.52h1.56v1.34h-1.56zM7.8 37.52h1.56v1.34h-1.56zM10.92 37.52h1.56v1.34h-1.56zM9.36 38.86h1.56v1.34h-1.56zM17.16 38.86h1.56v1.34h-1.56zM24.96 38.86h1.56v1.34h-1.56zM0 40.2h1.56v1.34h-1.56zM1.56 40.2h1.56v1.34h-1.56zM17.16 41.54h1.56v1.34h-1.56zM21.84 44.22h1.56v1.34h-1.56zM31.2 44.22h1.56v1.34h-1.56zM10.92 45.56h1.56v1.34h-1.56zM14.04 45.56h1.56v1.34h-1.56zM18.72 45.56h1.56v1.34h-1.56zM9.36 46.9h1.56v1.34h-1.56zM18.72 46.9h1.56v1.34h-1.56zM32.76 46.9h1.56v1.34h-1.56zM32.76 48.24h1.56v1.34h-1.56zM35.88 49.58h1.56v1.34h-1.56zM37.44 49.58h1.56v1.34h-1.56zM18.72 50.92h1.56v1.34h-1.56zM0 54.94h1.56v1.34h-1.56zM23.4 54.94h1.56v1.34h-1.56zM34.32 54.94h1.56v1.34h-1.56zM3.12 56.28h1.56v1.34h-1.56zM10.92 56.28h1.56v1.34h-1.56zM15.6 56.28h1.56v1.34h-1.56zM28.08 56.28h1.56v1.34h-1.56zM29.64 56.28h1.56v1.34h-1.56zM37.44 56.28h1.56v1.34h-1.56zM4.68 57.62h1.56v1.34h-1.56zM14.04 57.62h1.56v1.34h-1.56zM18.72 57.62h1.56v1.34h-1.56zM32.76 57.62h1.56v1.34h-1.56zM10.92 58.96h1.56v1.34h-1.56zM21.84 58.96h1.56v1.34h-1.56zM10.92 60.3h1.56v1.34h-1.56zM35.88 60.3h1.56v1.34h-1.56zM3.12 61.64h1.56v1.34h-1.56zM9.36 61.64h1.56v1.34h-1.56zM32.76 61.64h1.56v1.34h-1.56zM37.44 64.32h1.56v1.34h-1.56zM17.16 65.66h1.56v1.34h-1.56zM32.76 65.66h1.56v1.34h-1.56zM7.8 67h1.56v1.34h-1.56zM9.36 67h1.56v1.34h-1.56zM15.6 67h1.56v1.34h-1.56zM21.84 67h1.56v1.34h-1.56zM23.4 67h1.56v1.34h-1.56zM23.4 68.34h1.56v1.34h-1.56zM35.88 68.34h1.56v1.34h-1.56zM37.44 68.34h1.56v1.34h-1.56zM7.8 69.68h1.56v1.34h-1.56zM24.96 69.68h1.56v1.34h-1.56zM17.16 71.02h1.56v1.34h-1.56zM3.12 72.36h1.56v1.34h-1.56zM4.68 72.36h1.56v1.34h-1.56zM26.52 72.36h1.56v1.34h-1.56zM0 73.7h1.56v1.34h-1.56zM17.16 73.7h1.56v1.34h-1.56zM23.4 73.7h1.56v1.34h-1.56zM24.96 73.7h1.56v1.34h-1.56zM34.32 73.7h1.56v1.34h-1.56zM1.56 75.04h1.56v1.34h-1.56zM6.24 75.04h1.56v1.34h-1.56zM9.36 75.04h1.56v1.34h-1.56zM21.84 76.38h1.56v1.34h-1.56zM28.08 76.38h1.56v1.34h-1.56zM37.44 76.38h1.56v1.34h-1.56zM4.68 77.72h1.56v1.34h-1.56zM31.2 77.72h1.56v1.34h-1.56zM7.8 79.06h1.56v1.34h-1.56zM9.36 79.06h1.56v1.34h-1.56zM26.52 79.06h1.56v1.34h-1.56zM29.64 79.06h1.56v1.34h-1.56zM35.88 79.06h1.56v1.34h-1.56zM4.68 80.4h1.56v1.34h-1.56zM12.48 80.4h1.56v1.34h-1.56zM15.6 81.74h1.56v1.34h-1.56zM21.84 81.74h1.56v1.34h-1.56zM14.04 84.42h1.56v1.34h-1.56zM24.96 84.42h1.56v1.34h-1.56zM1.56 85.76h1.56v1.34h-1.56zM12.48 85.76h1.56v1.34h-1.56zM21.84 85.76h1.56v1.34h-1.56zM12.48 87.1h1.56v1.34h-1.56zM29.64 87.1h1.56v1.34h-1.56zM34.32 87.1h1.56v1.34h-1.56zM21.84 88.44h1.56v1.34h-1.56zM4.68 89.78h1.56v1.34h-1.56zM17.16 89.78h1.56v1.34h-1.56zM20.28 89.78h1.56v1.34h-1.56zM6.24 91.12h1.56v1.34h-1.56zM14.04 91.12h1.56v1.34h-1.56zM18.72 91.12h1.56v1.34h-1.56zM3.12 92.46h1.56v1.34h-1.56zM29.64 92.46h1.56v1.34h-1.56zM35.88 92.46h1.56v1.34h-1.56zM3.12 93.8h1.56v1.34h-1.56zM6.24 93.8h1.56v1.34h-1.56zM9.36 97.82h1.56v1.34h-1.56zM20.28 97.82h1.56v1.34h-1.56zM21.84 99.16h1.56v1.34h-1.56zM24.96 99.16h1.56v1.34h-1.56zM12.48 100.5h1.56v1.34h-1.56zM17.16 100.5h1.56v1.34h-1.56zM21.84 100.5h1.56v1.34h-1.56zM29.64 100.5h1.56v1.34h-1.56zM35.88 100.5h1.56v1.34h-1.56zM37.44 100.5h1.56v1.34h-1.56zM35.88 101.84h1.56v1.34h-1.56zM37.44 101.84h1.56v1.34h-1.56zM15.6 103.18h1.56v1.34h-1.56zM17.16 103.18h1.56v1.34h-1.56zM35.88 103.18h1.56v1.34h-1.56zM24.96 104.52h1.56v1.34h-1.56zM1.56 105.86h1.56v1.34h-1.56zM23.4 105.86h1.56v1.34h-1.56zM4.68 107.2h1.56v1.34h-1.56zM34.32 107.2h1.56v1.34h-1.56zM37.44 108.54h1.56v1.34h-1.56zM17.16 109.88h1.56v1.34h-1.56zM12.48 111.22h1.56v1.34h-1.56zM21.84 111.22h1.56v1.34h-1.56zM34.32 111.22h1.56v1.34h-1.56zM9.36 112.56h1.56v1.34h-1.56zM18.72 112.56h1.56v1.34h-1.56zM20.28 112.56h1.56v1.34h-1.56zM24.96 112.56h1.56v1.34h-1.56zM0 115.24h1.56v1.34h-1.56zM18.72 115.24h1.56v1.34h-1.56zM12.48 116.58h1.56v1.34h-1.56zM26.52 117.92h1.56v1.34h-1.56zM29.64 119.26h1.56v1.34h-1.56z"/>
<path fill="#e46e7a" d="M9.36 0h1.56v1.34h-1.56zM18.72 0h1.56v1.34h-1.56zM21.84 0h1.56v1.34h-1.56zM37.44 0h1.56v1.34h-1.56zM1.56 1.34h1.56v1.34h-1.56zM3.12 1.34h1.56v1.34h-1.56zM17.16 1.34h1.56v1.34h-1.56zM28.08 1.34h1.56v1.34h-1.56zM24.96 2.68h1.56v1.34h-1.56zM28.08 4.02h1.56v1.34h-1.56zM21.84 5.36h1.56v1.34h-1.56zM28.08 5.36h1.56v1.34h-1.56zM14.04 6.7h1.56v1.34h-1.56zM18.72 6.7h1.56v1.34h-1.56zM20.28 6.7h1.56v1.34h-1.56zM31.2 6.7h1.56v1.34h-1.56zM15.6 8.04h1.56v1.34h-1.56zM23.4 9.38h1.56v1.34h-1.56zM26.52 9.38h1.56v1.34h-1.56zM26.52 10.72h1.56v1.34h-1.56zM4.68 12.06h1.56v1.34h-1.56zM7.8 12.06h1.56v1.34h-1.56zM9.36 12.06h1.56v1.34h-1.56zM21.84 12.06h1.56v1.34h-1.56zM32.76 12.06h1.56v1.34h-1.56zM4.68 13.4h1.56v1.34h-1.56zM6.24 13.4h1.56v1.34h-1.56zM7.8 13.4h1.56v1.34h-1.56zM4.68 14.74h1.56v1.34h-1.56zM7.8 14.74h1.56v1.34h-1.56zM9.36 14.74h1.56v1.34h-1.56zM24.96 14.74h1.56v1.34h-1.56zM29.64 14.74h1.56v1.34h-1.56zM23.4 16.08h1.56v1.34h-1.56zM14.04 17.42h1.56v1.34h-1.56zM17.16 17.42h1.56v1.34h-1.56zM15.6 18.76h1.56v1.34h-1.56zM18.72 18.76h1.56v1.34h-1.56zM20.28 18.76h1.56v1.34h-1.56zM21.84 18.76h1.56v1.34h-1.56zM0 20.1h1.56v1.34h-1.56zM24.96 20.1h1.56v1.34h-1.56zM34.32 20.1h1.56v1.34h-1.56zM14.04 21.44h1.56v1.34h-1.56zM32.76 22.78h1.56v1.34h-1.56zM1.56 24.12h1.56v1.34h-1.56zM14.04 24.12h1.56v1.34h-1.56zM28.08 24.12h1.56v1.34h-1.56zM32.76 24.12h1.56v1.34h-1.56zM34.32 24.12h1.56v1.34h-1.56zM14.04 25.46h1.56v1.34h-1.56zM23.4 25.46h1.56v1.34h-1.56zM7.8 26.8h1.56v1.34h-1.56zM9.36 26.8h1.56v1.34h-1.56zM15.6 26.8h1.56v1.34h-1.56zM18.72 26.8h1.56v1.34h-1.56zM23.4 26.8h1.56v1.34h-1.56zM32.76 26.8h1.56v1.34h-1.56zM34.32 26.8h1.56v1.34h-1.56zM28.08 28.14h1.56v1.34h-1.56zM31.2 28.14h1.56v1.34h-1.56zM32.76 28.14h1.56v1.34h-1.56zM17.16 29.48h1.56v1.34h-1.56zM20.28 29.48h1.56v1.34h-1.56zM21.84 29.48h1.56v1.34h-1.56zM24.96 29.48h1.56v1.34h-1.56zM29.64 29.48h1.56v1.34h-1.56zM10.92 30.82h1.56v1.34h-1.56zM10.92 32.16h1.56v1.34h-1.56zM18.72 32.16h1.56v1.34h-1.56zM28.08 32.16h1.56v1.34h-1.56zM15.6 34.84h1.56v1.34h-1.56zM21.84 34.84h1.56v1.34h-1.56zM1.56 36.18h1.56v1.34h-1.56zM7.8 36.18h1.56v1.34h-1.56zM10.92 36.18h1.56v1.34h-1.56zM23.4 36.18h1.56v1.34h-1.56zM32.76 36.18h1.56v1.34h-1.56zM37.44 36.18h1.56v1.34h-1.56zM6.24 37.52h1.56v1.34h-1.56zM15.6 37.52h1.56v1.34h-1.56zM32.76 37.52h1.56v1.34h-1.56zM1.56 38.86h1.56v1.34h-1.56zM3.12 38.86h1.56v1.34h-1.56zM6.24 38.86h1.56v1.34h-1.56zM7.8 38.86h1.56v1.34h-1.56zM12.48 38.86h1.56v1.34h-1.56zM23.4 38.86h1.56v1.34h-1.56zM31.2 38.86h1.56v1.34h-1.56zM12.48 40.2h1.56v1.34h-1.56zM31.2 40.2h1.56v1.34h-1.56zM24.96 41.54h1.56v1.34h-1.56zM29.64 41.54h1.56v1.34h-1.56zM12.48 42.88h1.56v1.34h-1.56zM3.12 44.22h1.56v1.34h-1.56zM18.72 44.22h1.56v1.34h-1.56zM29.64 44.22h1.56v1.34h-1.56zM35.88 44.22h1.56v1.34h-1.56zM1.56 45.56h1.56v1.34h-1.56zM15.6 45.56h1.56v1.34h-1.56zM17.16 45.56h1.56v1.34h-1.56zM34.32 45.56h1.56v1.34h-1.56zM35.88 45.56h1.56v1.34h-1.56zM14.04 46.9h1.56v1.34h-1.56zM15.6 46.9h1.56v1.34h-1.56zM20.28 46.9h1.56v1.34h-1.56zM37.44 46.9h1.56v1.34h-1.56zM4.68 48.24h1.56v1.34h-1.56zM10.92 48.24h1.56v1.34h-1.56zM37.44 48.24h1.56v1.34h-1.56zM14.04 49.58h1.56v1.34h-1.56zM26.52 50.92h1.56v1.34h-1.56zM28.08 50.92h1.56v1.34h-1.56zM6.24 52.26h1.56v1.34h-1.56zM7.8 52.26h1.56v1.34h-1.56zM21.84 52.26h1.56v1.34h-1.56zM21.84 53.6h1.56v1.34h-1.56zM10.92 54.94h1.56v1.34h-1.56zM12.48 54.94h1.56v1.34h-1.56zM17.16 54.94h1.56v1.34h-1.56zM28.08 54.94h1.56v1.34h-1.56zM29.64 54.94h1.56v1.34h-1.56zM18.72 56.28h1.56v1.34h-1.56zM23.4 56.28h1.56v1.34h-1.56zM1.56 57.62h1.56v1.34h-1.56zM3.12 57.62h1.56v1.34h-1.56zM20.28 57.62h1.56v1.34h-1.56zM15.6 58.96h1.56v1.34h-1.56zM29.64 58.96h1.56v1.34h-1.56zM4.68 60.3h1.56v1.34h-1.56zM12.48 60.3h1.56v1.34h-1.56zM15.6 60.3h1.56v1.34h-1.56zM24.96 60.3h1.56v1.34h-1.56zM7.8 61.64h1.56v1.34h-1.56zM18.72 61.64h1.56v1.34h-1.56zM26.52 61.64h1.56v1.34h-1.56zM28.08 61.64h1.56v1.34h-1.56zM34.32 61.64h1.56v1.34h-1.56zM6.24 62.98h1.56v1.34h-1.56zM7.8 62.98h1.56v1.34h-1.56zM14.04 62.98h1.56v1.34h-1.56zM15.6 62.98h1.56v1.34h-1.56zM18.72 62.98h1.56v1.34h-1.56zM37.44 62.98h1.56v1.34h-1.56zM14.04 64.32h1.56v1.34h-1.56zM21.84 64.32h1.56v1.34h-1.56zM23.4 64.32h1.56v1.34h-1.56zM32.76 64.32h1.56v1.34h-1.56zM0 65.66h1.56v1.34h-1.56zM6.24 65.66h1.56v1.34h-1.56zM12.48 65.66h1.56v1.34h-1.56zM15.6 65.66h1.56v1.34h-1.56zM26.52 65.66h1.56v1.34h-1.56zM28.08 67h1.56v1.34h-1.56zM1.56 68.34h1.56v1.34h-1.56zM14.04 69.68h1.56v1.34h-1.56zM31.2 69.68h1.56v1.34h-1.56zM3.12 71.02h1.56v1.34h-1.56zM7.8 71.02h1.56v1.34h-1.56zM9.36 71.02h1.56v1.34h-1.56zM15.6 71.02h1.56v1.34h-1.56zM20.28 71.02h1.56v1.34h-1.56zM21.84 71.02h1.56v1.34h-1.56zM28.08 71.02h1.56v1.34h-1.56zM29.64 71.02h1.56v1.34h-1.56zM31.2 71.02h1.56v1.34h-1.56zM32.76 71.02h1.56v1.34h-1.56zM35.88 71.02h1.56v1.34h-1.56zM20.28 72.36h1.56v1.34h-1.56zM21.84 72.36h1.56v1.34h-1.56zM23.4 72.36h1.56v1.34h-1.56zM32.76 72.36h1.56v1.34h-1.56zM3.12 73.7h1.56v1.34h-1.56zM18.72 73.7h1.56v1.34h-1.56zM35.88 73.7h1.56v1.34h-1.56zM37.44 73.7h1.56v1.34h-1.56zM4.68 75.04h1.56v1.34h-1.56zM18.72 75.04h1.56v1.34h-1.56zM23.4 75.04h1.56v1.34h-1.56zM26.52 75.04h1.56v1.34h-1.56zM34.32 75.04h1.56v1.34h-1.56zM1.56 76.38h1.56v1.34h-1.56zM4.68 76.38h1.56v1.34h-1.56zM20.28 76.38h1.56v1.34h-1.56zM3.12 77.72h1.56v1.34h-1.56zM14.04 77.72h1.56v1.34h-1.56zM37.44 77.72h1.56v1.34h-1.56zM34.32 79.06h1.56v1.34h-1.56zM0 80.4h1.56v1.34h-1.56zM21.84 80.4h1.56v1.34h-1.56zM34.32 80.4h1.56v1.34h-1.56zM0 81.74h1.56v1.34h-1.56zM1.56 81.74h1.56v1.34h-1.56zM7.8 81.74h1.56v1.34h-1.56zM10.92 81.74h1.56v1.34h-1.56zM12.48 81.74h1.56v1.34h-1.56zM31.2 81.74h1.56v1.34h-1.56zM35.88 81.74h1.56v1.34h-1.56zM14.04 83.08h1.56v1.34h-1.56zM17.16 83.08h1.56v1.34h-1.56zM28.08 83.08h1.56v1.34h-1.56zM12.48 84.42h1.56v1.34h-1.56zM18.72 84.42h1.56v1.34h-1.56zM26.52 84.42h1.56v1.34h-1.56zM31.2 84.42h1.56v1.34h-1.56zM34.32 84.42h1.56v1.34h-1.56zM20.28 85.76h1.56v1.34h-1.56zM4.68 87.1h1.56v1.34h-1.56zM14.04 87.1h1.56v1.34h-1.56zM32.76 87.1h1.56v1.34h-1.56zM1.56 88.44h1.56v1.34h-1.56zM3.12 88.44h1.56v1.34h-1.56zM4.68 88.44h1.56v1.34h-1.56zM14.04 88.44h1.56v1.34h-1.56zM26.52 88.44h1.56v1.34h-1.56zM7.8 89.78h1.56v1.34h-1.56zM18.72 89.78h1.56v1.34h-1.56zM21.84 89.78h1.56v1.34h-1.56zM31.2 89.78h1.56v1.34h-1.56zM35.88 89.78h1.56v1.34h-1.56zM0 92.46h1.56v1.34h-1.56zM10.92 92.46h1.56v1.34h-1.56zM14.04 92.46h1.56v1.34h-1.56zM20.28 92.46h1.56v1.34h-1.56zM26.52 92.46h1.56v1.34h-1.56zM9.36 93.8h1.56v1.34h-1.56zM15.6 93.8h1.56v1.34h-1.56zM3.12 95.14h1.56v1.34h-1.56zM7.8 95.14h1.56v1.34h-1.56zM23.4 95.14h1.56v1.34h-1.56zM29.64 95.14h1.56v1.34h-1.56zM31.2 95.14h1.56v1.34h-1.56zM35.88 95.14h1.56v1.34h-1.56zM4.68 96.48h1.56v1.34h-1.56zM32.76 96.48h1.56v1.34h-1.56zM0 97.82h1.56v1.34h-1.56zM14.04 97.82h1.56v1.34h-1.56zM9.36 99.16h1.56v1.34h-1.56zM14.04 99.16h1.56v1.34h-1.56zM0 100.5h1.56v1.34h-1.56zM9.36 100.5h1.56v1.34h-1.56zM28.08 100.5h1.56v1.34h-1.56zM10.92 101.84h1.56v1.34h-1.56zM14.04 101.84h1.56v1.34h-1.56zM21.84 101.84h1.56v1.34h-1.56zM28.08 101.84h1.56v1.34h-1.56zM10.92 103.18h1.56v1.34h-1.56zM12.48 103.18h1.56v1.34h-1.56zM20.28 103.18h1.56v1.34h-1.56zM37.44 103.18h1.56v1.34h-1.56zM12.48 104.52h1.56v1.34h-1.56zM14.04 104.52h1.56v1.34h-1.56zM15.6 104.52h1.56v1.34h-1.56zM20.28 104.52h1.56v1.34h-1.56zM10.92 105.86h1.56v1.34h-1.56zM17.16 105.86h1.56v1.34h-1.56zM18.72 105.86h1.56v1.34h-1.56zM21.84 105.86h1.56v1.34h-1.56zM18.72 107.2h1.56v1.34h-1.56zM29.64 107.2h1.56v1.34h-1.56zM37.44 107.2h1.56v1.34h-1.56zM26.52 108.54h1.56v1.34h-1.56zM35.88 108.54h1.56v1.34h-1.56zM0 109.88h1.56v1.34h-1.56zM23.4 109.88h1.56v1.34h-1.56zM3.12 111.22h1.56v1.34h-1.56zM7.8 111.22h1.56v1.34h-1.56zM32.76 112.56h1.56v1.34h-1.56zM35.88 112.56h1.56v1.34h-1.56zM14.04 113.9h1.56v1.34h-1.56zM21.84 113.9h1.56v1.34h-1.56zM14.04 115.24h1.56v1.34h-1.56zM1.56 116.58h1.56v1.34h-1.56zM17.16 116.58h1.56v1.34h-1.56zM21.84 116.58h1.56v1.34h-1.56zM26.52 116.58h1.56v1.34h-1.56zM37.44 116.58h1.56v1.34h-1.56zM3.12 117.92h1.56v1.34h-1.56zM4.68 117.92h1.56v1.34h-1.56zM7.8 117.92h1.56v1.34h-1.56zM17.16 117.92h1.56v1.34h-1.56zM23.4 117.92h1.56v1.34h-1.56zM4.68 119.26h1.56v1.34h-1.56zM7.8 119.26h1.56v1.34h-1.56zM9.36 119.26h1.56v1.34h-1.56zM17.16 119.26h1.56v1.34h-1.56zM26.52 119.26h1.56v1.34h-1.56zM28.08 119.26h1.56v1.34h-1.56z"/>
</pattern>
<pattern id="h4" x="449.8" y="402.4" width="39" height="121" patternUnits="userSpaceOnUse">
<rect width="39" height="121" fill="#f4c6ca"/>
<path fill="#e46e7a" d="M0 0h1.56v1.34h-1.56zM7.8 0h1.56v1.34h-1.56zM17.16 0h1.56v1.34h-1.56zM0 1.34h1.56v1.34h-1.56zM6.24 1.34h1.56v1.34h-1.56zM10.92 1.34h1.56v1.34h-1.56zM24.96 1.34h1.56v1.34h-1.56zM28.08 1.34h1.56v1.34h-1.56zM7.8 2.68h1.56v1.34h-1.56zM23.4 2.68h1.56v1.34h-1.56zM26.52 2.68h1.56v1.34h-1.56zM31.2 2.68h1.56v1.34h-1.56zM35.88 2.68h1.56v1.34h-1.56zM37.44 2.68h1.56v1.34h-1.56zM23.4 4.02h1.56v1.34h-1.56zM3.12 5.36h1.56v1.34h-1.56zM9.36 5.36h1.56v1.34h-1.56zM3.12 6.7h1.56v1.34h-1.56zM37.44 6.7h1.56v1.34h-1.56zM1.56 8.04h1.56v1.34h-1.56zM3.12 8.04h1.56v1.34h-1.56zM4.68 9.38h1.56v1.34h-1.56zM7.8 9.38h1.56v1.34h-1.56zM23.4 9.38h1.56v1.34h-1.56zM0 10.72h1.56v1.34h-1.56zM1.56 10.72h1.56v1.34h-1.56zM18.72 10.72h1.56v1.34h-1.56zM26.52 10.72h1.56v1.34h-1.56zM31.2 10.72h1.56v1.34h-1.56zM32.76 10.72h1.56v1.34h-1.56zM0 12.06h1.56v1.34h-1.56zM4.68 12.06h1.56v1.34h-1.56zM35.88 12.06h1.56v1.34h-1.56zM4.68 13.4h1.56v1.34h-1.56zM9.36 13.4h1.56v1.34h-1.56zM31.2 13.4h1.56v1.34h-1.56zM0 14.74h1.56v1.34h-1.56zM9.36 14.74h1.56v1.34h-1.56zM17.16 14.74h1.56v1.34h-1.56zM29.64 14.74h1.56v1.34h-1.56zM32.76 14.74h1.56v1.34h-1.56zM34.32 14.74h1.56v1.34h-1.56zM12.48 16.08h1.56v1.34h-1.56zM18.72 16.08h1.56v1.34h-1.56zM29.64 16.08h1.56v1.34h-1.56zM31.2 16.08h1.56v1.34h-1.56zM10.92 17.42h1.56v1.34h-1.56zM23.4 17.42h1.56v1.34h-1.56zM10.92 18.76h1.56v1.34h-1.56zM24.96 18.76h1.56v1.34h-1.56zM26.52 18.76h1.56v1.34h-1.56zM1.56 20.1h1.56v1.34h-1.56zM3.12 20.1h1.56v1.34h-1.56zM9.36 20.1h1.56v1.34h-1.56zM18.72 20.1h1.56v1.34h-1.56zM32.76 20.1h1.56v1.34h-1.56zM35.88 20.1h1.56v1.34h-1.56zM0 21.44h1.56v1.34h-1.56zM10.92 21.44h1.56v1.34h-1.56zM17.16 21.44h1.56v1.34h-1.56zM31.2 21.44h1.56v1.34h-1.56zM14.04 22.78h1.56v1.34h-1.56zM23.4 22.78h1.56v1.34h-1.56zM28.08 22.78h1.56v1.34h-1.56zM32.76 22.78h1.56v1.34h-1.56zM35.88 22.78h1.56v1.34h-1.56zM0 24.12h1.56v1.34h-1.56zM26.52 24.12h1.56v1.34h-1.56zM35.88 24.12h1.56v1.34h-1.56zM1.56 25.46h1.56v1.34h-1.56zM3.12 25.46h1.56v1.34h-1.56zM6.24 25.46h1.56v1.34h-1.56zM17.16 25.46h1.56v1.34h-1.56zM18.72 25.46h1.56v1.34h-1.56zM20.28 25.46h1.56v1.34h-1.56zM24.96 25.46h1.56v1.34h-1.56zM37.44 25.46h1.56v1.34h-1.56zM20.28 26.8h1.56v1.34h-1.56zM24.96 26.8h1.56v1.34h-1.56zM28.08 26.8h1.56v1.34h-1.56zM34.32 26.8h1.56v1.34h-1.56zM10.92 28.14h1.56v1.34h-1.56zM26.52 28.14h1.56v1.34h-1.56zM37.44 28.14h1.56v1.34h-1.56zM7.8 29.48h1.56v1.34h-1.56zM18.72 29.48h1.56v1.34h-1.56zM21.84 29.48h1.56v1.34h-1.56zM34.32 29.48h1.56v1.34h-1.56zM9.36 30.82h1.56v1.34h-1.56zM10.92 30.82h1.56v1.34h-1.56zM21.84 30.82h1.56v1.34h-1.56zM32.76 30.82h1.56v1.34h-1.56zM15.6 32.16h1.56v1.34h-1.56zM24.96 32.16h1.56v1.34h-1.56zM35.88 32.16h1.56v1.34h-1.56zM37.44 32.16h1.56v1.34h-1.56zM0 34.84h1.56v1.34h-1.56zM3.12 34.84h1.56v1.34h-1.56zM7.8 34.84h1.56v1.34h-1.56zM9.36 34.84h1.56v1.34h-1.56zM29.64 34.84h1.56v1.34h-1.56zM14.04 36.18h1.56v1.34h-1.56zM21.84 36.18h1.56v1.34h-1.56zM31.2 36.18h1.56v1.34h-1.56zM1.56 37.52h1.56v1.34h-1.56zM4.68 37.52h1.56v1.34h-1.56zM10.92 37.52h1.56v1.34h-1.56zM21.84 38.86h1.56v1.34h-1.56zM24.96 38.86h1.56v1.34h-1.56zM34.32 38.86h1.56v1.34h-1.56zM4.68 40.2h1.56v1.34h-1.56zM28.08 40.2h1.56v1.34h-1.56zM34.32 40.2h1.56v1.34h-1.56zM0 41.54h1.56v1.34h-1.56zM24.96 41.54h1.56v1.34h-1.56zM29.64 41.54h1.56v1.34h-1.56zM32.76 41.54h1.56v1.34h-1.56zM37.44 41.54h1.56v1.34h-1.56zM17.16 42.88h1.56v1.34h-1.56zM28.08 42.88h1.56v1.34h-1.56zM32.76 42.88h1.56v1.34h-1.56zM6.24 44.22h1.56v1.34h-1.56zM14.04 44.22h1.56v1.34h-1.56zM21.84 44.22h1.56v1.34h-1.56zM18.72 45.56h1.56v1.34h-1.56zM37.44 45.56h1.56v1.34h-1.56zM4.68 46.9h1.56v1.34h-1.56zM26.52 46.9h1.56v1.34h-1.56zM29.64 46.9h1.56v1.34h-1.56zM31.2 48.24h1.56v1.34h-1.56zM32.76 48.24h1.56v1.34h-1.56zM0 49.58h1.56v1.34h-1.56zM4.68 49.58h1.56v1.34h-1.56zM26.52 49.58h1.56v1.34h-1.56zM29.64 49.58h1.56v1.34h-1.56zM0 50.92h1.56v1.34h-1.56zM10.92 50.92h1.56v1.34h-1.56zM15.6 50.92h1.56v1.34h-1.56zM0 52.26h1.56v1.34h-1.56zM6.24 52.26h1.56v1.34h-1.56zM7.8 52.26h1.56v1.34h-1.56zM18.72 52.26h1.56v1.34h-1.56zM18.72 53.6h1.56v1.34h-1.56zM21.84 53.6h1.56v1.34h-1.56zM28.08 53.6h1.56v1.34h-1.56zM3.12 54.94h1.56v1.34h-1.56zM0 56.28h1.56v1.34h-1.56zM1.56 56.28h1.56v1.34h-1.56zM3.12 56.28h1.56v1.34h-1.56zM7.8 56.28h1.56v1.34h-1.56zM3.12 57.62h1.56v1.34h-1.56zM17.16 57.62h1.56v1.34h-1.56zM0 58.96h1.56v1.34h-1.56zM17.16 58.96h1.56v1.34h-1.56zM34.32 58.96h1.56v1.34h-1.56zM9.36 60.3h1.56v1.34h-1.56zM14.04 60.3h1.56v1.34h-1.56zM23.4 60.3h1.56v1.34h-1.56zM29.64 60.3h1.56v1.34h-1.56zM32.76 60.3h1.56v1.34h-1.56zM1.56 61.64h1.56v1.34h-1.56zM6.24 61.64h1.56v1.34h-1.56zM17.16 61.64h1.56v1.34h-1.56zM18.72 61.64h1.56v1.34h-1.56zM35.88 61.64h1.56v1.34h-1.56zM7.8 62.98h1.56v1.34h-1.56zM34.32 64.32h1.56v1.34h-1.56zM35.88 64.32h1.56v1.34h-1.56zM3.12 65.66h1.56v1.34h-1.56zM20.28 65.66h1.56v1.34h-1.56zM28.08 65.66h1.56v1.34h-1.56zM12.48 67h1.56v1.34h-1.56zM17.16 67h1.56v1.34h-1.56zM23.4 67h1.56v1.34h-1.56zM32.76 67h1.56v1.34h-1.56zM31.2 68.34h1.56v1.34h-1.56zM35.88 68.34h1.56v1.34h-1.56zM37.44 68.34h1.56v1.34h-1.56zM9.36 69.68h1.56v1.34h-1.56zM10.92 69.68h1.56v1.34h-1.56zM15.6 69.68h1.56v1.34h-1.56zM17.16 69.68h1.56v1.34h-1.56zM34.32 69.68h1.56v1.34h-1.56zM0 71.02h1.56v1.34h-1.56zM6.24 71.02h1.56v1.34h-1.56zM4.68 72.36h1.56v1.34h-1.56zM24.96 72.36h1.56v1.34h-1.56zM26.52 72.36h1.56v1.34h-1.56zM32.76 72.36h1.56v1.34h-1.56zM4.68 73.7h1.56v1.34h-1.56zM9.36 73.7h1.56v1.34h-1.56zM20.28 73.7h1.56v1.34h-1.56zM28.08 73.7h1.56v1.34h-1.56zM1.56 75.04h1.56v1.34h-1.56zM3.12 75.04h1.56v1.34h-1.56zM12.48 76.38h1.56v1.34h-1.56zM26.52 76.38h1.56v1.34h-1.56zM35.88 76.38h1.56v1.34h-1.56zM10.92 77.72h1.56v1.34h-1.56zM26.52 77.72h1.56v1.34h-1.56zM28.08 77.72h1.56v1.34h-1.56zM29.64 77.72h1.56v1.34h-1.56zM35.88 77.72h1.56v1.34h-1.56zM29.64 79.06h1.56v1.34h-1.56zM31.2 79.06h1.56v1.34h-1.56zM35.88 79.06h1.56v1.34h-1.56zM10.92 80.4h1.56v1.34h-1.56zM12.48 80.4h1.56v1.34h-1.56zM14.04 80.4h1.56v1.34h-1.56zM20.28 80.4h1.56v1.34h-1.56zM3.12 81.74h1.56v1.34h-1.56zM6.24 81.74h1.56v1.34h-1.56zM18.72 81.74h1.56v1.34h-1.56zM4.68 83.08h1.56v1.34h-1.56zM31.2 83.08h1.56v1.34h-1.56zM34.32 83.08h1.56v1.34h-1.56zM0 84.42h1.56v1.34h-1.56zM10.92 84.42h1.56v1.34h-1.56zM29.64 84.42h1.56v1.34h-1.56zM0 85.76h1.56v1.34h-1.56zM17.16 85.76h1.56v1.34h-1.56zM23.4 85.76h1.56v1.34h-1.56zM32.76 85.76h1.56v1.34h-1.56zM1.56 87.1h1.56v1.34h-1.56zM9.36 87.1h1.56v1.34h-1.56zM20.28 87.1h1.56v1.34h-1.56zM26.52 87.1h1.56v1.34h-1.56zM29.64 87.1h1.56v1.34h-1.56zM31.2 87.1h1.56v1.34h-1.56zM0 88.44h1.56v1.34h-1.56zM6.24 88.44h1.56v1.34h-1.56zM7.8 88.44h1.56v1.34h-1.56zM15.6 88.44h1.56v1.34h-1.56zM21.84 88.44h1.56v1.34h-1.56zM29.64 88.44h1.56v1.34h-1.56zM32.76 88.44h1.56v1.34h-1.56zM34.32 88.44h1.56v1.34h-1.56zM26.52 89.78h1.56v1.34h-1.56zM4.68 91.12h1.56v1.34h-1.56zM7.8 91.12h1.56v1.34h-1.56zM14.04 91.12h1.56v1.34h-1.56zM23.4 91.12h1.56v1.34h-1.56zM32.76 91.12h1.56v1.34h-1.56zM12.48 92.46h1.56v1.34h-1.56zM26.52 92.46h1.56v1.34h-1.56zM34.32 92.46h1.56v1.34h-1.56zM1.56 93.8h1.56v1.34h-1.56zM9.36 93.8h1.56v1.34h-1.56zM10.92 93.8h1.56v1.34h-1.56zM9.36 95.14h1.56v1.34h-1.56zM15.6 95.14h1.56v1.34h-1.56zM20.28 95.14h1.56v1.34h-1.56zM9.36 96.48h1.56v1.34h-1.56zM23.4 97.82h1.56v1.34h-1.56zM9.36 99.16h1.56v1.34h-1.56zM18.72 99.16h1.56v1.34h-1.56zM6.24 100.5h1.56v1.34h-1.56zM10.92 100.5h1.56v1.34h-1.56zM29.64 100.5h1.56v1.34h-1.56zM0 101.84h1.56v1.34h-1.56zM14.04 101.84h1.56v1.34h-1.56zM20.28 101.84h1.56v1.34h-1.56zM21.84 101.84h1.56v1.34h-1.56zM1.56 103.18h1.56v1.34h-1.56zM21.84 103.18h1.56v1.34h-1.56zM32.76 103.18h1.56v1.34h-1.56zM34.32 103.18h1.56v1.34h-1.56zM7.8 104.52h1.56v1.34h-1.56zM9.36 104.52h1.56v1.34h-1.56zM28.08 104.52h1.56v1.34h-1.56zM17.16 105.86h1.56v1.34h-1.56zM24.96 105.86h1.56v1.34h-1.56zM12.48 107.2h1.56v1.34h-1.56zM21.84 107.2h1.56v1.34h-1.56zM6.24 108.54h1.56v1.34h-1.56zM28.08 108.54h1.56v1.34h-1.56zM32.76 109.88h1.56v1.34h-1.56zM34.32 109.88h1.56v1.34h-1.56zM14.04 111.22h1.56v1.34h-1.56zM21.84 111.22h1.56v1.34h-1.56zM34.32 111.22h1.56v1.34h-1.56zM0 112.56h1.56v1.34h-1.56zM4.68 112.56h1.56v1.34h-1.56zM12.48 112.56h1.56v1.34h-1.56zM18.72 112.56h1.56v1.34h-1.56zM28.08 112.56h1.56v1.34h-1.56zM29.64 112.56h1.56v1.34h-1.56zM37.44 112.56h1.56v1.34h-1.56zM7.8 113.9h1.56v1.34h-1.56zM37.44 113.9h1.56v1.34h-1.56zM26.52 115.24h1.56v1.34h-1.56zM35.88 115.24h1.56v1.34h-1.56zM4.68 116.58h1.56v1.34h-1.56zM10.92 116.58h1.56v1.34h-1.56zM14.04 116.58h1.56v1.34h-1.56zM23.4 116.58h1.56v1.34h-1.56zM37.44 116.58h1.56v1.34h-1.56zM6.24 117.92h1.56v1.34h-1.56zM12.48 117.92h1.56v1.34h-1.56zM17.16 117.92h1.56v1.34h-1.56zM31.2 117.92h1.56v1.34h-1.56zM31.2 119.26h1.56v1.34h-1.56zM35.88 119.26h1.56v1.34h-1.56z"/>
<path fill="#f2b0b7" d="M1.56 0h1.56v1.34h-1.56zM6.24 0h1.56v1.34h-1.56zM9.36 0h1.56v1.34h-1.56zM20.28 0h1.56v1.34h-1.56zM34.32 0h1.56v1.34h-1.56zM3.12 1.34h1.56v1.34h-1.56zM9.36 1.34h1.56v1.34h-1.56zM37.44 1.34h1.56v1.34h-1.56zM4.68 2.68h1.56v1.34h-1.56zM20.28 2.68h1.56v1.34h-1.56zM4.68 4.02h1.56v1.34h-1.56zM7.8 4.02h1.56v1.34h-1.56zM17.16 4.02h1.56v1.34h-1.56zM21.84 4.02h1.56v1.34h-1.56zM29.64 4.02h1.56v1.34h-1.56zM35.88 4.02h1.56v1.34h-1.56zM21.84 5.36h1.56v1.34h-1.56zM23.4 5.36h1.56v1.34h-1.56zM31.2 5.36h1.56v1.34h-1.56zM32.76 5.36h1.56v1.34h-1.56zM35.88 5.36h1.56v1.34h-1.56zM1.56 6.7h1.56v1.34h-1.56zM14.04 6.7h1.56v1.34h-1.56zM21.84 6.7h1.56v1.34h-1.56zM31.2 6.7h1.56v1.34h-1.56zM12.48 8.04h1.56v1.34h-1.56zM14.04 8.04h1.56v1.34h-1.56zM31.2 8.04h1.56v1.34h-1.56zM0 9.38h1.56v1.34h-1.56zM20.28 9.38h1.56v1.34h-1.56zM24.96 9.38h1.56v1.34h-1.56zM29.64 9.38h1.56v1.34h-1.56zM34.32 9.38h1.56v1.34h-1.56zM10.92 10.72h1.56v1.34h-1.56zM17.16 10.72h1.56v1.34h-1.56zM14.04 12.06h1.56v1.34h-1.56zM15.6 12.06h1.56v1.34h-1.56zM21.84 12.06h1.56v1.34h-1.56zM26.52 12.06h1.56v1.34h-1.56zM0 13.4h1.56v1.34h-1.56zM7.8 13.4h1.56v1.34h-1.56zM20.28 13.4h1.56v1.34h-1.56zM34.32 13.4h1.56v1.34h-1.56zM37.44 13.4h1.56v1.34h-1.56zM26.52 14.74h1.56v1.34h-1.56zM37.44 14.74h1.56v1.34h-1.56zM4.68 16.08h1.56v1.34h-1.56zM23.4 16.08h1.56v1.34h-1.56zM26.52 16.08h1.56v1.34h-1.56zM28.08 16.08h1.56v1.34h-1.56zM35.88 16.08h1.56v1.34h-1.56zM0 17.42h1.56v1.34h-1.56zM3.12 17.42h1.56v1.34h-1.56zM9.36 17.42h1.56v1.34h-1.56zM17.16 17.42h1.56v1.34h-1.56zM28.08 17.42h1.56v1.34h-1.56zM3.12 18.76h1.56v1.34h-1.56zM7.8 18.76h1.56v1.34h-1.56zM15.6 18.76h1.56v1.34h-1.56zM18.72 18.76h1.56v1.34h-1.56zM35.88 18.76h1.56v1.34h-1.56zM0 20.1h1.56v1.34h-1.56zM12.48 20.1h1.56v1.34h-1.56zM17.16 20.1h1.56v1.34h-1.56zM23.4 20.1h1.56v1.34h-1.56zM34.32 20.1h1.56v1.34h-1.56zM35.88 21.44h1.56v1.34h-1.56zM7.8 22.78h1.56v1.34h-1.56zM10.92 22.78h1.56v1.34h-1.56zM12.48 22.78h1.56v1.34h-1.56zM15.6 22.78h1.56v1.34h-1.56zM20.28 22.78h1.56v1.34h-1.56zM24.96 22.78h1.56v1.34h-1.56zM17.16 24.12h1.56v1.34h-1.56zM21.84 24.12h1.56v1.34h-1.56zM37.44 24.12h1.56v1.34h-1.56zM4.68 25.46h1.56v1.34h-1.56zM26.52 25.46h1.56v1.34h-1.56zM32.76 25.46h1.56v1.34h-1.56zM21.84 26.8h1.56v1.34h-1.56zM31.2 26.8h1.56v1.34h-1.56zM35.88 26.8h1.56v1.34h-1.56zM37.44 26.8h1.56v1.34h-1.56zM18.72 28.14h1.56v1.34h-1.56zM23.4 28.14h1.56v1.34h-1.56zM31.2 28.14h1.56v1.34h-1.56zM3.12 29.48h1.56v1.34h-1.56zM4.68 29.48h1.56v1.34h-1.56zM4.68 30.82h1.56v1.34h-1.56zM7.8 30.82h1.56v1.34h-1.56zM15.6 30.82h1.56v1.34h-1.56zM17.16 30.82h1.56v1.34h-1.56zM18.72 30.82h1.56v1.34h-1.56zM20.28 30.82h1.56v1.34h-1.56zM31.2 30.82h1.56v1.34h-1.56zM6.24 32.16h1.56v1.34h-1.56zM23.4 32.16h1.56v1.34h-1.56zM26.52 32.16h1.56v1.34h-1.56zM0 33.5h1.56v1.34h-1.56zM3.12 33.5h1.56v1.34h-1.56zM9.36 33.5h1.56v1.34h-1.56zM35.88 33.5h1.56v1.34h-1.56zM4.68 34.84h1.56v1.34h-1.56zM18.72 34.84h1.56v1.34h-1.56zM28.08 34.84h1.56v1.34h-1.56zM37.44 34.84h1.56v1.34h-1.56zM0 36.18h1.56v1.34h-1.56zM10.92 36.18h1.56v1.34h-1.56zM32.76 36.18h1.56v1.34h-1.56zM17.16 37.52h1.56v1.34h-1.56zM20.28 37.52h1.56v1.34h-1.56zM23.4 37.52h1.56v1.34h-1.56zM3.12 38.86h1.56v1.34h-1.56zM6.24 38.86h1.56v1.34h-1.56zM9.36 38.86h1.56v1.34h-1.56zM14.04 38.86h1.56v1.34h-1.56zM18.72 38.86h1.56v1.34h-1.56zM20.28 38.86h1.56v1.34h-1.56zM26.52 38.86h1.56v1.34h-1.56zM29.64 38.86h1.56v1.34h-1.56zM0 40.2h1.56v1.34h-1.56zM1.56 40.2h1.56v1.34h-1.56zM18.72 40.2h1.56v1.34h-1.56zM24.96 40.2h1.56v1.34h-1.56zM0 42.88h1.56v1.34h-1.56zM12.48 42.88h1.56v1.34h-1.56zM29.64 42.88h1.56v1.34h-1.56zM37.44 42.88h1.56v1.34h-1.56zM20.28 44.22h1.56v1.34h-1.56zM26.52 44.22h1.56v1.34h-1.56zM32.76 44.22h1.56v1.34h-1.56zM12.48 45.56h1.56v1.34h-1.56zM15.6 45.56h1.56v1.34h-1.56zM29.64 45.56h1.56v1.34h-1.56zM12.48 46.9h1.56v1.34h-1.56zM21.84 46.9h1.56v1.34h-1.56zM23.4 46.9h1.56v1.34h-1.56zM32.76 46.9h1.56v1.34h-1.56zM37.44 46.9h1.56v1.34h-1.56zM7.8 48.24h1.56v1.34h-1.56zM9.36 48.24h1.56v1.34h-1.56zM17.16 48.24h1.56v1.34h-1.56zM28.08 48.24h1.56v1.34h-1.56zM29.64 48.24h1.56v1.34h-1.56zM10.92 49.58h1.56v1.34h-1.56zM31.2 49.58h1.56v1.34h-1.56zM32.76 49.58h1.56v1.34h-1.56zM3.12 50.92h1.56v1.34h-1.56zM4.68 50.92h1.56v1.34h-1.56zM6.24 50.92h1.56v1.34h-1.56zM17.16 50.92h1.56v1.34h-1.56zM29.64 50.92h1.56v1.34h-1.56zM31.2 50.92h1.56v1.34h-1.56zM1.56 53.6h1.56v1.34h-1.56zM4.68 53.6h1.56v1.34h-1.56zM12.48 53.6h1.56v1.34h-1.56zM20.28 53.6h1.56v1.34h-1.56zM26.52 53.6h1.56v1.34h-1.56zM31.2 53.6h1.56v1.34h-1.56zM32.76 53.6h1.56v1.34h-1.56zM12.48 54.94h1.56v1.34h-1.56zM23.4 54.94h1.56v1.34h-1.56zM29.64 54.94h1.56v1.34h-1.56zM32.76 54.94h1.56v1.34h-1.56zM37.44 54.94h1.56v1.34h-1.56zM26.52 56.28h1.56v1.34h-1.56zM28.08 56.28h1.56v1.34h-1.56zM31.2 56.28h1.56v1.34h-1.56zM15.6 57.62h1.56v1.34h-1.56zM18.72 57.62h1.56v1.34h-1.56zM28.08 57.62h1.56v1.34h-1.56zM9.36 58.96h1.56v1.34h-1.56zM14.04 58.96h1.56v1.34h-1.56zM15.6 58.96h1.56v1.34h-1.56zM21.84 58.96h1.56v1.34h-1.56zM20.28 60.3h1.56v1.34h-1.56zM34.32 60.3h1.56v1.34h-1.56zM12.48 61.64h1.56v1.34h-1.56zM24.96 61.64h1.56v1.34h-1.56zM32.76 61.64h1.56v1.34h-1.56zM9.36 62.98h1.56v1.34h-1.56zM18.72 62.98h1.56v1.34h-1.56zM23.4 62.98h1.56v1.34h-1.56zM24.96 62.98h1.56v1.34h-1.56zM31.2 62.98h1.56v1.34h-1.56zM1.56 64.32h1.56v1.34h-1.56zM18.72 64.32h1.56v1.34h-1.56zM0 65.66h1.56v1.34h-1.56zM9.36 65.66h1.56v1.34h-1.56zM12.48 65.66h1.56v1.34h-1.56zM15.6 65.66h1.56v1.34h-1.56zM17.16 65.66h1.56v1.34h-1.56zM21.84 65.66h1.56v1.34h-1.56zM34.32 65.66h1.56v1.34h-1.56zM1.56 67h1.56v1.34h-1.56zM9.36 67h1.56v1.34h-1.56zM10.92 67h1.56v1.34h-1.56zM14.04 67h1.56v1.34h-1.56zM24.96 67h1.56v1.34h-1.56zM26.52 67h1.56v1.34h-1.56zM28.08 67h1.56v1.34h-1.56zM0 68.34h1.56v1.34h-1.56zM17.16 68.34h1.56v1.34h-1.56zM20.28 68.34h1.56v1.34h-1.56zM24.96 68.34h1.56v1.34h-1.56zM32.76 68.34h1.56v1.34h-1.56zM7.8 69.68h1.56v1.34h-1.56zM20.28 69.68h1.56v1.34h-1.56zM21.84 69.68h1.56v1.34h-1.56zM35.88 69.68h1.56v1.34h-1.56zM1.56 71.02h1.56v1.34h-1.56zM7.8 71.02h1.56v1.34h-1.56zM9.36 71.02h1.56v1.34h-1.56zM15.6 71.02h1.56v1.34h-1.56zM17.16 71.02h1.56v1.34h-1.56zM21.84 71.02h1.56v1.34h-1.56zM23.4 71.02h1.56v1.34h-1.56zM31.2 71.02h1.56v1.34h-1.56zM32.76 71.02h1.56v1.34h-1.56zM7.8 72.36h1.56v1.34h-1.56zM10.92 72.36h1.56v1.34h-1.56zM18.72 72.36h1.56v1.34h-1.56zM21.84 72.36h1.56v1.34h-1.56zM28.08 72.36h1.56v1.34h-1.56zM29.64 72.36h1.56v1.34h-1.56zM31.2 72.36h1.56v1.34h-1.56zM35.88 72.36h1.56v1.34h-1.56zM3.12 73.7h1.56v1.34h-1.56zM6.24 73.7h1.56v1.34h-1.56zM12.48 73.7h1.56v1.34h-1.56zM14.04 73.7h1.56v1.34h-1.56zM23.4 73.7h1.56v1.34h-1.56zM24.96 73.7h1.56v1.34h-1.56zM37.44 73.7h1.56v1.34h-1.56zM29.64 75.04h1.56v1.34h-1.56zM37.44 75.04h1.56v1.34h-1.56zM15.6 76.38h1.56v1.34h-1.56zM17.16 76.38h1.56v1.34h-1.56zM18.72 76.38h1.56v1.34h-1.56zM24.96 76.38h1.56v1.34h-1.56zM0 77.72h1.56v1.34h-1.56zM6.24 77.72h1.56v1.34h-1.56zM20.28 77.72h1.56v1.34h-1.56zM24.96 77.72h1.56v1.34h-1.56zM31.2 77.72h1.56v1.34h-1.56zM14.04 79.06h1.56v1.34h-1.56zM23.4 79.06h1.56v1.34h-1.56zM3.12 80.4h1.56v1.34h-1.56zM18.72 80.4h1.56v1.34h-1.56zM10.92 81.74h1.56v1.34h-1.56zM17.16 81.74h1.56v1.34h-1.56zM24.96 81.74h1.56v1.34h-1.56zM26.52 81.74h1.56v1.34h-1.56zM32.76 81.74h1.56v1.34h-1.56zM0 83.08h1.56v1.34h-1.56zM1.56 83.08h1.56v1.34h-1.56zM3.12 83.08h1.56v1.34h-1.56zM6.24 83.08h1.56v1.34h-1.56zM9.36 83.08h1.56v1.34h-1.56zM10.92 83.08h1.56v1.34h-1.56zM20.28 83.08h1.56v1.34h-1.56zM21.84 83.08h1.56v1.34h-1.56zM23.4 83.08h1.56v1.34h-1.56zM24.96 83.08h1.56v1.34h-1.56zM35.88 83.08h1.56v1.34h-1.56zM1.56 84.42h1.56v1.34h-1.56zM12.48 84.42h1.56v1.34h-1.56zM17.16 84.42h1.56v1.34h-1.56zM18.72 84.42h1.56v1.34h-1.56zM20.28 84.42h1.56v1.34h-1.56zM21.84 84.42h1.56v1.34h-1.56zM28.08 84.42h1.56v1.34h-1.56zM32.76 84.42h1.56v1.34h-1.56zM10.92 85.76h1.56v1.34h-1.56zM21.84 85.76h1.56v1.34h-1.56zM29.64 85.76h1.56v1.34h-1.56zM3.12 87.1h1.56v1.34h-1.56zM10.92 87.1h1.56v1.34h-1.56zM12.48 88.44h1.56v1.34h-1.56zM23.4 88.44h1.56v1.34h-1.56zM31.2 88.44h1.56v1.34h-1.56zM14.04 89.78h1.56v1.34h-1.56zM21.84 89.78h1.56v1.34h-1.56zM23.4 89.78h1.56v1.34h-1.56zM29.64 89.78h1.56v1.34h-1.56zM9.36 91.12h1.56v1.34h-1.56zM26.52 91.12h1.56v1.34h-1.56zM28.08 91.12h1.56v1.34h-1.56zM0 92.46h1.56v1.34h-1.56zM4.68 92.46h1.56v1.34h-1.56zM9.36 92.46h1.56v1.34h-1.56zM14.04 92.46h1.56v1.34h-1.56zM21.84 92.46h1.56v1.34h-1.56zM4.68 93.8h1.56v1.34h-1.56zM6.24 93.8h1.56v1.34h-1.56zM32.76 93.8h1.56v1.34h-1.56zM35.88 93.8h1.56v1.34h-1.56zM0 95.14h1.56v1.34h-1.56zM4.68 95.14h1.56v1.34h-1.56zM26.52 95.14h1.56v1.34h-1.56zM28.08 95.14h1.56v1.34h-1.56zM37.44 95.14h1.56v1.34h-1.56zM10.92 96.48h1.56v1.34h-1.56zM37.44 96.48h1.56v1.34h-1.56zM6.24 97.82h1.56v1.34h-1.56zM26.52 97.82h1.56v1.34h-1.56zM31.2 97.82h1.56v1.34h-1.56zM0 99.16h1.56v1.34h-1.56zM4.68 99.16h1.56v1.34h-1.56zM6.24 99.16h1.56v1.34h-1.56zM7.8 99.16h1.56v1.34h-1.56zM14.04 99.16h1.56v1.34h-1.56zM37.44 99.16h1.56v1.34h-1.56zM7.8 100.5h1.56v1.34h-1.56zM15.6 100.5h1.56v1.34h-1.56zM28.08 100.5h1.56v1.34h-1.56zM35.88 100.5h1.56v1.34h-1.56zM6.24 101.84h1.56v1.34h-1.56zM7.8 101.84h1.56v1.34h-1.56zM17.16 101.84h1.56v1.34h-1.56zM18.72 101.84h1.56v1.34h-1.56zM28.08 101.84h1.56v1.34h-1.56zM31.2 101.84h1.56v1.34h-1.56zM34.32 101.84h1.56v1.34h-1.56zM6.24 103.18h1.56v1.34h-1.56zM35.88 103.18h1.56v1.34h-1.56zM4.68 104.52h1.56v1.34h-1.56zM6.24 104.52h1.56v1.34h-1.56zM10.92 104.52h1.56v1.34h-1.56zM12.48 104.52h1.56v1.34h-1.56zM20.28 104.52h1.56v1.34h-1.56zM32.76 104.52h1.56v1.34h-1.56zM15.6 105.86h1.56v1.34h-1.56zM37.44 105.86h1.56v1.34h-1.56zM0 107.2h1.56v1.34h-1.56zM9.36 107.2h1.56v1.34h-1.56zM23.4 107.2h1.56v1.34h-1.56zM32.76 107.2h1.56v1.34h-1.56zM37.44 107.2h1.56v1.34h-1.56zM7.8 108.54h1.56v1.34h-1.56zM31.2 108.54h1.56v1.34h-1.56zM1.56 109.88h1.56v1.34h-1.56zM9.36 109.88h1.56v1.34h-1.56zM10.92 109.88h1.56v1.34h-1.56zM20.28 109.88h1.56v1.34h-1.56zM1.56 111.22h1.56v1.34h-1.56zM9.36 111.22h1.56v1.34h-1.56zM18.72 111.22h1.56v1.34h-1.56zM32.76 111.22h1.56v1.34h-1.56zM10.92 113.9h1.56v1.34h-1.56zM21.84 113.9h1.56v1.34h-1.56zM31.2 113.9h1.56v1.34h-1.56zM21.84 115.24h1.56v1.34h-1.56zM3.12 116.58h1.56v1.34h-1.56zM6.24 116.58h1.56v1.34h-1.56zM7.8 116.58h1.56v1.34h-1.56zM12.48 116.58h1.56v1.34h-1.56zM18.72 116.58h1.56v1.34h-1.56zM7.8 117.92h1.56v1.34h-1.56zM20.28 117.92h1.56v1.34h-1.56zM28.08 119.26h1.56v1.34h-1.56zM34.32 119.26h1.56v1.34h-1.56zM37.44 119.26h1.56v1.34h-1.56z"/>
<path fill="#ffffff" d="M3.12 0h1.56v1.34h-1.56zM24.96 0h1.56v1.34h-1.56zM28.08 0h1.56v1.34h-1.56zM31.2 0h1.56v1.34h-1.56zM35.88 0h1.56v1.34h-1.56zM37.44 0h1.56v1.34h-1.56zM12.48 1.34h1.56v1.34h-1.56zM15.6 1.34h1.56v1.34h-1.56zM17.16 1.34h1.56v1.34h-1.56zM20.28 1.34h1.56v1.34h-1.56zM31.2 1.34h1.56v1.34h-1.56zM32.76 1.34h1.56v1.34h-1.56zM34.32 1.34h1.56v1.34h-1.56zM0 2.68h1.56v1.34h-1.56zM1.56 4.02h1.56v1.34h-1.56zM3.12 4.02h1.56v1.34h-1.56zM9.36 4.02h1.56v1.34h-1.56zM20.28 4.02h1.56v1.34h-1.56zM10.92 5.36h1.56v1.34h-1.56zM14.04 5.36h1.56v1.34h-1.56zM15.6 5.36h1.56v1.34h-1.56zM24.96 5.36h1.56v1.34h-1.56zM29.64 5.36h1.56v1.34h-1.56zM34.32 5.36h1.56v1.34h-1.56zM17.16 6.7h1.56v1.34h-1.56zM18.72 6.7h1.56v1.34h-1.56zM20.28 6.7h1.56v1.34h-1.56zM0 8.04h1.56v1.34h-1.56zM9.36 8.04h1.56v1.34h-1.56zM10.92 8.04h1.56v1.34h-1.56zM24.96 8.04h1.56v1.34h-1.56zM26.52 8.04h1.56v1.34h-1.56zM34.32 8.04h1.56v1.34h-1.56zM10.92 9.38h1.56v1.34h-1.56zM15.6 9.38h1.56v1.34h-1.56zM32.76 9.38h1.56v1.34h-1.56zM6.24 10.72h1.56v1.34h-1.56zM9.36 10.72h1.56v1.34h-1.56zM15.6 10.72h1.56v1.34h-1.56zM20.28 10.72h1.56v1.34h-1.56zM1.56 12.06h1.56v1.34h-1.56zM7.8 12.06h1.56v1.34h-1.56zM14.04 13.4h1.56v1.34h-1.56zM32.76 13.4h1.56v1.34h-1.56zM35.88 13.4h1.56v1.34h-1.56zM1.56 14.74h1.56v1.34h-1.56zM3.12 14.74h1.56v1.34h-1.56zM7.8 14.74h1.56v1.34h-1.56zM21.84 14.74h1.56v1.34h-1.56zM1.56 16.08h1.56v1.34h-1.56zM17.16 16.08h1.56v1.34h-1.56zM24.96 16.08h1.56v1.34h-1.56zM34.32 16.08h1.56v1.34h-1.56zM7.8 17.42h1.56v1.34h-1.56zM15.6 17.42h1.56v1.34h-1.56zM32.76 17.42h1.56v1.34h-1.56zM1.56 18.76h1.56v1.34h-1.56zM4.68 20.1h1.56v1.34h-1.56zM20.28 20.1h1.56v1.34h-1.56zM26.52 20.1h1.56v1.34h-1.56zM20.28 21.44h1.56v1.34h-1.56zM24.96 21.44h1.56v1.34h-1.56zM29.64 21.44h1.56v1.34h-1.56zM37.44 21.44h1.56v1.34h-1.56zM0 22.78h1.56v1.34h-1.56zM18.72 22.78h1.56v1.34h-1.56zM21.84 22.78h1.56v1.34h-1.56zM3.12 24.12h1.56v1.34h-1.56zM6.24 24.12h1.56v1.34h-1.56zM14.04 24.12h1.56v1.34h-1.56zM28.08 24.12h1.56v1.34h-1.56zM29.64 24.12h1.56v1.34h-1.56zM31.2 24.12h1.56v1.34h-1.56zM32.76 24.12h1.56v1.34h-1.56zM10.92 25.46h1.56v1.34h-1.56zM14.04 25.46h1.56v1.34h-1.56zM23.4 25.46h1.56v1.34h-1.56zM34.32 25.46h1.56v1.34h-1.56zM1.56 26.8h1.56v1.34h-1.56zM4.68 26.8h1.56v1.34h-1.56zM10.92 26.8h1.56v1.34h-1.56zM17.16 26.8h1.56v1.34h-1.56zM26.52 26.8h1.56v1.34h-1.56zM29.64 26.8h1.56v1.34h-1.56zM32.76 26.8h1.56v1.34h-1.56zM0 28.14h1.56v1.34h-1.56zM1.56 28.14h1.56v1.34h-1.56zM7.8 28.14h1.56v1.34h-1.56zM24.96 28.14h1.56v1.34h-1.56zM29.64 28.14h1.56v1.34h-1.56zM32.76 28.14h1.56v1.34h-1.56zM1.56 29.48h1.56v1.34h-1.56zM10.92 29.48h1.56v1.34h-1.56zM14.04 29.48h1.56v1.34h-1.56zM20.28 29.48h1.56v1.34h-1.56zM26.52 29.48h1.56v1.34h-1.56zM37.44 29.48h1.56v1.34h-1.56zM0 30.82h1.56v1.34h-1.56zM12.48 30.82h1.56v1.34h-1.56zM35.88 30.82h1.56v1.34h-1.56zM37.44 30.82h1.56v1.34h-1.56zM0 32.16h1.56v1.34h-1.56zM9.36 32.16h1.56v1.34h-1.56zM17.16 32.16h1.56v1.34h-1.56zM32.76 32.16h1.56v1.34h-1.56zM34.32 32.16h1.56v1.34h-1.56zM4.68 33.5h1.56v1.34h-1.56zM18.72 33.5h1.56v1.34h-1.56zM29.64 33.5h1.56v1.34h-1.56zM31.2 33.5h1.56v1.34h-1.56zM12.48 34.84h1.56v1.34h-1.56zM15.6 34.84h1.56v1.34h-1.56zM17.16 34.84h1.56v1.34h-1.56zM24.96 34.84h1.56v1.34h-1.56zM1.56 36.18h1.56v1.34h-1.56zM4.68 36.18h1.56v1.34h-1.56zM6.24 36.18h1.56v1.34h-1.56zM15.6 36.18h1.56v1.34h-1.56zM24.96 36.18h1.56v1.34h-1.56zM26.52 36.18h1.56v1.34h-1.56zM28.08 36.18h1.56v1.34h-1.56zM9.36 37.52h1.56v1.34h-1.56zM24.96 37.52h1.56v1.34h-1.56zM28.08 37.52h1.56v1.34h-1.56zM4.68 38.86h1.56v1.34h-1.56zM15.6 38.86h1.56v1.34h-1.56zM32.76 38.86h1.56v1.34h-1.56zM3.12 40.2h1.56v1.34h-1.56zM17.16 40.2h1.56v1.34h-1.56zM23.4 40.2h1.56v1.34h-1.56zM29.64 40.2h1.56v1.34h-1.56zM4.68 41.54h1.56v1.34h-1.56zM9.36 41.54h1.56v1.34h-1.56zM15.6 41.54h1.56v1.34h-1.56zM21.84 41.54h1.56v1.34h-1.56zM23.4 41.54h1.56v1.34h-1.56zM35.88 41.54h1.56v1.34h-1.56zM3.12 42.88h1.56v1.34h-1.56zM7.8 42.88h1.56v1.34h-1.56zM14.04 42.88h1.56v1.34h-1.56zM15.6 42.88h1.56v1.34h-1.56zM35.88 42.88h1.56v1.34h-1.56zM3.12 44.22h1.56v1.34h-1.56zM7.8 44.22h1.56v1.34h-1.56zM10.92 44.22h1.56v1.34h-1.56zM17.16 44.22h1.56v1.34h-1.56zM28.08 44.22h1.56v1.34h-1.56zM29.64 44.22h1.56v1.34h-1.56zM1.56 45.56h1.56v1.34h-1.56zM10.92 45.56h1.56v1.34h-1.56zM21.84 45.56h1.56v1.34h-1.56zM26.52 45.56h1.56v1.34h-1.56zM28.08 45.56h1.56v1.34h-1.56zM31.2 45.56h1.56v1.34h-1.56zM35.88 45.56h1.56v1.34h-1.56zM0 46.9h1.56v1.34h-1.56zM9.36 46.9h1.56v1.34h-1.56zM10.92 46.9h1.56v1.34h-1.56zM18.72 46.9h1.56v1.34h-1.56zM20.28 46.9h1.56v1.34h-1.56zM24.96 46.9h1.56v1.34h-1.56zM35.88 46.9h1.56v1.34h-1.56zM1.56 48.24h1.56v1.34h-1.56zM4.68 48.24h1.56v1.34h-1.56zM10.92 48.24h1.56v1.34h-1.56zM12.48 48.24h1.56v1.34h-1.56zM15.6 48.24h1.56v1.34h-1.56zM24.96 48.24h1.56v1.34h-1.56zM9.36 49.58h1.56v1.34h-1.56zM15.6 49.58h1.56v1.34h-1.56zM18.72 49.58h1.56v1.34h-1.56zM28.08 49.58h1.56v1.34h-1.56zM35.88 49.58h1.56v1.34h-1.56zM7.8 50.92h1.56v1.34h-1.56zM18.72 50.92h1.56v1.34h-1.56zM21.84 50.92h1.56v1.34h-1.56zM24.96 50.92h1.56v1.34h-1.56zM26.52 50.92h1.56v1.34h-1.56zM32.76 50.92h1.56v1.34h-1.56zM3.12 52.26h1.56v1.34h-1.56zM15.6 52.26h1.56v1.34h-1.56zM17.16 52.26h1.56v1.34h-1.56zM26.52 52.26h1.56v1.34h-1.56zM35.88 52.26h1.56v1.34h-1.56zM37.44 52.26h1.56v1.34h-1.56zM9.36 53.6h1.56v1.34h-1.56zM10.92 53.6h1.56v1.34h-1.56zM29.64 53.6h1.56v1.34h-1.56zM34.32 53.6h1.56v1.34h-1.56zM14.04 54.94h1.56v1.34h-1.56zM18.72 54.94h1.56v1.34h-1.56zM28.08 54.94h1.56v1.34h-1.56zM20.28 56.28h1.56v1.34h-1.56zM29.64 56.28h1.56v1.34h-1.56zM32.76 56.28h1.56v1.34h-1.56zM0 57.62h1.56v1.34h-1.56zM1.56 57.62h1.56v1.34h-1.56zM6.24 57.62h1.56v1.34h-1.56zM9.36 57.62h1.56v1.34h-1.56zM12.48 57.62h1.56v1.34h-1.56zM20.28 57.62h1.56v1.34h-1.56zM21.84 57.62h1.56v1.34h-1.56zM24.96 57.62h1.56v1.34h-1.56zM26.52 57.62h1.56v1.34h-1.56zM34.32 57.62h1.56v1.34h-1.56zM37.44 57.62h1.56v1.34h-1.56zM3.12 58.96h1.56v1.34h-1.56zM4.68 58.96h1.56v1.34h-1.56zM6.24 58.96h1.56v1.34h-1.56zM12.48 58.96h1.56v1.34h-1.56zM23.4 58.96h1.56v1.34h-1.56zM29.64 58.96h1.56v1.34h-1.56zM37.44 58.96h1.56v1.34h-1.56zM1.56 60.3h1.56v1.34h-1.56zM4.68 60.3h1.56v1.34h-1.56zM7.8 60.3h1.56v1.34h-1.56zM21.84 60.3h1.56v1.34h-1.56zM24.96 60.3h1.56v1.34h-1.56zM28.08 60.3h1.56v1.34h-1.56zM37.44 60.3h1.56v1.34h-1.56zM0 61.64h1.56v1.34h-1.56zM3.12 61.64h1.56v1.34h-1.56zM7.8 61.64h1.56v1.34h-1.56zM9.36 61.64h1.56v1.34h-1.56zM15.6 61.64h1.56v1.34h-1.56zM34.32 61.64h1.56v1.34h-1.56zM0 62.98h1.56v1.34h-1.56zM12.48 62.98h1.56v1.34h-1.56zM21.84 62.98h1.56v1.34h-1.56zM26.52 62.98h1.56v1.34h-1.56zM28.08 62.98h1.56v1.34h-1.56zM34.32 62.98h1.56v1.34h-1.56zM35.88 62.98h1.56v1.34h-1.56zM37.44 62.98h1.56v1.34h-1.56zM3.12 64.32h1.56v1.34h-1.56zM4.68 64.32h1.56v1.34h-1.56zM9.36 64.32h1.56v1.34h-1.56zM14.04 64.32h1.56v1.34h-1.56zM17.16 64.32h1.56v1.34h-1.56zM23.4 64.32h1.56v1.34h-1.56zM24.96 64.32h1.56v1.34h-1.56zM37.44 64.32h1.56v1.34h-1.56zM21.84 67h1.56v1.34h-1.56zM34.32 67h1.56v1.34h-1.56zM3.12 68.34h1.56v1.34h-1.56zM6.24 68.34h1.56v1.34h-1.56zM26.52 68.34h1.56v1.34h-1.56zM28.08 68.34h1.56v1.34h-1.56zM1.56 69.68h1.56v1.34h-1.56zM3.12 69.68h1.56v1.34h-1.56zM12.48 69.68h1.56v1.34h-1.56zM14.04 69.68h1.56v1.34h-1.56zM23.4 69.68h1.56v1.34h-1.56zM26.52 69.68h1.56v1.34h-1.56zM31.2 69.68h1.56v1.34h-1.56zM24.96 71.02h1.56v1.34h-1.56zM28.08 71.02h1.56v1.34h-1.56zM34.32 71.02h1.56v1.34h-1.56zM9.36 72.36h1.56v1.34h-1.56zM12.48 72.36h1.56v1.34h-1.56zM17.16 72.36h1.56v1.34h-1.56zM0 73.7h1.56v1.34h-1.56zM10.92 73.7h1.56v1.34h-1.56zM15.6 73.7h1.56v1.34h-1.56zM17.16 73.7h1.56v1.34h-1.56zM32.76 73.7h1.56v1.34h-1.56zM34.32 73.7h1.56v1.34h-1.56zM15.6 75.04h1.56v1.34h-1.56zM32.76 75.04h1.56v1.34h-1.56zM34.32 75.04h1.56v1.34h-1.56zM35.88 75.04h1.56v1.34h-1.56zM14.04 76.38h1.56v1.34h-1.56zM28.08 76.38h1.56v1.34h-1.56zM29.64 76.38h1.56v1.34h-1.56zM32.76 76.38h1.56v1.34h-1.56zM1.56 77.72h1.56v1.34h-1.56zM7.8 77.72h1.56v1.34h-1.56zM32.76 77.72h1.56v1.34h-1.56zM34.32 77.72h1.56v1.34h-1.56zM3.12 79.06h1.56v1.34h-1.56zM6.24 79.06h1.56v1.34h-1.56zM7.8 79.06h1.56v1.34h-1.56zM12.48 79.06h1.56v1.34h-1.56zM15.6 79.06h1.56v1.34h-1.56zM20.28 79.06h1.56v1.34h-1.56zM21.84 79.06h1.56v1.34h-1.56zM32.76 79.06h1.56v1.34h-1.56zM34.32 79.06h1.56v1.34h-1.56zM4.68 80.4h1.56v1.34h-1.56zM7.8 80.4h1.56v1.34h-1.56zM17.16 80.4h1.56v1.34h-1.56zM21.84 80.4h1.56v1.34h-1.56zM28.08 80.4h1.56v1.34h-1.56zM1.56 81.74h1.56v1.34h-1.56zM28.08 81.74h1.56v1.34h-1.56zM29.64 81.74h1.56v1.34h-1.56zM28.08 83.08h1.56v1.34h-1.56zM32.76 83.08h1.56v1.34h-1.56zM31.2 84.42h1.56v1.34h-1.56zM37.44 84.42h1.56v1.34h-1.56zM1.56 85.76h1.56v1.34h-1.56zM6.24 85.76h1.56v1.34h-1.56zM7.8 85.76h1.56v1.34h-1.56zM9.36 85.76h1.56v1.34h-1.56zM12.48 85.76h1.56v1.34h-1.56zM31.2 85.76h1.56v1.34h-1.56zM34.32 85.76h1.56v1.34h-1.56zM28.08 87.1h1.56v1.34h-1.56zM32.76 87.1h1.56v1.34h-1.56zM18.72 88.44h1.56v1.34h-1.56zM4.68 89.78h1.56v1.34h-1.56zM10.92 89.78h1.56v1.34h-1.56zM18.72 89.78h1.56v1.34h-1.56zM37.44 89.78h1.56v1.34h-1.56zM0 91.12h1.56v1.34h-1.56zM1.56 91.12h1.56v1.34h-1.56zM12.48 91.12h1.56v1.34h-1.56zM18.72 91.12h1.56v1.34h-1.56zM21.84 91.12h1.56v1.34h-1.56zM7.8 92.46h1.56v1.34h-1.56zM17.16 92.46h1.56v1.34h-1.56zM23.4 92.46h1.56v1.34h-1.56zM31.2 92.46h1.56v1.34h-1.56zM32.76 92.46h1.56v1.34h-1.56zM37.44 92.46h1.56v1.34h-1.56zM0 93.8h1.56v1.34h-1.56zM21.84 93.8h1.56v1.34h-1.56zM26.52 93.8h1.56v1.34h-1.56zM3.12 95.14h1.56v1.34h-1.56zM6.24 95.14h1.56v1.34h-1.56zM24.96 95.14h1.56v1.34h-1.56zM29.64 95.14h1.56v1.34h-1.56zM3.12 96.48h1.56v1.34h-1.56zM6.24 96.48h1.56v1.34h-1.56zM24.96 96.48h1.56v1.34h-1.56zM26.52 96.48h1.56v1.34h-1.56zM29.64 96.48h1.56v1.34h-1.56zM31.2 96.48h1.56v1.34h-1.56zM34.32 96.48h1.56v1.34h-1.56zM10.92 97.82h1.56v1.34h-1.56zM14.04 97.82h1.56v1.34h-1.56zM18.72 97.82h1.56v1.34h-1.56zM20.28 97.82h1.56v1.34h-1.56zM37.44 97.82h1.56v1.34h-1.56zM3.12 99.16h1.56v1.34h-1.56zM15.6 99.16h1.56v1.34h-1.56zM21.84 99.16h1.56v1.34h-1.56zM26.52 99.16h1.56v1.34h-1.56zM34.32 99.16h1.56v1.34h-1.56zM0 100.5h1.56v1.34h-1.56zM1.56 100.5h1.56v1.34h-1.56zM4.68 100.5h1.56v1.34h-1.56zM14.04 100.5h1.56v1.34h-1.56zM32.76 100.5h1.56v1.34h-1.56zM4.68 101.84h1.56v1.34h-1.56zM24.96 101.84h1.56v1.34h-1.56zM26.52 101.84h1.56v1.34h-1.56zM32.76 101.84h1.56v1.34h-1.56zM3.12 103.18h1.56v1.34h-1.56zM9.36 103.18h1.56v1.34h-1.56zM12.48 103.18h1.56v1.34h-1.56zM14.04 103.18h1.56v1.34h-1.56zM18.72 103.18h1.56v1.34h-1.56zM31.2 103.18h1.56v1.34h-1.56zM1.56 104.52h1.56v1.34h-1.56zM34.32 104.52h1.56v1.34h-1.56zM9.36 105.86h1.56v1.34h-1.56zM10.92 105.86h1.56v1.34h-1.56zM18.72 105.86h1.56v1.34h-1.56zM26.52 105.86h1.56v1.34h-1.56zM31.2 105.86h1.56v1.34h-1.56zM34.32 105.86h1.56v1.34h-1.56zM7.8 107.2h1.56v1.34h-1.56zM20.28 107.2h1.56v1.34h-1.56zM0 108.54h1.56v1.34h-1.56zM12.48 108.54h1.56v1.34h-1.56zM17.16 108.54h1.56v1.34h-1.56zM18.72 108.54h1.56v1.34h-1.56zM23.4 108.54h1.56v1.34h-1.56zM35.88 108.54h1.56v1.34h-1.56zM3.12 109.88h1.56v1.34h-1.56zM24.96 109.88h1.56v1.34h-1.56zM28.08 109.88h1.56v1.34h-1.56zM35.88 109.88h1.56v1.34h-1.56zM6.24 111.22h1.56v1.34h-1.56zM10.92 111.22h1.56v1.34h-1.56zM12.48 111.22h1.56v1.34h-1.56zM24.96 111.22h1.56v1.34h-1.56zM28.08 111.22h1.56v1.34h-1.56zM29.64 111.22h1.56v1.34h-1.56zM37.44 111.22h1.56v1.34h-1.56zM7.8 112.56h1.56v1.34h-1.56zM32.76 112.56h1.56v1.34h-1.56zM34.32 112.56h1.56v1.34h-1.56zM1.56 113.9h1.56v1.34h-1.56zM26.52 113.9h1.56v1.34h-1.56zM28.08 113.9h1.56v1.34h-1.56zM1.56 115.24h1.56v1.34h-1.56zM7.8 115.24h1.56v1.34h-1.56zM9.36 115.24h1.56v1.34h-1.56zM18.72 115.24h1.56v1.34h-1.56zM32.76 115.24h1.56v1.34h-1.56zM0 116.58h1.56v1.34h-1.56zM21.84 116.58h1.56v1.34h-1.56zM29.64 116.58h1.56v1.34h-1.56zM32.76 116.58h1.56v1.34h-1.56zM18.72 117.92h1.56v1.34h-1.56zM35.88 117.92h1.56v1.34h-1.56zM37.44 117.92h1.56v1.34h-1.56zM7.8 119.26h1.56v1.34h-1.56zM10.92 119.26h1.56v1.34h-1.56z"/>
<path fill="#eb939c" d="M4.68 0h1.56v1.34h-1.56zM10.92 0h1.56v1.34h-1.56zM12.48 0h1.56v1.34h-1.56zM29.64 0h1.56v1.34h-1.56zM21.84 1.34h1.56v1.34h-1.56zM35.88 1.34h1.56v1.34h-1.56zM3.12 2.68h1.56v1.34h-1.56zM17.16 2.68h1.56v1.34h-1.56zM18.72 2.68h1.56v1.34h-1.56zM6.24 4.02h1.56v1.34h-1.56zM24.96 4.02h1.56v1.34h-1.56zM32.76 4.02h1.56v1.34h-1.56zM12.48 5.36h1.56v1.34h-1.56zM18.72 5.36h1.56v1.34h-1.56zM7.8 6.7h1.56v1.34h-1.56zM10.92 6.7h1.56v1.34h-1.56zM15.6 6.7h1.56v1.34h-1.56zM18.72 8.04h1.56v1.34h-1.56zM20.28 8.04h1.56v1.34h-1.56zM18.72 9.38h1.56v1.34h-1.56zM26.52 9.38h1.56v1.34h-1.56zM12.48 10.72h1.56v1.34h-1.56zM29.64 10.72h1.56v1.34h-1.56zM28.08 12.06h1.56v1.34h-1.56zM29.64 12.06h1.56v1.34h-1.56zM37.44 12.06h1.56v1.34h-1.56zM21.84 13.4h1.56v1.34h-1.56zM23.4 13.4h1.56v1.34h-1.56zM24.96 13.4h1.56v1.34h-1.56zM26.52 13.4h1.56v1.34h-1.56zM24.96 14.74h1.56v1.34h-1.56zM28.08 14.74h1.56v1.34h-1.56zM35.88 14.74h1.56v1.34h-1.56zM3.12 16.08h1.56v1.34h-1.56zM9.36 16.08h1.56v1.34h-1.56zM14.04 16.08h1.56v1.34h-1.56zM21.84 16.08h1.56v1.34h-1.56zM18.72 17.42h1.56v1.34h-1.56zM21.84 17.42h1.56v1.34h-1.56zM12.48 18.76h1.56v1.34h-1.56zM21.84 18.76h1.56v1.34h-1.56zM34.32 18.76h1.56v1.34h-1.56zM21.84 20.1h1.56v1.34h-1.56zM6.24 21.44h1.56v1.34h-1.56zM18.72 21.44h1.56v1.34h-1.56zM26.52 21.44h1.56v1.34h-1.56zM28.08 21.44h1.56v1.34h-1.56zM1.56 22.78h1.56v1.34h-1.56zM4.68 22.78h1.56v1.34h-1.56zM6.24 22.78h1.56v1.34h-1.56zM34.32 22.78h1.56v1.34h-1.56zM37.44 22.78h1.56v1.34h-1.56zM1.56 24.12h1.56v1.34h-1.56zM4.68 24.12h1.56v1.34h-1.56zM3.12 26.8h1.56v1.34h-1.56zM7.8 26.8h1.56v1.34h-1.56zM9.36 28.14h1.56v1.34h-1.56zM15.6 28.14h1.56v1.34h-1.56zM20.28 28.14h1.56v1.34h-1.56zM15.6 29.48h1.56v1.34h-1.56zM23.4 29.48h1.56v1.34h-1.56zM1.56 30.82h1.56v1.34h-1.56zM23.4 30.82h1.56v1.34h-1.56zM34.32 30.82h1.56v1.34h-1.56zM4.68 32.16h1.56v1.34h-1.56zM7.8 32.16h1.56v1.34h-1.56zM10.92 32.16h1.56v1.34h-1.56zM14.04 32.16h1.56v1.34h-1.56zM18.72 32.16h1.56v1.34h-1.56zM21.84 32.16h1.56v1.34h-1.56zM28.08 32.16h1.56v1.34h-1.56zM6.24 33.5h1.56v1.34h-1.56zM12.48 33.5h1.56v1.34h-1.56zM17.16 33.5h1.56v1.34h-1.56zM20.28 33.5h1.56v1.34h-1.56zM21.84 33.5h1.56v1.34h-1.56zM37.44 33.5h1.56v1.34h-1.56zM1.56 34.84h1.56v1.34h-1.56zM21.84 34.84h1.56v1.34h-1.56zM20.28 36.18h1.56v1.34h-1.56zM34.32 36.18h1.56v1.34h-1.56zM7.8 37.52h1.56v1.34h-1.56zM14.04 37.52h1.56v1.34h-1.56zM32.76 37.52h1.56v1.34h-1.56zM31.2 38.86h1.56v1.34h-1.56zM10.92 40.2h1.56v1.34h-1.56zM14.04 40.2h1.56v1.34h-1.56zM15.6 40.2h1.56v1.34h-1.56zM21.84 40.2h1.56v1.34h-1.56zM3.12 41.54h1.56v1.34h-1.56zM4.68 42.88h1.56v1.34h-1.56zM9.36 42.88h1.56v1.34h-1.56zM10.92 42.88h1.56v1.34h-1.56zM21.84 42.88h1.56v1.34h-1.56zM26.52 42.88h1.56v1.34h-1.56zM34.32 42.88h1.56v1.34h-1.56zM12.48 44.22h1.56v1.34h-1.56zM24.96 44.22h1.56v1.34h-1.56zM3.12 45.56h1.56v1.34h-1.56zM6.24 45.56h1.56v1.34h-1.56zM9.36 45.56h1.56v1.34h-1.56zM14.04 45.56h1.56v1.34h-1.56zM32.76 45.56h1.56v1.34h-1.56zM6.24 46.9h1.56v1.34h-1.56zM14.04 46.9h1.56v1.34h-1.56zM28.08 46.9h1.56v1.34h-1.56zM14.04 48.24h1.56v1.34h-1.56zM23.4 48.24h1.56v1.34h-1.56zM34.32 48.24h1.56v1.34h-1.56zM35.88 48.24h1.56v1.34h-1.56zM1.56 49.58h1.56v1.34h-1.56zM12.48 49.58h1.56v1.34h-1.56zM20.28 49.58h1.56v1.34h-1.56zM21.84 49.58h1.56v1.34h-1.56zM1.56 50.92h1.56v1.34h-1.56zM23.4 50.92h1.56v1.34h-1.56zM34.32 50.92h1.56v1.34h-1.56zM35.88 50.92h1.56v1.34h-1.56zM4.68 52.26h1.56v1.34h-1.56zM10.92 52.26h1.56v1.34h-1.56zM24.96 52.26h1.56v1.34h-1.56zM31.2 52.26h1.56v1.34h-1.56zM32.76 52.26h1.56v1.34h-1.56zM14.04 53.6h1.56v1.34h-1.56zM35.88 53.6h1.56v1.34h-1.56zM1.56 54.94h1.56v1.34h-1.56zM9.36 54.94h1.56v1.34h-1.56zM18.72 56.28h1.56v1.34h-1.56zM37.44 56.28h1.56v1.34h-1.56zM7.8 57.62h1.56v1.34h-1.56zM14.04 57.62h1.56v1.34h-1.56zM7.8 58.96h1.56v1.34h-1.56zM24.96 58.96h1.56v1.34h-1.56zM26.52 58.96h1.56v1.34h-1.56zM28.08 58.96h1.56v1.34h-1.56zM12.48 60.3h1.56v1.34h-1.56zM35.88 60.3h1.56v1.34h-1.56zM10.92 61.64h1.56v1.34h-1.56zM31.2 61.64h1.56v1.34h-1.56zM1.56 62.98h1.56v1.34h-1.56zM20.28 62.98h1.56v1.34h-1.56zM12.48 64.32h1.56v1.34h-1.56zM15.6 64.32h1.56v1.34h-1.56zM20.28 64.32h1.56v1.34h-1.56zM26.52 64.32h1.56v1.34h-1.56zM29.64 64.32h1.56v1.34h-1.56zM4.68 65.66h1.56v1.34h-1.56zM7.8 65.66h1.56v1.34h-1.56zM18.72 65.66h1.56v1.34h-1.56zM37.44 65.66h1.56v1.34h-1.56zM6.24 67h1.56v1.34h-1.56zM15.6 67h1.56v1.34h-1.56zM29.64 67h1.56v1.34h-1.56zM31.2 67h1.56v1.34h-1.56zM37.44 67h1.56v1.34h-1.56zM7.8 68.34h1.56v1.34h-1.56zM9.36 68.34h1.56v1.34h-1.56zM10.92 68.34h1.56v1.34h-1.56zM14.04 68.34h1.56v1.34h-1.56zM23.4 68.34h1.56v1.34h-1.56zM18.72 69.68h1.56v1.34h-1.56zM24.96 69.68h1.56v1.34h-1.56zM29.64 69.68h1.56v1.34h-1.56zM29.64 71.02h1.56v1.34h-1.56zM0 72.36h1.56v1.34h-1.56zM1.56 72.36h1.56v1.34h-1.56zM3.12 72.36h1.56v1.34h-1.56zM14.04 72.36h1.56v1.34h-1.56zM18.72 73.7h1.56v1.34h-1.56zM26.52 73.7h1.56v1.34h-1.56zM35.88 73.7h1.56v1.34h-1.56zM7.8 75.04h1.56v1.34h-1.56zM14.04 75.04h1.56v1.34h-1.56zM18.72 75.04h1.56v1.34h-1.56zM23.4 75.04h1.56v1.34h-1.56zM24.96 75.04h1.56v1.34h-1.56zM4.68 76.38h1.56v1.34h-1.56zM6.24 76.38h1.56v1.34h-1.56zM7.8 76.38h1.56v1.34h-1.56zM34.32 76.38h1.56v1.34h-1.56zM4.68 77.72h1.56v1.34h-1.56zM9.36 77.72h1.56v1.34h-1.56zM23.4 80.4h1.56v1.34h-1.56zM24.96 80.4h1.56v1.34h-1.56zM31.2 80.4h1.56v1.34h-1.56zM7.8 81.74h1.56v1.34h-1.56zM15.6 81.74h1.56v1.34h-1.56zM35.88 81.74h1.56v1.34h-1.56zM12.48 83.08h1.56v1.34h-1.56zM18.72 83.08h1.56v1.34h-1.56zM14.04 84.42h1.56v1.34h-1.56zM34.32 84.42h1.56v1.34h-1.56zM15.6 85.76h1.56v1.34h-1.56zM18.72 85.76h1.56v1.34h-1.56zM26.52 85.76h1.56v1.34h-1.56zM15.6 87.1h1.56v1.34h-1.56zM35.88 87.1h1.56v1.34h-1.56zM24.96 88.44h1.56v1.34h-1.56zM26.52 88.44h1.56v1.34h-1.56zM12.48 89.78h1.56v1.34h-1.56zM24.96 89.78h1.56v1.34h-1.56zM28.08 89.78h1.56v1.34h-1.56zM34.32 89.78h1.56v1.34h-1.56zM35.88 89.78h1.56v1.34h-1.56zM6.24 91.12h1.56v1.34h-1.56zM6.24 92.46h1.56v1.34h-1.56zM3.12 93.8h1.56v1.34h-1.56zM17.16 93.8h1.56v1.34h-1.56zM31.2 93.8h1.56v1.34h-1.56zM37.44 93.8h1.56v1.34h-1.56zM1.56 95.14h1.56v1.34h-1.56zM18.72 95.14h1.56v1.34h-1.56zM34.32 95.14h1.56v1.34h-1.56zM35.88 95.14h1.56v1.34h-1.56zM0 96.48h1.56v1.34h-1.56zM24.96 97.82h1.56v1.34h-1.56zM32.76 97.82h1.56v1.34h-1.56zM1.56 99.16h1.56v1.34h-1.56zM23.4 99.16h1.56v1.34h-1.56zM32.76 99.16h1.56v1.34h-1.56zM26.52 100.5h1.56v1.34h-1.56zM10.92 101.84h1.56v1.34h-1.56zM12.48 101.84h1.56v1.34h-1.56zM15.6 103.18h1.56v1.34h-1.56zM28.08 103.18h1.56v1.34h-1.56zM18.72 104.52h1.56v1.34h-1.56zM24.96 104.52h1.56v1.34h-1.56zM0 105.86h1.56v1.34h-1.56zM3.12 105.86h1.56v1.34h-1.56zM4.68 105.86h1.56v1.34h-1.56zM7.8 105.86h1.56v1.34h-1.56zM12.48 105.86h1.56v1.34h-1.56zM10.92 107.2h1.56v1.34h-1.56zM18.72 107.2h1.56v1.34h-1.56zM24.96 107.2h1.56v1.34h-1.56zM28.08 107.2h1.56v1.34h-1.56zM1.56 108.54h1.56v1.34h-1.56zM24.96 108.54h1.56v1.34h-1.56zM32.76 108.54h1.56v1.34h-1.56zM12.48 109.88h1.56v1.34h-1.56zM17.16 109.88h1.56v1.34h-1.56zM21.84 109.88h1.56v1.34h-1.56zM23.4 109.88h1.56v1.34h-1.56zM31.2 109.88h1.56v1.34h-1.56zM7.8 111.22h1.56v1.34h-1.56zM1.56 112.56h1.56v1.34h-1.56zM0 113.9h1.56v1.34h-1.56zM29.64 113.9h1.56v1.34h-1.56zM29.64 115.24h1.56v1.34h-1.56zM34.32 115.24h1.56v1.34h-1.56zM20.28 116.58h1.56v1.34h-1.56zM9.36 117.92h1.56v1.34h-1.56zM15.6 117.92h1.56v1.34h-1.56zM0 119.26h1.56v1.34h-1.56zM1.56 119.26h1.56v1.34h-1.56zM4.68 119.26h1.56v1.34h-1.56zM12.48 119.26h1.56v1.34h-1.56zM23.4 119.26h1.56v1.34h-1.56zM32.76 119.26h1.56v1.34h-1.56z"/>
<path fill="#fadee1" d="M14.04 0h1.56v1.34h-1.56zM23.4 0h1.56v1.34h-1.56zM26.52 0h1.56v1.34h-1.56zM1.56 1.34h1.56v1.34h-1.56zM4.68 1.34h1.56v1.34h-1.56zM14.04 1.34h1.56v1.34h-1.56zM1.56 2.68h1.56v1.34h-1.56zM6.24 2.68h1.56v1.34h-1.56zM21.84 2.68h1.56v1.34h-1.56zM24.96 2.68h1.56v1.34h-1.56zM28.08 2.68h1.56v1.34h-1.56zM32.76 2.68h1.56v1.34h-1.56zM0 4.02h1.56v1.34h-1.56zM31.2 4.02h1.56v1.34h-1.56zM34.32 4.02h1.56v1.34h-1.56zM1.56 5.36h1.56v1.34h-1.56zM4.68 5.36h1.56v1.34h-1.56zM6.24 5.36h1.56v1.34h-1.56zM0 6.7h1.56v1.34h-1.56zM4.68 6.7h1.56v1.34h-1.56zM12.48 6.7h1.56v1.34h-1.56zM24.96 6.7h1.56v1.34h-1.56zM29.64 6.7h1.56v1.34h-1.56zM34.32 6.7h1.56v1.34h-1.56zM4.68 8.04h1.56v1.34h-1.56zM6.24 8.04h1.56v1.34h-1.56zM15.6 8.04h1.56v1.34h-1.56zM17.16 8.04h1.56v1.34h-1.56zM21.84 8.04h1.56v1.34h-1.56zM28.08 8.04h1.56v1.34h-1.56zM32.76 8.04h1.56v1.34h-1.56zM35.88 8.04h1.56v1.34h-1.56zM37.44 8.04h1.56v1.34h-1.56zM1.56 9.38h1.56v1.34h-1.56zM3.12 9.38h1.56v1.34h-1.56zM12.48 9.38h1.56v1.34h-1.56zM14.04 10.72h1.56v1.34h-1.56zM23.4 10.72h1.56v1.34h-1.56zM37.44 10.72h1.56v1.34h-1.56zM6.24 12.06h1.56v1.34h-1.56zM10.92 12.06h1.56v1.34h-1.56zM31.2 12.06h1.56v1.34h-1.56zM3.12 13.4h1.56v1.34h-1.56zM10.92 13.4h1.56v1.34h-1.56zM17.16 13.4h1.56v1.34h-1.56zM28.08 13.4h1.56v1.34h-1.56zM29.64 13.4h1.56v1.34h-1.56zM18.72 14.74h1.56v1.34h-1.56zM31.2 14.74h1.56v1.34h-1.56zM6.24 16.08h1.56v1.34h-1.56zM20.28 16.08h1.56v1.34h-1.56zM32.76 16.08h1.56v1.34h-1.56zM6.24 17.42h1.56v1.34h-1.56zM14.04 17.42h1.56v1.34h-1.56zM24.96 17.42h1.56v1.34h-1.56zM29.64 17.42h1.56v1.34h-1.56zM34.32 17.42h1.56v1.34h-1.56zM37.44 17.42h1.56v1.34h-1.56zM0 18.76h1.56v1.34h-1.56zM4.68 18.76h1.56v1.34h-1.56zM17.16 18.76h1.56v1.34h-1.56zM20.28 18.76h1.56v1.34h-1.56zM23.4 18.76h1.56v1.34h-1.56zM6.24 20.1h1.56v1.34h-1.56zM10.92 20.1h1.56v1.34h-1.56zM15.6 20.1h1.56v1.34h-1.56zM28.08 20.1h1.56v1.34h-1.56zM4.68 21.44h1.56v1.34h-1.56zM21.84 21.44h1.56v1.34h-1.56zM3.12 22.78h1.56v1.34h-1.56zM15.6 24.12h1.56v1.34h-1.56zM20.28 24.12h1.56v1.34h-1.56zM24.96 24.12h1.56v1.34h-1.56zM9.36 25.46h1.56v1.34h-1.56zM12.48 25.46h1.56v1.34h-1.56zM6.24 26.8h1.56v1.34h-1.56zM15.6 26.8h1.56v1.34h-1.56zM18.72 26.8h1.56v1.34h-1.56zM3.12 28.14h1.56v1.34h-1.56zM12.48 28.14h1.56v1.34h-1.56zM14.04 28.14h1.56v1.34h-1.56zM9.36 29.48h1.56v1.34h-1.56zM17.16 29.48h1.56v1.34h-1.56zM28.08 29.48h1.56v1.34h-1.56zM35.88 29.48h1.56v1.34h-1.56zM6.24 30.82h1.56v1.34h-1.56zM14.04 30.82h1.56v1.34h-1.56zM24.96 30.82h1.56v1.34h-1.56zM28.08 30.82h1.56v1.34h-1.56zM3.12 32.16h1.56v1.34h-1.56zM20.28 32.16h1.56v1.34h-1.56zM7.8 33.5h1.56v1.34h-1.56zM14.04 33.5h1.56v1.34h-1.56zM15.6 33.5h1.56v1.34h-1.56zM24.96 33.5h1.56v1.34h-1.56zM28.08 33.5h1.56v1.34h-1.56zM32.76 33.5h1.56v1.34h-1.56zM6.24 34.84h1.56v1.34h-1.56zM10.92 34.84h1.56v1.34h-1.56zM20.28 34.84h1.56v1.34h-1.56zM26.52 34.84h1.56v1.34h-1.56zM31.2 34.84h1.56v1.34h-1.56zM9.36 36.18h1.56v1.34h-1.56zM12.48 36.18h1.56v1.34h-1.56zM29.64 36.18h1.56v1.34h-1.56zM0 37.52h1.56v1.34h-1.56zM3.12 37.52h1.56v1.34h-1.56zM6.24 37.52h1.56v1.34h-1.56zM12.48 37.52h1.56v1.34h-1.56zM15.6 37.52h1.56v1.34h-1.56zM18.72 37.52h1.56v1.34h-1.56zM21.84 37.52h1.56v1.34h-1.56zM29.64 37.52h1.56v1.34h-1.56zM37.44 37.52h1.56v1.34h-1.56zM1.56 38.86h1.56v1.34h-1.56zM7.8 38.86h1.56v1.34h-1.56zM12.48 38.86h1.56v1.34h-1.56zM17.16 38.86h1.56v1.34h-1.56zM28.08 38.86h1.56v1.34h-1.56zM37.44 38.86h1.56v1.34h-1.56zM6.24 40.2h1.56v1.34h-1.56zM9.36 40.2h1.56v1.34h-1.56zM1.56 41.54h1.56v1.34h-1.56zM7.8 41.54h1.56v1.34h-1.56zM12.48 41.54h1.56v1.34h-1.56zM26.52 41.54h1.56v1.34h-1.56zM31.2 41.54h1.56v1.34h-1.56zM34.32 41.54h1.56v1.34h-1.56zM1.56 42.88h1.56v1.34h-1.56zM18.72 42.88h1.56v1.34h-1.56zM20.28 42.88h1.56v1.34h-1.56zM24.96 42.88h1.56v1.34h-1.56zM9.36 44.22h1.56v1.34h-1.56zM18.72 44.22h1.56v1.34h-1.56zM34.32 44.22h1.56v1.34h-1.56zM35.88 44.22h1.56v1.34h-1.56zM4.68 45.56h1.56v1.34h-1.56zM17.16 45.56h1.56v1.34h-1.56zM1.56 46.9h1.56v1.34h-1.56zM3.12 46.9h1.56v1.34h-1.56zM15.6 46.9h1.56v1.34h-1.56zM17.16 46.9h1.56v1.34h-1.56zM18.72 48.24h1.56v1.34h-1.56zM20.28 48.24h1.56v1.34h-1.56zM3.12 49.58h1.56v1.34h-1.56zM6.24 49.58h1.56v1.34h-1.56zM7.8 49.58h1.56v1.34h-1.56zM34.32 49.58h1.56v1.34h-1.56zM12.48 50.92h1.56v1.34h-1.56zM14.04 50.92h1.56v1.34h-1.56zM28.08 50.92h1.56v1.34h-1.56zM1.56 52.26h1.56v1.34h-1.56zM6.24 53.6h1.56v1.34h-1.56zM17.16 53.6h1.56v1.34h-1.56zM0 54.94h1.56v1.34h-1.56zM6.24 54.94h1.56v1.34h-1.56zM15.6 54.94h1.56v1.34h-1.56zM20.28 54.94h1.56v1.34h-1.56zM26.52 54.94h1.56v1.34h-1.56zM31.2 54.94h1.56v1.34h-1.56zM6.24 56.28h1.56v1.34h-1.56zM12.48 56.28h1.56v1.34h-1.56zM15.6 56.28h1.56v1.34h-1.56zM17.16 56.28h1.56v1.34h-1.56zM21.84 56.28h1.56v1.34h-1.56zM35.88 56.28h1.56v1.34h-1.56zM4.68 57.62h1.56v1.34h-1.56zM10.92 57.62h1.56v1.34h-1.56zM29.64 57.62h1.56v1.34h-1.56zM35.88 57.62h1.56v1.34h-1.56zM31.2 58.96h1.56v1.34h-1.56zM0 60.3h1.56v1.34h-1.56zM3.12 60.3h1.56v1.34h-1.56zM15.6 60.3h1.56v1.34h-1.56zM17.16 60.3h1.56v1.34h-1.56zM31.2 60.3h1.56v1.34h-1.56zM23.4 61.64h1.56v1.34h-1.56zM37.44 61.64h1.56v1.34h-1.56zM3.12 62.98h1.56v1.34h-1.56zM4.68 62.98h1.56v1.34h-1.56zM6.24 62.98h1.56v1.34h-1.56zM14.04 62.98h1.56v1.34h-1.56zM15.6 62.98h1.56v1.34h-1.56zM32.76 62.98h1.56v1.34h-1.56zM0 64.32h1.56v1.34h-1.56zM7.8 64.32h1.56v1.34h-1.56zM28.08 64.32h1.56v1.34h-1.56zM31.2 64.32h1.56v1.34h-1.56zM1.56 65.66h1.56v1.34h-1.56zM6.24 65.66h1.56v1.34h-1.56zM10.92 65.66h1.56v1.34h-1.56zM23.4 65.66h1.56v1.34h-1.56zM24.96 65.66h1.56v1.34h-1.56zM31.2 65.66h1.56v1.34h-1.56zM32.76 65.66h1.56v1.34h-1.56zM35.88 65.66h1.56v1.34h-1.56zM4.68 67h1.56v1.34h-1.56zM18.72 67h1.56v1.34h-1.56zM20.28 67h1.56v1.34h-1.56zM15.6 68.34h1.56v1.34h-1.56zM21.84 68.34h1.56v1.34h-1.56zM29.64 68.34h1.56v1.34h-1.56zM34.32 68.34h1.56v1.34h-1.56zM4.68 69.68h1.56v1.34h-1.56zM4.68 71.02h1.56v1.34h-1.56zM12.48 71.02h1.56v1.34h-1.56zM14.04 71.02h1.56v1.34h-1.56zM20.28 71.02h1.56v1.34h-1.56zM26.52 71.02h1.56v1.34h-1.56zM37.44 71.02h1.56v1.34h-1.56zM6.24 72.36h1.56v1.34h-1.56zM15.6 72.36h1.56v1.34h-1.56zM20.28 72.36h1.56v1.34h-1.56zM37.44 72.36h1.56v1.34h-1.56zM31.2 73.7h1.56v1.34h-1.56zM6.24 75.04h1.56v1.34h-1.56zM9.36 75.04h1.56v1.34h-1.56zM21.84 75.04h1.56v1.34h-1.56zM28.08 75.04h1.56v1.34h-1.56zM0 76.38h1.56v1.34h-1.56zM10.92 76.38h1.56v1.34h-1.56zM23.4 76.38h1.56v1.34h-1.56zM31.2 76.38h1.56v1.34h-1.56zM37.44 76.38h1.56v1.34h-1.56zM3.12 77.72h1.56v1.34h-1.56zM12.48 77.72h1.56v1.34h-1.56zM15.6 77.72h1.56v1.34h-1.56zM21.84 77.72h1.56v1.34h-1.56zM0 79.06h1.56v1.34h-1.56zM24.96 79.06h1.56v1.34h-1.56zM26.52 79.06h1.56v1.34h-1.56zM0 80.4h1.56v1.34h-1.56zM6.24 80.4h1.56v1.34h-1.56zM9.36 80.4h1.56v1.34h-1.56zM29.64 80.4h1.56v1.34h-1.56zM32.76 80.4h1.56v1.34h-1.56zM34.32 80.4h1.56v1.34h-1.56zM35.88 80.4h1.56v1.34h-1.56zM37.44 80.4h1.56v1.34h-1.56zM4.68 81.74h1.56v1.34h-1.56zM14.04 81.74h1.56v1.34h-1.56zM23.4 81.74h1.56v1.34h-1.56zM26.52 83.08h1.56v1.34h-1.56zM29.64 83.08h1.56v1.34h-1.56zM3.12 84.42h1.56v1.34h-1.56zM4.68 84.42h1.56v1.34h-1.56zM6.24 84.42h1.56v1.34h-1.56zM24.96 84.42h1.56v1.34h-1.56zM3.12 85.76h1.56v1.34h-1.56zM14.04 85.76h1.56v1.34h-1.56zM24.96 85.76h1.56v1.34h-1.56zM4.68 87.1h1.56v1.34h-1.56zM17.16 87.1h1.56v1.34h-1.56zM18.72 87.1h1.56v1.34h-1.56zM21.84 87.1h1.56v1.34h-1.56zM37.44 87.1h1.56v1.34h-1.56zM1.56 88.44h1.56v1.34h-1.56zM3.12 88.44h1.56v1.34h-1.56zM10.92 88.44h1.56v1.34h-1.56zM17.16 88.44h1.56v1.34h-1.56zM20.28 88.44h1.56v1.34h-1.56zM35.88 88.44h1.56v1.34h-1.56zM0 89.78h1.56v1.34h-1.56zM1.56 89.78h1.56v1.34h-1.56zM3.12 89.78h1.56v1.34h-1.56zM6.24 89.78h1.56v1.34h-1.56zM7.8 89.78h1.56v1.34h-1.56zM3.12 91.12h1.56v1.34h-1.56zM20.28 91.12h1.56v1.34h-1.56zM24.96 91.12h1.56v1.34h-1.56zM15.6 92.46h1.56v1.34h-1.56zM18.72 92.46h1.56v1.34h-1.56zM20.28 92.46h1.56v1.34h-1.56zM29.64 92.46h1.56v1.34h-1.56zM35.88 92.46h1.56v1.34h-1.56zM12.48 93.8h1.56v1.34h-1.56zM14.04 93.8h1.56v1.34h-1.56zM20.28 93.8h1.56v1.34h-1.56zM24.96 93.8h1.56v1.34h-1.56zM7.8 95.14h1.56v1.34h-1.56zM12.48 95.14h1.56v1.34h-1.56zM14.04 95.14h1.56v1.34h-1.56zM17.16 95.14h1.56v1.34h-1.56zM21.84 95.14h1.56v1.34h-1.56zM31.2 95.14h1.56v1.34h-1.56zM32.76 95.14h1.56v1.34h-1.56zM4.68 96.48h1.56v1.34h-1.56zM12.48 96.48h1.56v1.34h-1.56zM14.04 96.48h1.56v1.34h-1.56zM15.6 96.48h1.56v1.34h-1.56zM20.28 96.48h1.56v1.34h-1.56zM28.08 96.48h1.56v1.34h-1.56zM32.76 96.48h1.56v1.34h-1.56zM35.88 96.48h1.56v1.34h-1.56zM4.68 97.82h1.56v1.34h-1.56zM7.8 97.82h1.56v1.34h-1.56zM12.48 97.82h1.56v1.34h-1.56zM21.84 97.82h1.56v1.34h-1.56zM29.64 97.82h1.56v1.34h-1.56zM34.32 97.82h1.56v1.34h-1.56zM12.48 99.16h1.56v1.34h-1.56zM17.16 99.16h1.56v1.34h-1.56zM24.96 99.16h1.56v1.34h-1.56zM28.08 99.16h1.56v1.34h-1.56zM29.64 99.16h1.56v1.34h-1.56zM18.72 100.5h1.56v1.34h-1.56zM20.28 100.5h1.56v1.34h-1.56zM21.84 100.5h1.56v1.34h-1.56zM24.96 100.5h1.56v1.34h-1.56zM3.12 101.84h1.56v1.34h-1.56zM7.8 103.18h1.56v1.34h-1.56zM10.92 103.18h1.56v1.34h-1.56zM20.28 103.18h1.56v1.34h-1.56zM26.52 103.18h1.56v1.34h-1.56zM14.04 104.52h1.56v1.34h-1.56zM15.6 104.52h1.56v1.34h-1.56zM21.84 104.52h1.56v1.34h-1.56zM31.2 104.52h1.56v1.34h-1.56zM1.56 105.86h1.56v1.34h-1.56zM6.24 105.86h1.56v1.34h-1.56zM14.04 105.86h1.56v1.34h-1.56zM20.28 105.86h1.56v1.34h-1.56zM35.88 105.86h1.56v1.34h-1.56zM4.68 107.2h1.56v1.34h-1.56zM6.24 107.2h1.56v1.34h-1.56zM29.64 107.2h1.56v1.34h-1.56zM3.12 108.54h1.56v1.34h-1.56zM10.92 108.54h1.56v1.34h-1.56zM14.04 108.54h1.56v1.34h-1.56zM20.28 108.54h1.56v1.34h-1.56zM29.64 108.54h1.56v1.34h-1.56zM37.44 108.54h1.56v1.34h-1.56zM0 109.88h1.56v1.34h-1.56zM15.6 111.22h1.56v1.34h-1.56zM31.2 111.22h1.56v1.34h-1.56zM10.92 112.56h1.56v1.34h-1.56zM20.28 112.56h1.56v1.34h-1.56zM21.84 112.56h1.56v1.34h-1.56zM6.24 113.9h1.56v1.34h-1.56zM12.48 113.9h1.56v1.34h-1.56zM15.6 113.9h1.56v1.34h-1.56zM23.4 113.9h1.56v1.34h-1.56zM24.96 113.9h1.56v1.34h-1.56zM32.76 113.9h1.56v1.34h-1.56zM35.88 113.9h1.56v1.34h-1.56zM3.12 115.24h1.56v1.34h-1.56zM6.24 115.24h1.56v1.34h-1.56zM10.92 115.24h1.56v1.34h-1.56zM14.04 115.24h1.56v1.34h-1.56zM15.6 115.24h1.56v1.34h-1.56zM24.96 115.24h1.56v1.34h-1.56zM28.08 115.24h1.56v1.34h-1.56zM31.2 115.24h1.56v1.34h-1.56zM15.6 116.58h1.56v1.34h-1.56zM17.16 116.58h1.56v1.34h-1.56zM26.52 116.58h1.56v1.34h-1.56zM34.32 116.58h1.56v1.34h-1.56zM35.88 116.58h1.56v1.34h-1.56zM1.56 117.92h1.56v1.34h-1.56zM14.04 117.92h1.56v1.34h-1.56zM28.08 117.92h1.56v1.34h-1.56zM34.32 117.92h1.56v1.34h-1.56zM3.12 119.26h1.56v1.34h-1.56zM17.16 119.26h1.56v1.34h-1.56zM20.28 119.26h1.56v1.34h-1.56z"/>
<path fill="#da5262" d="M21.84 0h1.56v1.34h-1.56zM18.72 1.34h1.56v1.34h-1.56zM9.36 2.68h1.56v1.34h-1.56zM10.92 2.68h1.56v1.34h-1.56zM12.48 2.68h1.56v1.34h-1.56zM14.04 2.68h1.56v1.34h-1.56zM15.6 2.68h1.56v1.34h-1.56zM12.48 4.02h1.56v1.34h-1.56zM14.04 4.02h1.56v1.34h-1.56zM15.6 4.02h1.56v1.34h-1.56zM28.08 4.02h1.56v1.34h-1.56zM0 5.36h1.56v1.34h-1.56zM20.28 5.36h1.56v1.34h-1.56zM26.52 5.36h1.56v1.34h-1.56zM6.24 6.7h1.56v1.34h-1.56zM9.36 6.7h1.56v1.34h-1.56zM28.08 6.7h1.56v1.34h-1.56zM35.88 6.7h1.56v1.34h-1.56zM7.8 8.04h1.56v1.34h-1.56zM23.4 8.04h1.56v1.34h-1.56zM14.04 9.38h1.56v1.34h-1.56zM35.88 9.38h1.56v1.34h-1.56zM37.44 9.38h1.56v1.34h-1.56zM7.8 10.72h1.56v1.34h-1.56zM24.96 10.72h1.56v1.34h-1.56zM3.12 12.06h1.56v1.34h-1.56zM17.16 12.06h1.56v1.34h-1.56zM6.24 13.4h1.56v1.34h-1.56zM12.48 13.4h1.56v1.34h-1.56zM18.72 13.4h1.56v1.34h-1.56zM10.92 14.74h1.56v1.34h-1.56zM14.04 14.74h1.56v1.34h-1.56zM23.4 14.74h1.56v1.34h-1.56zM12.48 17.42h1.56v1.34h-1.56zM20.28 17.42h1.56v1.34h-1.56zM29.64 20.1h1.56v1.34h-1.56zM31.2 20.1h1.56v1.34h-1.56zM37.44 20.1h1.56v1.34h-1.56zM9.36 21.44h1.56v1.34h-1.56zM32.76 21.44h1.56v1.34h-1.56zM9.36 22.78h1.56v1.34h-1.56zM29.64 22.78h1.56v1.34h-1.56zM7.8 24.12h1.56v1.34h-1.56zM23.4 24.12h1.56v1.34h-1.56zM34.32 24.12h1.56v1.34h-1.56zM0 25.46h1.56v1.34h-1.56zM15.6 25.46h1.56v1.34h-1.56zM28.08 25.46h1.56v1.34h-1.56zM35.88 25.46h1.56v1.34h-1.56zM0 26.8h1.56v1.34h-1.56zM9.36 26.8h1.56v1.34h-1.56zM23.4 26.8h1.56v1.34h-1.56zM4.68 28.14h1.56v1.34h-1.56zM6.24 28.14h1.56v1.34h-1.56zM21.84 28.14h1.56v1.34h-1.56zM28.08 28.14h1.56v1.34h-1.56zM12.48 29.48h1.56v1.34h-1.56zM24.96 29.48h1.56v1.34h-1.56zM26.52 30.82h1.56v1.34h-1.56zM29.64 32.16h1.56v1.34h-1.56zM23.4 33.5h1.56v1.34h-1.56zM26.52 33.5h1.56v1.34h-1.56zM32.76 34.84h1.56v1.34h-1.56zM17.16 36.18h1.56v1.34h-1.56zM35.88 36.18h1.56v1.34h-1.56zM34.32 37.52h1.56v1.34h-1.56zM7.8 40.2h1.56v1.34h-1.56zM6.24 41.54h1.56v1.34h-1.56zM17.16 41.54h1.56v1.34h-1.56zM18.72 41.54h1.56v1.34h-1.56zM28.08 41.54h1.56v1.34h-1.56zM6.24 42.88h1.56v1.34h-1.56zM23.4 42.88h1.56v1.34h-1.56zM31.2 42.88h1.56v1.34h-1.56zM0 44.22h1.56v1.34h-1.56zM37.44 44.22h1.56v1.34h-1.56zM0 45.56h1.56v1.34h-1.56zM24.96 45.56h1.56v1.34h-1.56zM31.2 46.9h1.56v1.34h-1.56zM6.24 48.24h1.56v1.34h-1.56zM37.44 48.24h1.56v1.34h-1.56zM14.04 49.58h1.56v1.34h-1.56zM17.16 49.58h1.56v1.34h-1.56zM23.4 49.58h1.56v1.34h-1.56zM9.36 50.92h1.56v1.34h-1.56zM20.28 50.92h1.56v1.34h-1.56zM37.44 50.92h1.56v1.34h-1.56zM12.48 52.26h1.56v1.34h-1.56zM28.08 52.26h1.56v1.34h-1.56zM7.8 53.6h1.56v1.34h-1.56zM15.6 53.6h1.56v1.34h-1.56zM23.4 53.6h1.56v1.34h-1.56zM37.44 53.6h1.56v1.34h-1.56zM7.8 54.94h1.56v1.34h-1.56zM21.84 54.94h1.56v1.34h-1.56zM9.36 56.28h1.56v1.34h-1.56zM10.92 56.28h1.56v1.34h-1.56zM23.4 56.28h1.56v1.34h-1.56zM24.96 56.28h1.56v1.34h-1.56zM34.32 56.28h1.56v1.34h-1.56zM23.4 57.62h1.56v1.34h-1.56zM31.2 57.62h1.56v1.34h-1.56zM10.92 58.96h1.56v1.34h-1.56zM10.92 60.3h1.56v1.34h-1.56zM14.04 61.64h1.56v1.34h-1.56zM29.64 61.64h1.56v1.34h-1.56zM29.64 62.98h1.56v1.34h-1.56zM0 67h1.56v1.34h-1.56zM4.68 68.34h1.56v1.34h-1.56zM10.92 71.02h1.56v1.34h-1.56zM18.72 71.02h1.56v1.34h-1.56zM35.88 71.02h1.56v1.34h-1.56zM34.32 72.36h1.56v1.34h-1.56zM7.8 73.7h1.56v1.34h-1.56zM21.84 73.7h1.56v1.34h-1.56zM0 75.04h1.56v1.34h-1.56zM4.68 75.04h1.56v1.34h-1.56zM10.92 75.04h1.56v1.34h-1.56zM12.48 75.04h1.56v1.34h-1.56zM17.16 75.04h1.56v1.34h-1.56zM20.28 75.04h1.56v1.34h-1.56zM1.56 76.38h1.56v1.34h-1.56zM3.12 76.38h1.56v1.34h-1.56zM9.36 76.38h1.56v1.34h-1.56zM14.04 77.72h1.56v1.34h-1.56zM18.72 77.72h1.56v1.34h-1.56zM1.56 79.06h1.56v1.34h-1.56zM28.08 79.06h1.56v1.34h-1.56zM1.56 80.4h1.56v1.34h-1.56zM26.52 80.4h1.56v1.34h-1.56zM0 81.74h1.56v1.34h-1.56zM9.36 81.74h1.56v1.34h-1.56zM20.28 81.74h1.56v1.34h-1.56zM37.44 81.74h1.56v1.34h-1.56zM15.6 83.08h1.56v1.34h-1.56zM17.16 83.08h1.56v1.34h-1.56zM37.44 83.08h1.56v1.34h-1.56zM9.36 84.42h1.56v1.34h-1.56zM26.52 84.42h1.56v1.34h-1.56zM4.68 85.76h1.56v1.34h-1.56zM0 87.1h1.56v1.34h-1.56zM14.04 87.1h1.56v1.34h-1.56zM34.32 87.1h1.56v1.34h-1.56zM28.08 88.44h1.56v1.34h-1.56zM37.44 88.44h1.56v1.34h-1.56zM15.6 89.78h1.56v1.34h-1.56zM20.28 89.78h1.56v1.34h-1.56zM10.92 91.12h1.56v1.34h-1.56zM3.12 92.46h1.56v1.34h-1.56zM24.96 92.46h1.56v1.34h-1.56zM28.08 92.46h1.56v1.34h-1.56zM7.8 93.8h1.56v1.34h-1.56zM15.6 93.8h1.56v1.34h-1.56zM29.64 93.8h1.56v1.34h-1.56zM10.92 95.14h1.56v1.34h-1.56zM7.8 96.48h1.56v1.34h-1.56zM21.84 96.48h1.56v1.34h-1.56zM0 97.82h1.56v1.34h-1.56zM1.56 97.82h1.56v1.34h-1.56zM10.92 99.16h1.56v1.34h-1.56zM20.28 99.16h1.56v1.34h-1.56zM35.88 99.16h1.56v1.34h-1.56zM23.4 100.5h1.56v1.34h-1.56zM9.36 101.84h1.56v1.34h-1.56zM15.6 101.84h1.56v1.34h-1.56zM37.44 101.84h1.56v1.34h-1.56zM0 103.18h1.56v1.34h-1.56zM17.16 103.18h1.56v1.34h-1.56zM24.96 103.18h1.56v1.34h-1.56zM29.64 103.18h1.56v1.34h-1.56zM37.44 103.18h1.56v1.34h-1.56zM3.12 104.52h1.56v1.34h-1.56zM17.16 104.52h1.56v1.34h-1.56zM23.4 104.52h1.56v1.34h-1.56zM29.64 104.52h1.56v1.34h-1.56zM37.44 104.52h1.56v1.34h-1.56zM23.4 105.86h1.56v1.34h-1.56zM32.76 105.86h1.56v1.34h-1.56zM1.56 107.2h1.56v1.34h-1.56zM15.6 107.2h1.56v1.34h-1.56zM34.32 107.2h1.56v1.34h-1.56zM9.36 108.54h1.56v1.34h-1.56zM15.6 108.54h1.56v1.34h-1.56zM26.52 108.54h1.56v1.34h-1.56zM7.8 109.88h1.56v1.34h-1.56zM14.04 109.88h1.56v1.34h-1.56zM15.6 109.88h1.56v1.34h-1.56zM29.64 109.88h1.56v1.34h-1.56zM37.44 109.88h1.56v1.34h-1.56zM4.68 111.22h1.56v1.34h-1.56zM20.28 111.22h1.56v1.34h-1.56zM35.88 111.22h1.56v1.34h-1.56zM3.12 112.56h1.56v1.34h-1.56zM6.24 112.56h1.56v1.34h-1.56zM9.36 112.56h1.56v1.34h-1.56zM26.52 112.56h1.56v1.34h-1.56zM4.68 113.9h1.56v1.34h-1.56zM14.04 113.9h1.56v1.34h-1.56zM0 115.24h1.56v1.34h-1.56zM12.48 115.24h1.56v1.34h-1.56zM37.44 115.24h1.56v1.34h-1.56zM28.08 116.58h1.56v1.34h-1.56zM10.92 117.92h1.56v1.34h-1.56zM24.96 117.92h1.56v1.34h-1.56zM32.76 117.92h1.56v1.34h-1.56zM6.24 119.26h1.56v1.34h-1.56zM18.72 119.26h1.56v1.34h-1.56zM21.84 119.26h1.56v1.34h-1.56z"/>
</pattern>
<linearGradient id="cb" x1="0" x2="1" y1="0" y2="0"><stop offset="0" stop-color="#ffffff"/><stop offset="0.2" stop-color="#fbd9dd"/><stop offset="0.45" stop-color="#f4a5ae"/><stop offset="0.7" stop-color="#ee6a78"/><stop offset="1" stop-color="#e4142e"/></linearGradient>
<filter id="soft" x="0" y="0" width="1" height="1"><feGaussianBlur stdDeviation="0.35"/></filter>
</defs>
<rect x="315.4" y="402.4" width="39" height="120.8" fill="url(#h1)" filter="url(#soft)"/>
<rect x="315.4" y="402.4" width="39" height="120.8" fill="none" stroke="#3a3a3a" stroke-width="0.9"/>
<rect x="358.5" y="402.4" width="39" height="120.8" fill="url(#h2)" filter="url(#soft)"/>
<rect x="358.5" y="402.4" width="39" height="120.8" fill="none" stroke="#3a3a3a" stroke-width="0.9"/>
<rect x="408" y="402.4" width="38.4" height="120.8" fill="url(#h3)" filter="url(#soft)"/>
<rect x="408" y="402.4" width="38.4" height="120.8" fill="none" stroke="#3a3a3a" stroke-width="0.9"/>
<rect x="449.8" y="402.4" width="39" height="120.8" fill="url(#h4)" filter="url(#soft)"/>
<rect x="449.8" y="402.4" width="39" height="120.8" fill="none" stroke="#3a3a3a" stroke-width="0.9"/>
<text x="334.5" y="531.3" font-size="7.8" text-anchor="middle" stroke="#1a1a1a" stroke-width="0.2">NA-seq</text>
<text x="331.9" y="540.7" font-size="7.8" text-anchor="middle" stroke="#1a1a1a" stroke-width="0.2">(First)</text>
<text x="378.2" y="531.3" font-size="7.8" text-anchor="middle" stroke="#1a1a1a" stroke-width="0.2">NA-seq</text>
<text x="379" y="540.7" font-size="7.8" text-anchor="middle" stroke="#1a1a1a" stroke-width="0.2">(Replicate)</text>
<text x="425.5" y="531.3" font-size="7.8" text-anchor="middle" stroke="#1a1a1a" stroke-width="0.2">NA-seq</text>
<text x="422.9" y="540.7" font-size="7.8" text-anchor="middle" stroke="#1a1a1a" stroke-width="0.2">(First)</text>
<text x="469.7" y="531.3" font-size="7.8" text-anchor="middle" stroke="#1a1a1a" stroke-width="0.2">NA-seq</text>
<text x="470.8" y="540.7" font-size="7.8" text-anchor="middle" stroke="#1a1a1a" stroke-width="0.2">(Replicate)</text>
<text x="369.2" y="549.2" font-size="7.8" stroke="#1a1a1a" stroke-width="0.2">-5kb</text>
<line x1="386.5" y1="546.5" x2="398.5" y2="546.5" stroke="#222" stroke-width="0.7"/>
<path d="M386.3,546.5 L389.2,544.8 M386.3,546.5 L389.2,548.2" stroke="#222" stroke-width="0.7" fill="none"/>
<text x="400.2" y="549.2" font-size="7.8" stroke="#1a1a1a" stroke-width="0.2">0</text>
<line x1="406.2" y1="546.5" x2="418.5" y2="546.5" stroke="#222" stroke-width="0.7"/>
<path d="M418.7,546.5 L415.8,544.8 M418.7,546.5 L415.8,548.2" stroke="#222" stroke-width="0.7" fill="none"/>
<text x="420.3" y="549.2" font-size="7.8" stroke="#1a1a1a" stroke-width="0.2">5kb</text>
<rect x="350.5" y="550.3" width="126.4" height="8" fill="url(#cb)"/>
<rect x="344.5" y="551.2" width="1.2" height="6.8" fill="#444"/>
<text x="345.6" y="567.8" font-size="7.8" text-anchor="middle" stroke="#1a1a1a" stroke-width="0.2">0</text>
<text x="373.8" y="567.8" font-size="7.8" text-anchor="middle" stroke="#1a1a1a" stroke-width="0.2">0.5</text>
<text x="402.7" y="567.8" font-size="7.8" text-anchor="middle" stroke="#1a1a1a" stroke-width="0.2">1</text>
<text x="432" y="567.8" font-size="7.8" text-anchor="middle" stroke="#1a1a1a" stroke-width="0.2">1.5</text>
<text x="458.5" y="567.8" font-size="7.8" text-anchor="middle" stroke="#1a1a1a" stroke-width="0.2">2</text>
</svg>
</body></html>
